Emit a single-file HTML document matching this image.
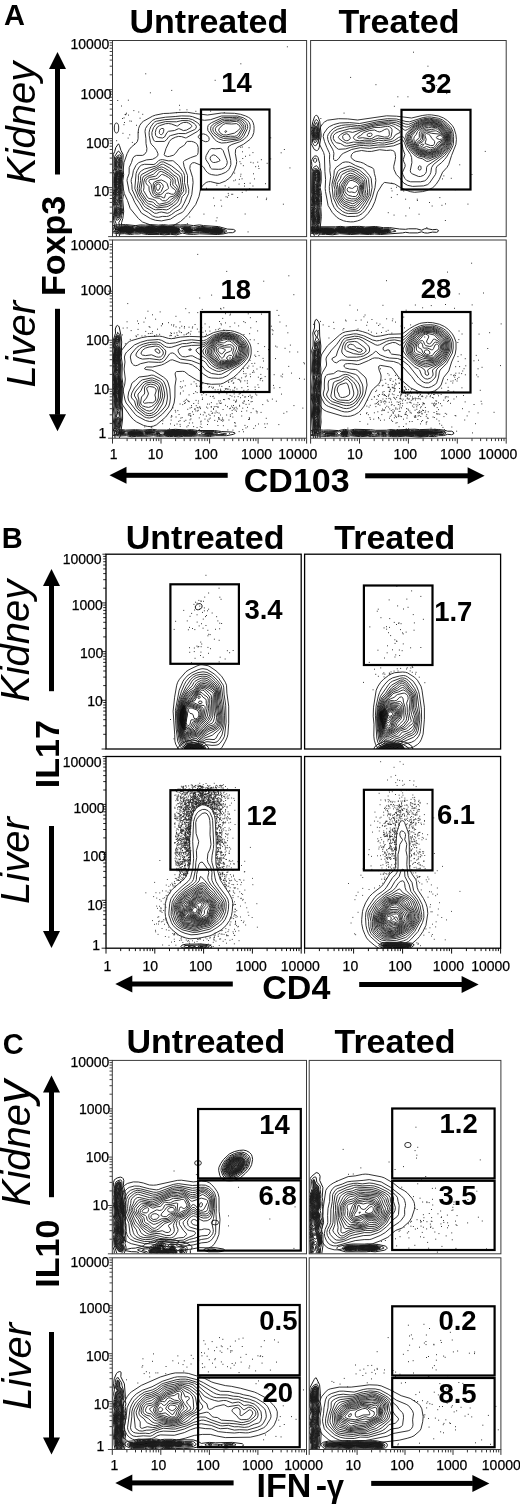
<!DOCTYPE html><html><head><meta charset="utf-8"><title>Figure</title><style>html,body{margin:0;padding:0;background:#fff}svg{display:block}text{font-family:'Liberation Sans', Arial, Helvetica, sans-serif;fill:#000}</style></head><body>
<svg width="520" height="1505" viewBox="0 0 520 1505">
<rect width="520" height="1505" fill="#fff"/>
<defs>
<clipPath id="cA00"><rect x="112.5" y="40.5" width="194.1" height="196.1"/></clipPath>
<clipPath id="cA01"><rect x="310.6" y="40.5" width="195.6" height="196.1"/></clipPath>
<clipPath id="cA10"><rect x="112.5" y="240" width="194.1" height="198.2"/></clipPath>
<clipPath id="cA11"><rect x="310.6" y="240" width="195.6" height="198.2"/></clipPath>
<clipPath id="cB00"><rect x="106" y="554.2" width="195.2" height="194.8"/></clipPath>
<clipPath id="cB01"><rect x="304.6" y="554.2" width="196" height="194.8"/></clipPath>
<clipPath id="cB10"><rect x="106" y="756.5" width="195.2" height="191.7"/></clipPath>
<clipPath id="cB11"><rect x="304.6" y="756.5" width="196" height="191.7"/></clipPath>
<clipPath id="cC00"><rect x="112.3" y="1060.4" width="194.2" height="193.4"/></clipPath>
<clipPath id="cC01"><rect x="309.2" y="1060.4" width="191.7" height="193.4"/></clipPath>
<clipPath id="cC10"><rect x="112.3" y="1257.8" width="194.2" height="191.7"/></clipPath>
<clipPath id="cC11"><rect x="309.2" y="1257.8" width="191.7" height="191.7"/></clipPath>
</defs>
<text x="3.9" y="24.6" font-size="29" font-weight="bold" font-style="normal" text-anchor="start">A</text>
<text x="129.5" y="32.8" font-size="34" font-weight="bold" font-style="normal" text-anchor="start">Untreated</text>
<text x="338.5" y="32.8" font-size="34" font-weight="bold" font-style="normal" text-anchor="start">Treated</text>
<text transform="translate(35.3 184) rotate(-90)" font-size="40" font-weight="normal" font-style="italic" text-anchor="start">Kidney</text>
<text transform="translate(35.3 387.6) rotate(-90)" font-size="40" font-weight="normal" font-style="italic" text-anchor="start">Liver</text>
<text transform="translate(65.4 296) rotate(-90)" font-size="34" font-weight="bold" font-style="normal" text-anchor="start">Foxp3</text>
<path d="M57.5 52L49 69L66 69Z" fill="#000"/>
<rect x="55" y="68.5" width="5" height="106" fill="#000"/>
<path d="M57.5 431.3L49 414.3L66 414.3Z" fill="#000"/>
<rect x="55" y="308.8" width="5" height="106" fill="#000"/>
<text x="243.8" y="492.3" font-size="34" font-weight="bold" font-style="normal" text-anchor="start">CD103</text>
<path d="M109.5 475.3L126.5 466.8L126.5 483.8Z" fill="#000"/>
<rect x="126" y="472.8" width="101.7" height="5" fill="#000"/>
<path d="M484.6 475.8L467.6 467.3L467.6 484.3Z" fill="#000"/>
<rect x="365.2" y="473.3" width="102.9" height="5" fill="#000"/>
<text x="109.4" y="49" font-size="14" font-weight="normal" font-style="normal" text-anchor="end" stroke="#000" stroke-width="0.25">10000</text>
<text x="111.6" y="98.5" font-size="14" font-weight="normal" font-style="normal" text-anchor="end" stroke="#000" stroke-width="0.25">1000</text>
<text x="109.4" y="147.5" font-size="14" font-weight="normal" font-style="normal" text-anchor="end" stroke="#000" stroke-width="0.25">100</text>
<text x="109.4" y="196" font-size="14" font-weight="normal" font-style="normal" text-anchor="end" stroke="#000" stroke-width="0.25">10</text>
<text x="109.4" y="249.5" font-size="14" font-weight="normal" font-style="normal" text-anchor="end" stroke="#000" stroke-width="0.25">10000</text>
<text x="111.6" y="295" font-size="14" font-weight="normal" font-style="normal" text-anchor="end" stroke="#000" stroke-width="0.25">1000</text>
<text x="109.4" y="345" font-size="14" font-weight="normal" font-style="normal" text-anchor="end" stroke="#000" stroke-width="0.25">100</text>
<text x="109.4" y="394" font-size="14" font-weight="normal" font-style="normal" text-anchor="end" stroke="#000" stroke-width="0.25">10</text>
<text x="106.4" y="438" font-size="14" font-weight="normal" font-style="normal" text-anchor="end" stroke="#000" stroke-width="0.25">1</text>
<text x="113.6" y="458.5" font-size="14" font-weight="normal" font-style="normal" text-anchor="middle" stroke="#000" stroke-width="0.25">1</text>
<text x="155.6" y="458.5" font-size="14" font-weight="normal" font-style="normal" text-anchor="middle" stroke="#000" stroke-width="0.25">10</text>
<text x="206" y="458.5" font-size="14" font-weight="normal" font-style="normal" text-anchor="middle" stroke="#000" stroke-width="0.25">100</text>
<text x="256.5" y="458.5" font-size="14" font-weight="normal" font-style="normal" text-anchor="middle" stroke="#000" stroke-width="0.25">1000</text>
<text x="297.8" y="458.5" font-size="14" font-weight="normal" font-style="normal" text-anchor="middle" stroke="#000" stroke-width="0.25">10000</text>
<text x="354.9" y="458.5" font-size="14" font-weight="normal" font-style="normal" text-anchor="middle" stroke="#000" stroke-width="0.25">10</text>
<text x="405.3" y="458.5" font-size="14" font-weight="normal" font-style="normal" text-anchor="middle" stroke="#000" stroke-width="0.25">100</text>
<text x="455.5" y="458.5" font-size="14" font-weight="normal" font-style="normal" text-anchor="middle" stroke="#000" stroke-width="0.25">1000</text>
<text x="497.8" y="458.5" font-size="14" font-weight="normal" font-style="normal" text-anchor="middle" stroke="#000" stroke-width="0.25">10000</text>
<path d="M112.5 236.6h-4.4M112.5 221.8h-2.8M112.5 213.2h-2.8M112.5 207.1h-2.8M112.5 202.4h-2.8M112.5 198.5h-2.8M112.5 195.2h-2.8M112.5 192.3h-2.8M112.5 189.8h-2.8M112.5 187.6h-4.4M112.5 172.8h-2.8M112.5 164.2h-2.8M112.5 158.1h-2.8M112.5 153.4h-2.8M112.5 149.5h-2.8M112.5 146.2h-2.8M112.5 143.3h-2.8M112.5 140.8h-2.8M112.5 138.6h-4.4M112.5 123.8h-2.8M112.5 115.2h-2.8M112.5 109.1h-2.8M112.5 104.4h-2.8M112.5 100.5h-2.8M112.5 97.2h-2.8M112.5 94.3h-2.8M112.5 91.8h-2.8M112.5 89.6h-4.4M112.5 74.8h-2.8M112.5 66.2h-2.8M112.5 60.1h-2.8M112.5 55.4h-2.8M112.5 51.5h-2.8M112.5 48.2h-2.8M112.5 45.3h-2.8M112.5 42.8h-2.8M112.5 40.5h-3.6" stroke="#333" stroke-width="0.9" fill="none"/>
<path d="M112.5 438.2h-4.4M112.5 423.4h-2.8M112.5 414.8h-2.8M112.5 408.7h-2.8M112.5 404h-2.8M112.5 400.1h-2.8M112.5 396.8h-2.8M112.5 393.9h-2.8M112.5 391.4h-2.8M112.5 389.2h-4.4M112.5 374.4h-2.8M112.5 365.8h-2.8M112.5 359.7h-2.8M112.5 355h-2.8M112.5 351.1h-2.8M112.5 347.8h-2.8M112.5 344.9h-2.8M112.5 342.4h-2.8M112.5 340.2h-4.4M112.5 325.4h-2.8M112.5 316.8h-2.8M112.5 310.7h-2.8M112.5 306h-2.8M112.5 302.1h-2.8M112.5 298.8h-2.8M112.5 295.9h-2.8M112.5 293.4h-2.8M112.5 291.2h-4.4M112.5 276.4h-2.8M112.5 267.8h-2.8M112.5 261.7h-2.8M112.5 257h-2.8M112.5 253.1h-2.8M112.5 249.8h-2.8M112.5 246.9h-2.8M112.5 244.4h-2.8M112.5 240h-3.6" stroke="#333" stroke-width="0.9" fill="none"/>
<path d="M112.5 438.2v5.4M127.1 438.2v2.9M135.7 438.2v2.9M141.7 438.2v2.9M146.4 438.2v2.9M150.3 438.2v2.9M153.5 438.2v2.9M156.3 438.2v2.9M158.8 438.2v2.9M161 438.2v5.4M175.6 438.2v2.9M184.2 438.2v2.9M190.2 438.2v2.9M194.9 438.2v2.9M198.8 438.2v2.9M202 438.2v2.9M204.8 438.2v2.9M207.3 438.2v2.9M209.6 438.2v5.4M224.2 438.2v2.9M232.7 438.2v2.9M238.8 438.2v2.9M243.5 438.2v2.9M247.3 438.2v2.9M250.6 438.2v2.9M253.4 438.2v2.9M255.9 438.2v2.9M258.1 438.2v5.4M272.7 438.2v2.9M281.2 438.2v2.9M287.3 438.2v2.9M292 438.2v2.9M295.8 438.2v2.9M299.1 438.2v2.9M301.9 438.2v2.9M304.4 438.2v2.9M306.6 438.2v5.4" stroke="#333" stroke-width="1.0" fill="none"/>
<path d="M310.6 438.2v5.4M325.3 438.2v2.9M333.9 438.2v2.9M340 438.2v2.9M344.8 438.2v2.9M348.7 438.2v2.9M351.9 438.2v2.9M354.8 438.2v2.9M357.3 438.2v2.9M359.5 438.2v5.4M374.2 438.2v2.9M382.8 438.2v2.9M388.9 438.2v2.9M393.7 438.2v2.9M397.6 438.2v2.9M400.8 438.2v2.9M403.7 438.2v2.9M406.2 438.2v2.9M408.4 438.2v5.4M423.1 438.2v2.9M431.7 438.2v2.9M437.8 438.2v2.9M442.6 438.2v2.9M446.5 438.2v2.9M449.7 438.2v2.9M452.6 438.2v2.9M455.1 438.2v2.9M457.3 438.2v5.4M472 438.2v2.9M480.6 438.2v2.9M486.7 438.2v2.9M491.5 438.2v2.9M495.4 438.2v2.9M498.6 438.2v2.9M501.5 438.2v2.9M504 438.2v2.9M506.2 438.2v5.4" stroke="#333" stroke-width="1.0" fill="none"/>
<g clip-path="url(#cA00)">
<path d="M177.9 112.5l9.6 -0.2 8 1.3 12 1.4 14 -2 13 0.3 6 1 5 1.6 3 1.5 2 1.3 1.5 1.8 1.1 2 0.8 3 0.2 3 -0.3 4 -1.4 4 -2.5 3 -6.4 4.8 -6.3 3.2 -1.6 2 -0.3 4 1.4 8 -0.3 3 -2 6 -2.8 5 -2.1 2.6 -4 2.9 -6 2.4 -2 0 -7 -1.8 -2 0.1 -2.4 0.8 -3.6 3.2 -1.8 2.8 -1.7 8 -3.3 8 -7.7 10 -2.5 2.6 -5 4.4 -8 4.6 -3 0.7 -7 0.6 -3 -0.2 -7 -1.6 -10 -3.6 -4 -3.4 -8.3 -10.1 -2.7 -8 -3.2 -7 -2.4 -12 -0.2 -3 1.2 -6 1.1 -10 3.2 -9 2.1 -4 2.2 -2.6 4.2 -3.4 1.7 -2 0.7 -3 0 -6 0.5 -4 1.1 -3 2.2 -3 1.6 -1.3 9 -5 3 -1.1 8 -1.6 6 -0.2zM175.2 116.5l6.3 -0.6 8 0.2 3 0.6 8 3 4 0.6 6 -0.6 11 -3.7 16 0 6 1.9 4.1 2.6 1.6 2 0.8 2 0.2 2 -0.3 3 -1.7 5 -1.4 2 -2.9 3 -4.4 2.4 -7.7 2.6 -3.3 2 -0.4 2 2.6 12 0.2 4 -1 3 -1.1 2 -1.3 1.5 -2 1.4 -4 1.7 -4 1.1 -2 0 -4 -0.6 -2 -0.7 -2.1 -1.4 -1.8 -2 -2.1 -3.4 -2 -1.6 -7 -2.9 -2 0.3 -1 0.6 -1.3 2 -0.4 3 2.8 9 0.5 5 -1.3 12 -2.7 8 -1.2 2 -3.8 6 -1.6 1.8 -5 2.3 -7 4.5 -9 1.8 -6 -0.6 -5 -1.7 -9 -5.5 -6.7 -10.6 -2.6 -6 -3 -5 -2.2 -11 0.3 -2 1.8 -5 0.1 -6 2.3 -5 1.2 -4 1.4 -2 2.4 -1.1 6 0 2 -1 2.1 -2.9 0.3 -3 -0.9 -5 -0.1 -5 -0.9 -7 0.5 -3 1.9 -3 4.9 -5 3.2 -1.7 10 -1.6zM200.5 134.3l-1.7 1.2 -0.5 1 0.1 1 1.1 1.2 4 2.3 2 0.7 2 -0.2 1.4 -1 0.3 -1 -0.3 -2 -1.6 -2 -1.8 -1 -2 -0.6zM232.4 117.5l4.1 -0.2 4 1 3.8 2.2 2.6 3 0.8 3 -0.2 2 -3.9 8 -1.8 2 -2.3 1.4 -13 2.8 -5 0.3 -3 -0.9 -2 -1.1 -2 -1.7 -6.6 -8.8 -0.3 -3 0.6 -2 1.3 -1.5 2 -1.3 10 -4.7 2 -0.4zM180.3 118.5l8.2 0.1 4 1 4.7 2.9 2.2 2 1.1 2 -0.1 2 -3.1 3 -10.8 6.2 -1 0.2 -4 -1.3 -3 -0.2 -3 0.8 -4 1.9 -2.1 2.4 -3.4 7 -1.8 6 0.4 1 2.9 1.1 2 -0.2 4 -1.2 1.9 -1.7 3.7 -5 4.6 -3 1.2 -1 1.6 -2.6 1 -0.5 4 0 2 0.5 2 1 1.8 1.6 0.9 3 -0.1 5 -0.5 2 -1.1 1.1 -6 2.1 -5.9 2.8 -1 1 -0.2 1 0.7 4 3.4 9 0 8 1.3 6 -0.2 4 -4.6 10 -2.2 4 -1.3 1.5 -5 2.5 -4 3 -3 1.6 -2 0.4 -4 -0.1 -4 0.9 -3 -0.2 -3 -1.3 -4 -3.2 -5 -2.9 -4 -6.6 -3.3 -4.6 -4.1 -9 -0.3 -5 -0.6 -3 0.1 -2 1.2 -3.6 0.9 -5.4 2.5 -5 2.6 -2.8 8 -2.8 6 -0.6 3.3 -1.8 2.2 -2 -0.1 -2 -1.3 -3 -2.1 -3 -3 -3.1 -1 -1.8 -1.3 -7.1 -0.1 -3 0.6 -3 1.3 -3 2.5 -3.5 1 -0.9 2 -0.9 8 -1.5zM211.5 148.5l4 0.3 5 -0.4 1.8 1.1 0.8 1 3.8 10 0.4 2 -0.8 3 -2 2.2 -3 1.4 -3 0.2 -6 -0.2 -1 -0.3 -1 -0.9 -1.4 -3.4 -3.2 -5 -0.2 -2 0.5 -2 2.8 -5 1.5 -1.6zM222.1 119.5l2.4 -0.5 5 0.2 7 -0.6 3.2 0.9 3 2 2.4 3 0.6 3 -0.6 2 -3.2 6 -1.4 1.9 -2 1.2 -2 0.6 -13 1.3 -5 -1.8 -5 -4.1 -1.8 -2.1 -0.9 -2 -0.2 -2 0.5 -2 1.4 -1.7 1.9 -1.3zM182.1 120.5l6.4 0.2 2.3 0.8 3.3 2 1.4 1.3 0.9 1.7 -0.5 2 -1.1 1 -9.3 4.1 -7 -0.1 -8 2.1 -1.5 0.9 -2.5 3.3 -2 1.6 -9 0.1 -1 -0.4 -1 -1.2 -1.5 -4.4 -0.1 -3 1.6 -4.8 2.4 -3.2 1.6 -0.9 8 -2 11 0.2zM211.8 155.5l1.7 -0.6 2 0.6 3.3 3 1.3 2 -1.6 1 -3 0.9 -2 0.1 -1 -0.4 -1.8 -1.6 -0.6 -2 0.4 -1.5zM158.7 160.5l1.8 -0.7 2 -0.2 6 1.3 4 -0.2 1 0.4 5.1 4.4 4.9 6.9 1.1 3.1 -0.1 7 1.6 7 -0.2 3 -0.5 1 -3 3 -0.8 2 -0.8 4 -2.1 3 -5.2 3.6 -3.9 3.4 -2.1 0.8 -6 -1.3 -2 0.3 -3 1 -2 -0.1 -5 -3.6 -4 -2.2 -1.8 -1.9 -2.4 -4 -3 -4 -3.5 -9 1.3 -15 1.1 -3 2.3 -3.9 2 -1.5 3 -0.8 9.3 0.2 1.7 -0.8zM224.6 120.5l4.9 0.1 7 -0.7 3 1.1 2.8 2.5 1.6 3 -0.2 2 -4.8 8 -1.4 0.9 -2 0.4 -12 0.6 -4 -1.5 -5.5 -4.4 -0.6 -1 -0.6 -2 0.4 -2 0.6 -1 2.7 -2.3 6 -3.2zM183.3 122.5l3.2 -0.1 2 0.6 2.3 1.5 0.8 1 0.1 1 -0.7 1 -4.5 2.6 -3 0.5 -4 -1.8 -1 -0.1 -4 1.8 -6 0.8 -1.5 1.2 -2.5 4.5 -2 1 -4.1 -0.5 -1.9 -1 -0.8 -1 -0.4 -3 0.7 -3 1.5 -2.6 2 -1.2 6 -2 3 -0.2 3 0.5 5 1.9 1 0.1 3.3 -2.5zM160.1 162.5l1.4 -0.6 2 0 8 3.9 9 7.1 1.1 1.6 0.6 2 0.3 6 1.2 7 -0.2 2 -3 4 -2.6 6 -1.5 2 -7.9 5.7 -2 0.7 -4 -0.5 -7 0.4 -2 -0.6 -7 -4 -1.7 -1.7 -4.8 -7 -1.8 -4 -1 -4 1.2 -8 0 -5 1.2 -3 1.9 -1.7 3 -1.8 11 -2.8 1.3 -0.7zM234 121.5l2.5 -0.1 2 0.8 2.5 2.3 1.1 2 0.1 1 -0.8 2 -3.3 5 -1.6 1.3 -2 0.5 -4 -0.1 -5 0.5 -3 -0.3 -3.5 -1.9 -2.3 -2 -1.2 -1.7 -0.1 -2.3 1.1 -1.9 6 -3.8 2 -0.8 6 0zM161.4 128.5l1.9 0 0.5 1 -0.2 2 -0.7 2 -1.4 1.1 -1 -0.1 -1 -1 -0.2 -1 0.2 -2 1 -1.5zM161.1 164.5l1.4 -0.3 1 0.2 6 3.5 5.4 4.6 4.3 3 0.9 2 1.7 12 -0.9 3 -4.4 7.3 -3.5 3.7 -4.5 2.6 -2 0.7 -9 1.1 -2 -0.6 -4 -2.7 -3 -0.8 -2 -1.3 -5.8 -8 -1.1 -3 -0.5 -3 1.5 -8 0 -4 0.9 -1.9 7.6 -4.1 7.4 -3zM223.2 124.5l2.3 -0.9 6 0.4 5 -0.4 3 1.9 0.8 2 -0.4 1 -1.4 1.7 -4 2.9 -8 1.9 -3 -0.1 -2.8 -1.4 -2 -3 0.4 -2zM159.5 167.5l2 -0.6 2 0.6 5.2 3 4.4 4 4.2 3 2.9 12 -0.8 3 -2.9 4.6 -5.4 5.4 -3.6 1.9 -9 1.8 -2.1 -0.7 -2.9 -3 -1 -0.5 -4 -0.7 -2 -1.4 -4.9 -7.4 -0.7 -3 1.7 -11 0.7 -2zM224.8 131.5l0.7 -0.6 1 0.1 0.2 0.5 -1.2 1zM159.2 169.5l2.3 -0.4 2 0.9 5 3.1 5.5 4.4 1.2 2 0.1 4 2.6 4 0.8 3 -1 3 -2.2 2.9 -4.4 3.1 -2.1 2 -2.5 1.2 -7 1.5 -1.7 -0.7 -2.3 -3 -3 -1.2 -3.5 -0.8 -1.4 -1 -4.1 -7 0.5 -3 -0.3 -5 1.1 -4 2.5 -2 6.2 -2.3 3.9 -3.7zM160.1 171.5l1.4 -0.1 3 1.4 4 2.5 3.9 3.2 0.7 2 -0.4 4 0.8 1.4 3 2.7 0.8 1.9 -0.4 2 -1.4 2.2 -2 1.4 -4 1 -2 2.5 -2 1.2 -3 -0.1 -3 -2.4 -5 -0.7 -2.1 -1.1 -1.4 -2 -1.8 -4 -0.3 -4 -2.4 -2.5 -0.7 -1.5 0.2 -2 1.4 -2 2.1 -1.1 6 -1.2 1.2 -0.7 2 -3zM161.5 174.5l1 -0.1 3 1.3 3 1.8 2 1.7 0.5 1.3 -0.6 3 0.1 2 1.4 2 2.8 2 0.8 1 0.2 1 -1 2 -1.2 0.7 -2 0 -3 -1.1 -2 0.2 -1 1.2 -1 3.3 -1 0 -3 -1.4 -4 -0.2 -2.1 -0.7 -1 -1 -1.1 -3 -1.2 -7 -2.3 -3 0.1 -1 1.2 -1 5.4 -0.6 2 -0.7zM157.9 180.5l3.6 -0.5 4 1.9 1.5 1.6 1.4 4 0 1 -0.9 0.9 -3 1.6 -2 2.6 -2 1 -3 0.2 -2 -0.6 -1.2 -1.7 -0.8 -3 -0.4 -4 0.4 -2.4 1 -1.2zM157.1 182.5l1.4 -0.3 2 0.3 2.2 2 0.7 2 -2.2 5 -0.9 1 -1.8 0.7 -1 0 -1.3 -0.7 -0.7 -1.1 -1 -3.9 0.2 -3 0.8 -1.1zM156.6 184.5l1.9 -0.6 1.2 0.6 0.6 1 -0.2 2 -1.6 2.9 -1 0 -1.2 -1.9 -0.5 -2z" fill="none" stroke="#1c1c1c" stroke-width="0.9"/>
<path d="M117.8 156.5l1.7 -0.3 0.3 0.3 0.8 7 -1.2 6 1.8 3 0.7 2 -1.3 10 0.3 3 -0.4 3 0 4 -0.7 5 0.9 5 -0.1 3 1.2 4 -1.9 4 -0.5 2 -0.9 1.1 -1 0.3 -1 -1.4 -1 -4 -0.3 -3 0.6 -4 -1.4 -3 -0.5 -3 1.2 -4 -0.7 -5 1 -3 -0.7 -5 0.2 -7 1.6 -6 -1.2 -4 -0.2 -5 0.6 -3 0.8 -1.3z" fill="#000" fill-opacity="0.5" stroke="none"/>
<path d="M112.5 190.9l0.7 -3.4 -0.5 -4 0.2 -8 0.7 -4 -0.6 -3 -0.2 -7 0.5 -7 1.4 -3 1.1 -4 2.7 -3.7 1 1.8 1.5 4.9 2.1 4 0.1 1 -0.4 5 0.3 10 0.6 4 -0.9 6 0.3 6 -0.4 5 0.5 4 -0.5 4 1 12 -0.9 7 -1.2 4 -0.2 3 -1 4 -0.1 3 -1.2 4M116.5 236.5l-0.6 -6 -1.2 -3 -1.1 -7 -0.1 -5 -1 -10.4M117.8 151.5l0.7 -0.5 3 3.3 0.4 1.2 -0.4 4 0.4 4 -0.6 6 1.4 5 -0.9 6 0.2 7 -0.4 4 0.3 3 -0.6 5 0.7 5 0 3 0.8 4 -1.3 4 -0.4 3 -2.3 4 0.6 3 -0.3 1 -0.6 0.9 -1 0.4 -1.2 -1.3 -0.2 -3 -1.2 -3 -0.7 -13 -1.2 -5 -0.2 -2 1 -4 -0.4 -5 1 -4 -0.6 -4 0.2 -7 1.1 -5 -0.9 -4 -0.1 -7 0.6 -4zM117.9 155.5l1.6 -0.7 1 0.4 0.3 1.3 -0.3 3 0.6 4 -1 6 2 5 -0.8 5 -0.3 15 -0.7 5 0.9 5 -0.1 3 1 4 -1.7 4 -0.7 3 -2.2 1.6 -1 0.1 -1.6 -7.7 0.2 -6 -1.4 -4 -0.1 -2 1.1 -5 -0.7 -3 1 -4 -0.6 -5 0.2 -7 1.4 -5 -1 -4 -0.2 -7 0.8 -3zM117 157.5l1.5 -0.5 0.7 0.5 1.1 6 -1.5 6 2.2 3 0.7 2 -1.4 10 0.4 3 -0.5 7 -0.8 5 1 5 -0.2 3 1.4 4 -2.9 6 -1.2 0.3 -1.5 -3.3 -0.6 -3 0.1 -2.1 1 -2.9 -0.3 -1 -1.5 -2 -0.5 -2 0.1 -2 1.1 -3 -0.7 -5 1 -3 -0.9 -5 0.3 -7 1.8 -6 -1.4 -4 -0.1 -5 0.7 -3zM117.5 158.5l1 0.8 1.1 4.2 -0.7 3 -1.4 1.5 -1 -0.7 -0.5 -2.8 0.5 -5zM117.4 171.5l1.1 -0.6 1 0.6 1 1.1 0.8 1.9 -1.5 10 0.3 3 -0.4 6 -1.1 5 0.9 5 -0.2 1 -0.8 0.5 -2 -0.7 -1 -0.8 -0.7 -2 0.3 -2 1 -3 -1 -4 1.1 -4 -1 -5 0.3 -7zM116.5 208.5l1 -0.8 1 -0.1 1 0.6 1.4 2.3 -0.1 2 -2.3 2.8 -1 0 -1.2 -1.8 -0.4 -3zM117.4 161.5l1.1 0.9 0.2 1.1 -0.2 2 -1 1.1 -0.8 -1.1 -0.1 -1zM117.4 172.5l1.1 -0.8 1 0.3 1 1.2 0.4 1.3 -0.9 7 -0.8 3 0.3 3 -0.4 3 0 3 -0.6 1.6 -1 1.1 -1 -1.2 -0.9 -2.5 1.2 -4 -1.1 -5 0.1 -6 0.4 -2zM116.2 199.5l0.3 -0.5 1 0.9 0.7 2.6 -0.7 0.9 -1 -0.3 -1 -1.6zM116.8 209.5l0.7 -0.7 1 0 1 0.6 0.8 1.1 0.3 1 -0.4 1 -1.7 1.6 -1 -0.1 -1 -1.5 -0.1 -2zM118.2 172.5l0.3 -0.2 1 0.3 1.1 1.9 -0.9 7 -1.1 3 -0.1 4.4 -1 -0.5 -1.4 -4.9 -0.2 -2 0.7 -6 0.9 -2.3zM117.5 189.5l0 -0.6 0.7 1.6 0.4 2 -0.1 1 -1 1 -1 -0.9 -0.3 -1.1 0.3 -1.5zM117.1 210.5l0.4 -0.7 1 -0.1 1 0.6 0.4 1.2 -0.4 1 -1 0.6 -1 -0.2 -0.5 -1.4zM117.8 173.5l0.7 -0.7 1 0.3 0.7 1.4 -0.9 7 -1.8 3.5 -1 -1.5 -0.3 -3 0.8 -5zM117.2 192.5l0.3 -0.6 0 1zM118 211.5l0.5 -0.6 0.4 0.6 -0.4 0.4zM118.3 173.5l1.2 0.1 0.3 1.9 -0.7 2 -0.2 4 -1.4 1.8 -0.6 -0.8 -0.4 -2 0.9 -5zM118.2 174.5l0.3 -0.5 1 0.5 -1 2.8 -0.5 -1.8zM117.5 178.5l1 -0.5 0.2 2.5 -0.2 1 -1 0.8 -0.5 -1.8z" fill="none" stroke="#1c1c1c" stroke-width="1.0"/>
<path d="M125.6 226.5l4.9 0.6 4 1.5 6 -1.5 4 0.4 5 -1 6 1 3 -0.2 4 -1 5 0.7 6 -0.1 3 0.4 3.5 1.2 0.3 1 -1.8 2.6 -2 1 -6 -0.7 -5 0.5 -8 -0.6 -9 0.8 -6 -1.3 -5 0.1 -3 -0.5 -5 1.5 -4 -0.9 -5 0 -6.1 -2.5 0.3 -1 0.8 -0.4 2 0.2 3 -1.1zM182.1 227.5l2.4 -0.4 4 0.1 5 2.2 4 -1.4 3 -0.5 11 1.3 6 -0.8 4.2 1.5 1.7 1 0.3 1 -2.3 1 -3.9 0.7 -8 -1 -5 0 -5 -1.1 -6 0.1 -3 1 -3 0.2 -2 -0.7 -2 -1.7 -2.9 -1.5z" fill="#000" fill-opacity="0.9" stroke="none"/>
<path d="M112.5 225.8l4 -0.9 9 -0.3 10 1 5 -0.7 5 0.2 5 -0.5 8 0.5 5 -0.4 5 0.5 7 -0.5 5 0.3 6 -0.3 7 0.9 6 -0.7 4 0.7 15 1 9 2.5 6 0.3 1.8 1.1 -0.2 1 -2.6 1.2 -4 0 -5 1.2 -6 0.6 -18 -0.7 -6 0.6 -6 -0.2 -5 -1.2 -6 1.9 -6 -0.6 -6 0.5 -5 -0.4 -12 0.1 -6 -0.9 -3 0.4 -4 -0.1 -4 0.6 -6 -0.8 -5 0.2 -7 -1.2M112.5 227.5l3 -1.1 11 -0.8 9 1.4 5 -1 5 0.3 5 -0.7 7 0.7 5 -0.7 5 0.6 8 -0.3 4 0.4 7 -0.5 7 1.5 7 -1 11 1.2 6 -0.3 8 2.8 0.8 0.5 0.1 1 -2.9 1.5 -6 0.9 -18 -1.3 -12 0.7 -5 -1.8 -1 0 -4 2.3 -2 0.2 -5 -0.7 -5 0.6 -6 -0.5 -11 0.4 -7 -1.2 -4 0.4 -3 -0.3 -5 0.9 -5 -0.8 -5 0 -7 -1.7M123.8 226.5l3.7 -0.3 7 1.8 6 -1.3 4 0.4 6 -0.9 7 0.9 5 -1.1 5 0.7 8 0 4 0.8 4 -0.8 4 0 6 1.9 4 -1.1 3 -0.4 11 1.3 6 -0.7 2 0.5 4.8 2.3 0.2 1 -1.9 1 -5.1 0.9 -8 -0.9 -5 0 -5 -0.9 -11 1.2 -2 -0.3 -3 -1.8 -2 -0.5 -1 0.4 -2 1.9 -2 0.9 -6 -0.7 -5 0.5 -8 -0.5 -9 0.6 -6 -1.2 -5 0.1 -3 -0.3 -5 1.2 -4 -0.9 -6 -0.1 -5 -1.5 -1.4 -1.1 0.4 -1 2 -1.1 3 0zM120.3 227.5l7.2 -0.8 3 0.6 4 1.9 6 -1.9 4 0.5 6 -1.1 6 1.2 6 -1.4 5 0.7 5 -0.1 3 0.3 2.9 1.1 0.9 1 -0.1 1 -0.7 1.2 -1 0.9 -2 0.4 -5 -0.9 -5 0.6 -8 -0.7 -9 0.9 -6 -1.3 -5 0.1 -3 -0.9 -3 1.5 -2 0.4 -4 -0.9 -4 0.1 -2 -0.5 -1.5 -0.9 -0.5 -0.8 -1 -0.2 1 -0.2zM184.3 227.5l3.2 -0.1 2 0.3 1.6 0.8 1.9 2 -1.2 1 -2.3 0.7 -3 -0.2 -4 -3.5zM197.1 228.5l4.4 -0.6 10 1.1 6 -0.9 3.8 1.4 1.6 1 0.2 1 -2.4 1 -3.2 0.5 -8 -1 -5 0 -4 -1.2 -4 0.1 -1.6 -0.4 0.3 -1zM123.5 227.5l3 -0.5 4 0.7 2.5 1.8 0 1 -1.5 1.3 -2 0.5 -4 -1 -5 0 -1.2 -0.8 -0.3 -1 0.7 -1 1.8 -0.8zM147.5 227.5l3 -0.4 6 2 6 -2.3 5 0.8 6 0 3.3 0.9 1.3 1 0.3 1 -0.9 1.5 -2 0.6 -5 -1 -5 0.7 -9 -1.4 -3 1.1 -5 0.5 -5 -1.4 -5 0.1 -1.9 -0.7 0 -1 2.9 -1.5 5 0.4zM186.2 228.5l1.3 -0.4 2 0.3 1.6 1.1 0.2 1 -1.8 1.2 -2.8 -0.2 -1 -1 -0.1 -1zM200.9 229.5l1.6 -0.7 9 1 6 -1.3 3.1 1 1.3 1 0 1 -2.4 1 -2 0.2 -8 -1.3 -4 0.2 -2 -0.5zM126.1 227.5l4.4 0.7 1.6 1.3 0 1 -1 1 -1.6 0.4 -4 -1 -4 0.1 -1 -0.3 -0.7 -1.2 0.8 -1zM161.2 227.5l2.3 -0.3 4 0.8 6 0.2 3 0.9 1.1 1.4 -0.3 1 -1.8 0.6 -5 -1.1 -4 0.8 -2 -0.2 -5 -1.3 -0.5 -0.8 0.7 -1zM140 228.5l3.3 1 -2 1 -3.3 0 -0.3 -1zM146 228.5l2.5 -0.9 3 0.1 2.9 1.8 0.3 1 -1.2 1 -1 0.3 -3 0.4 -2 -0.2 -3.6 -1.5 -0.2 -1zM186.9 229.5l1.6 -0.7 1 0.3 0.5 0.4 0.3 1 -1.8 0.8 -1 -0.2 -0.8 -0.6zM214.7 229.5l1.8 -0.6 2 0 2.7 1.6 -0.2 1 -2.5 0.9 -2 -0.2 -4.2 -1.7zM204.2 230.5l0.3 -0.4 2 -0.3 1.9 0.7 -1.9 0.4zM162.4 227.5l5.1 1 4 0 3 0.5 1.4 0.5 0.9 1 -0.5 1 -0.8 0.2 -5 -1.3 -4 0.9 -2 -0.1 -2.5 -0.7 -1.6 -1 0.2 -1zM122.1 228.5l4.4 -0.6 3 0.3 1.9 1.3 0 1 -0.9 0.8 -1 0.3 -5 -1.3 -3 0.3 -1 -1.1zM147.1 228.5l2.4 -0.6 2 0.2 1.9 1.4 0.2 1 -2.1 1.1 -2 0.3 -2 -0.2 -2 -1.2 0.1 -1zM139.1 229.5l1.6 0 -1.2 0.3zM215.9 229.5l2.6 -0.3 2.1 1.3 -0.3 1 -2.8 0.6 -1.8 -0.6 -0.9 -1zM126 228.5l3.5 0.1 1.2 0.9 0.1 1 -1.3 0.7 -5 -1.7 -2 0.3 -1 -0.2 1 -0.4 2 0.3zM148.1 228.5l1.4 -0.3 1.9 0.3 1.3 1 0.1 1 -2.2 1 -2.4 0 -1.7 -1 0.1 -1zM161.4 228.5l2.1 -0.7 4.9 1.7 -1.9 1.3 -2 -0.1 -3 -1.2zM217.2 229.5l1.3 0 1.5 1 -0.5 1 -1 0.3 -1.9 -0.3 -0.8 -1zM174.1 230.5l0.4 -0.3 1.1 0.3zM162.2 228.5l2.3 -0.1 2.1 1.1 -1.1 0.7 -1 0 -2.1 -0.7zM126.6 229.5l0.9 -0.5 2 0.2 0.5 0.3 -0.1 1 -1.4 0.1zM147.4 229.5l1.1 -0.7 2 -0.2 1.6 0.9 0 1 -1.6 0.7 -2 0 -1.2 -0.7zM216.6 230.5l0.9 -0.5 2 0.5 -1 0.9 -1 0zM148.2 229.5l2.3 -0.4 0.9 0.4 -0.1 1 -1.8 0.4 -1 -0.2 -0.3 -0.2zM164.2 229.5l0.5 0zM218 230.5l0.6 0z" fill="none" stroke="#1c1c1c" stroke-width="1.0"/>
<path d="M149.9 92.8h.9M179 105.3h.9M122.1 118.5h.9M125.2 114.7h.9M126.1 113.2h.9M137.9 132.5h.9M128 115.1h.9M131.9 142.4h.9M122.5 133.3h.9M117.3 100.5h.9M134 144h.9M123.5 124.7h.9M125.5 114.2h.9M123.6 117.9h.9M127.7 138.1h.9M139.6 118.2h.9M124.7 114.5h.9M124 122.5h.9M129.3 134.8h.9M179.4 109.9h.9M176.2 112.7h.9M138.3 112h.9M129.4 121h.9M116.2 140.7h.9M136.1 125.3h.9M127.9 100.2h.9M186.5 109.8h.9M142.3 114.3h.9M133.4 110.6h.9M130.9 121.2h.9M237.2 197.5h.9M265 183.7h.9M250.4 162.3h.9M242.3 158.5h.9M228.2 195.3h.9M240.3 147.3h.9M228.4 187.3h.9M215.7 220.9h.9M289.5 167.9h.9M216.7 183.3h.9M239.5 161.7h.9M242.9 165.7h.9M227.8 193.4h.9M241.9 147h.9M241.8 192.4h.9M235 180h.9M253.1 173.8h.9M257.3 162.2h.9M266.7 163.3h.9M249.3 155.2h.9M216.4 185.2h.9M240.5 174.2h.9M260.9 159.7h.9M252.8 162.9h.9M240.5 163.7h.9M224.7 185.9h.9M231.3 194.3h.9M238.9 179.4h.9M252.5 186h.9M270.3 158.9h.9M258.5 168.5h.9M258.1 166.2h.9M282.9 204.2h.9M244.1 186.1h.9M240.2 176.2h.9M233.4 180.8h.9M280.7 152.8h.9M238.6 184.1h.9M249.7 183.2h.9M234.2 173.1h.9M254 178.9h.9M242 151.8h.9M227.1 197.2h.9M241.6 178.8h.9M244.1 183.5h.9M252.5 152.6h.9M206.1 188.3h.9M245.7 190.8h.9M248.6 147.7h.9M245.1 156.3h.9M249.3 188.6h.9M216.6 217.8h.9M122.9 195.3h.9M213.2 198h.9M189.3 217h.9M232.3 194.3h.9M225.6 196.8h.9M221.2 206.1h.9M203.5 214.1h.9M135.2 225.7h.9M116.1 202.4h.9M186.9 223.6h.9M247.6 231.9h.9M266.2 198.2h.9M244.7 214h.9M265.9 199.6h.9M214 205.8h.9M257.1 197h.9M220.5 200.2h.9M286.9 46.8h.9M214.7 80.3h.9M210.2 111.1h.9M195.4 111.3h.9M171.3 90.4h.9M121.1 106h.9M255.2 166.7h.9M283.9 149.5h.9M240.4 63.8h.9M223.8 112.6h.9M145.3 73.8h.9M270.3 137.8h.9" fill="none" stroke="#222" stroke-width="1.0"/>
</g>
<ellipse cx="116.5" cy="128" rx="2.2" ry="5" fill="none" stroke="#000" stroke-width="0.8"/>
<rect x="201" y="109.5" width="68.5" height="80" fill="none" stroke="#000" stroke-width="2.2"/>
<text x="236.5" y="92.2" font-size="27.5" font-weight="bold" font-style="normal" text-anchor="middle">14</text>
<g clip-path="url(#cA01)">
<path d="M422.2 115.5l5.4 -0.7 4 0.1 7 1.1 5 2 4 2.7 4.7 4.8 1.8 3 1.8 6 0.5 5 -0.5 5 -4.3 10.9 -2.9 9.1 -1.8 3 -4.3 4.7 -3.3 7.3 -3.3 5 -3.4 3.3 -6 2.8 -4 1 -8 0.7 -4 -0.6 -3 -1 -7.2 -3.2 -5.8 -3.6 -10 -1.5 -2 1.6 -5 8.1 -2.7 9.4 -2.7 6 -4.2 6 -4.4 4.5 -3 1.8 -3 1.1 -4 0.9 -3 0.1 -4 -0.4 -3 -0.7 -4 -1.7 -3 -2 -4.3 -4.6 -4.2 -7 -2.6 -14 -0.3 -3 0.4 -9 -0.7 -8 -0.5 -16 -0.8 -3 -4.5 -9 -0.5 -3 0.2 -6 0.5 -4 1.5 -4 1.8 -2.7 2 -1.9 3 -1.7 11 -1.5 9 0.2 10 1.1 29 -4.2 10 0.4 15 1.8zM423.3 117.5l4.3 -0.6 4 0.2 7 1.2 4 1.6 5 3.9 3.5 3.7 1.8 4 0.7 5 -0.1 7 -0.5 2 -1.9 4 -4.5 7.4 -2 2.5 -2.9 3.1 -4.9 4 -0.7 2 -0.1 4 -0.6 2 -5.8 8.4 -2 1.7 -4 1.3 -11 0.5 -5 -1.1 -4 -2.3 -4 -5.2 -3.3 -3.3 -2.3 -5 -0.3 -3 1.6 -7 0.3 -3 -0.7 -4 -0.6 -1 -1.6 -1 -2.1 -0.4 -4 0.4 -7 -0.8 -8 1.7 -4 0 -6 -0.9 -5.4 1 -2.7 1 -1.9 2 -0.5 2 0.2 1 1.3 1.8 3 1.8 5 1.1 3 1.1 4 2.5 5 2.1 1.2 1.6 0.6 4 1.1 4 0.3 3 -0.8 7 -2.7 10 -3.9 8 -3.3 5 -2.9 3 -3.6 2.2 -3 0.7 -8 0.1 -6 -2.1 -5 -3.6 -2.5 -3.3 -2.2 -5 -2.5 -12 -0.1 -4 1.4 -10 -0.9 -6 0.3 -4 -0.6 -7 0.2 -5 -0.5 -2 -2.4 -5 -2.3 -6 -1.3 -5 0.6 -3 3.8 -5.4 2.1 -1.6 3.9 -1.9 6 -1.6 10 -0.4 10 0.9 18 -3.5 10 -1.3 9 0.3 9.4 2.5 3.6 0.3zM425 118.5l4.6 -0.3 8 1.3 3 0.9 3 1.9 5 4.4 2.1 2.8 1.2 4 0.4 6 -0.2 3 -0.7 3 -2.6 5 -4.2 5.1 -11.1 8.9 -1.9 3 -0.8 5 -0.8 2 -3.4 5 -2 1.4 -4 0.9 -10 0 -3.8 -1.3 -1.9 -2 -2.1 -4 -0.4 -2 2.7 -6 0 -2 -1.5 -3.2 -0.3 -1.8 1.6 -5 -1.9 -5 -0.8 -5 -0.6 -1 -1 -0.3 -7 2.6 -8 1.1 -7 0.2 -9 1.3 -9 -0.8 -8.9 1.9 -8.1 3.7 -2 1.3 -3 4.2 -2 1.7 -2 0.1 -0.9 -1 -0.2 -2 0.4 -4 -0.4 -2 -0.9 -2.3 -3.8 -6.7 -1 -3 -0.3 -3 0.7 -2 2.4 -3.4 3 -2.6 3 -1.7 5 -1.4 4 -0.5 6 -0.1 6 0.8 3 -0.1 16 -3.6 12 -1.5 8 0.5 9 3.2 3 0.3 11 -4.5zM342.7 162.5l2.9 -0.6 3 0.2 2 0.7 5 2.8 7 2.7 2 1.5 4.9 5.7 1.7 3 0.9 9 -1.7 9 -4.4 8 -3.4 5 -2 2.1 -3 1.6 -9 0.4 -3 -0.7 -3 -1.4 -5 -4.3 -4.4 -9.7 -1.3 -13 2 -9 0.4 -5 1.8 -3zM425.1 119.5l4.5 -0.3 8 1.3 3 1 2 1.4 6 5.4 1.5 2.2 0.8 4 0.2 7 -1.4 5 -3.1 4.9 -4 3.7 -14.9 10.4 -1.1 1.9 -0.2 4.1 -0.8 1.9 -2 1.9 -3 1.2 -2 0 -6 -2.5 -1 -0.5 -1 -1.3 -0.3 -1.7 1.6 -8 -0.3 -5 -1.1 -3 -4 -6 -2.1 -6 -1.8 -2.6 -2 -0.4 -7 3.6 -9 1.8 -7 0.1 -8 1 -6 -0.5 -4 0.1 -9 1.8 -5 1.5 -7 0.4 -2 -1.2 -3.1 -3.6 -1.8 -3 -1 -3 0 -2 0.7 -2 1.2 -1.8 2 -1.8 3 -1.7 7 -1.9 6 -0.8 6 0.7 4 -0.1 16 -3.9 12 -1.4 8 1 8 3.8 2 0.5 2 -0.5 11 -5.6zM347.9 166.5l1.7 -0.3 2 0.4 8 3.5 7 6.1 1.1 1.3 0.9 2 0.9 9 -0.5 7 -4.1 7 -4.3 6 -2 1.9 -2 0.7 -6 0 -3 -0.3 -2 -0.8 -4 -2.6 -2.7 -2.9 -3.7 -7 -0.5 -2 0.3 -6 -1.1 -4 0 -3 3.7 -10.8 1 -1.3 2 -1.3zM424.4 120.5l3.2 -0.4 3 0.1 7 1.2 2.9 1.1 7.9 7 1.1 2 0.6 3 0.2 5 -0.3 3 -1.4 4 -2 3.3 -3 3 -6 4.1 -9 4.4 -2 0.1 -4 -2.6 -5 -1.3 -4 -3 -2.8 -3 -2.8 -4 -3.4 -8.6 -1 -1.7 -1 -0.5 -2 0.1 -2 0.7 -4 2.8 -2 0.9 -8 1.7 -2 0.2 -4 -0.5 -7 1.3 -6 -0.2 -9 0.4 -10 2 -2 -0.2 -4 -2.3 -4 -0.9 -2 -1.6 -1.3 -2.6 0.2 -3 2.1 -2.3 3 -1.4 11 -3.1 9 0.1 6 -1.1 11 -3.1 13 -1.5 3 0.4 4 1.2 4 1.9 5 3.5 1 0.2 2 -0.8 8 -5.6 5 -2.3zM418.6 166.5l1 -0.7 1 0.3 0.3 0.4 0.2 2 -0.5 1.3 -1 0.3 -1 -0.6 -0.4 -1zM347.1 169.5l3.5 -0.8 6 2.1 7.6 5.7 2.1 3 1.3 13 -0.3 3 -1.6 3 -3 4 -5.1 5.9 -2 0.9 -3 0.1 -4 -0.7 -6 -3.1 -2.1 -2.1 -3.4 -6 -0.7 -2 0.5 -6 -1.4 -5 0.3 -3 3.8 -8.3 2 -1.5zM423.6 121.5l3 -0.6 3 0 8 1.3 2 0.7 7.7 6.6 1.3 2 0.6 2 0.3 5 -0.4 4 -1.5 4 -2 3 -3 2.7 -6 3.8 -8 3.1 -2 -0.3 -3 -1.6 -5 -1.2 -3 -1.8 -3 -2.6 -2.4 -3.1 -2.3 -4 -2.1 -7 0 -2 0.6 -2 5.6 -6 4.6 -3.1 4 -1.9zM378.2 125.5l9.4 -0.9 2 0.2 4.1 1.7 5.7 4 0.6 1 0 1 -4.4 2.2 -2.7 3.8 -2.3 1.2 -7 1.1 -5 -0.6 -7 1.8 -6 -0.1 -6 0.6 -6 -0.5 -5 1.1 -2 0.1 -3.8 -1.7 -3.8 -3 -0.6 -1 0.3 -1 1.9 -2 4 -2.2 4 -0.7 4 0.8 19 -5.7zM347.7 171.5l2.9 -0.7 2 0.4 2.8 1.3 8.2 5.9 0.8 1.1 0.5 2 0.2 8 0.8 4 -0.2 2 -1.1 2 -2.2 3 -5.8 6 -2 1.1 -2 0.2 -3 -0.6 -7 -3.7 -3.9 -6 -0.8 -2 0.4 -6 -1 -5 0.3 -2 2.8 -4 0.9 -3 0.7 -1zM422.9 122.5l5.7 -0.9 10 1.7 2 1.2 6 5.5 1.2 1.5 0.6 2 0.5 5 -0.3 3 -1.5 4 -1.8 3 -2.7 2.5 -6 3.8 -3 1.4 -4 1.1 -2 0.1 -8 -2.3 -4 -2.2 -2.7 -2.4 -1.5 -2 -2.8 -5 -1.3 -4 -0.2 -3 0.5 -2 1.3 -2 3.5 -4 3.2 -2.5zM385.3 126.5l2.3 -0.2 2 0.5 1.1 0.7 1.3 2 0 2 -0.9 5 -0.7 1 -1.8 0.9 -4 0.5 -6 -0.8 -7 2.2 -7 -0.1 -5 0.7 -4 -0.8 -2 -1.6 -0.2 -1 1.3 -2 6.2 -4 13.3 -4 6.4 -0.1zM344 134.5l2.6 -0.8 2 0.8 1.6 3 0 1 -0.7 1 -1.5 1 -1.4 0.2 -1.2 -0.2 -1.7 -1 -0.7 -1 -0.4 -2 0.4 -1zM349 173.5l1.6 -0.3 3 0.8 7 4.2 2 1.6 1.1 2.7 -0.2 7 0.7 4 -0.2 2 -1 2 -2.4 2.8 -5 4.5 -2 1.1 -3 -0.3 -7 -3.4 -3.3 -4.7 -1.1 -3 0.2 -9 0.4 -2 5.8 -8zM426.2 122.5l3.4 -0.1 8 1.3 2 0.9 7.3 6.9 0.8 2 0.5 3 0 3 -0.7 3 -1.9 4 -2 2.5 -3 2.4 -5 2.9 -4 1.4 -3 0.6 -9 -2.1 -4.3 -2.7 -2.1 -2 -1.3 -2 -3 -6 -0.8 -3 0.1 -2 0.7 -2 4.8 -6 1.9 -1.5 5 -2.7zM384.7 129.5l1.9 -0.6 1 0.2 1.4 1.4 0.4 4 -0.8 1.8 -1 0.6 -3 0.2 -7 -1.5 -2 0.6 -3.8 2.3 -2.2 0.3 -7 -1.1 -4 0.5 -1.1 -0.7 0.8 -1 2.3 -1 3.3 -3 5.7 -2 5 -0.5 3 1.5 2 0.4 2 -0.6zM349.9 175.5l1.7 0 2 0.6 6.3 3.4 2 2 0.8 3 -0.4 6 0.3 4 -0.6 2 -3.4 3.8 -4 2.8 -2 0.6 -7 -2.3 -1.4 -0.9 -2.6 -3.5 -1 -3.1 0.2 -6.4 0.7 -3 5.1 -7.2 2 -1.4zM425.2 123.5l4.4 -0.4 9 1.7 2 1.5 5.4 5.2 1.1 2 0.4 2 0.2 3 -0.5 3 -1.6 3.2 -2 3 -3.2 2.8 -3.8 2.3 -3 1.4 -4 1 -2 0 -7 -1.5 -2 -0.8 -2.2 -1.4 -2.1 -2 -1.4 -2 -3.2 -7 -0.6 -2 0.1 -2 0.8 -2 4.6 -5.6 6 -3.6zM368.4 133.5l2.2 -0.4 1 0.3 0.5 1.1 -0.3 1 -1.4 1 -2.1 0 -1.2 -1 0 -1zM349 177.5l1.6 -0.5 2 0.3 4.8 2.2 2.8 2 1.4 3 -0.5 10 -0.7 2 -2.8 3 -4 1.7 -4 -0.5 -4 -1.4 -2.4 -2.8 -1.2 -3 0 -5 1.2 -4 3.4 -5zM424.6 124.5l4 -0.7 5 1 3 0.2 2 0.6 6.5 5.9 1.3 2 0.6 2 0.2 3 -0.6 2.8 -4 6.1 -3 2.7 -3 1.9 -6 2.2 -3 0.2 -6 -1.2 -2 -0.6 -2 -1.1 -2.3 -2 -1.5 -2 -3.5 -9 0.4 -3 4.8 -6 6.1 -3.7zM348.4 179.5l2.2 -1 3.9 1 4.1 2.4 1.8 2.6 0.2 3 -1.3 8 -1.5 2 -2.2 1.3 -4 0.1 -4 -1 -2 -1.6 -2 -3.1 -0.4 -2.7 0.7 -4 1.7 -3.4zM424.5 125.5l4.1 -0.8 4 0.8 5 0.5 2 1.2 5 4.8 1.1 1.5 0.7 2 0.3 3 -0.4 2 -3.7 5.5 -4.8 4.5 -6.2 2.7 -3 0.4 -7 -1.1 -2 -0.6 -2 -1.2 -2.2 -2.2 -1.2 -2 -2.5 -8 -0.1 -1.4 0.7 -1.6 3.9 -5 2.8 -2zM350.1 180.5l2.3 0 3.2 1.3 2.4 1.7 1.3 2 0.1 3 -1.4 5 -1 2 -1.4 1 -3 0 -4 -1.1 -2 -1.4 -1.6 -2.5 -0.2 -2 0.8 -3 3 -5zM424.9 126.5l3.7 -0.7 4 0.7 5 0.3 1.2 0.7 5.3 5 1.7 3 0.4 2 -0.2 2 -0.9 2 -1.5 1.9 -5.7 6.1 -2.3 1.4 -4 1.5 -4 0.3 -8 -1.5 -3.4 -2.7 -1.5 -3 -0.9 -7 0.6 -2 1.8 -2 1.3 -3 0.9 -1zM354.9 186.5l1.7 -0.6 1 0.7 0.2 0.9 -0.2 2 -1 1.8 -1 1 -1 0.3 -3 -0.6 -2 0.2 -2 -0.9 -0.5 -1.8 0.5 -1.2 1 -0.8 3 0.9 1 0zM426.1 127.5l2.5 -0.2 3 0.5 4 -0.4 2 0.4 6 5.2 1.2 1.5 0.7 2 0.1 2.1 -1 2.4 -6.7 7.5 -3.2 2 -4.1 1.4 -2 0.1 -8.8 -1.5 -2.6 -2 -1.7 -3 -0.2 -2 0.4 -2 0.9 -1.6 2 -1.3 0.7 -1.1 0 -4 0.6 -2 2.7 -2.4zM424.5 129.5l2.1 -0.5 5 0.6 4 -0.9 2 0.5 6.4 5.3 1.1 3 -0.5 2.3 -8 8.6 -4 2 -3 0.7 -4 -0.7 -4 -0.2 -2 -0.6 -1.5 -1.1 -1.4 -2 -0.3 -3 1.2 -1.9 3.1 -2.1 0.5 -2 -0.2 -3 0.3 -2 1.3 -1.8zM423.7 131.5l0.9 -0.6 2 -0.4 4 0.9 5 -0.6 1 0.2 6.4 3.5 1.3 2 0.1 2 -1.2 2 -4 3 -2.6 3.4 -2 1.6 -4 1.3 -2 -0.2 -2 -0.7 -4 0.4 -2 -0.2 -2.3 -1.6 -0.7 -1 -0.3 -2 0.3 -1 4 -2.7 0.9 -1.3 -0.1 -6zM424.5 132.5l2.1 -0.6 5 1.4 9 0.9 2.3 1.3 0.7 1.2 0 1.8 -1 1.4 -5 2.6 -2 3.4 -2 1.6 -3 0.4 -4 -1.5 -4 1.7 -2 -0.1 -1.9 -1.5 -0.2 -2 1 -1 3.1 -1.7 1.2 -1.3 0.3 -2 -0.6 -4zM426.5 133.5l2.1 0.7 1.6 1.3 1.7 3 2.3 2 0.4 1 -0.1 2 -0.4 1 -1.1 1 -2.4 0.1 -5.6 -2.1 1.2 -4 -1.2 -4 0.1 -1 0.5 -0.7zM439.3 135.5l1.4 0 1.6 1 0.4 1 -0.4 1 -0.7 0.6 -2 0.4 -2.7 -1 -0.5 -1 0.6 -1zM421 144.5l1.6 -0.4 1.2 0.4 -0.6 1 -1.6 1.1 -1 -0.3 -0.4 -0.8z" fill="none" stroke="#1c1c1c" stroke-width="0.9"/>
<path d="M314.6 126.5l1 -0.9 1 -0.1 1 1.3 0.4 4.7 1 3 -0.5 3 -2.9 3.1 -1 -0.1 -0.5 -1 -1.6 -6 0.6 -4zM314.9 169.5l0.7 -0.2 2 0.6 1.4 1.6 0.5 7 -1.4 9 1.1 5 -0.4 6 0.3 4 -0.9 5 1.2 11 -0.3 2 -1.4 4 0.1 6 -1.2 1.4 -2 -1.4 -1.2 -2 0.3 -3 -1.2 -7 -0.3 -7 1.6 -5 -1.5 -8 0.9 -4 -0.3 -3 0.3 -19 0.5 -2z" fill="#000" fill-opacity="0.5" stroke="none"/>
<path d="M310.6 130.2l1.3 -3.7 1 -5 1.7 -4.9 1 -1.1 1 -0.1 1.4 1.1 1.8 5 1.4 14 -2 12 -0.8 2 -0.8 0.8 -1 0.3 -2.3 -1.1 -3.2 -6 0 -5 -0.5 -4.6M310.6 197.6l0.7 -4.1 -0.5 -22 1.1 -6 -0.4 -4 0.5 -2 1.6 -2.7 1 -0.7 2 -0.2 1.4 1.6 1.7 6 0.2 4 1.2 4 0.1 10 -1.1 6 1.1 5 0.2 3 0.1 7 -0.7 5 0.5 9 -1.6 17 -0.9 2 -1.1 1M310.6 210.4l1.1 -3.9 -1.1 -7.3M315.2 236.5l-0.9 -1 -0.8 -2 -2.3 -4 0.1 -4 -0.7 -4.7M315.2 120.5l0.4 -0.6 1 -0.3 1.6 1.9 1.9 14 -0.5 2.6 -2.6 6.4 -1.4 1.1 -1 -0.1 -1 -0.8 -1 -2.1 -0.2 -4.1 -0.9 -6 0.4 -3zM314.3 158.5l1.3 -0.4 1.1 1.4 -0.1 1.6 -1 1.2 -1 0 -1 -1 0.1 -1.8zM314.6 166.5l2 -0.7 1 0.9 2.1 3.8 0.4 2 0.2 8 -1.2 7 1.2 6 0 9 -0.8 5 0.6 4 0.1 7 -1.1 6 -0.3 7 -0.9 2 -1.3 0.4 -1 -0.5 -3.2 -3.9 0.1 -4 -1 -7 0.1 -4 -0.3 -3 1.4 -5 -1.2 -8 0.9 -4 -0.4 -3 0 -20 0.9 -3zM316.3 122.5l0.4 0 1.6 5 0.1 4 1 4 -1.1 3 -2.7 4 -1 0.1 -1 -2.4 -1.3 -5.7 -0.1 -3 1.3 -4zM315.5 168.5l2.1 0.8 1.7 2.2 0.5 7 -1.4 9 1.1 6 -0.3 5 0.3 4 -0.8 5 0.9 11 -0.2 2 -1.2 4 0 6 -0.6 1.6 -1 0.4 -2.5 -2 -1.1 -2 0.2 -3 -1.1 -7 -0.2 -7 1.5 -5 -1.4 -8 0.9 -4 -0.2 -3 0.1 -19 0.8 -2.9 1 -0.9zM315.2 126.5l0.4 -0.4 1 0.1 0.9 1.3 0.2 4 1.1 4 -0.6 2 -2.6 2.4 -1 -0.3 -0.6 -1.1 -1.3 -5 0.6 -4 0.9 -2zM314.3 170.5l1.3 -0.7 1 0.1 2 1.3 0.5 1.3 -0.2 3 0.5 3 -0.2 2 -0.9 3 -0.4 4 1 5 -0.4 5 0.3 5 -0.9 5 1.3 11 -0.3 2 -1.6 4 0.4 5 -0.3 1 -0.8 0.9 -2 -1.3 -1 -1.6 0.4 -3 -1.4 -8 -0.1 -6 1.6 -5 -1.6 -8 0.9 -3 -0.4 -4 0.4 -18 0.3 -2zM315.1 127.5l0.5 -0.4 1 0.4 0.4 1 0 3 1.3 3 0 1 -0.8 2 -1.9 1.3 -1 -0.5 -0.4 -0.8 -1 -4 0.7 -4zM314.5 171.5l1.1 -0.8 1 -0.1 1.5 0.9 0.5 1 -0.2 3 0.6 3 -0.2 2 -0.9 2 -0.4 2 -0.1 4 1 4 -0.6 4 0.4 6 -1.2 4 0.4 5 1.1 4 0.3 3 -0.8 3 -2.2 4 1.1 3 -0.3 1.5 -1 -0.1 -1.2 -1.4 0.2 -1.7 0.7 -1.3 -1.4 -3 -0.8 -5 -0.1 -6 1.9 -5 -2 -7 1 -4 -0.5 -4 0.1 -6 0.7 -9 -0.2 -3zM315.2 128.5l0.4 -0.3 0.4 0.3 0.2 3 1.4 2.5 0.3 1.5 -1.2 2 -1.1 0.5 -1.4 -1.5 -0.6 -3 1 -4.1zM315.4 171.5l1.2 -0.3 1 0.4 0.6 0.9 -0.2 3 0.7 3 -0.4 2 -1.4 2 -0.2 1 0.1 5 1.2 4 -1 4 0.5 2 0.2 3 -1.1 3.4 -1 0.4 -1.6 -2.8 -0.8 -3 1.2 -4 -0.6 -4 0.4 -3 -0.2 -3 0.7 -4 0.2 -5 -0.4 -3 0.2 -1zM315.4 208.5l0.2 -0.3 0.6 1.3 0.5 3 1.4 3 0.3 2 -0.4 3 -1.4 2.3 -1 0.6 -1.1 -0.9 -1 -6 0.1 -5.8 1 -1.7zM314.5 132.5l0.1 -0.3 1 -0.1 1.7 2.4 0.1 1 -0.8 1.4 -1 0.4 -1 -1 -0.5 -1.8zM315.3 172.5l1.3 -0.7 1 0.5 0.3 1.2 -0.5 2 0.9 4 -0.7 1.4 -1 0.5 -1 -0.6 -0.3 -1.3 0.4 -3 -0.7 -3zM315.1 184.5l0.5 -0.3 0.5 1.3 -0.1 3 1.5 4 -0.9 2.4 -0.8 0.6 0.1 1 1.2 2 0.1 3 -0.6 1.9 -1 0.6 -1 -1.1 -1.1 -3.4 0.1 -1 1 -1.7 0.6 -0.3 0.2 -1 -0.8 -1.3 -0.5 -2.7 0.7 -3 -0.3 -3zM314.4 211.5l0.2 -0.9 0.6 0.9 2.3 4 0.5 2 -0.4 3.1 -1 1.3 -1 0.5 -1 -1.8 -0.6 -3.1zM314.9 133.5l0.7 -0.3 1.2 1.3 -0.2 1.6 -1 0.5 -1 -1.7zM316.2 172.5l0.7 0 0.6 1 -0.9 1.7 -1.1 -1.7zM316.3 177.5l0.3 -0.5 1 0.7 0.3 0.8 -0.3 1.5 -1 0.4 -0.7 -0.9zM314.9 190.5l0.7 -0.6 1 1.1 0.4 1.5 -0.4 1.3 -1 0.6 -1.1 -1.9zM315 197.5l0.6 -0.3 1 1.1 0.4 1.2 -0.4 2.7 -1 0.9 -1 -0.9 -0.8 -2.7 0.2 -1zM315.1 214.5l0.5 -0.3 1 0.8 1 2.5 -0.1 2 -0.4 1 -0.5 0.7 -1 0.2 -1.1 -3.9 0 -2zM315.5 134.5l0.3 0 -0.2 1.1zM315.2 191.5l0.4 -0.5 0.9 1.5 -0.9 1.1 -0.6 -1.1zM314.4 198.5l1.2 -0.5 1 1.5 0 1.1 -1 1.7 -1 -0.8 -0.4 -1zM315.3 216.5l0.3 -0.9 1.1 0.9 0.4 2 -0.5 1.7 -1 -0.2zM314.5 199.5l1.1 -0.9 0.5 0.9 0 1 -0.5 1 -1 -0.9z" fill="none" stroke="#1c1c1c" stroke-width="1.0"/>
<path d="M326.5 228.5l8.1 0.7 6 -1.5 5 1.1 5 -1 5 0.7 5 -0.6 4 0.8 10 -0.9 3 0.4 5 1.7 6 -0.1 1.6 0.7 -0.5 1 -2.1 0.8 -7 0.6 -6 -0.9 -4 0.9 -4 0.4 -6 -0.9 -5 0 -4 0.5 -4 -0.5 -4 0.3 -7 -1 -4 1.3 -4 0.2 -6 -0.5 -4 -1.1 -5 0.4 -2.8 -1.5 0.1 -1 0.7 -0.2 5 -0.2 3 -0.5 3 0.2z" fill="#000" fill-opacity="0.9" stroke="none"/>
<path d="M310.6 227.3l4 0.1 5 -0.6 16 0 5 -0.4 5 0.6 6 -0.5 8 -0.1 6 0.6 10 -0.5 8 1.2 6 -0.1 10 1.4 6 0.3 3 -0.5 8 0 5 1.4 3 -1.4 2 -0.2 6 1.1 4 -0.3 2 1.1 -0.5 1 -1.5 0.8 -4 -0.2 -5 1 -3 -0.2 -3 -1.1 -4 1.1 -8 0 -4 -0.6 -3 0.6 -22 1.6 -6 -0.5 -5 0.5 -10 -0.5 -9 0.5 -11 -0.8 -7 1.1 -7 -0.5 -4 0.1 -3 -0.7 -4 0.4 -4 -1M310.6 228.2l5 0 4 -0.5 16 0.2 5 -0.9 5 0.9 6 -0.8 5 0.5 4 -0.5 4 0.8 10 -0.8 9 1.7 6 -0.1 5.8 1.8 0.3 1 -3.1 0.3 -6 1.5 -6 0.4 -6 -0.7 -7 0.9 -7 -0.7 -9 0.5 -13 -1 -5 1.1 -4 0.2 -4 -0.5 -4 -0.1 -3 -0.8 -4 0.6 -4 -1.2M310.6 229.1l5 -0.2 4 -0.6 4 0.3 4 -0.4 7 0.6 6 -1.2 5 1 5 -1 6 0.6 4 -0.5 4 0.8 10 -0.9 3 0.4 6 1.6 5.9 -0.1 1.6 1 -0.5 1 -4 1.3 -7 0.3 -5 -0.8 -4 0.9 -4 0.3 -7 -0.9 -8 0.6 -4 -0.4 -4 0.1 -6 -0.8 -5 1.2 -4 0.1 -6 -0.4 -4 -1.1 -5 0.5 -3 -1.4M338.1 228.5l2.5 -0.6 5 1.1 5 -1.1 5 0.8 4 -0.7 5 0.8 10 -0.8 3 0.4 5 1.8 5 -0.2 1.9 0.5 -0.4 1 -1.5 0.5 -7 0.6 -6 -0.8 -8 1.4 -7 -1 -4 0 -4 0.5 -4 -0.5 -4 0.3 -7 -1.1 -4 1.4 -4 0.3 -6 -0.7 -4 -1.1 -5 0.5 -2.1 -1.3 0.9 -1 14.2 -0.9 8 1zM339.2 228.5l2.4 -0.2 4 1.2 5 -1.3 2 0.2 3 0.9 4 -1 4 0.9 11 -0.8 4.9 1.1 2 1 0.8 1 -2.7 0.6 -5 -0.8 -8 1.7 -5 -1 -6 -0.3 -4 0.6 -4 -0.5 -4 0.4 -3 -0.5 -3.8 -1.2 0.5 -1zM319 229.5l9.6 -0.5 4.5 1.5 0.3 1 -2.1 1 -3.7 0.2 -5 -0.8 -2 -0.9 -2.5 -0.5zM313.4 230.5l3.1 0 -1.9 0.4zM385.3 231.5l1.3 -0.3 0.4 0.3zM340.6 228.5l6 1.6 4 -1.6 2 0.3 3 1.4 4 -1.6 4 1 11 -0.8 3.7 0.7 1.9 1 -0.1 1 -1.5 0.1 -4 -0.8 -8 1.9 -4 -0.9 -5 -0.4 -2 -0.5 -4 1 -5 -0.8 -2 0.7 -2 0 -4.5 -1.3 0.1 -1zM324.8 229.5l1.8 -0.3 2.7 0.3 2.1 1 0.3 1 -3.1 0.9 -5 -0.8 -1.5 -1.1zM326.5 229.5l3.1 0.5 0.8 0.5 0.1 1 -1.9 0.6 -4 -0.6 -0.9 -1zM338.9 229.5l1.7 -0.7 1 0.1 3.6 1.6 -1.4 1 -1.2 0 -3.5 -1zM348.5 229.5l3.1 -0.6 1.5 0.6 0.6 1 -1.1 0.8 -2 0.1 -2.9 -0.9zM358.1 229.5l1.5 -0.5 4 1 9 -0.7 3.5 0.2 -9.5 3 -4 -1.1 -5 -0.7 -0.5 -0.2zM377.1 230.5l1.5 0zM339.6 229.5l2 -0.3 2.4 1.3 -1.4 0.5 -2 -0.3 -0.7 -0.2zM349.4 229.5l2.2 -0.2 0.5 0.2 0.5 1 -1 0.4 -2 -0.2 -0.6 -0.2zM359 229.5l1.6 -0.2 2 1.2 4 -0.7 4.2 0.7 -1.5 1 -2.7 0.7 -2.7 -0.7 -0.3 -0.8 -1 -0.2 -2 0.3 -2 -0.2 -0.2 -0.1zM324.7 230.5l1.9 -0.6 2 0.1 1 0.5 0 1 -3 0.2zM325.7 230.5l1.9 -0.3 1.2 0.3 -0.2 0.8 -1 0.2zM341 230.5l0.6 -0.9 1.2 0.9zM364.7 230.5l1.9 -0.4 2.3 0.4 -0.5 1 -1.8 0.5 -2 -0.5zM365.5 230.5l2.3 0 -0.1 1 -1.1 0.3 -1.4 -0.3z" fill="none" stroke="#1c1c1c" stroke-width="1.0"/>
<path d="M393.6 215.1h.9M396 187.3h.9M450.8 178.3h.9M396.8 194.6h.9M445 203.9h.9M442 178.9h.9M459.3 164.8h.9M454.8 189.7h.9M391.6 190.9h.9M418.6 214.2h.9M431.7 206h.9M443.4 175.9h.9M439.4 197.6h.9M416.9 200.5h.9M471.5 174.5h.9M390.8 188.4h.9M416.8 199.2h.9M444.9 220.5h.9M405.4 215.9h.9M405.2 199.2h.9M391.3 183.1h.9M387.8 212.7h.9M390.9 197.4h.9M441.5 205.3h.9M426.4 227.5h.9M403.3 191.1h.9M429 202.5h.9M484.8 151.4h.9M427.5 66.2h.9M467.5 204.1h.9M409.1 208h.9M350.2 77.4h.9M435.8 85.5h.9M407.5 96.8h.9M413 52.2h.9M393.9 106.3h.9M397.4 96.8h.9M446.3 93.6h.9M375.5 84.7h.9M343.6 113.1h.9M318.1 176.3h.9M317.9 132.7h.9M320.4 118.5h.9" fill="none" stroke="#222" stroke-width="1.0"/>
</g>
<rect x="401.5" y="109.8" width="69" height="79.7" fill="none" stroke="#000" stroke-width="2.2"/>
<text x="436.2" y="93.3" font-size="27.5" font-weight="bold" font-style="normal" text-anchor="middle">32</text>
<g clip-path="url(#cA10)">
<path d="M219.8 331l5.7 -0.6 5 0.2 4 0.9 5 1.8 3 1.6 2.7 2.1 2.4 3 2.4 4 0.9 3 0.3 3 -0.1 4 -0.9 4 -2.2 4 -9.5 11 -5 4.4 -10 5.7 -3 0.9 -9 0.3 -7 -1 -8 -3.5 -7.8 -4.8 -4.2 -3.4 -2 -0.3 -6 0.3 -1 0.8 -0.4 1.6 1 5 -1.1 7 -0.1 11 -0.8 6 -2.2 6 -6.2 8 -9.2 7.8 -3 1.3 -3 0.5 -3 -0.2 -4 -1 -7 -3.5 -3 -2.2 -3.3 -3.7 -7.6 -11 -3.5 -9 -1.1 -6 0.1 -9 0.9 -8 0.1 -17 2.7 -6 5.5 -7 2.2 -1.6 2 -0.8 10 -2.9 6 -1.1 12 -0.5 3 0.5 6 1.8 3 0.3 9 -1.6 9 -0.7 14 0.5 3 -0.8 7 -3.5zM219.2 333l3.3 -0.6 4 -0.2 4 0.4 3 0.7 7 2.8 2 1.4 2 2 2.4 3.5 1.4 3 0.6 3 0 3 -0.4 3 -1.1 3 -4.1 5 -2.8 2.4 -8.2 5.6 -3.8 3.7 -1.8 1.3 -4.2 1.8 -4 0.5 -7 -0.3 -3 -0.6 -5 -3.2 -6 -5.7 -5.2 -3.5 -3.8 -1.3 -8 -0.9 -8 -3 -2 0.3 -6 3.6 -3 1.3 -9 2 -6.1 0 -1.5 1 -0.2 1 0.8 0.5 6 0.7 3 1.3 9 5.6 3.3 2.9 1.4 3 1.6 6 0.6 9 -0.6 5 -0.9 3 -1.1 2 -5.3 6 -7 5.7 -3 1.6 -3 0.2 -4 -1 -8 -4.3 -2 -1.6 -9.3 -11.6 -1.2 -3 -1.6 -8 0 -3 1.4 -5 0.5 -5 -1.2 -10 0.9 -7 -0.6 -5 0.9 -3 1.4 -2 7.8 -7.1 6 -2.6 7 -2 11 -0.8 3 0.8 5 2.7 3 0.5 6 -0.7 7 -2.1 9 -0.9 9 0.9 3 0 3 -1.1 6 -4.2zM219.7 334l4.8 -0.7 5 0.3 6 1.6 3.8 1.8 3.2 2.4 2.7 3.6 1.8 4 0.4 3 -0.3 4 -1 3 -2.1 3 -2.5 2.7 -4 2.8 -16 8.7 -3 0.3 -7 -1 -6 -3.4 -3.2 -4.1 -2.8 -2.2 -8 -3.1 -11 -1.6 -2 -1.2 -4 -4.2 -2 -0.8 -2 0.4 -1 0.7 -4.4 6 -1.6 1.3 -2 0.9 -3 0.2 -10 -0.5 -8 1.8 -3 1.6 -2 0.4 -2 -0.7 -1 -0.9 -1.2 -2.1 -1 -5 0.9 -3 5.3 -6.3 3 -2.1 4 -1.6 6 -1.5 8 -0.5 3 0.9 4 3.1 2 1 2 0.4 3 -0.1 11 -3.7 4 0 6 -1.2 7 0.7 4 -0.2 3 -1.2 4.5 -3.7 2.5 -1.6zM147.8 376l3.7 -0.9 2 0.2 7 3.5 2 1.4 1.5 1.8 1.7 4 1 4 0.7 6 -0.1 3 -0.9 5 -1.6 3 -4.3 5 -3 2.6 -4 2.5 -4 0.9 -3 -0.3 -2 -0.8 -8 -5.9 -7 -9.1 -1 -1.9 -0.6 -3 0.8 -5 1.8 -4 1.1 -4 0.9 -1.5 3 -2.1 2.3 -2.4 1.5 -1zM219.4 335l4.1 -0.8 5 0.1 4 0.9 4 1.5 3 1.7 2.9 2.6 2 3 1.3 3 0.5 3 -0.2 3 -0.9 3 -1.8 3 -3.8 4 -9 4.7 -10 3.5 -2 0.2 -2 -0.4 -4 -1.7 -3.7 -2.3 -3.3 -4.7 -2 -1.5 -6 -2.2 -5 -2.7 -2 -0.1 -5 1.1 -3 -0.3 -2.3 -1.6 -1.8 -3 -0.4 -2 0.5 -1 3 -2.1 10 -1.5 9 -0.2 3 -0.5 3 -1.4 7 -5.8zM147.7 345l3.8 -0.7 5 -0.2 2 0.4 2 1 3.8 3.5 1.5 2 -0.3 3 -2 3.8 -2 1.6 -2 0.5 -10 -1.3 -7 0.5 -3 -0.9 -3 -1.8 -0.6 -1.4 0.2 -1 1 -2 2.5 -3 2.9 -2.2zM151 378l1.5 0 2 0.6 5 2.4 2.3 2 1.5 4 1.3 6 0.1 3 -2.1 8 -4.5 7 -2.1 2 -2.5 1.6 -2 0.8 -3 0.3 -3 -0.7 -7.8 -6 -1.8 -3 -1.4 -5 -2.8 -3 -0.5 -2 0.6 -3 2.7 -5 6 -7 2 -1.2zM222.8 335l4.7 0 4 0.7 4 1.4 4 2.6 2.4 2.3 1.9 3 1 3 0.2 4 -0.8 3 -1.6 3 -2.2 3 -1.9 1.6 -5 2.7 -5 2 -7 1.5 -3 0.1 -3 -1 -4 -2.4 -1.5 -1.5 -3.5 -4.9 -8.6 -6.1 -1.7 -2 -0.2 -1 0.7 -1 1.6 -1 4.2 -1 3 -1.5 8 -7 6 -2.7zM149.1 347l6.4 -0.9 2 0.2 1.8 0.7 2.1 2 1.5 2 0.5 2 -0.7 2 -2.2 1.9 -2 0.3 -2 -0.3 -5 -2.1 -6 0.8 -3.2 -0.6 -1.1 -1 -0.2 -1 1.5 -2.8 3 -2.1zM189.4 349l1.6 0 0.2 1 -1.7 0.3 -0.8 -0.3zM147.1 381l3.4 -0.9 2 0 4 1.5 2.4 1.4 1 1 1 2 1.8 9 -0.5 3 -1.5 4 -4.8 8 -2.4 2.3 -2 1 -2 0.3 -2 -0.2 -2 -0.8 -5 -3.6 -2 -2 -0.9 -2 -0.6 -5 -2.4 -4 -0.2 -1 0.5 -2 1.1 -2 6.5 -7.8 1.7 -1.2zM221.2 336l3.3 -0.5 5 0.4 4 1.2 3 1.4 4 3.3 1.7 2.2 1.6 4 0.1 3 -0.6 3 -1.4 3 -1.8 3 -2.1 2 -4.5 2.4 -4 1.6 -6 1.2 -4 0.3 -3 -0.9 -3.9 -2.6 -4.1 -5.1 -4.8 -4.9 -1 -3 1.1 -2 9 -9 2.7 -1.7zM155.7 349l1.8 -0.1 1.5 1.1 1 2 -0.3 1 -1.2 0.3 -2.3 -1.3 -1.4 -2zM146.7 383l4.8 -1 3 0.7 2.6 1.3 1.4 1.4 0.8 1.6 1.4 7 -0.4 4 -2.3 5 -5.5 7 -3 1.1 -3 -0.6 -5 -3 -1.6 -1.5 -0.8 -2 -0.3 -5 -0.9 -3 0.2 -2 2.7 -3 2.2 -5 1.5 -1.7zM220.5 337l5 -0.8 4 0.4 3 0.8 4 2.1 4.7 4.5 1.6 4 -0.1 4 -2.9 7 -2.3 2.5 -5 2.6 -4 1.4 -7 0.8 -3 -0.2 -3 -1.4 -2 -1.7 -7.5 -9 -0.6 -2 0.3 -2 1.2 -2 4.9 -6 2.7 -2.3zM146.8 385l3.7 -0.8 3 0.4 2 0.7 2 2.1 1 3.6 -0.2 7 -1.6 4 -2.2 2.3 -3 2.2 -3 0.9 -3 -0.5 -3 -1.1 -1 -0.8 -0.9 -2 0.9 -6 2.8 -3 0.4 -1 -0.3 -5 1.1 -2zM223.2 337l3.3 -0.2 3 0.4 3 0.9 3 1.6 4 3.6 1.4 1.7 0.8 2 0.2 3 -2.6 8 -1.3 2 -1.1 1 -4.4 2.4 -3 1.1 -9 0.9 -3 -0.8 -3 -2.2 -6.8 -8.4 -0.6 -3 1.3 -3 5.1 -6.6 3 -1.9zM147.7 387l1.8 -0.5 3.5 0.5 1.5 0.6 1.4 1.4 0.3 2 -1.3 4 0.8 3 -0.1 2 -1.1 1.7 -2 1.1 -4 -0.1 -4 0.6 -1 -0.8 0 -1 3 -3.5 1.9 -4 -0.1 -1 -1.6 -4 0.1 -1zM222.4 338l5.1 -0.4 5.5 1.4 1.7 1 4.3 4 1.8 3 0.2 2 -0.4 2 -2.8 8 -2.3 2.1 -5 2.4 -9 1 -2 -0.2 -2 -0.7 -2 -1.6 -5 -5.9 -1.8 -3.1 -0.1 -2 0.6 -2 4.3 -6.6 2 -1.5zM222.5 339l2 -0.5 3 -0.1 5 1.2 2 1.4 4 3.9 1.3 2.1 -0.1 3 -1.2 3 -1.2 5 -1.5 2 -4.3 2.5 -3 0.7 -7 0.4 -3 -0.5 -2.6 -2.1 -4.9 -6 -1 -2 -0.1 -2 0.6 -1.8 3.6 -6.2 2.4 -1.8zM223.7 340l3.8 -0.7 4 0.9 2.5 1.8 3.5 3.5 1 1.5 0.1 2 -1.8 4 -0.5 5 -1.6 2 -4.2 2.2 -9 0.5 -3 -0.6 -1.3 -1.1 -2 -3 -2.8 -3 -1 -2 -0.1 -2 0.7 -2 1.8 -4 1.6 -2 2.1 -1.2zM227.2 341l2.3 0 2 1 5 5 -0.1 2 -1.1 2 -0.5 2 0.6 3 -0.2 2 -1.7 2 -2 1.1 -2 0.6 -5 -0.3 -3 0.3 -2 -0.3 -1.6 -1.4 -1.7 -3 -2.7 -3 -0.5 -1 -0.1 -2 1.2 -4 1.4 -2.7 1.9 -1.3 2.1 -0.4 4 0.3 1 -0.2zM216.5 345l1 -0.6 2 -0.3 5 1.5 5 -1.1 2 0.6 1.4 0.9 1.2 2 -1.5 5 1.6 4 -0.8 2 -1.9 1.4 -2 0.6 -5 -0.9 -4 0.2 -1 -0.6 -1.8 -3.7 -3 -4 -0.1 -2 0.3 -2zM217.9 346l1.6 -0.2 5 1.4 6 -0.2 1.2 1 0.2 1 -0.4 1.2 -1 1.1 -4.6 1.7 -0.9 1 -1.3 3 -1.2 0.9 -1 0.1 -1 -0.9 -4.2 -6.1 0 -3 0.5 -1zM228.2 356l1.3 -0.7 2 0.2 1 1 0.2 1.5 -0.6 1 -1.6 1 -2.1 0 -1.5 -1 -0.2 -1 0.4 -1zM218.5 348l1 -0.3 2 0.4 3 0.9 1 1 -3 3.6 -1 0.3 -2 -1.3 -1.3 -1.6 -0.3 -2zM229.5 358l1.1 0z" fill="none" stroke="#1c1c1c" stroke-width="0.9"/>
<path d="M117.3 336l1.2 -0.4 1 2.4 -0.3 3 -1.1 4 1.2 3 0.3 2 -0.5 8 1 6 0.1 6 -0.7 6 1.5 7 -0.7 11 0.3 6 -0.9 4 0.6 4 -1.5 3 0.2 3 -0.5 1.7 -1 -0.5 -1 -2.2 0.4 -3 -0.9 -3 -0.3 -6 -1.5 -7 0.1 -2 1 -4 -0.4 -5 -0.9 -5 0.9 -5 0.5 -6 -0.2 -2 -1.8 -4 1.4 -11 1.4 -5 -0.8 -3 -0.1 -2zM117.4 417l1.1 -0.8 1.3 1.8 0.6 2 -1.5 8 -0.4 0.8 -1 0.7 -1 -0.2 -0.9 -1.3 -0.3 -2 0.7 -7z" fill="#000" fill-opacity="0.5" stroke="none"/>
<path d="M112.5 357.2l0.2 -5.2 0.8 -5 -0.2 -7 2.2 -6.9 -0.2 -4.1 1.2 -3.1 1 -0.5 1 0.6 0.7 1 1.9 9 0.6 6 -0.3 4 0.3 7 -0.4 4 1 7 -0.4 13 1 7 -0.6 4 0 9 -0.5 7 0.7 5 0.1 10 -1.3 10 -0.2 5 -1.8 4M112.5 374.4l1 -8.4 -1 -3.1M115 438l-0.3 -5 -1.4 -4 -0.3 -3 1.1 -10 -0.9 -10 0.1 -6 -0.8 -6 1.1 -6 0 -3 -1.1 -5.2M117 334l0.5 -0.8 1 -0.1 1 1.3 0.8 2.6 -0.3 8 0.5 8 -0.3 5 1 7 -0.5 12 1.2 7 -0.5 4 -0.1 12 -0.6 4 0.7 4 -0.5 4 0 4 0.6 4 -2.4 13 -0.6 1.7 -1 0.7 -0.4 -0.4 -0.4 -3 -2.1 -3 -0.4 -2 0.5 -8 0.8 -3 -0.6 -3 -0.4 -12.9 -1.1 -6.1 1.1 -6 0 -2.8 -1.4 -7.2 1.4 -12 -1.8 -5 2 -15 -0.4 -6 0.6 -2zM117.6 335l1 0 0.9 1.4 0.3 1.6 -0.9 7 0.9 4 0.1 5 -0.5 4 1.1 7 -0.5 12 1.3 6 -0.7 11 0.3 6 -0.9 4 0.7 4 -1.1 4 0 4 1.2 4 -1.5 8 -0.8 1.8 -1 0.6 -2 -1.4 -0.5 -2 0.5 -8 1.3 -3 -0.9 -3 0.3 -3 -0.6 -3 -0.2 -6 -1.5 -7 1.1 -7 -0.3 -4 -1 -5 1.4 -12 -0.5 -2 -1.5 -3 1 -8 1.4 -7 -0.5 -6 1.1 -3zM116.9 337l0.6 -0.8 1 -0.1 0.7 1.9 -0.3 3 -1.4 2.9 -1 -0.1 -1 -2.8 0.3 -2zM116.5 346l1 -0.7 1.5 2.7 0.4 2 0 5 -0.5 3 0.9 6 0.2 6 -0.9 5 1.7 8 -0.7 11 0.3 6 -1 4 0.6 4 -0.5 1.1 -1 0.9 -1 -0.1 -1.2 -2.9 -0.2 -5 -1.7 -8 0.1 -2 1 -4 -1.4 -10 1 -4 0.6 -7 -0.3 -2 -1.6 -3 -0.2 -2 1.4 -10zM117.3 412l0.2 -0.7 0.9 1.7 -0.9 0.8zM117.1 418l1.4 -0.6 1 0.8 0.6 1.8 -1.3 7 -0.3 1 -1 1 -1 -0.3 -0.5 -0.7 -0.3 -2 0.4 -6zM117 338l0.5 -0.7 1 0.2 0.1 0.5 -0.1 2.1 -1 1.8 -1 -0.1 -0.3 -0.8 0.2 -2zM116.2 348l0.3 -0.5 1 -0.3 0.8 0.8 0.5 1 0.3 2 -0.1 4 -0.6 3 0.8 6 -0.2 3 0.4 4 -0.9 1.9 -1 0.8 -1 -0.7 -0.7 -2 0.4 -4 -0.2 -2 -2.2 -4 1.6 -11zM116 375l0.5 -0.7 1 0 2.5 5.7 0.4 2 -0.8 12 0.5 6 -1.5 4 0.5 3 -0.6 1.3 -1 -0.7 -0.2 -0.6 -0.1 -3 -2.4 -10 0 -2 1.1 -4 -1.3 -10 0.9 -2.6zM117.4 419l1.1 -0.2 0.9 1.2 -1.9 7.4 -0.7 -0.4 -0.2 -1 0.6 -2 -0.3 -4zM117.4 339l0.1 1.2zM116.2 349l0.3 -0.5 1 -0.3 1 1.4 0.2 1.4 0 4 -0.7 3 0.5 7 -0.6 2 1 3 -0.4 1.6 -1 0.4 -1.1 -1 0.1 -2 0.7 -2 -0.3 -1 -0.8 -2 -2 -3 0.8 -4 0.1 -3zM116.5 376l1 0.2 1 1.3 1.2 2.5 0.4 2 -0.9 13 0.5 5 -1.2 2.4 -1 -0.3 -0.4 -1.1 -2 -7 0.1 -2 1.1 -4 -1.4 -9 0.6 -2.3zM117.3 349l0.9 1 0.2 4 -0.8 4 0.3 3 -0.4 3.3 -2 -1.6 -1.1 -1.7 0.7 -3 0.1 -3 0.7 -4 0.6 -1.7zM117.2 370l0.3 -0.6 0.4 0.6 -0.4 0.8zM116.4 377l1.1 0.2 1 1.2 0.8 1.6 0.4 2 -1 13 0.7 4 -0.1 1 -0.8 1.3 -1 -0.6 -0.3 -0.7 -1.7 -6.2 0 -1.8 1.3 -4 -1.5 -9 0.2 -1.1zM116.8 350l0.9 0 0.3 4 -0.9 4 0.2 4 -0.8 0.9 -1.2 -0.9 -0.6 -1 0 -1 1 -3 -0.2 -2.4 1 -4.4zM116.3 378l1.2 0 1 1.1 0.8 1.9 -0.8 6.7 -0.8 0.3 -0.2 0.5 -1 -3 -0.8 -5.5 0 -1zM117 390l0.5 -1 1 0.9 0.1 2.1 -0.6 3 0.9 4 -0.4 1.3 -1 -0.8 -1.5 -5.5 0 -2zM117 352l0.5 -0.5 0.2 3.5 -1.2 2.7 -0.7 -2.7 0.7 -2.9zM115.4 359l1.1 -0.9 0.6 2.9 -0.6 1.2 -1 -0.4 -0.5 -0.8zM116.3 379l0.2 -0.3 1 0 1 1.1 0.4 1.2 -0.4 4.7 -1 1 -0.6 -1.7zM117.3 391l0.4 0 0.2 1 -0.4 2 -1 -0.4 -0.1 -0.6 0.1 -1.1zM116.4 354l0.1 -0.3 0.4 0.3 0.2 1 -0.6 1zM115.3 360l0.2 -0.5 1 0 0 1.8 -1 -0.1zM116.7 380l0.8 -0.5 1.1 1.5 -0.1 1.6 -1 2.6z" fill="none" stroke="#1c1c1c" stroke-width="1.0"/>
<path d="M170.1 431l4.4 -0.5 7 0.7 7 0.2 3 -0.3 3 0.7 1.8 1.2 -0.5 1 -3.3 0.7 -4 -0.3 -3 0.5 -4 -0.2 -3 0.6 -5 -0.4 -4 0.4 -4.9 -1.3 -1.7 -1 2.1 -1zM118.9 432l3.6 -0.6 3.6 1.6 -3.6 1.2 -3 -0.2 -2.1 -1zM128.7 432l6.8 -0.6 5 0.5 3 0.7 1 0 3 -1.3 5 0 3 1.1 3 -0.1 2.1 0.7 -0.8 1 -1.3 0.3 -1.9 -0.3 -2.1 -1 -7 1.1 -3 -0.5 -4 0.9 -9 0.8 -2 -0.6 -2.9 -1.7zM203.5 433l5 -0.8 7.1 0.8 -6.1 1.7 -4.2 -0.7z" fill="#000" fill-opacity="0.9" stroke="none"/>
<path d="M112.5 430.6l9 -1 4 0.5 10 -0.4 7 0.4 10 -0.8 5 0.7 9 0 9 -0.7 11 0.7 5 -0.4 6 0.9 17 0 7 1 11 0.6 2.6 0.9 -0.6 1 -1 0.3 -7 1.4 -11 0 -6 0.7 -12 -0.5 -5 0.4 -9 0 -5 0.6 -5 -0.6 -4 0.3 -5 -0.6 -6 0.4 -5 -0.7 -5 0.5 -12 0.1 -5 0.5 -5 -1.1 -7 0.3 -7 -0.5M112.5 432.2l9 -1.7 4 0.6 10 -0.6 8 0.6 4 -0.7 5 -0.2 4 0.8 3 0 16 -0.9 12 0.5 4 -0.2 7 1.7 4 -0.7 12 0 8 1.9 3 0.1 1.1 0.6 -2.1 0.5 -10 0.2 -5 0.9 -11 -0.9 -5 0.7 -11 0.1 -4 0.5 -5 -0.4 -5 0.2 -5 -0.8 -5 0.5 -5 -1 -6 0.7 -16 0.7 -5 -1.3 -7 0.5 -7 -1.2M147.4 431l5.1 -0.2 3 0.8 6 0.4 13 -1.6 13 0.8 4 -0.3 4 1 1.7 1.1 -0.3 1 -3.4 0.9 -11 0 -4 0.7 -5 -0.4 -4 0.3 -7 -1.4 -4 0.7 -5 -1.2 -5 0.8 -4 -0.1 -13 1.2 -5 -1.8 -5 0.8 -4.4 -0.5 -1.3 -1 3.7 -1.6 3 -0.3 4 0.9 9 -0.9 8 0.8zM206.4 432l7.1 0 4.1 1 -1.1 0.8 -8 1.2 -6.6 -1 -0.4 -0.4 -0.3 -0.6 1.3 -0.5zM171.3 431l4.2 -0.3 5 0.6 8 0.3 3 -0.3 2.9 0.7 1.4 1 -0.7 1 -2.6 0.5 -4 -0.3 -3 0.5 -4 -0.2 -3 0.6 -5 -0.3 -4 0.4 -4.1 -1.2 -1.2 -1 1.9 -1zM119.7 432l2.8 -0.3 1.1 0.3 0.9 1 -2 0.9 -2 0 -2 -0.9zM130.3 432l6.2 -0.3 4 0.5 2.6 0.8 -1.6 1.1 -10 1 -2 -0.6 -1.7 -1.5zM146.1 432l2.4 -0.5 5 0.5 -1.9 1 -4.1 0.8 -2.6 -0.8zM156.3 433l1.2 -0.3 1.7 0.3 -0.7 1 -1 -0.1zM205.5 433l3 -0.5 4.2 0.5 -1.3 1 -1.9 0.4 -3 -0.4zM174 431l7.5 0.8 4 -0.2 3 0.7 3 -0.6 1.8 0.3 1.4 1 -1.2 1 -1 0.2 -4 -0.6 -3 0.8 -4 -0.4 -3 0.7 -9 0.2 -3 -0.9 -0.7 -1 2.7 -1.3zM120.5 433l1 -0.6 1.3 0.6zM129.3 433l2.2 -0.7 3 -0.2 6 0.9 -3.9 1 -5.1 0.7 -1.8 -0.7zM168.5 432l7 -0.8 6 1.4 1.6 -0.6 2.4 -0.1 2.5 1.1 -2.5 1.1 -4 -0.9 -3 1.1 -9 0.3 -2.2 -0.6 -0.6 -1zM130.7 433l2.8 -0.3 2 0.3 -1.3 1 -1.7 0.3 -1.8 -0.3zM189.6 433l1.9 -1 2.2 1 -1.2 0.6 -1 0zM169.6 432l5.9 -0.6 2.9 0.6 1.7 1 -2.6 1.1 -8 0.3 -1.5 -0.4 -0.6 -1zM183 433l1.5 -0.7 2.3 0.7 -1.3 0.7zM191.3 433l0.9 0zM171.3 432l4.2 -0.3 1.7 0.3 1.6 1 -2.3 0.8 -7 0.3 -0.6 -0.1 -0.8 -1zM184.2 433l1.5 0zM172.9 432l3.2 0 1.5 1 -2.1 0.6 -6 0 -0.7 -0.6zM170.1 433l2.4 -0.2 2 -0.7 2 0.9 -2 0.3z" fill="none" stroke="#1c1c1c" stroke-width="1.0"/>
<path d="M246.9 383.2h.9M257.9 377.2h.9M243.2 368.7h.9M254.3 363.3h.9M279.4 387.6h.9M225.3 389.3h.9M205.8 394.8h.9M275.2 346.1h.9M249.6 360.4h.9M257.2 330.9h.9M252.6 366.1h.9M260.4 374.4h.9M254.8 389.6h.9M251.5 363.5h.9M254.4 355.2h.9M252.7 408.7h.9M273.6 388h.9M255.3 356.5h.9M240.3 380.9h.9M280.6 376h.9M252.2 372.4h.9M217.6 389.7h.9M244 401h.9M207.7 421.6h.9M247.4 368.1h.9M232.8 383.3h.9M195.6 400.4h.9M260 378.5h.9M291 373.1h.9M232.5 430.1h.9M213.6 392.4h.9M185.3 308.7h.9M223.4 329.9h.9M234.2 396.9h.9M249.9 317.7h.9M243.1 371.4h.9M243.3 321.6h.9M247 407.4h.9M250.1 376.7h.9M201.4 327.8h.9M272.6 330.7h.9M231.7 380.7h.9M253 370.8h.9M267.6 401.3h.9M207.3 384.2h.9M200.1 408.6h.9M228 382h.9M256.5 369h.9M234.3 323h.9M246.8 367.9h.9M197.3 312.6h.9M276.6 310.4h.9M264.2 346.6h.9M250.6 412.6h.9M219.1 321.5h.9M238.2 325.9h.9M232.5 378.9h.9M240.2 381.9h.9M191.1 405.6h.9M250.3 327.8h.9M293.4 294.7h.9M233.6 390.4h.9M247.8 313.8h.9M226.3 271.4h.9M210.7 406.9h.9M212.4 388.3h.9M235.4 401.9h.9M262.2 380.8h.9M258.6 355.6h.9M248.7 404.2h.9M202.3 383.7h.9M196.7 392.6h.9M250.6 401.8h.9M235 401.9h.9M226.4 393.8h.9M178.6 331h.9M281.8 376.9h.9M249.7 374.2h.9M249.7 395.2h.9M279.5 322h.9M289.9 345.1h.9M233.3 382.8h.9M215.6 406.5h.9M218.2 417.5h.9M262.6 358.4h.9M245.9 375.9h.9M289.3 351.9h.9M219.1 432.1h.9M253.6 372.2h.9M229.7 395.4h.9M241.4 387.7h.9M250.6 397.1h.9M285.8 325.9h.9M242.3 395.3h.9M299.1 378.4h.9M237.6 379.4h.9M220.2 308.4h.9M244.4 380.8h.9M255.2 394h.9M180.1 392.9h.9M303.9 379.2h.9M255.9 321.7h.9M241.2 377.9h.9M213.7 398.2h.9M239.2 380.1h.9M257.4 351.5h.9M249.2 333.7h.9M184.8 385.8h.9M273.7 374.7h.9M304 363.8h.9M209.9 396.4h.9M224.9 388.7h.9M251.7 396.7h.9M235.3 378.2h.9M263.1 361h.9M193.6 381.8h.9M244.8 322.6h.9M173.6 338.5h.9M213.8 406.8h.9M262.2 367.7h.9M222.3 318.4h.9M211.3 387.1h.9M245.5 373.7h.9M192.2 422.9h.9M234.1 387.9h.9M218.9 403h.9M195.8 405.7h.9M190.5 331.3h.9M205.1 331h.9M187.9 332.7h.9M235.7 407.3h.9M217.1 407h.9M268.1 349.6h.9M215.7 411.1h.9M257.7 343.6h.9M264.7 376.6h.9M218.6 413.1h.9M231.5 396.2h.9M196.3 385.9h.9M230.9 381.2h.9M221.4 386.4h.9M227.4 429.9h.9M293.5 405.6h.9M212.3 396.6h.9M248.2 419.5h.9M182.8 391h.9M260.6 412.4h.9M244.9 376.8h.9M259.8 367.1h.9M287.4 332.8h.9M271.7 329.7h.9M228.8 392.5h.9M273.1 385.4h.9M218 391.9h.9M227.1 389.1h.9M248.4 366.1h.9M199 386.2h.9M284.6 348.3h.9M220.6 309.1h.9M261 314.1h.9M212.2 412.9h.9M213.1 387.3h.9M247.3 386.5h.9M223.3 307.8h.9M266.9 369h.9M261.3 378.3h.9M243.5 334.5h.9M272.2 334.2h.9M251.3 398.1h.9M208.9 327h.9M209.5 331.1h.9M235.9 401.1h.9M238.5 379.3h.9M288.3 366.4h.9M210.7 411.3h.9M228.3 382.3h.9M263.3 281.2h.9M219.4 328.4h.9M226.2 388.7h.9M228.3 389.1h.9M243.4 373.6h.9M232.3 390.2h.9M283.4 413.3h.9M258.4 387.4h.9M225 313.7h.9M228.9 386.6h.9M249.8 339.7h.9M278.4 424.6h.9M254.6 387.1h.9M201.3 387.9h.9M211.6 413.5h.9M234.5 387.3h.9M257.5 384.8h.9M170.3 335.3h.9M253.8 339.9h.9M188.7 312.7h.9M246.9 380.8h.9M243.3 403.2h.9M192.2 326.9h.9M185.8 334.5h.9M169.4 335.8h.9M162 324.2h.9M117.1 332.4h.9M173.1 326h.9M127.3 303.6h.9M177.5 335.5h.9M171.1 333.5h.9M159.2 334.3h.9M145 318.1h.9M183.9 328h.9M202.5 332.3h.9M188.6 327.2h.9M229.5 315.1h.9M170.9 335.6h.9M143.5 322.1h.9M191.9 328h.9M206.1 334.3h.9M159.7 311.9h.9M138.1 323.6h.9M137.6 329.4h.9M141.5 336h.9M183.6 334.9h.9M160.9 325.8h.9M151.6 333.3h.9M154 335.8h.9M135.6 335.8h.9M148.7 326.6h.9M173.8 333.1h.9M156.2 334.9h.9M137.1 321h.9M135.9 336.6h.9M220.5 323.6h.9M205 336.3h.9M217.9 329.3h.9M173.4 324.8h.9M174.8 336.4h.9M200.1 322.1h.9M152 331.6h.9M154.3 336h.9M170.3 332.8h.9M179.6 321.8h.9M144.6 335.8h.9M199.9 330h.9M190 334.1h.9M215.3 329.8h.9M155.2 319.2h.9M157.1 329.2h.9M147.5 311.2h.9M196.9 329.1h.9M171 324.9h.9M147.9 333.6h.9M179.4 332.1h.9M137.5 334.7h.9M149.8 333.5h.9M122.7 328.1h.9M181.3 326.2h.9M184.1 326.6h.9M162 323.5h.9M186.6 333.5h.9M181 332.6h.9M179.3 327.9h.9M194.6 324.5h.9M198.6 331.9h.9M120.3 349.1h.9M130.7 330.6h.9M152 314.8h.9M124.9 343.8h.9M175.6 326.9h.9M129.8 339.4h.9M149.5 327.3h.9M188.3 332.8h.9M145.3 331.4h.9M168.1 322.7h.9M229.6 326.7h.9M121.9 334.9h.9M225.1 322.9h.9M176.7 335.1h.9M126.6 321.8h.9M126.7 327.9h.9M236 400.1h.9M233.7 393.9h.9M266.8 400.1h.9M224.2 399.6h.9M197.6 407.9h.9M234.7 410.1h.9M218.6 393.6h.9M178.3 421.4h.9M223.8 390.9h.9M214.7 389.8h.9M211.1 406.9h.9M150.6 427h.9M200.1 414.3h.9M243.5 401.2h.9M195.4 410.9h.9M218.4 400.9h.9M220.8 420.5h.9M179.6 420.6h.9M198 401h.9M221.6 435.1h.9M188.6 394.9h.9M234.1 408.1h.9M213.1 409.3h.9M181.7 417.6h.9M178.6 414.5h.9M193.3 393.5h.9M211.5 432.1h.9M201.4 427.5h.9M233.3 409.1h.9M243.1 431.8h.9M275.9 401.2h.9M227.9 398.7h.9M217.9 407.1h.9M221.8 419.6h.9M179.8 386.6h.9M184.2 403.5h.9M245.2 396.9h.9M236.5 389h.9M238.7 431.6h.9M189.6 408h.9M223.1 399.5h.9M198.8 429.5h.9M248.1 396.5h.9M220.8 403.1h.9M229.9 414.9h.9M246.3 410.9h.9M186.2 399.3h.9M231.7 413.6h.9M191.2 407.4h.9M207 424.5h.9M225 405.3h.9M213.9 415.9h.9M196.4 386.4h.9M197.8 403.2h.9M228.5 420h.9M182.1 387h.9M243.4 390.4h.9M220 415h.9M236.6 408.8h.9M217 421.3h.9M207.1 404.1h.9M187.3 400.7h.9M216.7 412.6h.9M190.3 416.4h.9M209.9 436.4h.9M232.3 407.4h.9M211 431.4h.9M247.7 389.7h.9M233.5 400.3h.9M198.8 417.9h.9M196.8 407.5h.9M239.2 406.2h.9M226.2 415h.9M233.1 405.5h.9M234.8 423.1h.9M199.3 406.8h.9M230.1 392.5h.9M248.8 417.6h.9M237.7 396.6h.9M234.2 422.6h.9M203.2 393.3h.9M239.1 405.3h.9M210.9 402.6h.9M187.7 425.6h.9M242.3 408.2h.9M171.2 415.6h.9M190.5 418.9h.9M253.3 428.4h.9M187.3 409.3h.9M179.9 394h.9M219.1 385.9h.9M258.1 424h.9M230 408.2h.9M189.7 413.7h.9M195.5 433h.9M175.2 412h.9M255.1 425.8h.9M201.4 394.9h.9M184.8 400.3h.9M144.3 426.9h.9M220.3 390.3h.9M229.2 408.7h.9M240.1 397.7h.9M209.2 386.5h.9M175.6 417h.9M206 407.1h.9M245.6 404.4h.9M217.5 425.5h.9M216.5 403.9h.9M183.8 421.3h.9M181.5 433.1h.9M180.7 388h.9M212.9 396.2h.9M192.3 431.7h.9M209.8 418.1h.9M184.9 402.7h.9M172.5 407.8h.9M199.5 407.6h.9M187.9 414.9h.9M247.1 426.8h.9M211.7 433.9h.9M246.6 391.1h.9M188.7 415.2h.9M214.3 420.4h.9M223.2 420.1h.9M170.7 420.1h.9M170.7 417.2h.9M197.8 410.3h.9M218.1 419h.9M176.6 424h.9M193.2 426.6h.9M302.4 408.1h.9M222.6 409.5h.9M251.7 401.5h.9M180.4 381.6h.9M195.7 383.8h.9M188.1 401.3h.9M248 400.5h.9M229.9 416.4h.9M218.8 418.2h.9M232.4 417.1h.9M244.2 397h.9M208.4 387.2h.9M162.2 423.7h.9M182.9 380.9h.9M207.3 408.1h.9M171.4 416.4h.9M242.3 429.6h.9M194.9 409h.9M185.4 420.3h.9M256.6 411.6h.9M245.5 427.9h.9M209.8 435.7h.9M188.8 401.7h.9M249 418.6h.9M204.6 412.8h.9M179.6 404h.9M190.3 415.5h.9M207.3 420.2h.9M222 418h.9M174.8 410.4h.9M238.7 394h.9M222.3 421.2h.9M227.1 406.7h.9M196 431.2h.9M151.3 427.7h.9M199.8 426.7h.9M183.6 401.4h.9M255.8 411h.9M229 433.4h.9M241.2 411.4h.9M213.1 408.7h.9M202.1 398h.9M197.2 411h.9M192 411.8h.9M200.7 421.1h.9M179.6 424.4h.9M162.4 420.8h.9M236.1 411.2h.9M208.9 404.1h.9M177.4 410.6h.9M264.3 423.9h.9M179.8 426.3h.9M199.3 434.9h.9M234.4 378.1h.9M196.6 427.6h.9M242.3 402.9h.9M203.8 412.1h.9M192.9 414.4h.9M195.2 391.7h.9M208.4 414.3h.9M202.8 414.9h.9M244.5 425.4h.9M189.6 419.8h.9M201.9 399.5h.9M262.3 404.6h.9M167.7 430.1h.9M219.4 419.4h.9M200.6 424.1h.9M214.6 413h.9M271.9 399.1h.9M222.9 425.7h.9M194 409.1h.9M265.8 418.3h.9M190.7 384.2h.9M229.1 399h.9M220.2 403.5h.9M286.4 411.8h.9M241.3 416h.9M182.3 404.6h.9M169 428.9h.9M174 425.3h.9M193.3 403.5h.9M220.3 390.7h.9M259.8 380h.9M239.7 393.5h.9M220 389.2h.9M235.4 426.1h.9M209.6 415.4h.9M264.8 427.5h.9M212.6 435.1h.9M188.6 413.6h.9M205.9 416.1h.9M219.9 400.9h.9M170 423.9h.9M205.7 432.6h.9M256.6 412.9h.9M181.7 433h.9M231.2 406h.9M186.4 426.9h.9M180.4 418.1h.9M234.6 426h.9M208.7 419.1h.9M200.3 421.9h.9M203.7 392.3h.9M266.8 423.8h.9M188.9 423h.9M231.7 410.4h.9M229.8 389.9h.9M248.9 419.4h.9M204.5 419.1h.9M256.3 395.1h.9M211.2 295.1h.9M175.5 316.3h.9M197.3 254.4h.9M270.9 326.2h.9M297.3 352h.9M303.4 362.7h.9M278.4 315.4h.9M199.3 298h.9M288.4 275.8h.9M204.6 323.9h.9M201.8 309.4h.9M282.2 374.2h.9M281 394.1h.9M230 314.1h.9M220.9 324.8h.9M275.1 358.6h.9M276.6 347h.9M176.4 332.8h.9" fill="none" stroke="#222" stroke-width="1.0"/>
</g>
<rect x="201" y="312" width="68.5" height="80" fill="none" stroke="#000" stroke-width="2.2"/>
<text x="235.8" y="298.9" font-size="27.5" font-weight="bold" font-style="normal" text-anchor="middle">18</text>
<g clip-path="url(#cA11)">
<path d="M421.9 323l5.7 -0.6 5 0.3 7 1.6 5 2.3 4 3 3.8 4.4 1.7 3 1.9 5 0 7 -0.8 5 -3.6 8 -2.8 9 -5.2 6.5 -2.5 7.5 -2.5 3.2 -4 2.7 -6 1.8 -6 -0.2 -4 -1 -8 -3.6 -9.3 -7.9 -2.7 -2.9 -6.6 -9.1 -2.4 -1.1 -9 -1.5 -1.6 0.6 -0.4 1 0.5 3 1.6 4 0.4 2 -0.2 3 -0.9 3 -1.4 2.2 -5 4.4 -2 2.4 -7.4 15 -3 4 -2.6 2.5 -4 2.3 -4 1.3 -3 0.3 -5 -0.3 -16 -4.7 -3 -1.6 -1.8 -1.8 -2.4 -4 -2.3 -6 -0.6 -3 -0.6 -9 0.5 -7 4.3 -22 1.2 -3 5.4 -8 12.3 -11 3 -2.1 3 -1.1 10 -1.5 3 0.3 4 1 5 1.7 5.4 2.7 2.6 0.5 4.7 -0.5 8.3 -1.7 12 -0.4 3 -0.9 6 -4.4 5 -2.9 5 -2.2zM424.2 325l6.4 -0.3 4 0.5 4 1.2 5 2.4 3 2.2 3.4 4 2.2 4 0.9 3 0.1 6 -0.8 5 -5.8 10.5 -6.5 6.5 -0.7 2 -1.1 6 -1.7 4.9 -1 1.3 -4 2.4 -3 1 -3 0 -3 -0.8 -4.7 -2.8 -2.3 -1.9 -4 -5.6 -9.6 -10.5 -3.4 -2.8 -5 -1.7 -8 -0.8 -7 -2.6 -4 -0.2 -2 0.5 -4 2.1 -9 3.8 -2 0.3 -6 -0.9 -4 -0.1 -2.2 0.4 -1.2 1 -0.2 1 0.4 1 1.2 1 4 1.1 6 0.4 2 0.8 7.4 6.7 1.2 2 0.9 6 -1.9 9 -1.3 3 -4.7 8 -2.6 3 -6 3.3 -3 0.6 -3 0 -3 -0.7 -13 -4.7 -2 -1 -2 -1.6 -3.7 -6.9 -0.7 -3 -0.4 -9 1.7 -10 1.1 -2.7 3.7 -6.3 0.3 -2 -0.6 -5 0.6 -2 5 -7 5 -5.4 4 -5.6 2 -2.1 2 -1.2 2 -0.5 7 -1.3 3 0 7 1.8 9 4.3 4 0.9 3 -0.4 10 -2.5 5 -0.4 6 0.2 2 -0.4 2 -1.1 6 -5.3 4 -2.7 6 -2.6zM421.2 327l4.4 -0.7 7 -0.1 4 1 5 2.2 3.8 2.6 2.7 3 2.3 4 1 4 0 5 -0.6 4 -4.8 9 -2.4 2.8 -4.6 3.2 -2 2 -0.9 2 -0.2 5 -1 2 -3.3 3.2 -3 1.7 -3 0 -2 -0.7 -2 -1.4 -2.9 -2.8 -10.1 -12.7 -6.8 -5.3 -4.2 -1.5 -8 -0.5 -4 -1 -5.2 -2 -1.5 -1 -2.3 -2.4 -1 -0.3 -3.1 2.7 -4.9 3 -9 3.5 -2 0.3 -15 -0.8 -2 0.6 -3 2.2 -2 -0.5 -2.4 -2.3 -0.2 -1 0.5 -1 3.1 -1.4 0.6 -0.6 1.5 -5 4.1 -9 1.8 -2.7 2 -1.2 9 -1.9 4 0.3 4.2 1.5 12.8 6.8 2 0.5 2 -0.5 7 -3.5 3 -0.9 5 -0.5 6 1.1 2 -0.5 3 -2.4 7 -6.8 4 -2.5zM337.2 371l1.4 -0.2 3 0.7 5 0.6 9 2.3 1.1 0.6 1.8 2 3.7 7 0.7 3 0.1 4 -0.4 3 -0.8 2 -5.4 8 -2.8 2.2 -4 1.9 -3 0.5 -3 -0.3 -13 -4.6 -3.4 -2.7 -3 -4 -0.8 -2 -0.1 -2 1.1 -4 -0.1 -5 0.3 -5 1 -3 1 -0.9 2 -0.8 5 -0.7zM421.6 328l3 -0.5 8 -0.2 4 1.1 4 1.9 3.9 2.7 2.8 3 1.7 3 1 4 0.1 4 -0.6 4 -4.5 9 -2.4 2.6 -9.2 6.4 -0.7 1 -0.2 1 0.6 3 -0.4 2 -2.1 2 -3 1.1 -2 -0.3 -2 -1.1 -2.1 -2.7 -1.9 -5 -1.1 -1 -3.9 -2.2 -10 -9.2 -5 -2.5 -8 -1 -1.2 -1.1 -1.3 -3 -1.5 -0.1 -2 0.8 -1 0.1 -1 -0.6 -0.6 -1.2 0.5 -2 2.1 -1.8 2.3 -1.2 4.7 -1.5 3 0.2 4 2.4 2 -0.3 2 -1.6 9 -10.5 4 -2.6zM352.9 339l3.7 -0.6 2.8 0.6 3.7 2 4.6 4 1.5 2 0.4 2 -0.1 2 -1.1 2 -4.8 2.9 -3 0.8 -4 0.5 -9 0 -2 -0.8 -2 -1.6 -1.5 -1.8 -0.4 -2 1 -5 1.7 -4 2.2 -1.8zM342.9 375l2.7 -0.6 2 0.3 2 0.8 3.8 2.5 2.2 1.9 2.6 3.1 1.1 2 0.6 2 0.6 6 -1.4 4 -3.6 5 -2.9 2.1 -3 1.2 -3 0.3 -3 -0.4 -11 -3.4 -2 -1.2 -1.6 -1.6 -1.5 -2 -0.9 -2 0 -1 1.8 -4 -0.3 -6 0.5 -3 0.9 -1 1.1 -0.6 8 -2.1zM421.4 329l3.2 -0.6 7 -0.3 3 0.6 4 1.8 4 2.5 3.3 3 1.9 3 1 4 0.1 4 -0.6 4 -4.1 8 -1.7 2 -4.9 3.4 -8.8 4.6 -1 1 -0.2 1 1.2 3 -0.5 1 -0.7 0.3 -1.5 -0.3 -0.9 -1 0 -3 -1.4 -2 -3.2 -2 -4 -1.7 -3 -2.1 -7 -7.2 -3.5 -5 0 -2 3 -6 5.7 -8 3.8 -3.2zM348.4 342l6.2 -0.6 2.6 0.6 7.7 6 1.2 2 -0.1 1 -0.6 1 -1.8 1.4 -2 0.8 -2 0.3 -6 -0.8 -7 -2.7 -1 -0.8 -0.7 -1.2 0.1 -3 1.5 -3zM344.5 377l2.1 -0.4 1.3 0.4 5.7 5 2 3 2.3 6 0 3 -1.8 4 -2.9 3 -3.6 2 -4 -0.1 -6 -0.9 -3 -0.9 -4 -2.1 -1 -1.1 -0.8 -1.9 2.6 -13 0.8 -1 1.4 -0.7 5 -1.6zM421 330l3.6 -0.7 7 -0.3 4 1 4 2.2 5 4 2.1 2.8 0.8 3 0.4 4 -0.4 4 -1.2 3 -3.5 6 -2.2 2 -5 3.3 -8 2.5 -2 0.1 -2 -0.5 -6 -2.4 -3 -1.8 -6 -6.2 -1.4 -2 -1.1 -3 -0.1 -3 1.3 -4 5 -8 3.1 -3zM348.4 345l2.2 -0.8 2 0.4 1 0.4 3 2.9 4.4 1.1 1.2 1 0 1 -1.6 1.1 -2 0 -4 -2 -5 -1.6 -1.1 -0.5 -0.7 -1 0 -1zM345.6 379l2 0.3 4.1 4.7 2 8 0.1 2 -0.5 2 -2 3 -2.7 1.5 -8 -0.4 -2 -0.4 -2.6 -1.7 -1.2 -2 -0.4 -4 0.6 -4 2 -4 5.6 -2.8zM429.3 330l3.3 0 3.1 1 3.4 2 5.5 4.7 1 1.4 0.9 2.9 0.4 6 -0.7 3 -1 2 -2.6 4.3 -2.5 2.7 -5.5 3.4 -7 1.6 -2 0.2 -3 -0.7 -5 -1.9 -4 -2.8 -4.9 -5.8 -1 -3 -0.1 -3 1.5 -5 5.5 -8.1 7 -4.2 3 -0.6zM345.4 383l1.2 0 1.4 2 1.7 6 -0.1 3 -1 1.4 -3.2 1.6 -2.8 0.5 -2 -0.2 -1.3 -1.3 -0.5 -2 -1.2 -2.2 -0.4 -1.8 0.3 -2 1 -2 1.1 -1.1zM423.3 331l8.3 -0.2 4 1.1 3.2 2.1 4.6 4 1.9 3 0.7 6 -0.5 3 -0.8 2 -4.1 6 -3 2.6 -3 1.6 -9 1.4 -5 -1.1 -3.4 -1.5 -2.6 -1.8 -3.9 -4.2 -1.2 -2 -0.6 -2 0 -3 0.7 -3 1.5 -3 4.5 -6.6 5.1 -3.4zM422.6 332l3 -0.5 7 0.3 2 0.6 2.6 1.6 5.4 4.8 1.5 2.2 0.9 5 -0.2 3 -0.6 2 -1.6 2.7 -3.4 4.3 -3.6 2.7 -3 0.9 -7 0.4 -4 -0.6 -3.5 -1.4 -2.5 -1.5 -3 -2.9 -1.9 -2.6 -0.6 -2 -0.1 -3 0.6 -2.4 1.2 -2.6 4 -6 5 -4zM422.5 333l3.1 -0.7 7 0.6 2 0.7 2 1.4 2.6 3 2.6 2 1.4 2 0.7 5 -0.8 4 -5.4 7 -2.1 1.6 -2 0.8 -2 0.1 -6 -0.1 -3 -0.5 -6 -2.5 -3 -2.3 -1.7 -2.1 -0.7 -2 -0.1 -2 0.5 -2.5 1 -2.5 4 -5.7zM422.7 334l2.9 -0.9 8.8 1.9 3.5 4 2.9 2 1.4 2 0.6 4 -0.2 2 -0.7 2 -4.7 6 -2.5 2 -4.1 0.5 -7 -1.1 -8 -3.3 -2 -1.8 -0.8 -1.3 -0.4 -2 0.2 -2 1.5 -4 2.5 -3.7zM423.2 335l2.4 -0.8 2.2 0.8 0.8 1 0.2 1 -2.1 4 0 1 0.9 1.5 2 0.4 1 -0.5 3 -4.3 1 0.1 5 2.7 1.6 2.1 0.5 3 -0.6 3 -5.4 7 -1.1 0.8 -3 0.7 -6 -0.9 -5 -2.6 -4 -1.2 -2.1 -1.8 -0.4 -3 1.5 -5 2 -3 3.6 -3zM424.5 337l0.6 0zM419.8 341l2.8 -0.4 1 1.1 1 2.6 1 1.3 4 0.9 2 -0.4 3 -3.7 1 -0.3 2 0.4 2 1.4 0.5 1.1 0.4 2 -0.3 2 -0.6 1.3 -2.8 2.7 -2 3 -1.2 1 -3 0.3 -5 -0.9 -2.5 -1.4 -2.5 -2.2 -3 -1.4 -1.1 -1.4 -0.3 -3 0.7 -3 1.4 -2zM419.4 343l1.2 -0.4 1.1 0.4 0.9 1.8 0.3 2.2 0.7 1.1 4 0 4 1.7 1 0 1 -1.4 1.4 -3.4 1.6 -0.9 1 0.3 1 0.9 0.4 2.7 -1.1 2 -3 2 -2.3 3.3 -2.5 0.7 -3.5 -0.4 -2 -0.9 -1.6 -1.7 -1.4 -3.7 -3 -1.6 -0.6 -1.7 0.1 -1zM425.5 350l2.1 -0.1 1.6 1.1 0.8 2 -0.5 1 -0.9 0.4 -2 -0.1 -1.9 -1.3 -0.4 -1 0.2 -1z" fill="none" stroke="#1c1c1c" stroke-width="0.9"/>
<path d="M316.6 342l1 -0.2 0.8 1.2 0.2 2 -0.3 2 0.6 3 -0.7 5 0.9 7 -0.7 4 0.6 4 -1.6 5 0.4 2 1.7 5 -0.6 7 -1.3 4 1.5 5 0 4 -0.6 4 0.8 5 -0.9 6 0.6 5 -0.5 5 -0.9 2.7 -1 0.9 -1 0 -1 -1.2 -0.3 -1.4 -0.6 -4 0.3 -4 -0.8 -5 0 -4 0.9 -6 -1 -8 1.1 -4 -0.3 -5 1.6 -11 -2 -5 -0.1 -9 0.8 -5 -0.2 -6 2.4 -4 -0.7 -4z" fill="#000" fill-opacity="0.5" stroke="none"/>
<path d="M313.5 438l-1.2 -8 -0.8 -14 0.4 -14 -0.6 -5 0.6 -5 -0.2 -5 0.6 -10 -0.6 -6 0.5 -16 -0.5 -4 1.4 -5 0.1 -8 -0.4 -5 1.7 -5 0.1 -6 1 -2.2 1 -0.5 2 2.5 0.8 2.2 0.3 12 1.2 10 -0.4 7 0.4 4 -0.4 8 0.4 4 -0.3 5 0.7 8 -0.7 11 0.5 6 -0.1 8 0.2 3 -0.4 7 0.3 5 -1.2 11 0.2 5M315.6 438l-0.8 -4 -1.5 -5 -0.3 -9 -0.6 -4 0.5 -11 -0.7 -8 0.8 -5 -0.2 -4 0.8 -11 -1 -6 0.1 -8 0.5 -6 -0.3 -5 0.2 -1 1.5 -3 0 -6 1.8 -5 -1.7 -3 -0.2 -1 0.9 -2 1.2 -0.7 1 0.7 0.5 2 -0.5 2.8 -0.6 1.2 2.3 4 0.5 3 0 6 -0.5 4 0.5 8 -0.4 4 0.5 4 -0.6 5 1.1 7 -0.6 8 -0.6 3 0.9 7 0.1 3 -0.5 3 0.5 5 -0.6 6 0.4 5 -0.8 7 -1.2 4 -0.4 3.8 -0.6 1.2M316.7 341l0.9 -0.2 1 1.1 0.4 2.1 0.2 6 -0.7 4 0.8 8 -0.6 4 0.6 4 -1.1 5 1.6 8 -0.7 7 -1 3 1.3 5 0 5 -0.5 3 0.7 5 -0.8 6 0.5 4 -0.5 6 -1.2 3.6 -1 0.9 -1 0 -1 -0.9 -0.5 -1.6 -0.6 -5 0.2 -4 -0.8 -5 0.8 -10 -0.9 -8 1 -4 -0.3 -5 1.2 -11 -1.5 -5 -0.1 -9 0.8 -5 -0.2 -6 2.1 -4 -0.5 -4 0.3 -1.6zM316.4 343l1.2 -0.5 0.6 1.5 -0.6 3 1.1 3 -0.7 5 0.9 7 -0.8 4 0.7 4 -0.5 2 -1.7 3.5 -1 -0.2 -1 -1.1 -1 -3.2 0.3 -4 -0.2 -5 0.8 -4 -0.3 -6 3.1 -4 0.3 -1 -1 -0.9 -0.4 -1.1zM316.2 378l0.4 -0.9 1 1 1.5 2.9 0.2 2 -0.7 6.2 -1.5 3.8 1.3 3 0.5 3 0 3 -0.7 3 1 6 -1.2 6 0.7 4 0 3 -0.6 4 -0.5 1.1 -1 0.9 -1 0 -1.1 -2 -0.6 -4 0.3 -4 -0.9 -7 0.5 -5 0.7 -3 -1.2 -8 1.3 -4 -0.5 -5 0.6 -5zM316.3 350l1.3 -0.7 0.6 1.7 -0.8 4 0.1 3 1 4 -1 4 0.9 4 -0.8 2.3 -1 1.3 -1 0.3 -1 -0.8 -0.6 -2.1 0.4 -4 -0.5 -4 1.3 -5 -0.6 -5 0.8 -2zM315.9 381l0.7 -0.9 1 -0.1 1 1.2 0.3 1.8 -1.2 7 -1.1 1.2 -1 0.1 -0.7 -1.3 -0.2 -2 0.5 -5zM315.3 394l0.3 -0.4 1 0.5 1 1.3 0.9 3.6 -0.3 3 -1.3 3 1 2 0.8 3 -0.2 3 -1.3 5 0.9 3 0.2 3 -0.7 3.7 -1 1.2 -1 -0.1 -1.2 -3.8 -0.2 -2 0.6 -3 -1.1 -7 0.4 -5 1.5 -3 -0.1 -1 -1 -2 -0.7 -5 0.5 -2zM316.2 351l0.4 -0.4 1 0.4 -1 5.6 -1 -0.6 -0.4 -2 0.2 -2zM315.8 359l0.8 -0.7 1.6 3.7 -0.4 2 -0.9 2 0 1 1 2 -0.1 2 -1.2 1.7 -1 0.4 -1 -1 -0.3 -1.1 0.7 -4 -0.7 -4 0.3 -2.1zM316.2 382l0.4 -0.7 1 -0.2 0.9 1.9 -1.9 6.8 -1.1 -0.8 0.2 -5zM315.2 395l0.4 -0.3 1 0.4 1 1.5 0.4 1.4 -0.2 3 -1.2 1.7 -1 -0.2 -1.3 -3.5 0.1 -3zM315 407l0.6 -0.8 1 -0.1 1 1.2 0.8 2.7 -0.6 4 -2.2 4.2 -1 -1.8 -0.6 -3.4 0.3 -4zM315.6 420l0 -0.3 1 -0.2 1 1.8 0.3 1.7 -0.2 3 -1.1 1.8 -1 -0.5 -1 -3.3zM316.1 360l0.5 -0.1 0.9 1.1 0.3 2 -1.2 2.2 -1 0.5 -0.8 -1.7 -0.1 -2 0.9 -1.9zM315.4 368l0.2 -0.4 1 0.2 1 2.2 -1 2 -1 0.3 -0.9 -1.3 0 -1zM316.4 383l1.2 -1 0.3 1 -0.3 1.6 -1 0.3zM315.1 396l0.5 -0.4 1 0.3 0.9 2.1 0 2 -0.9 1.6 -1 -0.3 -0.9 -2.3 -0.1 -2zM315.6 407l1 -0.1 0.9 1.1 0.6 3 -0.9 3 -1.6 1.8 -1 -1.3 -0.4 -2.5 0.4 -3.1zM315.4 422l1.2 -0.8 0.9 1.8 0 2 -0.9 1.7 -1 -0.6 -0.5 -1.1 -0.2 -1zM315.6 361l1 -0.3 0.8 1.3 0 1 -0.8 1.4 -1 0.1 -0.3 -0.5 -0.2 -1zM315.5 369l1.1 -0.3 0.5 1.3 -0.5 1.3 -1 0.3 -0.4 -1.6zM315.3 397l0.3 -0.5 1.1 0.5 0.3 2 -0.4 1.3 -1 -0.3zM315.4 408l1.2 -0.5 1.1 2.5 -0.5 3 -0.6 1 -1 0.6 -1 -1.6 -0.1 -1zM315.5 423l1.1 -0.6 0.3 0.6 0.2 1 -0.5 1.7 -1 -0.6zM315.6 362l1 -0.5 0.3 1.5 -0.3 0.5 -1 -0.2zM315.3 409l0.3 -0.6 1 -0.2 0.7 1.8 -0.6 3 -1.1 0.7 -0.7 -1.7zM316.3 409l0.3 0 0.4 2 -0.4 1.3 -1 0.4 -0.2 -2.7 0.2 -0.8z" fill="none" stroke="#1c1c1c" stroke-width="1.0"/>
<path d="M421.4 431l8.2 0 4 0.6 4 -0.2 5 0.6 0.9 1 -4.9 0.3 -4 1.1 -5 -0.3 -8 1.8 -3 -0.2 -2 -0.9 -2 -0.4 -13 0.7 -10 0.1 -2.8 -1.2 -0.8 -1 1.6 -1.3 2 -0.5 5 0.2 9 -0.3 5 0.7 4 -0.6zM314.1 432l1.5 -0.3 1.6 0.3 0 1 -2.6 0.5 -1 -0.2 -0.4 -0.3zM342.1 432l1.5 -0.8 2 -0.1 2.2 0.9 0.8 1 -2 1.7 -2 0.6 -1 -0.1 -2.2 -1.2 -0.2 -1zM351.7 432l2.9 -1 4 0.5 6 -0.4 6.5 0.9 2 1 -1.5 1.1 -3 0 -5 1 -10 -0.7 -2.6 -1.4zM382.5 432l2.1 0 2 1 -0.6 1 -1.4 0.5 -4 -1.1 -3 0.7 -1.8 -1.1 1.8 -0.5 3 0.1zM324.8 433l2.8 -0.7 5 0.2 3.1 0.5 0.1 1 -3.2 0.4 -7 -0.2 -0.8 -0.2z" fill="#000" fill-opacity="0.9" stroke="none"/>
<path d="M310.6 430.6l5 -1.1 8 0.7 5 -0.2 10 0.6 6 -1.2 5 0.8 5 -0.9 16 0.4 5 0.6 11 -0.1 4 -0.6 5 0.3 19 -0.7 5 0.4 10 -0.3 9 0.2 6 0.7 3 1 4 0 1.6 0.8 0.7 1 -0.4 1 -1.9 0.7 -4 -0.4 -4 1.3 -5 0.1 -4 0.9 -6 -0.2 -9 0.7 -14 -1 -8 0.6 -6 -0.1 -4 -0.6 -3 0.5 -4 -0.4 -9 0.4 -4 -0.4 -7 0.6 -10 -0.9 -6 1 -5 -1 -4 0.5 -5 -0.2 -4 0.4 -16 -1M310.6 432.4l3 -1.5 2 -0.4 8 1 5 -0.4 11 0.8 5 -1.7 5 1.1 5 -1.1 10 0.2 10 1 8 -0.5 5 0.4 4 -0.9 4 0.2 9 -0.3 6 0.4 4 -0.6 4 0.3 11 -0.3 14 0.9 2 1 0.3 1 -1.1 1 -1.2 0.5 -5 0 -5 1.1 -4 -0.4 -9 1.4 -6 -1.1 -22 0.4 -5 -1 -3 0.7 -4 -0.6 -3 0.4 -3 -0.3 -12 0.7 -8 -0.4 -5 -0.7 -5 1.3 -2 -0.3 -3 -1.1 -4 0.7 -9 0.2 -5 -0.7 -8 0 -3 -0.7M343.6 431l2 -0.2 4 1.7 3 -1.4 2 -0.4 4 0.5 6 -0.3 7 0.8 3 0.8 3 -0.6 6 -0.3 4 0.8 2 -1 2 -0.4 5 0.2 8 -0.4 6 0.6 4 -0.6 3 0.2 12 -0.3 4 0.5 4 -0.2 5 0.6 1.5 0.4 0.3 1 -1.8 0.8 -4 -0.1 -4 1.1 -5 -0.3 -9 1.6 -6 -1.3 -23 0.6 -4 -1.5 -3 1 -4 -0.7 -3 0.4 -3 -0.7 -3 0.7 -3 -0.1 -5 0.9 -10 -0.7 -4 -1.2 -5 2 -2.3 -0.5 -1.5 -1 -0.2 -1zM313.1 432l2.5 -0.8 6 1.7 7 -1.1 7 0.7 1.9 0.5 -0.2 1 -1.7 0.5 -9 0.3 -3.4 -0.8 -0.6 -0.7 -1 -0.2 -8 0.8 -1.5 -0.9zM342.5 432l1.1 -0.6 2 -0.2 1.7 0.8 0.8 1 -0.8 1 -1.7 0.9 -2 0.1 -1.8 -1 -0.2 -1zM352.2 432l2.4 -0.8 4 0.6 6 -0.5 7.3 1.7 -1.3 0.7 -2 0 -3 1 -2 0.3 -6 -0.8 -4 -0.1 -1.9 -1.1zM389.5 432l2.1 -0.7 5 0.3 6 -0.4 4 0.1 4 0.8 4 -0.6 8 -0.4 7 0.1 4 0.7 3 -0.2 2.1 0.3 -0.4 1 -3.7 1.1 -3 -0.5 -2 0.2 -9 2 -6 -1.7 -13 0.8 -10 0.1 -2.4 -1 -0.5 -1zM314.4 433l0.2 -0.3 0.8 0.3zM326.2 433l6.4 -0.2 1.3 0.2 0.3 1 -2.6 0.1 -2 -0.6 -3 0.4zM377.1 433l2.2 0 -1.7 0.3zM381.7 433l1.9 -0.7 2.3 0.7 -0.6 1 -0.7 0.2 -1.5 -0.2zM343.2 432l2.4 -0.4 0.9 0.4 0.7 1 -1.6 1.5 -2 0.1 -1 -0.6 -0.3 -1zM353.4 432l2.2 -0.2 3 0.9 6 -1.1 2 0.4 1.3 1 -2.3 1.4 -2 0.2 -3.8 -0.6 -1.2 -0.6 -4 0.3 -1.7 -0.7zM390.4 432l1.2 -0.4 5 0.4 8 -0.4 7 1.4 10 -1.6 8.7 0.6 -0.5 1 -7.2 2.3 -2 0.3 -2 -0.5 -3 -1.9 -4 -0.1 -1.8 0.9 -1.2 0.1 -7 0.5 -10 0.1 -1.7 -0.7 -0.5 -1zM344.2 432l1.4 0 0.9 1 -0.8 1 -1.1 0.3 -1.3 -0.3 -0.4 -1zM363.5 432l2.1 0.2 1.2 0.8 -1.2 1 -1 0.2 -2.4 -0.2 -1.6 -1zM391.4 432l5.2 0.6 4 -0.7 4 0 3.8 1.1 -0.8 0.4 -5 0.8 -5 -0.2 -6 0.4 -1.1 -0.4 -0.5 -1zM419.3 432l3.3 -0.3 1.8 0.3 1.7 1 -1.2 1 -2.3 1 -3 0.2 -1.9 -1.2 -0.5 -1zM420.6 432l2.2 0 1.9 1 -0.6 1 -1.5 0.7 -2.7 0.3 -1.6 -1 -0.1 -1zM343.5 433l1.1 -0.6 1.2 0.6 -1.2 0.9zM362.5 433l2.1 -0.5 1.2 0.5 -1.2 0.7 -1 -0.1zM390.5 433l1.1 -0.6 1 -0.1 2.6 0.7 -1.5 1 -1.1 0.2 -1.3 -0.2zM398.6 433l3 -0.8 4.6 0.8 -4.6 1zM391.2 433l1.4 -0.3 1 0.3 -1 0.7 -1 -0.2zM400.3 433l1.3 -0.3 1.8 0.3 -1.8 0.3zM418.9 433l2.7 -0.8 2.2 0.8 -0.4 1 -2.8 0.9 -1.8 -0.9zM419.5 433l2.1 -0.5 1.5 0.5 -0.3 1 -2.2 0.6 -1.3 -0.6zM420.2 433l2.2 0 -0.2 1 -1.6 0.3 -0.7 -0.3z" fill="none" stroke="#1c1c1c" stroke-width="1.0"/>
<path d="M435.4 391.1h.9M378.9 394.5h.9M408.6 393.8h.9M405.8 389.4h.9M367.2 400h.9M419.2 410.8h.9M409.8 412.7h.9M403 426.5h.9M426.9 418h.9M407.5 394.5h.9M390.6 378.7h.9M417.7 416h.9M436 413.8h.9M393.4 397.4h.9M383.9 420h.9M438.4 429.7h.9M382 409.1h.9M378 396.3h.9M396.7 401.9h.9M400.7 399.1h.9M420.8 406.7h.9M412 397h.9M371.4 399.4h.9M406.1 411.6h.9M395.9 384.1h.9M421.6 414h.9M396.8 409.1h.9M382.5 399h.9M402.3 403.4h.9M436.2 401.1h.9M434.5 429.1h.9M367.9 414.7h.9M447 379.7h.9M401.1 416.6h.9M427.7 418.3h.9M378 404h.9M404.5 414.3h.9M405.7 389.4h.9M440.7 394.4h.9M433.2 403.9h.9M415.7 404.8h.9M425.8 416.3h.9M392.5 411.9h.9M385.8 398.7h.9M422 410.2h.9M434.3 405.4h.9M418.2 412h.9M424 403.8h.9M463.1 395.5h.9M384.8 401.2h.9M408.1 428.8h.9M377.2 402.4h.9M441.2 388.2h.9M431.6 403.3h.9M388.2 407.1h.9M383.7 395.5h.9M415.2 415.6h.9M385.4 383.3h.9M366.4 406.1h.9M367.3 424.1h.9M387.6 387.3h.9M404 386.7h.9M404.8 395.9h.9M429.7 396.7h.9M444.1 429.7h.9M450.5 381.2h.9M447.3 401.4h.9M457 378.8h.9M389 418.2h.9M417.4 419.5h.9M399.6 411.4h.9M389.6 398.4h.9M375.9 403.4h.9M413.4 407.2h.9M393.1 413.1h.9M411 393.1h.9M435.4 400.8h.9M456.1 396.8h.9M380 420.3h.9M377.5 395.6h.9M415.5 398.4h.9M444.8 398h.9M399.1 383.2h.9M405.6 414.5h.9M428.5 393.5h.9M414.6 410.2h.9M427.6 393.6h.9M393.5 391.5h.9M420.3 416.5h.9M389.8 429.5h.9M399.6 401.8h.9M410.8 400.3h.9M434.2 394.3h.9M405 393.7h.9M384 401h.9M391.9 394h.9M397.9 414.9h.9M391 415.1h.9M439.2 423.8h.9M394 398.2h.9M378.1 401.3h.9M398.9 408.8h.9M418.6 398.6h.9M359.5 421.5h.9M394.2 390.3h.9M387.7 384.7h.9M407.5 409.1h.9M388.7 394.2h.9M440.1 403.6h.9M407.2 392.3h.9M399.5 391.7h.9M419.3 412.5h.9M373.3 419.2h.9M432.2 431h.9M378.6 385.6h.9M369.8 405.3h.9M437.5 413.9h.9M434 403.1h.9M391.8 384.6h.9M422.2 420.5h.9M369.5 417.6h.9M456.6 381h.9M379.8 400.7h.9M398.5 383.2h.9M405.8 428.8h.9M418.4 413.2h.9M401.1 407.9h.9M493.6 412.3h.9M397.9 404.5h.9M401.2 394.6h.9M400.3 395.7h.9M454.9 375.4h.9M388.8 387.4h.9M456.2 431.2h.9M413.3 398.6h.9M406 408.6h.9M459.2 366.6h.9M451.4 427h.9M439.3 414.2h.9M430 395.7h.9M374.7 403.9h.9M461.5 387.8h.9M408.1 389.6h.9M416.7 392.4h.9M426.5 421.7h.9M383.6 391.5h.9M393.9 417.8h.9M399.4 398.7h.9M408.1 410.1h.9M391.8 387.3h.9M422.3 404.9h.9M389.5 379.1h.9M386.4 406.3h.9M404.2 390.5h.9M395.3 409h.9M347.4 428.1h.9M480.7 401.3h.9M433 405h.9M409.9 396h.9M432.6 417h.9M360.7 434.6h.9M476.2 374.9h.9M389.3 408.9h.9M389.6 389.1h.9M446.2 414.2h.9M411.7 421.5h.9M420.9 411.7h.9M411.2 389.6h.9M458.5 377.4h.9M366 413.6h.9M421.5 413.4h.9M441.4 405.8h.9M406.9 398h.9M422.6 402.7h.9M411.5 434.3h.9M399.5 405h.9M389.8 380.5h.9M430.9 393.8h.9M453.5 399h.9M444.8 413.4h.9M401.9 390.2h.9M433.9 417.5h.9M388.4 398.3h.9M373.9 412.8h.9M406.7 402.9h.9M425.2 410.9h.9M402 400.8h.9M415.4 417.2h.9M368.6 407.1h.9M409.4 411.1h.9M433.6 412.5h.9M419.4 412.2h.9M378.4 418.7h.9M398.3 402.4h.9M403 419.2h.9M455.4 415.9h.9M436.3 411.6h.9M419.4 395.1h.9M414.3 417.4h.9M433.2 394.5h.9M362.1 431.5h.9M422.8 403.7h.9M447.7 397h.9M381.3 401.1h.9M381.4 410.7h.9M417.4 405.1h.9M392.6 413h.9M413.9 416.2h.9M396.2 397.4h.9M377.4 411.8h.9M415.1 416.8h.9M430.6 428.1h.9M427.8 411.8h.9M395.2 399.2h.9M382.6 385.3h.9M384 394.6h.9M408.4 399.2h.9M450.1 403.3h.9M382.6 394.1h.9M376.4 399.4h.9M417 412.7h.9M415 399.9h.9M388.9 391.5h.9M420 423.9h.9M394 411h.9M389.8 416.3h.9M418 396.7h.9M406.8 398.8h.9M383.9 410.4h.9M441.3 425.3h.9M438.6 420.9h.9M384.4 403.8h.9M381.5 380.2h.9M394.6 415.2h.9M380.7 402.4h.9M392.7 381.3h.9M443.5 416.6h.9M369.4 436.6h.9M382.3 392.2h.9M433.9 406.1h.9M398.4 415.3h.9M408.7 398.8h.9M369.9 419.3h.9M399.8 379.9h.9M382.6 410.5h.9M396.6 422.6h.9M383.2 401.9h.9M419.9 399.1h.9M378.1 417.5h.9M385.5 402h.9M386.1 396.5h.9M438.9 392.7h.9M438.1 402.8h.9M412.4 399.7h.9M438 409.6h.9M395.3 416.4h.9M423.1 410.5h.9M424.9 407.5h.9M399.1 388.5h.9M402.7 399.2h.9M402 405.8h.9M477.6 412.9h.9M417.5 398.7h.9M399.5 407.1h.9M383.6 409.7h.9M373.8 396.8h.9M391 402.1h.9M410.7 403h.9M425.8 424h.9M391.6 404.4h.9M390.3 399.7h.9M393.5 394.7h.9M426.4 396.1h.9M412.1 398.8h.9M384.7 379.4h.9M398.6 426.7h.9M464.7 401.9h.9M385 395.6h.9M400.3 395.1h.9M454.7 415.5h.9M431.9 397.5h.9M437.4 414h.9M404.3 386.9h.9M432.3 392.8h.9M410.1 402.3h.9M393.6 387.8h.9M435.1 404.1h.9M399.9 397h.9M405.3 412.9h.9M422 396h.9M388.3 395.3h.9M434 392h.9M396 417.3h.9M399.7 416.3h.9M406.5 418.1h.9M376.2 390.3h.9M438.1 395.8h.9M412.1 406h.9M356.2 432.2h.9M395.4 407.9h.9M387.4 373.6h.9M374 396.9h.9M400.8 433.5h.9M455.4 373.2h.9M468.6 411.8h.9M385.1 407.8h.9M381.9 385.8h.9M381.9 394.3h.9M425.4 397.8h.9M388.8 402.3h.9M405.7 423.9h.9M408.9 402.3h.9M466.7 415.9h.9M464.3 420h.9M381.4 414.6h.9M393.7 405.6h.9M436.7 407.6h.9M416.3 406.8h.9M387.7 412.3h.9M420.1 394.4h.9M416.8 393.7h.9M397.5 395.5h.9M436 403.8h.9M390.1 389.8h.9M392.2 421.4h.9M416.4 409.3h.9M379.5 405.2h.9M392.4 387.6h.9M406.7 394.3h.9M421 421.6h.9M475.1 423.7h.9M443.3 400.2h.9M432.9 398h.9M388.1 387.3h.9M422.3 396.6h.9M395.5 423.1h.9M391.1 420.2h.9M394.5 385.1h.9M394.4 388.8h.9M394.5 388.5h.9M410 391.3h.9M403.3 390.1h.9M375.3 391.5h.9M399 392.3h.9M406.9 415.7h.9M390.9 405h.9M387.9 396.2h.9M398.7 411.5h.9M472 432.9h.9M404.9 400.3h.9M437.5 393.9h.9M390.8 410.5h.9M442.5 427.4h.9M360.1 414.4h.9M397 429.5h.9M428.3 394.2h.9M423.3 403.5h.9M377.6 404.3h.9M393.9 386.1h.9M400 398.6h.9M413.5 404.3h.9M414.7 398.1h.9M366.5 412.6h.9M424.6 412.4h.9M392.5 409.7h.9M421 396.3h.9M448.3 390.5h.9M420.1 407.8h.9M418.7 415.5h.9M446.3 396.7h.9M403.9 391.4h.9M400.5 394.1h.9M405.3 414.4h.9M397.9 416.6h.9M409.2 421.6h.9M388.9 391.1h.9M416.2 391h.9M458.6 331h.9M395.1 375.4h.9M452.6 380.9h.9M445.4 383.2h.9M479.8 390.3h.9M463.6 368.7h.9M473.5 360.8h.9M398 378.5h.9M458.7 373.1h.9M380.1 368.8h.9M434.9 298.1h.9M435.6 392.9h.9M436.3 419.1h.9M462 408.7h.9M481.4 403.9h.9M460.7 354.8h.9M391.4 333.1h.9M419.1 404.5h.9M461.2 373.6h.9M452.3 383h.9M447.7 387.3h.9M462.3 371h.9M477.6 368.8h.9M430.8 305.6h.9M425.8 422.4h.9M403.3 317.1h.9M457.4 342.5h.9M478.1 360.2h.9M454.9 379.6h.9M395.2 379.8h.9M426.3 414.6h.9M444.9 396.9h.9M458.8 293.9h.9M450.6 374.7h.9M453.3 391.3h.9M465.3 365.8h.9M457.7 361.4h.9M405.4 396.3h.9M392.7 388h.9M400.2 403.6h.9M453 375.7h.9M417.4 402.7h.9M405.1 388h.9M455.2 366.7h.9M395.1 383.2h.9M448.1 400.5h.9M481.6 367.3h.9M454.3 377.2h.9M414.9 305h.9M407.2 395.6h.9M475.8 355.4h.9M420.1 432.9h.9M447.3 390.8h.9M410.9 413.1h.9M473.6 404.5h.9M444.5 296.4h.9M477.6 376.8h.9M464.8 358.7h.9M401.1 315.4h.9M464.9 374.8h.9M457.5 356.6h.9M367 322.2h.9M313.1 324.3h.9M371.5 319.5h.9M343.4 328.5h.9M328.5 326.4h.9M376.2 333.3h.9M333.6 328.6h.9M322.7 324.9h.9M357.6 329h.9M345.7 321h.9M364.6 315h.9M387.7 330.3h.9M320.1 321.4h.9M345 320.1h.9M376.3 323.1h.9M379.5 324.1h.9M368.2 330.3h.9M382.5 327.7h.9M363.5 316.8h.9M395.1 322.1h.9M405.7 310.2h.9M386.2 318.8h.9M318.1 330.7h.9M385.7 331.3h.9M381 332.5h.9M401.1 323.7h.9M378.2 325.5h.9M370.9 332.1h.9M328.5 338h.9M410.2 324.9h.9M360.7 320h.9M356.5 330.1h.9M366.3 325.3h.9M333.2 322.3h.9M404.1 327.9h.9M400.6 326.1h.9M342.5 329.9h.9M487.3 348.5h.9M445.1 304.5h.9M388.7 375.1h.9M355.5 320.4h.9M500.7 323.9h.9M489.2 332.7h.9M458.4 339.6h.9M471.2 263.2h.9M454.1 308.3h.9M389.4 391.7h.9M471.7 323.2h.9M478.6 334.1h.9M500.1 365.6h.9M444.5 286.2h.9M483 293h.9M349.5 305.2h.9M382.5 305.3h.9M471.7 304.9h.9M357.1 310h.9M447 272.1h.9M453.8 375h.9M375.4 406.6h.9M422.2 307.8h.9M461.6 334h.9M391.9 320.8h.9M392.4 318.9h.9M386.1 280.7h.9" fill="none" stroke="#222" stroke-width="1.0"/>
</g>
<rect x="402" y="312" width="68.5" height="80.5" fill="none" stroke="#000" stroke-width="2.2"/>
<text x="436" y="298.4" font-size="27.5" font-weight="bold" font-style="normal" text-anchor="middle">28</text>
<rect x="112.5" y="40.5" width="194.1" height="196.1" fill="none" stroke="#3a3a3a" stroke-width="1.0"/>
<rect x="310.6" y="40.5" width="195.6" height="196.1" fill="none" stroke="#3a3a3a" stroke-width="1.0"/>
<rect x="112.5" y="240" width="194.1" height="198.2" fill="none" stroke="#3a3a3a" stroke-width="1.0"/>
<rect x="310.6" y="240" width="195.6" height="198.2" fill="none" stroke="#3a3a3a" stroke-width="1.0"/>
<text x="1.8" y="547.8" font-size="29" font-weight="bold" font-style="normal" text-anchor="start">B</text>
<text x="125.8" y="549.4" font-size="34" font-weight="bold" font-style="normal" text-anchor="start">Untreated</text>
<text x="334.3" y="549.4" font-size="34" font-weight="bold" font-style="normal" text-anchor="start">Treated</text>
<text transform="translate(28.9 702) rotate(-90)" font-size="40" font-weight="normal" font-style="italic" text-anchor="start">Kidney</text>
<text transform="translate(28.8 904) rotate(-90)" font-size="40" font-weight="normal" font-style="italic" text-anchor="start">Liver</text>
<text transform="translate(59.4 788.2) rotate(-90)" font-size="34" font-weight="bold" font-style="normal" text-anchor="start">IL17</text>
<path d="M51.5 569L43 586L60 586Z" fill="#000"/>
<rect x="49" y="585.5" width="5" height="105.7" fill="#000"/>
<path d="M51.5 948L43 931L60 931Z" fill="#000"/>
<rect x="49" y="826" width="5" height="105.5" fill="#000"/>
<text x="262.3" y="999.3" font-size="34" font-weight="bold" font-style="normal" text-anchor="start">CD4</text>
<path d="M115.3 984L132.3 975.5L132.3 992.5Z" fill="#000"/>
<rect x="131.8" y="981.5" width="101" height="5" fill="#000"/>
<path d="M478.6 984.5L461.6 976L461.6 993Z" fill="#000"/>
<rect x="359.2" y="982" width="102.9" height="5" fill="#000"/>
<text x="101.6" y="563.5" font-size="14" font-weight="normal" font-style="normal" text-anchor="end" stroke="#000" stroke-width="0.25">10000</text>
<text x="102.8" y="610" font-size="14" font-weight="normal" font-style="normal" text-anchor="end" stroke="#000" stroke-width="0.25">1000</text>
<text x="103.4" y="657.5" font-size="14" font-weight="normal" font-style="normal" text-anchor="end" stroke="#000" stroke-width="0.25">100</text>
<text x="102.8" y="705.5" font-size="14" font-weight="normal" font-style="normal" text-anchor="end" stroke="#000" stroke-width="0.25">10</text>
<text x="101.6" y="767" font-size="14" font-weight="normal" font-style="normal" text-anchor="end" stroke="#000" stroke-width="0.25">10000</text>
<text x="104.6" y="813" font-size="14" font-weight="normal" font-style="normal" text-anchor="end" stroke="#000" stroke-width="0.25">1000</text>
<text x="106.1" y="861" font-size="14" font-weight="normal" font-style="normal" text-anchor="end" stroke="#000" stroke-width="0.25">100</text>
<text x="102.8" y="909.5" font-size="14" font-weight="normal" font-style="normal" text-anchor="end" stroke="#000" stroke-width="0.25">10</text>
<text x="100.1" y="949.5" font-size="14" font-weight="normal" font-style="normal" text-anchor="end" stroke="#000" stroke-width="0.25">1</text>
<text x="107.3" y="970.5" font-size="14" font-weight="normal" font-style="normal" text-anchor="middle" stroke="#000" stroke-width="0.25">1</text>
<text x="150.2" y="970.5" font-size="14" font-weight="normal" font-style="normal" text-anchor="middle" stroke="#000" stroke-width="0.25">10</text>
<text x="200.6" y="970.5" font-size="14" font-weight="normal" font-style="normal" text-anchor="middle" stroke="#000" stroke-width="0.25">100</text>
<text x="251.2" y="970.5" font-size="14" font-weight="normal" font-style="normal" text-anchor="middle" stroke="#000" stroke-width="0.25">1000</text>
<text x="300.3" y="970.5" font-size="14" font-weight="normal" font-style="normal" text-anchor="middle" stroke="#000" stroke-width="0.25">10000</text>
<text x="350.4" y="970.5" font-size="14" font-weight="normal" font-style="normal" text-anchor="middle" stroke="#000" stroke-width="0.25">10</text>
<text x="400" y="970.5" font-size="14" font-weight="normal" font-style="normal" text-anchor="middle" stroke="#000" stroke-width="0.25">100</text>
<text x="448.4" y="970.5" font-size="14" font-weight="normal" font-style="normal" text-anchor="middle" stroke="#000" stroke-width="0.25">1000</text>
<text x="490.7" y="970.5" font-size="14" font-weight="normal" font-style="normal" text-anchor="middle" stroke="#000" stroke-width="0.25">10000</text>
<path d="M106 749h-4.4M106 734.3h-2.8M106 725.8h-2.8M106 719.7h-2.8M106 715h-2.8M106 711.1h-2.8M106 707.8h-2.8M106 705h-2.8M106 702.5h-2.8M106 700.3h-4.4M106 685.6h-2.8M106 677.1h-2.8M106 671h-2.8M106 666.3h-2.8M106 662.4h-2.8M106 659.1h-2.8M106 656.3h-2.8M106 653.8h-2.8M106 651.6h-4.4M106 636.9h-2.8M106 628.4h-2.8M106 622.3h-2.8M106 617.6h-2.8M106 613.7h-2.8M106 610.4h-2.8M106 607.6h-2.8M106 605.1h-2.8M106 602.9h-4.4M106 588.2h-2.8M106 579.7h-2.8M106 573.6h-2.8M106 568.9h-2.8M106 565h-2.8M106 561.7h-2.8M106 558.9h-2.8M106 556.4h-2.8M106 554.2h-3.6" stroke="#111" stroke-width="0.9" fill="none"/>
<path d="M106 948.2h-4.4M106 933.8h-2.8M106 925.3h-2.8M106 919.3h-2.8M106 914.7h-2.8M106 910.9h-2.8M106 907.7h-2.8M106 904.9h-2.8M106 902.5h-2.8M106 900.3h-4.4M106 885.8h-2.8M106 877.4h-2.8M106 871.4h-2.8M106 866.8h-2.8M106 863h-2.8M106 859.8h-2.8M106 857h-2.8M106 854.5h-2.8M106 852.4h-4.4M106 837.9h-2.8M106 829.5h-2.8M106 823.5h-2.8M106 818.9h-2.8M106 815.1h-2.8M106 811.8h-2.8M106 809.1h-2.8M106 806.6h-2.8M106 804.4h-4.4M106 790h-2.8M106 781.6h-2.8M106 775.6h-2.8M106 770.9h-2.8M106 767.1h-2.8M106 763.9h-2.8M106 761.1h-2.8M106 758.7h-2.8M106 756.5h-3.6" stroke="#111" stroke-width="0.9" fill="none"/>
<path d="M106 948.2v5.4M120.7 948.2v2.9M129.3 948.2v2.9M135.4 948.2v2.9M140.1 948.2v2.9M144 948.2v2.9M147.2 948.2v2.9M150.1 948.2v2.9M152.6 948.2v2.9M154.8 948.2v5.4M169.5 948.2v2.9M178.1 948.2v2.9M184.2 948.2v2.9M188.9 948.2v2.9M192.8 948.2v2.9M196 948.2v2.9M198.9 948.2v2.9M201.4 948.2v2.9M203.6 948.2v5.4M218.3 948.2v2.9M226.9 948.2v2.9M233 948.2v2.9M237.7 948.2v2.9M241.6 948.2v2.9M244.8 948.2v2.9M247.7 948.2v2.9M250.2 948.2v2.9M252.4 948.2v5.4M267.1 948.2v2.9M275.7 948.2v2.9M281.8 948.2v2.9M286.5 948.2v2.9M290.4 948.2v2.9M293.6 948.2v2.9M296.5 948.2v2.9M299 948.2v2.9M301.2 948.2v5.4" stroke="#111" stroke-width="1.0" fill="none"/>
<path d="M304.6 948.2v5.4M319.4 948.2v2.9M328 948.2v2.9M334.1 948.2v2.9M338.8 948.2v2.9M342.7 948.2v2.9M346 948.2v2.9M348.9 948.2v2.9M351.4 948.2v2.9M353.6 948.2v5.4M368.4 948.2v2.9M377 948.2v2.9M383.1 948.2v2.9M387.8 948.2v2.9M391.7 948.2v2.9M395 948.2v2.9M397.9 948.2v2.9M400.4 948.2v2.9M402.6 948.2v5.4M417.4 948.2v2.9M426 948.2v2.9M432.1 948.2v2.9M436.8 948.2v2.9M440.7 948.2v2.9M444 948.2v2.9M446.9 948.2v2.9M449.4 948.2v2.9M451.6 948.2v5.4M466.4 948.2v2.9M475 948.2v2.9M481.1 948.2v2.9M485.8 948.2v2.9M489.7 948.2v2.9M493 948.2v2.9M495.9 948.2v2.9M498.4 948.2v2.9M500.6 948.2v5.4" stroke="#111" stroke-width="1.0" fill="none"/>
<g clip-path="url(#cB00)">
<path d="M178.4 749.2l-2.7 -5 -0.8 -3 -0.2 -7 -1.6 -23 1.5 -14 2.1 -12 1 -3 1.8 -3 6.5 -7.5 3 -2 8 -3.8 3 -1 2 -0.1 6 0.9 2 1 6 4.1 5.6 5.4 3.7 6 1.2 3 0.4 8 1.8 13 0 17 -0.8 11 -0.7 3 -1.8 4 -3.3 6 -1.9 2M182.7 749.2l-2.7 -3 -2.3 -5 -1.5 -12 -0.6 -9 -0.2 -10 3.8 -20 3.8 -9 2.1 -3 2.9 -2.9 4 -2.7 6 -2.8 3 -0.9 2 -0.2 4 0.7 7.6 4.8 4 4 4.7 7 0.4 2 0.4 7 1.6 11 0.4 17 -1.6 14 -1.5 3 -3 4.1 -2 1.4 -2 0.5 -4 0.2 -5 -0.6 -2 0.4 -5.5 4M188.2 749.2l-3.2 -1.1 -2.7 -1.9 -2 -3 -1.2 -3 -1.9 -12 -0.7 -15 0.3 -4 1.9 -9 2.8 -9 3 -7 1.7 -3 2.8 -3.3 4 -3.2 5 -2.1 5 -0.8 4 0.6 5.1 2.8 4.9 4.7 3.3 4.3 1.1 2 2.4 19 0.7 10 -0.3 10 -2.2 9.7 -2.5 4.3 -2.5 2.7 -3 0.8 -6 -1 -2 0.1 -2 0.9 -4 3.7 -2 1.3 -6.4 1.5M196.7 675.2l3.3 -0.7 4 -0.3 3 0.5 2 0.8 2.5 1.7 3.5 3.3 3 3.4 1.5 2.3 0.8 3 0.8 9 1.1 6 0.9 11 0 8 -0.8 4 -1.3 3.5 -2.8 3.5 -2.2 3.9 -1 1.1 -2 0.4 -4 -0.4 -3 0.3 -3 1.7 -3 3.3 -2 1.5 -3 0.9 -6 0.6 -3 -0.7 -2 -1.2 -2 -2.3 -1.6 -3.1 -2.3 -11 -0.6 -9 -0.1 -9 1.2 -6 1.9 -7 5.5 -11.7 4.9 -7.3 3.1 -2.7zM202.2 676.2l3.8 0.2 3 1.1 7 6.4 2.4 3.3 1 4 0.5 8 0.9 5 1 10 0.2 6 -0.3 4 -1 3 -1.2 2 -7.2 6 -8.3 3.1 -5 5.4 -2 1.2 -6 1.1 -3 -0.1 -3 -1.3 -2 -2 -2 -3.4 -1.1 -4 -1.1 -6 -0.7 -9 0 -8 0.5 -4 1.8 -7 2.1 -5 3.5 -6.1 4 -5.4 2 -3.5 2 -2.1 2 -1.3 3 -1.1zM201.4 678.2l3.6 -0.1 3 0.9 7 5.8 2.5 3.4 1 4 0.2 7 1 6 1.1 10 0.2 5 -0.4 3 -1 3 -1.6 2.1 -4 2.7 -10 5.4 -2 1.7 -4 4.9 -3 1 -5 0.7 -2 -0.1 -2.8 -1.4 -2.2 -2.3 -1.5 -2.7 -1.3 -4 -0.7 -4 -0.9 -10 0 -8 0.6 -4 1.3 -5 1.5 -3.7 5 -8.4 2 -2.3 3 -2.6 2 -3.8 1 -1.1 3 -1.8zM201.6 680.2l3.4 -0.3 3 1.1 6 4.5 1.7 1.7 1.2 2 0.9 4 -0.2 7 2.3 16 0 4 -0.4 3 -0.8 2 -1.7 2.2 -3 1.9 -5 1.8 -2 1.4 -5 3.8 -3 3.9 -2 1.8 -7 1.4 -2 -0.2 -3 -1.6 -2 -2.2 -1.2 -2.2 -1.3 -4 -1.4 -13 0.1 -8 0.6 -4 2.2 -7 2.7 -5 2.3 -3.2 3 -2.9 3.3 -1.9 3 -5 1.7 -1.3zM201.5 682.2l3.5 -0.4 3 1.1 6 4 2.3 3.3 0.8 4 -0.4 7 2.3 16 -0.4 5 -1.2 3 -1.4 1.5 -2 1.2 -4 1.1 -2 0.9 -6.5 5.3 -4.5 5 -4 0.7 -3 1 -2 0 -3 -1.6 -1.9 -2.1 -1.5 -3 -0.8 -3 -1.3 -13 0.2 -7 0.8 -5 1.7 -5 4.8 -7.6 3 -2.7 4 -1.9 1 -1.1 1.9 -3.7 0.9 -1zM200.2 684.2l3.8 -0.8 3 0.7 5.6 3.1 2.8 3 0.9 3 -0.6 7 1.2 11 1.1 6 -0.4 4 -1.1 3 -1.5 1.6 -7 2.6 -7 5.8 -4 3.9 -1 0.5 -3 0.2 -3 1.6 -2 0.2 -2 -0.8 -2 -1.6 -1.8 -3 -0.9 -3 -1.3 -12 0.1 -7 0.6 -5 1.6 -5 4.7 -7 3 -2.7 5 -2.7 3 -5zM200.9 685.2l3.1 -0.3 5 1.6 4 2.4 2 2.6 0.6 2.7 -0.8 6 0.6 10 1.2 7 -0.6 4.3 -1.5 2.7 -1.5 0.9 -3 0.7 -2 1 -11 9.7 -5 0.9 -3 1.8 -2 0 -2 -1.1 -1.7 -1.9 -0.9 -2 -0.8 -3 -1.3 -12 0.4 -8 1 -5 1.3 -3.3 4 -5.2 2 -1.9 6.9 -4.6 3.1 -4.9zM201.4 686.2l2.6 0 4 1.4 4 2.3 2.2 2.3 0.4 2 -0.7 6 0.1 11 0.7 5 -0.3 2 -1.4 4.1 -1 0.9 -4 1.8 -4 4.2 -7 6 -1 0.4 -4 0.5 -3 1.7 -2 0.3 -2 -1 -1 -1 -1.1 -1.9 -0.8 -3 -1.4 -12 0.5 -8 0.9 -5 1.3 -3 2.6 -3.1 3 -2.8 7 -5.1 3.6 -5zM201.9 687.2l2.1 0.2 2 0.8 6 3.9 1 1.1 0.3 2 -0.4 4 -0.1 16 -0.3 2 -2 4 -3.5 2.7 -3.8 4.3 -6.2 5.8 -2 0.7 -3.7 0.5 -3.3 1.7 -2 -0.2 -2 -1.6 -1 -2 -1.8 -10.9 0.3 -10 1 -6 0.9 -2 1.6 -2.1 3 -2.6 4 -2.6 5 -4.7 3 -4zM200.6 689.2l1.4 -0.8 2.9 0.8 4.6 4 1.7 2 0.4 4 -0.6 17 -2 3.8 -12 12.8 -2 0.9 -4 0.6 -3 1.5 -2 -0.1 -1.8 -1.5 -0.9 -2 -1.7 -10 0.4 -10 1 -6 2 -3.3 8 -5.4zM201.7 690.2l1.3 -0.1 1.5 1.1 4.5 4.8 0.9 2.2 -0.2 5 0.4 5 -0.3 6 -0.5 2 -1.7 3 -7.6 8.1 -3.9 4.9 -1.1 0.5 -4 0.6 -3 1.3 -2 0.1 -1 -0.6 -1.1 -1.9 -1.9 -10 0.5 -11 1 -5 1.1 -2 1.4 -1.4 7 -3.9 3.8 -4.7zM199.3 693.2l1.7 -0.7 1 0.2 2 2.1 3 2 1 1.4 0.3 2 -0.3 3 0.7 5 -1.4 8 -2.3 4 -5.1 5 -4.2 6 -7.7 2.3 -2 0.1 -1 -0.8 -0.7 -1.6 -1.9 -9 0 -4 1.2 -11 0.9 -2 1.5 -1.7 6 -2.7 2 -1.3 2.7 -4.3zM200 694.2l1 0.3 2 2.7 2.9 2 0.3 1 0 3 0.8 3 0.1 2 -2 9 -2.1 3.6 -5 4.4 -2 3.9 -1 1.2 -7 2.2 -2 -0.1 -1 -1.4 -2.2 -8.8 0.1 -4 1.2 -11 1 -2 1.9 -1.6 8 -3.1 2 -4.3 1 -1.1zM200 701l-1 0.4 -0.6 0.8 0.4 1 1.2 0.5 1.7 -0.5 0.4 -1 -0.6 -1zM198.7 696.2l1.1 0 0.5 1 -0.6 1 -0.7 0.3 -1 -0.4 -0.1 -0.9zM190.6 703.2l3.4 -0.4 5 2.3 5 0.4 1 1.2 0.2 1.5 -1.5 9 -1.7 3 -5 4 -1.9 4 -1.1 1.2 -5 1.7 -2 0.3 -1.3 -1.2 -2.4 -8 0.8 -13 0.9 -3 1 -1.2 2 -1.2zM189.3 704.2l3.7 -0.1 9.1 3.1 0.9 1 0.3 1 -0.1 3 -0.4 4 -1.3 3 -6.3 5 -2 4 -2.2 1.2 -3 0.7 -1 -0.2 -0.6 -0.7 -1.4 -3 -1 -3 -0.2 -3 1.2 -12.5 0.7 -1.5 1 -1zM188.2 705.2l3.8 -0.2 8 2.6 1 0.6 0.7 1 0.4 2 -0.3 5 -1.5 3 -2.3 1.8 -4 2.2 -2 4 -1.3 1 -1.7 0.6 -1 0 -1 -0.6 -1 -1.4 -1.1 -2.6 -0.5 -3 0.8 -6 0.3 -7 1.1 -2zM187.8 706.2l3.2 -0.4 7.8 2.4 1.4 1 0.9 3 -0.1 3 -1.1 3 -2.9 2.4 -4.4 1.6 -1.7 4 -1.9 1.2 -1 -0.1 -1 -0.7 -1 -1.4 -0.8 -3 0.9 -8 -0.1 -5 0.7 -2zM188 707.2l1 -0.4 2 -0.1 7.3 2.5 1.5 2 0.3 3 -0.7 3 -1.4 1.8 -3 1.2 -3 -0.5 -1 0.3 -1 4.2 -1 1.4 -1 0.1 -1.4 -1.5 -0.5 -2 1.2 -7 -0.3 -6zM189.1 708.2l1.9 -0.3 1.3 0.3 4.7 1.8 1 0.9 0.8 2.3 0 2 -0.6 2 -0.9 1 -1.3 0.7 -1 -0.1 -1 -0.6 -1 -3.7 -1 -0.7 -2 -0.5 -1 -1 -0.6 -2.1 0.1 -1z" fill="none" stroke="#1c1c1c" stroke-width="0.9"/>
<path d="M183.9 749.2l0.4 -2 1.8 -2 2.9 -1.3 3 -0.4 3 0.7 4 0 3 1 2.5 2 0.5 2" fill="#000" fill-opacity="0.85" stroke="none"/>
<path d="M177.8 749.2l0.5 -2 0.7 -0.9 5 -4.1 2 -0.8 7 -1.6 6 1.8 5 0.9 4.2 4.7 0.6 2M182.6 749.2l0.5 -2 1.9 -2.3 2 -1.2 5 -1.2 3 0.7 4 0.4 4 1.1 2.4 2.5 0.4 2M184.4 749.2l0.5 -2 1.1 -1.4 2 -1.2 3 -0.6 4 0.7 3 -0.3 2 0.4 3 1.5 1 1 0.6 1.9M185.3 749.2l0.7 -2 1 -1.1 2 -1 2 -0.3 4 1.1 3 -0.8 1 0.1 2.9 2 1.1 1 0.3 1M186.1 749.2l0.7 -2 1.2 -1 3 -0.6 3 1.4 1 0 3 -1.2 1 0.2 1.3 1.2 0.3 2M186.8 749.2l0.9 -2 2.3 -1 1 0.2 0.9 0.8 -1.1 2M194.8 749.2l0.5 -1 1.2 -1 1.5 -0.6 1.3 0.6 0.3 2M187.6 749.2l0.4 -1.2 1 -0.7 1 0.4 -0.3 1.5M196.2 749.2l0.5 -1 1.3 -0.7 0.6 0.7 0.1 1" fill="none" stroke="#1c1c1c" stroke-width="1.0"/>
<path d="M183.5 705.2l0.5 -0.2 1.3 1.2 0.4 2 -0.2 2 1.9 2 0.6 2 -1.2 4 -0.1 3 -1.4 4 0.5 3 -0.3 1 -0.5 0.6 -1 0.1 -1.1 -0.7 -1.2 -2 -2.4 -7 0.6 -4 0 -4 2.7 -6z" fill="#000" fill-opacity="0.6" stroke="none"/>
<path d="M184 713.2l2 -0.3 1 1.3 -0.1 1 -1.1 2 0.2 4 -1.8 4 0.2 3 -0.4 0.3 -1.2 -1.3 -0.6 -2 -2.1 -4 -0.1 -1 0.6 -2 1.2 -2 0.2 -2.8z" fill="none" stroke="#1c1c1c" stroke-width="0.1"/>
<path d="M194.4 629.6h.9M206 615.5h.9M202.6 628.2h.9M208.3 634.3h.9M201 623.7h.9M202 612.4h.9M209.7 634.6h.9M208.2 593h.9M205.5 575.3h.9M207.4 630.3h.9M200 655.5h.9M196.5 646.1h.9M196.6 614.8h.9M220.6 599.3h.9M189.3 652.3h.9M200.5 652.1h.9M221.2 623.5h.9M203.9 610.8h.9M199 609.3h.9M193.9 648h.9M213.9 639.2h.9M219.2 628.8h.9M173.7 629.4h.9M189 627.4h.9M210 648.7h.9M197.6 647h.9M218.7 661.9h.9M201.3 644h.9M215 629.3h.9M175.2 621.3h.9M200.7 646.7h.9M183.3 610.4h.9M191.1 662.8h.9M189 647.7h.9M196.7 622.1h.9M208.2 609.2h.9M224.7 659h.9M203.9 607.9h.9M207.5 647.4h.9M219.7 657.2h.9M200.3 642.1h.9M192.1 628.5h.9M187.9 629.8h.9M205.5 625.5h.9M219.3 623.2h.9M232.7 650.5h.9M194.6 658.3h.9M208 653.3h.9M202.8 657.3h.9M211.7 613h.9M207.5 635.8h.9M219.4 597.2h.9M226.9 650.7h.9M193.8 651.6h.9M217.4 620.9h.9M193.5 604.4h.9M205.1 616.6h.9M195.1 602.2h.9M204.3 597.1h.9M199.3 606.1h.9M200.8 601.2h.9M203.1 601.3h.9M196.6 603.2h.9M194.2 610h.9M186.8 620.9h.9M218.6 588.2h.9M207.1 610.8h.9M200.4 601.1h.9M216.2 616.7h.9M189.6 616.3h.9M198.7 625.9h.9M198.4 600.4h.9M202.8 619.1h.9M191.2 613.4h.9M229.2 652.7h.9M218.7 640.3h.9M170 719.5h.9M198.3 646.5h.9M173.5 738.8h.9" fill="none" stroke="#222" stroke-width="1.0"/>
</g>
<ellipse cx="198.7" cy="606.7" rx="3.6" ry="2.8" transform="rotate(-25 198.7 606.7)" fill="none" stroke="#000" stroke-width="0.8"/>
<rect x="170.4" y="584.3" width="68.5" height="79.5" fill="none" stroke="#000" stroke-width="2.2"/>
<text x="263.5" y="619.1" font-size="27.5" font-weight="bold" font-style="normal" text-anchor="middle">3.4</text>
<g clip-path="url(#cB01)">
<path d="M378.9 749.2l-1.8 -2 -1.6 -3 -1.2 -4 -0.5 -4 0.2 -12 -0.8 -8 0.3 -9 2.7 -17 1.8 -4 2.7 -4 3 -3 4.9 -3.8 3 -1.6 3 -1.1 8 -0.7 3 0.3 2 0.6 7 4.4 2.8 2.9 3.6 6 1 4 2.4 17 0 12 -1.3 15 -1.7 5 -1.6 3 -2.2 2.2 -4 2.5 -3 0.9 -5.1 0.4 -3.7 1M384.8 749.2l-3.2 -2 -2 -2 -1.8 -3 -1 -4 -1.4 -23 0.7 -9 2.2 -10 1.3 -3.8 2.2 -4.2 3 -4 3.8 -4 4 -2.3 7 -1.9 4 -0.5 2 0.4 2 1 5.6 4.3 3.3 5 2 5 0.8 3 2.1 15 0.2 10 -1.2 12 -0.4 2 -1.4 3 -2 2.6 -2 1.8 -3 1.6 -7.5 2 -10.2 5M400.5 678.2l2.1 -0.3 2 0.3 2 0.9 2 1.6 2.4 2.5 3.6 5.1 2.4 4.9 2.9 22 -0.2 5 -1.4 10 -1.5 4 -3.2 3 -9 4 -12 6.6 -2 0.6 -2 -0.1 -3 -1.2 -4 -2.9 -1.7 -2 -1.2 -3 -1.5 -11 -0.6 -10 0.7 -11 3.2 -11 8.4 -12 1.7 -1.8 1.9 -1.2zM400.2 680.2l3.4 -0.3 3 1.6 7 8.7 1.7 3 0.9 4 0.2 8 2 9 -0.2 7 -1.7 9 -0.8 2 -1.1 1.5 -2 1.4 -5 2 -6 3.6 -4 2 -5 3.3 -3 0.6 -3 -1.1 -4 -2.6 -1.6 -1.7 -0.9 -2 -2.2 -12 -0.6 -11 0.6 -7 1.2 -5 2.8 -7 3.7 -4 3.3 -5 2.6 -3zM399.5 682.2l3.1 -0.7 3 1.3 8.2 10.4 1.1 4 0.1 10 2.2 8 -0.1 6 -1.6 7 -2 4 -1.9 1.3 -5 1.9 -6 3.9 -4 1.4 -4.3 3.5 -2.7 0.5 -2 -0.6 -4 -2.3 -2 -2.2 -1 -2.2 -2.1 -11.2 -0.6 -9 0.4 -6 1.5 -6 3 -7 3.8 -3.9 5 -6.5zM399.4 684.2l2.2 -1 1 0.1 2 0.8 2 2 6.3 8.1 0.9 4 -0.3 9 0.6 3 1.7 5 0.4 4 -0.4 3 -1.9 6 -2.3 3 -7 3.1 -4 3 -5.8 1.9 -3.5 3 -2.7 0.3 -3 -1.2 -2 -1.3 -1.5 -1.8 -1.3 -3 -1.8 -9 -0.5 -10 0.6 -6 1.9 -6 2.6 -5.1 3.7 -3.9 4.3 -5.4 5 -3.1zM399.9 686.2l1.7 -0.9 1 0 2 0.9 6 6.5 1.5 2.5 0.6 3 -0.5 6 0.1 5 2.4 8 0.3 3 -0.3 2 -1.1 3 -1 1.5 -4 3.5 -2 1 -4.3 1 -1.2 1 -1.3 2 -1.2 0.8 -4 1.2 -5 2.9 -2 0.1 -2 -0.7 -2 -1.3 -1.5 -2 -0.8 -2 -1.6 -7 -0.7 -8 0 -5 0.6 -4 2.2 -6 2.8 -4.7 3.3 -3.3 3.7 -4.7 2 -1.4 4 -1.9zM400.8 688.2l1.8 -0.7 2 0.7 4.9 5 1.7 3 0.3 3 -0.7 11 0.8 4.4 1.8 4.6 -0.1 3 -0.7 1.4 -3.6 2.6 -2.4 2.6 -6 1.9 -4 3.9 -7 3.3 -2 0.3 -2 -0.4 -2 -1.1 -1.1 -1.5 -2.1 -7 -1 -11 0.7 -7 2.1 -5 2.2 -4 4.2 -4.2 3 -3.8 2 -1.5 4.2 -1.5zM402.1 690.2l1.5 -0.2 2 1 3 3 1.2 2.2 0.4 3 -1.1 12 0.5 4 1.6 5 0 1 -6.6 6.6 -4.2 1.4 -4.8 3.9 -5 2.6 -3 0.9 -2 -0.1 -2 -1.2 -1 -1.4 -1.8 -6.7 -1 -10 0.2 -4 0.6 -3 4.1 -8 5.4 -5 2.5 -3.1 1.4 -0.9 4.6 -1.3zM403.1 693.2l1.5 0 1.8 1 1.2 1.5 0.5 1.5 0 2 -1.5 4 0.6 3 0.1 6 1.2 6 -0.1 2 -4.4 6 -4.4 2.1 -4 3.2 -7 3.6 -2 0.3 -2 -0.5 -1 -0.8 -1 -2.1 -1.2 -4.8 -1 -7 0 -7 1.2 -4 3 -5.5 3 -3.2 3 -1.7 4 -1.6 1.7 -2 1.3 -0.7zM399.7 697.2l1.9 -0.3 1.4 1.3 0.5 4 1.6 5 0.2 5 1.3 6 -0.4 2 -3 4 -7.6 6 -6 3.3 -2 0.7 -2 0 -1 -0.4 -1.2 -1.6 -1.8 -7 -1 -8 0.2 -4 0.8 -2.8 3.6 -6.2 2.4 -2.5 3 -1.2 4 0.3 2 -0.4zM388.9 702.2l1.7 -0.3 5 0.6 4 -1.1 1 0.1 0.7 0.7 1.3 2.3 0.9 2.7 0.6 11 -0.6 2 -3.9 3.8 -4 4.9 -6 3.6 -3 0.8 -2 -0.7 -1.2 -2.4 -2.2 -10 -0.1 -6 1.2 -4 3.1 -5 1.8 -2zM387.4 704.2l2.2 -1 5 0.7 5 -0.2 1 0.7 1.2 1.8 0.5 6 -0.5 4 -0.9 3 -3.8 4 -1.5 4 -2 2 -3 1.8 -2 1 -2 0.3 -1 -0.2 -0.9 -0.9 -0.8 -2 -2.2 -9 -0.3 -4 0.3 -3 0.9 -2.5zM387.6 705.2l2 -0.8 4 0.7 5 0.2 1 0.5 1 1.4 0.7 4 -0.3 3 -0.8 3 -1.1 2 -3.5 3.3 -1.5 4.7 -2.5 2.3 -4 1.8 -2 -0.6 -0.9 -1.5 -2.3 -8 -0.6 -4 0.2 -3 0.6 -2.3zM387.8 706.2l1.8 -0.6 8 0.9 1.1 0.7 0.9 1.2 0.7 3.8 -0.2 2 -1.1 3 -1.4 1.9 -3.3 3.1 -1.5 5 -2.2 2 -3 1.1 -1 -0.2 -1.3 -1.9 -2.7 -8 -0.3 -3 0.2 -3 0.6 -2 2.5 -3.6zM388 707.2l1.6 -0.6 7 0.9 2 1.6 0.8 3.1 -0.5 3 -1 2 -4.2 4 -0.6 1 -1.5 5 -2 1.6 -2 0.4 -1 -0.6 -0.7 -1.4 -2.7 -7 -0.4 -3 0.3 -3 0.6 -2 2.9 -3.8zM388.1 708.2l2.5 -0.6 5 0.7 2 1.3 1 2.6 -0.3 2 -0.8 2 -4.9 4.9 -0.6 1.1 -1 4 -0.8 1 -1.6 0.8 -1 -0.3 -1 -1.5 -2.7 -6 -0.5 -3 0.3 -3 0.8 -2zM388 709.2l2.6 -0.7 4.5 0.7 1.7 1 0.8 2 -0.1 2 -0.9 1.9 -4.5 4.1 -1.3 2 -1.2 3.5 -1 0.5 -1 -1 -2.9 -5 -0.6 -3 0.7 -4 1.2 -2zM387.8 710.2l1.8 -0.9 1 0 4 0.7 1.6 1.2 0.5 2 -1.3 3 -3.6 3 -3.2 3.6 -1 -0.3 -1.9 -2.3 -0.8 -3 0.6 -4zM389.4 710.2l2.2 -0.1 3 1 0.9 1.1 0.1 2 -2 2.5 -5 3.7 -1 0 -1 -0.9 -0.5 -1.3 -0.1 -4 1.6 -2.8zM389.1 711.2l1.5 -0.3 2 0.4 1.4 0.9 0.5 1 -0.7 2 -1.1 1 -4.1 2 -1.3 -1 -0.4 -3 1 -2zM389.3 712.2l1.3 -0.3 2 0.9 0.3 1.4 -0.7 1 -1.6 0.9 -1 0.2 -1 -0.4 -0.6 -1.7 0.3 -1z" fill="none" stroke="#1c1c1c" stroke-width="0.9"/>
<path d="M377.3 749.2l0.5 -1 1.2 -1 7.6 -3.5 7 -0.5 6 0.5 2 0.7 2.6 2.8 0.4 2" fill="#000" fill-opacity="0.85" stroke="none"/>
<path d="M373.9 749.2l0.7 -2 2 -2.2 7 -3.4 2 -0.6 4 0.3 6 -0.4 4 0.2 7 1.4 5.3 3.7 1 3M376.4 749.2l1.1 -2 1.1 -0.8 7 -3.3 8 -0.5 8 1 6 3.5 0.9 1.1 0.2 1M377.9 749.2l0.5 -1 1.2 -0.8 5 -1.9 2.1 -1.3 5.9 -0.7 7 0.6 2 0.8 1.9 2.3 0.3 2M379.1 749.2l1.5 -1.2 5 -1.5 3 -1.7 4 -0.7 8 1.3 1.7 1.8 0.2 2M380.5 749.2l2.1 -1 4 -0.6 1 0.2 0.5 1.4M391.5 749.2l-1.6 -2 -0.3 -1 0.9 -1 2.1 -0.6 2 0.3 2 1.1 3.4 0.2 1.1 1 0.4 2M382.6 749.2l2 -0.5 1.9 0.5M392.7 749.2l-1.4 -2 -0.2 -1 1.5 -1.1 1.1 0.1 1.7 1 0.7 1 0.2 2M398.1 749.2l0.5 -0.8 1 -0.5 0.6 1.3M392.2 746.2l1.4 -0.3 0.7 0.3 0.5 1 -0.2 0.8 -1 0.5 -1.3 -1.3z" fill="none" stroke="#1c1c1c" stroke-width="1.0"/>
<path d="M384 707.2l0.6 -0.3 0.2 0.3 2.2 4 1 3 0.3 2 -0.6 3 -1.1 2.8 -1.4 2.2 -0.6 3.4 -1 1.4 -1 -0.5 -0.7 -1.3 -0.4 -4 -1.3 -3 -1.2 -6 0.6 -2.2 3.8 -2.8z" fill="#000" fill-opacity="0.6" stroke="none"/>
<path d="M382.5 711.2l2.1 -0.6 1 0.5 1.5 2.1 0.5 2 0 2 -1 2.2 -2 2.3 -1 0.5 -1.1 -1 0 -1 0.6 -1 -0.3 -1 -2.2 -1.7 -0.9 -2.3 0.7 -2z" fill="none" stroke="#1c1c1c" stroke-width="0.1"/>
<path d="M384.1 658h.9M387 645.8h.9M394.5 657h.9M402 632.9h.9M377.5 650.2h.9M402.8 643.9h.9M394.6 643.4h.9M383.6 627.9h.9M389 627.4h.9M392.1 649.8h.9M386.2 629.2h.9M397.2 605.9h.9M396.1 624.5h.9M407.6 607.3h.9M403.1 609h.9M394.4 639.8h.9M411.2 590.9h.9M398.6 622.9h.9M386 626.7h.9M406.4 599.1h.9M376.8 611.2h.9M369.4 626.9h.9M388.7 599.9h.9M402.8 633.9h.9M400 629.6h.9M398.2 623.3h.9M388 632.7h.9M413.9 622.9h.9M410.2 647.8h.9M405.7 632.1h.9M396 641.1h.9M399.2 655.5h.9M396.5 641.3h.9M377.8 609.2h.9M420.4 596.4h.9M380.5 617.7h.9M400.6 623.7h.9M390.2 635.6h.9M395.3 654.9h.9M420.4 647.5h.9M398.9 650h.9M401.7 650.7h.9M393.8 622.4h.9M386.7 652.8h.9M413.6 630.2h.9M389.3 618.6h.9M418.8 677.2h.9M424.4 682.7h.9M422.9 619.3h.9M412.8 614.6h.9M396.4 586.2h.9M406.1 669h.9M406.8 667.8h.9M384.4 674.2h.9M390.6 671.9h.9M380.3 667.9h.9M397.6 671h.9M389.4 673.6h.9M415.1 674.1h.9M383.4 672.8h.9M375.3 674.3h.9M388.9 673h.9M388.9 674.2h.9M396.8 668.8h.9M411.8 666.6h.9M410.4 668h.9M374 669.2h.9M377.4 665h.9M393.6 671.1h.9M383.6 676.9h.9M382.5 673.9h.9M411.9 665.3h.9M400.2 668.4h.9M409.7 670.9h.9M368.8 662.4h.9M411.8 672.3h.9M415.6 672.3h.9M377.9 676.3h.9M363.1 682.4h.9M372.6 689.8h.9M412.3 667.5h.9" fill="none" stroke="#222" stroke-width="1.0"/>
</g>
<rect x="363.9" y="585.5" width="68.6" height="79.5" fill="none" stroke="#000" stroke-width="2.2"/>
<text x="453.3" y="620.5" font-size="27.5" font-weight="bold" font-style="normal" text-anchor="middle">1.7</text>
<g clip-path="url(#cB10)">
<path d="M199.9 805.5l2.1 -0.7 2 -0.1 5 2.2 2 1.7 1.4 1.9 2.1 5 0.7 4 0.9 18 0.2 11 -0.6 8 0.3 7.9 2 8 2.6 8.1 8.6 13 3 6 0.6 4 -0.6 8 -0.7 4 -2 5 -3.5 5.1 -5 4.5 -9 4.9 -3 1.1 -10 2.1 -9 0.6 -5 -1 -6 -2.5 -7 -5.6 -2.7 -3.2 -2.1 -4 -1.7 -6 -0.4 -4 0.3 -9 0.9 -4 1.1 -3 3.9 -6 1.8 -2 10.9 -9.4 2 -2.6 0.9 -2 2.7 -9 0.8 -5 0.1 -5 -0.8 -10 -0.1 -6 1.7 -21 1.1 -4 2 -4 2.6 -3.1zM202.3 809.5l2.7 -0.1 3 1.2 2 2.1 2.1 4.8 0.5 3 1.1 24 -0.3 4 -1.3 7 -0.4 5 0.3 2 1.6 6 1.4 9.3 1 3.8 2.9 4.9 7.5 10 1.5 3 0.8 4 -0.3 6 -1.1 5 -2.2 5 -3 4 -4.1 3.3 -6 3.8 -3 1.3 -12 2.6 -6 0.3 -6 -1.5 -4 -1.6 -5 -3.4 -3 -2.9 -1.6 -2.9 -2.4 -7 -0.2 -2 0.9 -10 1.3 -4.8 3.5 -5.2 7.5 -7 6 -5 1.6 -2 1 -2 2.2 -9 0.8 -10 -0.9 -17 0.9 -20 1.4 -4.8 2 -3.6 2 -2zM202.2 813.5l2.8 -0.7 2 0.9 2 3.3 0.8 3.5 0.4 6 -0.2 8 1 10 -1 4.6 -2.1 4.4 -0.6 6 0.7 3 2.4 4 1.1 3 0.5 3 -0.3 5 0.3 3 1.9 4 11.1 14.5 1.1 3.5 0.1 4 -0.6 5 -1.4 4 -2.2 4 -3 3.2 -9 6.4 -13 3.1 -4 0.2 -10 -2.4 -4 -2.2 -3 -2.3 -2.1 -3 -2.4 -6 -0.4 -2 0.1 -3 1 -9 1.8 -3.9 3.8 -5.1 6.2 -5.4 6.2 -4.6 2 -2 1.2 -2 2.1 -10 0.3 -7 0.9 -5 -0.3 -7 1.8 -6 0.5 -3 -2.6 -8 -0.4 -11 0.9 -3 1.4 -2.2zM200.2 862.5l1.8 -0.4 1 0.6 5 7 0.8 2.8 -1.1 5 0.7 3 2.6 4.4 4.3 4.6 7.7 10 1.2 3 0.1 5 -1 5 -3.1 6 -1.8 2 -6.4 5.3 -3 1.7 -5.5 1 -6.5 2.1 -3 0.2 -11 -2.7 -3 -1.6 -2.6 -2 -1.9 -3 -2.3 -6 -0.4 -3 0.1 -4 0.6 -4 0.9 -3 4.6 -6.5 6 -5.2 8.8 -6.3 1.9 -2 0.7 -2 0.2 -5 2.3 -10zM199.9 877.5l0.1 -0.5 1 -0.5 4 4.3 5 6.3 4 3.7 3 4.4 4 4.6 1.2 1.7 0.6 2 0 4 -0.9 4 -3.3 6 -2.6 3 -5 4.2 -2 1.1 -6 1.3 -6 2 -3 0.3 -10 -2.4 -3.1 -1.5 -2.3 -2 -1.8 -3 -1.8 -5 -0.8 -5 0.1 -3 1.2 -5 5 -7 4.5 -3.7 9 -5.9 2.9 -2.4 2.4 -3zM199.9 883.5l2.1 -0.7 1 0 2 1.1 4 5.2 4 3.4 2.9 4 4.1 4.6 0.9 1.4 0.6 2 -0.5 5 -1 2.2 -4.9 7.8 -3.1 3 -3 2 -14 3.7 -2 -0.2 -9 -2.2 -3.7 -2.3 -1.4 -2 -1.2 -3 -2.3 -9 0 -2 0.6 -3 1.6 -3 4.6 -6 2.8 -2.1 9.6 -5.9zM199.8 885.5l1.2 -0.5 2 0 2 1.3 3 4.2 3.6 3 6.8 8 1.7 3 0.1 2 -0.8 3 -5.9 10 -1.8 2 -2.7 1.8 -14 3.7 -11 -2.3 -3 -2.1 -1.6 -3.1 -2.9 -10 -0.1 -2 0.7 -3 2.4 -4 3.5 -4.2 12 -7.4zM199 887.5l2 -0.9 2 0.2 1 0.7 3 3.9 4 3.5 7 8.6 0.7 3 -0.8 3 -3.1 5 -2.5 5 -2 2 -2.3 1.2 -10 2.8 -3 0.4 -11 -2.2 -2.6 -2.2 -1.2 -3 -1.1 -5 -1.7 -5 0.1 -2 0.7 -2 2.8 -4.5 3 -3.2 6 -3.2zM199.7 888.5l1.3 -0.4 2 0.5 11.3 11.9 2 3 0.8 2 0 2 -0.6 2 -2.9 5 -2.4 5 -1.2 1.2 -2 1.2 -9 2.5 -3 0.5 -2 -0.1 -4 -1.2 -4 -0.4 -2 -0.5 -1.4 -1.2 -1.1 -2 -1.5 -6.4 -1.3 -3.6 -0.3 -2 0.9 -3 2.5 -4 2.2 -2.4 2 -1.2 4 -1.7zM200.6 889.5l1.4 0.1 1 0.7 9 9 1.8 2.2 1.6 3 0.4 2 -0.2 2 -4.7 10 -0.9 1.2 -2 1.4 -10 2.7 -3 0 -5 -1.6 -4 0 -2 -0.6 -1.1 -1.1 -0.9 -2 -2.4 -10 0 -2 0.8 -2 1.6 -2.7 2 -2.2 2 -1.3 4 -1.3 7 -5.7 2 -1.3zM198.5 891.5l2.5 -0.7 2 1 9 8.8 1.8 2.9 0.8 3 -0.2 2 -3.8 9 -1.5 2 -1.1 0.7 -10 2.8 -3 -0.2 -5 -2 -5 0.1 -1.6 -1.4 -1.1 -3 -1.6 -8 0.1 -2 0.8 -2 2.4 -3.4 2 -1.3 4.5 -1.3 3.9 -4zM198.7 892.5l2.3 -0.4 2 1.1 5 5.3 3 2.3 1.9 2.7 0.7 3 -0.2 2 -3.7 9 -0.7 1.1 -2 1.3 -9 2.3 -3 -0.4 -5 -2.1 -4 0.3 -1 -0.3 -1 -0.9 -0.6 -1.3 -0.8 -3 -0.6 -7 0.9 -3 2.1 -2.6 6 -2.2 4 -4.5zM199.2 893.5l1.8 -0.1 1.9 1.1 3.6 4 4.1 3 1.4 2 0.5 2 -0.2 3 -3.3 8.7 -2 1.8 -9 2.4 -3 -0.5 -5 -2.2 -4 0.1 -1 -0.5 -1.2 -1.8 -0.7 -4 0.4 -5 1 -3 1.5 -1.5 5.5 -2.5 4.5 -5zM197.7 895.5l2.3 -0.8 2.2 0.8 3.9 4 4.3 3 1.1 2 0.2 2 -2.7 8.8 -1 1.9 -2 1.3 -8 2.2 -3 -0.7 -4 -1.9 -5 -0.5 -1.2 -1.1 -0.8 -3 0.9 -6 1.3 -3 1.2 -1 4.6 -2.3 4 -4.5zM198.1 896.5l1.9 -0.4 2 0.7 4 3.7 3.2 2 0.9 1 0.7 2 -0.3 2 -2.2 7 -1 2 -1.3 0.9 -8 2.5 -2 -0.3 -5 -2.3 -4.3 -0.8 -1.2 -1 -0.6 -2 0.2 -2 1.9 -6 1 -1.1 4.9 -2.9 3.1 -3.6zM198.8 897.5l1.2 0 2 0.7 6.9 5.3 0.8 2 -0.4 2 -1.5 3 -0.7 4 -0.7 1 -6.4 3.1 -3 0.5 -10 -3.9 -0.7 -0.7 -0.2 -2 1.2 -5 0.9 -2 1.1 -1 3.7 -2.1 4 -4.2zM196.9 899.5l2.1 -0.8 3 0.7 5.1 4.1 0.9 1 0.3 1 -0.3 1 -3.1 3 -0.5 1 0 3 -0.7 1 -3.7 3 -2 0.7 -3 -0.5 -6 -2.8 -1.4 -1.4 -0.1 -1 0.7 -5 0.8 -1.6 1 -0.9 4.1 -2.5zM197.4 900.5l2.6 -0.6 2 0.6 3.2 3 0.6 1 0 1 -3.6 4 -0.9 4 -0.9 2 -1.4 1.4 -2 0.5 -3 -0.9 -3.8 -2 -1 -1 -0.5 -2 0.2 -3 0.7 -2 1.4 -1.3 3.2 -1.7zM198.2 901.5l1.8 -0.4 1.6 0.4 1.4 1 0.9 2 -2.9 4.5 -2 6.3 -1 0.8 -2 0.3 -3 -1.1 -2.5 -1.8 -0.9 -2 0.1 -3 1.3 -2.4 4 -2zM198 903.5l2 -1 1 0.3 0.9 0.7 0.1 1 -1.7 3 -2.2 7 -1.1 0.8 -2 0.1 -2 -0.9 -2 -1.9 -0.6 -2.1 0.1 -2 0.5 -1.1 1 -1 4.5 -1.9zM193.9 906.5l3.1 -0.6 1 0 0.7 0.6 0 2 -0.7 3.4 -0.7 1.6 -1.3 0.9 -1 0 -2 -0.9 -1.4 -2 -0.1 -3 0.6 -1zM194.8 907.5l1.2 0 1 0.7 0.3 1.3 -1 3 -1.3 0.6 -1.5 -0.6 -1 -2 0.3 -2z" fill="none" stroke="#1c1c1c" stroke-width="0.9"/>
<path d="M185.8 948.5l-2.8 -0.4 -1.3 -0.6 -0.8 -1 0.6 -1 1.5 -0.7 3 -0.6 14 -0.2 6 0.4 4 0.7 1.8 1.4 -0.4 1 -2 1M184.9 945.5l16.1 -0.5 6 0.5 2.1 1 -0.5 1 -0.6 0.2 -4 0.7 -3 -0.1 -4 -0.8 -6 0.6 -6 -0.9 -1.2 -0.7zM188.2 946.5l3.8 -0.7 3.4 0.7 -3.4 1.1zM197.9 946.5l2.1 -0.8 6.9 0.8 -1 1 -3.9 0.5 -2.2 -0.5zM199.8 946.5l3.5 0 -1.3 0.8z" fill="none" stroke="#1c1c1c" stroke-width="1.0"/>
<path d="M186.7 816.6h.9M219.8 840.6h.9M185.8 803.3h.9M182.9 877.3h.9M188.1 824.8h.9M221.8 839.8h.9M180.9 826.7h.9M188.7 788.8h.9M187.4 829.2h.9M209.3 797.2h.9M179.8 856.3h.9M211 787.8h.9M210.4 795.6h.9M185.2 808.6h.9M192.6 801.4h.9M177.3 851.1h.9M186.8 860.8h.9M208.8 805.7h.9M193.7 790.1h.9M185.5 802h.9M189.1 819.1h.9M192.4 807h.9M192.4 808.2h.9M177.9 825.2h.9M187.7 832.9h.9M176.8 849.3h.9M189.5 811.6h.9M178.5 788.9h.9M180.3 812.2h.9M186.9 836.1h.9M191.2 817.2h.9M218.1 817.5h.9M180.8 846.7h.9M184 873.1h.9M175.7 839.4h.9M197.7 785h.9M176.3 868.3h.9M183.2 847.2h.9M189.8 807.7h.9M198.1 790h.9M184.3 839.1h.9M217.4 833h.9M198.9 802.4h.9M193.8 793.2h.9M198.5 800.7h.9M179.5 802.2h.9M224.5 827.5h.9M186.8 793.8h.9M210.8 793.5h.9M192.6 810.4h.9M184.8 786.1h.9M175.9 805.1h.9M188.2 785.9h.9M182.6 843.8h.9M182.6 870.7h.9M180.8 820.3h.9M189.1 832.1h.9M202.9 803.5h.9M193 793.6h.9M207.9 788.7h.9M179.4 840.6h.9M188.3 833.5h.9M184.9 806.4h.9M182.4 830.7h.9M196.2 803.7h.9M187.9 805.8h.9M186.1 822.5h.9M194.8 794.4h.9M186.6 822.6h.9M194.7 797.1h.9M212.2 788.1h.9M193.5 806.6h.9M185.8 860.8h.9M185.9 839.2h.9M185.5 834.7h.9M188.5 830.2h.9M177.3 789.2h.9M189.2 802.3h.9M188 832.9h.9M179.8 869.4h.9M178.2 854.4h.9M186.9 809h.9M181.6 856.1h.9M183.5 816.9h.9M177.8 877.4h.9M182.3 797.4h.9M180.7 811.1h.9M176.1 858.8h.9M175.5 851.9h.9M181.4 843.4h.9M188 818.4h.9M181.5 863.5h.9M183 846.1h.9M187.5 849.3h.9M189.5 826.8h.9M195.2 804.4h.9M181.2 790.2h.9M182.3 863.4h.9M184.1 815h.9M183.6 859.5h.9M186 844.1h.9M205.1 793h.9M182.1 878.6h.9M186.4 842.3h.9M174.3 843.1h.9M185.7 805h.9M180.1 830.4h.9M187.4 851h.9M182.5 829.5h.9M182.8 811.4h.9M185.6 842.8h.9M187.7 802.5h.9M179.8 822.1h.9M186.7 792.5h.9M217.9 849.8h.9M182.3 820.9h.9M185.6 856.7h.9M182.4 791.6h.9M186.2 870.6h.9M200.2 793.7h.9M204.6 789.4h.9M187.1 828.2h.9M191.4 792h.9M184.8 852.4h.9M183.2 874.7h.9M185.1 833.4h.9M176.8 792h.9M183.1 873.9h.9M186.9 819.9h.9M183.1 816.3h.9M182.2 850.4h.9M190.2 855h.9M185.1 845.4h.9M185.9 815.5h.9M176 848.6h.9M185.7 845.5h.9M188.4 853.6h.9M185.4 809.1h.9M183.8 844.9h.9M189.8 800.4h.9M210.6 789h.9M174.5 874.7h.9M185.9 848.4h.9M183.2 841.8h.9M210.5 794.8h.9M189.1 834.7h.9M183.5 810.9h.9M182 831.3h.9M183 839.3h.9M188.1 830.4h.9M186 805.8h.9M189.9 860.8h.9M183.8 809.9h.9M189.9 859.9h.9M178.8 859.5h.9M191.1 812.6h.9M181.6 803.4h.9M179.9 873.5h.9M216.2 789h.9M177.3 845.6h.9M185.1 842.6h.9M186.6 814.5h.9M190 815.2h.9M188 811.7h.9M188.3 808.5h.9M212.4 798.2h.9M182.5 859.5h.9M189.3 841.2h.9M188.1 860.5h.9M184.8 832.3h.9M178.9 875h.9M191.3 814.9h.9M191.1 812.7h.9M179.2 853.1h.9M187.7 805.1h.9M184.3 847.5h.9M176.2 839.5h.9M178.9 867.1h.9M187.7 823.7h.9M180.6 838.1h.9M203.4 787.6h.9M194.6 804.7h.9M208.3 799.3h.9M181.6 824.3h.9M191.1 814.7h.9M181.4 877.4h.9M200.6 795.2h.9M206.3 803.9h.9M187 851.3h.9M210.9 804.2h.9M180.9 825.6h.9M183.4 842.6h.9M185.6 820.9h.9M176.3 844.8h.9M194.9 796.7h.9M195.8 807.1h.9M175 861.6h.9M174.5 818.5h.9M221.2 859h.9M199.6 803.8h.9M178.1 842.5h.9M189.2 826.6h.9M177.2 852.8h.9M197.9 791.5h.9M179.7 868.9h.9M199.8 793.2h.9M193 811h.9M203.3 801.6h.9M189.4 815.7h.9M183.8 790.4h.9M189 845h.9M182.6 830.7h.9M176.2 832.6h.9M187.3 864.3h.9M220.9 809.3h.9M183.8 824h.9M182.2 862.3h.9M185.9 837h.9M198.4 804h.9M211.3 791h.9M190.9 797.5h.9M218.9 841.7h.9M187.6 866.7h.9M187.7 813.5h.9M181.1 833.5h.9M189.5 854.8h.9M187.9 827.3h.9M185.1 833.5h.9M185.9 872.9h.9M189.7 819.8h.9M180.6 844.4h.9M196 799.6h.9M182.9 852.9h.9M193.5 801.9h.9M177.2 838.8h.9M191.4 815.8h.9M189.8 824.8h.9M186 873.2h.9M191.8 814.1h.9M181.2 808.1h.9M196.1 803.2h.9M185 832.3h.9M187 859.7h.9M181.2 874.7h.9M188.5 844.7h.9M187.9 799.8h.9M179.8 852h.9M178.9 838.2h.9M194.2 798.4h.9M203.9 794.4h.9M198.9 791h.9M180.4 829.1h.9M187.8 816.4h.9M190 800.6h.9M175.6 819.1h.9M185.4 807.4h.9M214 803.9h.9M225.1 842.8h.9M183.8 860.2h.9M182 857.4h.9M176.4 850h.9M180.7 848h.9M179 819.9h.9M174.4 795.3h.9M186.5 829.4h.9M212.7 810.7h.9M191.4 791.9h.9M193.3 800.8h.9M178.5 844.4h.9M184.4 848.8h.9M189.5 847.5h.9M183.5 858h.9M191.4 817.8h.9M187.6 848.5h.9M199.1 798.6h.9M191.3 804.9h.9M180.9 832.9h.9M179.8 876.1h.9M189.3 850h.9M188.5 800.6h.9M175.7 851h.9M176 833.2h.9M183.9 835.7h.9M190.2 820.1h.9M194.3 792.4h.9M181.1 871.7h.9M199.9 804.9h.9M207.1 805.4h.9M187.6 839.3h.9M198.6 788.9h.9M182 850.8h.9M182.8 859.6h.9M201.5 795.4h.9M186.8 849.5h.9M177.6 816.7h.9M189.8 855.2h.9M184.1 865.4h.9M187.6 849.8h.9M180.6 807h.9M184.5 795.2h.9M180 791.5h.9M206.4 801.4h.9M181.2 831.4h.9M190.6 806.4h.9M189.2 831.7h.9M198.2 805.1h.9M183.6 861.6h.9M184.4 807.7h.9M178.9 816.7h.9M190.1 834.2h.9M189.8 802.3h.9M209.3 804.2h.9M197.6 791.3h.9M175.4 800.7h.9M176.1 852.9h.9M182.9 796.7h.9M179.8 862.3h.9M180.5 807.6h.9M191.2 808.5h.9M186.6 855.2h.9M174.9 878.4h.9M188.5 846.1h.9M189.1 804.4h.9M200.8 787h.9M180.6 852.6h.9M188.9 836.1h.9M189.2 813.3h.9M190.4 850.7h.9M188.8 828.2h.9M196 806.2h.9M183.1 792.7h.9M183.9 860h.9M187.6 854.5h.9M186.4 797.8h.9M203.3 801.9h.9M208.9 792.1h.9M183.2 819.7h.9M178.1 803.6h.9M184 822.2h.9M198.1 806.6h.9M181.2 839.9h.9M176.7 838.2h.9M185.5 835.2h.9M182.7 846.1h.9M187.9 802.7h.9M185.6 832.1h.9M180.1 832.3h.9M180.4 879.3h.9M187.3 792.2h.9M187.9 808.2h.9M177.5 845.2h.9M187.1 839.7h.9M187.8 865.2h.9M188.7 844.5h.9M187.2 873.4h.9M185.4 876h.9M210.6 805.8h.9M177.6 820.7h.9M183 813.6h.9M203 800.3h.9M187.4 820.1h.9M178.7 835.1h.9M174.3 814.9h.9M178.7 869.9h.9M181 807.8h.9M174.5 824.3h.9M177.4 840.6h.9M188.1 796.9h.9M177 880.1h.9M181.8 824.5h.9M188.5 826.5h.9M179.9 849.1h.9M182.1 802.1h.9M180.7 854.7h.9M187.9 833.7h.9M198.3 798.8h.9M174.2 823.6h.9M180.2 800.6h.9M187.7 800.1h.9M189.7 823.8h.9M193.7 810.6h.9M184 813.9h.9M190.4 816.3h.9M182.8 809.6h.9M181.8 861.3h.9M186.6 831.9h.9M185.1 847.1h.9M217.9 825h.9M202.4 802.6h.9M193.4 807.4h.9M184.3 847.2h.9M204.2 796.6h.9M184.3 802.4h.9M180.7 820.5h.9M183.9 842h.9M177.4 843.7h.9M200 792.3h.9M208.9 795.8h.9M188.6 840h.9M185.8 851.3h.9M190.5 819.7h.9M187.6 842.5h.9M181.2 839.1h.9M185.1 838.6h.9M184.8 849.5h.9M182.4 830.3h.9M188.7 828.8h.9M188.2 857.6h.9M189.3 860.4h.9M218.2 822.7h.9M179.4 839h.9M179.4 873h.9M181.2 806.8h.9M189.9 799.9h.9M215 786.1h.9M205.4 797.5h.9M176.3 855.4h.9M192.5 809.8h.9M187.7 836.6h.9M213.5 808.2h.9M192.8 810.5h.9M188.9 848h.9M192.8 803.4h.9M179.7 796.2h.9M174.4 816.7h.9M229.2 847.4h.9M195.2 798.4h.9M185.1 817.9h.9M185.4 810.2h.9M188.3 815.8h.9M189.7 835h.9M203.4 790.9h.9M186 842.9h.9M189.8 863.8h.9M190 825.6h.9M181.9 861.9h.9M207.2 799.3h.9M189.5 836.7h.9M177.9 796.2h.9M181.1 829.7h.9M218.4 826.2h.9M208 798.6h.9M187.3 873h.9M191.4 812.5h.9M184.6 817.8h.9M180.3 831.4h.9M180.1 840.5h.9M192.8 802.8h.9M201.8 786.5h.9M188.4 864.7h.9M201.2 803.3h.9M177.9 794.8h.9M187.8 849.1h.9M190.4 812.7h.9M176 791.5h.9M177.2 818.2h.9M189.4 850.7h.9M215.5 833.9h.9M185.2 839.8h.9M189.2 864.6h.9M188.5 845.5h.9M185.3 845.2h.9M187.7 861.6h.9M187.8 801h.9M182.2 833.7h.9M217.9 791.7h.9M193.9 801.3h.9M180.1 838.7h.9M185.4 804h.9M176 847.1h.9M183.2 815.4h.9M185.9 850.3h.9M181.6 797.9h.9M194.2 793.5h.9M188.5 839.1h.9M185.9 818.4h.9M174.7 883.6h.9M187.8 809.4h.9M188.7 815.7h.9M185.1 834.1h.9M177.8 847.4h.9M178.7 852.2h.9M181.8 823.9h.9M188.1 851.6h.9M181.4 843.8h.9M189.1 807.3h.9M201.8 788.2h.9M184.8 801.1h.9M193.3 800.5h.9M186.5 825.2h.9M217.8 835.8h.9M179.2 833.3h.9M179.9 798.2h.9M194.7 794.9h.9M186 869.9h.9M194.1 807.9h.9M183 853.9h.9M186.4 837.9h.9M188.9 847.1h.9M189.7 818.2h.9M220.2 809.2h.9M193.4 793.4h.9M185.4 875.8h.9M175.2 852.8h.9M184.6 860.5h.9M182.9 809.3h.9M184.9 852.7h.9M178.3 863.4h.9M174.4 807.3h.9M180 814.8h.9M187.9 819.7h.9M196.8 802.2h.9M205.6 803.1h.9M218.7 858.4h.9M200.9 790.4h.9M178.8 806.5h.9M181.1 814.7h.9M174.7 815.1h.9M188.2 839.1h.9M190.2 810.9h.9M188.6 825.2h.9M180.6 836.6h.9M184.8 822.3h.9M185.9 808.9h.9M189.1 815.9h.9M183.4 819.7h.9M186.8 840h.9M217.5 851.4h.9M184.4 828h.9M185.9 837.5h.9M190.3 811.9h.9M187.7 825.2h.9M199.5 800.2h.9M189.5 801.8h.9M176.7 834.9h.9M193.1 811.6h.9M176.6 870.8h.9M185.7 826.9h.9M177.5 834.1h.9M180.1 827.6h.9M186 820.1h.9M191.5 802.4h.9M182.8 859.8h.9M188.3 809h.9M189.6 851.1h.9M183.7 819.5h.9M185.4 816.3h.9M189.4 832h.9M181.8 839.6h.9M189.3 827.8h.9M225 836.7h.9M186 815h.9M182 822h.9M180.4 849.7h.9M183.5 862.8h.9M183 858.4h.9M188 865.6h.9M180 827.7h.9M181.6 846.2h.9M193.1 786.9h.9M189.4 857.4h.9M221.2 785.7h.9M174.4 818.3h.9M187.7 790h.9M186.4 829.1h.9M193.8 796h.9M183.6 856.6h.9M186.9 828.7h.9M219.4 859.8h.9M178.1 840h.9M188.2 829.3h.9M186.2 840.1h.9M200.4 793.3h.9M181.9 820.6h.9M179.4 807.5h.9M179.8 789h.9M184.9 843.6h.9M205.6 804.3h.9M177.4 799.8h.9M217 838.3h.9M192.8 794.5h.9M204.8 802.8h.9M186.7 870h.9M200 801.6h.9M217.1 839.5h.9M186.8 861.9h.9M179.6 865.1h.9M187.6 838.8h.9M219.7 833h.9M183.9 812.3h.9M189.8 791.4h.9M192.4 799.5h.9M187.5 846.9h.9M188.7 817.5h.9M221.2 835h.9M183.7 789h.9M187.9 870.7h.9M181.9 855.5h.9M204.4 797.5h.9M190.2 821.4h.9M192.7 808.1h.9M175.1 850.2h.9M193 789.8h.9M185.6 838.1h.9M191 812.3h.9M184.1 833.1h.9M184.8 828.5h.9M190.6 818.1h.9M184.8 817.7h.9M185.2 788.9h.9M177.7 859h.9M184.9 833.5h.9M184.8 829h.9M187.3 837.8h.9M188.6 826.4h.9M188.9 840.5h.9M186.2 871.3h.9M190.3 796.2h.9M184.2 803.6h.9M194.4 810.4h.9M216.5 799.9h.9M189.7 857.2h.9M204 790h.9M213.6 802.7h.9M182.1 850.5h.9M200.8 786.9h.9M188.2 862.7h.9M179.4 814.4h.9M188 842.8h.9M184 810.3h.9M218.8 804.2h.9M214.5 791.8h.9M185.7 837.4h.9M190 820h.9M185 807.2h.9M207.7 800h.9M184.2 845.2h.9M178.5 870.5h.9M195.6 802.9h.9M185.9 840.1h.9M183.8 861.9h.9M195.3 799.8h.9M187.5 827h.9M191.4 802.5h.9M188.9 824.1h.9M186.8 850.5h.9M174.5 827h.9M184.6 818.2h.9M213.8 812.5h.9M203.7 798h.9M183.9 792.7h.9M188.1 827.2h.9M178.7 844.1h.9M192.1 796.3h.9M199.9 786.1h.9M203.7 799.1h.9M187.6 854.8h.9M179.4 844.8h.9M178.8 878h.9M190.5 826.1h.9M178.3 835.5h.9M186 828.4h.9M184.7 823.2h.9M219.7 833.1h.9M180.6 841.2h.9M186.2 839.1h.9M177.5 849.1h.9M181 841.7h.9M189.6 857h.9M175.8 864.9h.9M184.7 865.6h.9M198.9 805.4h.9M221.5 852.4h.9M187.2 799h.9M189.7 807.4h.9M193.4 809.3h.9M186.7 812.5h.9M217.2 841.4h.9M184.9 831.8h.9M181.1 791.5h.9M190.6 792.3h.9M187.8 814.2h.9M191 809.5h.9M203.3 804.9h.9M179.5 826.7h.9M189.6 789.2h.9M187.9 791.6h.9M178.6 861.1h.9M180.1 872.7h.9M190.9 804.9h.9M178.6 854.6h.9M193.7 795.9h.9M175.6 854.9h.9M183.8 840.6h.9M213.3 791.2h.9M179.6 806.5h.9M202.4 791.8h.9M186.9 836.8h.9M186 841.9h.9M186.1 839h.9M197.1 788.5h.9M189.3 857.7h.9M177.4 800.6h.9M195.5 808h.9M187.6 805.8h.9M195.7 802h.9M200.1 785.9h.9M175.8 862.3h.9M181 853.2h.9M184.2 866.4h.9M187.7 805.5h.9M181.8 841h.9M186.6 832.5h.9M189.5 802.8h.9M189 813.9h.9M178.6 813.8h.9M179.1 853.2h.9M219.6 836.9h.9M175.3 863.2h.9M192.6 799.6h.9M185.3 789.6h.9M182.6 874.5h.9M182.3 830.1h.9M186.3 813.2h.9M198.5 795.5h.9M203.3 800.5h.9M189.6 851.7h.9M183.8 807.2h.9M181.2 798.3h.9M202.4 803.9h.9M180.1 867.6h.9M193.6 792h.9M188.7 831.1h.9M182.4 830.9h.9M190.3 795.9h.9M188.1 839.2h.9M221.9 825.7h.9M174 881.6h.9M181.2 845.2h.9M194.8 809.8h.9M188.1 791.8h.9M197 791.8h.9M189.3 819.4h.9M183 852.9h.9M189.5 791.9h.9M184.7 868.2h.9M185.8 825h.9M200.3 795.8h.9M196.8 799.5h.9M185.5 834.4h.9M189.8 853.1h.9M183.5 831.2h.9M179.1 865.6h.9M188.5 868h.9M178.7 792.5h.9M188.3 863.4h.9M176.4 812.3h.9M207.9 799.3h.9M193.5 802.3h.9M188.7 828.8h.9M183.2 852.9h.9M177.1 853h.9M220.5 861.2h.9M177.8 836.9h.9M180.2 881.6h.9M192.4 814.4h.9M189.8 801.9h.9M187.4 850.6h.9M176.6 862.8h.9M183.7 797.3h.9M182.7 811.6h.9M177.4 862.6h.9M184.7 841.7h.9M182.3 864.4h.9M178.7 823.3h.9M192.2 805.3h.9M182.7 791.3h.9M188.3 841h.9M185 864.4h.9M178.1 880.5h.9M203.1 790.6h.9M203.5 800h.9M187.8 819.3h.9M182.4 788.3h.9M191.3 818.5h.9M184 804.6h.9M179.8 819.1h.9M188.1 850.4h.9M210.8 796.7h.9M174.5 853h.9M185.3 854h.9M189.1 856.1h.9M180.3 810.5h.9M183.9 852.2h.9M195.5 795.6h.9M182.9 786.3h.9M178.2 864.2h.9M211.9 799.1h.9M202.2 790h.9M175.8 834h.9M218.2 849.2h.9M180.2 848.2h.9M187.2 873.1h.9M184.5 804.5h.9M180.5 817.9h.9M181.4 822.8h.9M193.6 797h.9M178.1 827.1h.9M189.3 795h.9M189.5 857.6h.9M193.4 799.2h.9M223.3 830.1h.9M188.5 840.2h.9M189.9 826.7h.9M184.9 809.2h.9M174.5 808.4h.9M188.3 822.3h.9M178.3 863.1h.9M188.6 826.5h.9M197.5 799.3h.9M180.5 850.9h.9M191 813.3h.9M179.1 859.3h.9M182.4 807.1h.9M185.8 830.5h.9M184.8 861.6h.9M179.3 803.1h.9M183.7 809.2h.9M188.9 803.3h.9M182.1 816.8h.9M187.7 855.2h.9M186.7 793.9h.9M201.2 800.2h.9M202.5 800h.9M186.2 812.6h.9M186.1 830.3h.9M180.4 825.7h.9M180.1 797.3h.9M181.5 835.3h.9M186.9 805.9h.9M185.1 843.6h.9M185.8 842.6h.9M192.3 811.3h.9M182.4 838.9h.9M182 866.5h.9M197.7 786.3h.9M185.8 839.5h.9M183 879.7h.9M186.8 806.5h.9M188.2 824.7h.9M185.7 844.1h.9M187.3 813.3h.9M186.2 847.6h.9M179.4 815.8h.9M201.1 787.8h.9M184.7 863.3h.9M184.9 818.1h.9M181.2 825.6h.9M205.6 802.7h.9M218.6 865h.9M205.6 789.6h.9M198.7 805.8h.9M189.2 829.3h.9M200.7 804.5h.9M183.4 856.3h.9M188.4 831.2h.9M186.7 807.5h.9M174 842.7h.9M189.7 857.9h.9M179.9 882.7h.9M195.2 804.7h.9M184.4 847.4h.9M181.5 862h.9M185.1 865.7h.9M201.6 793.7h.9M187.9 834.8h.9M186.1 840.8h.9M223.2 868.6h.9M190.9 818h.9M190.1 800.5h.9M216.6 834.3h.9M182.8 868.8h.9M175.8 830.9h.9M185.6 860.4h.9M194.5 786.3h.9M189.4 863.1h.9M187.5 838.7h.9M185.6 852.1h.9M186.7 838.7h.9M189.2 841.7h.9M193.9 797.4h.9M184.5 824.1h.9M188.6 799.6h.9M178.7 813.1h.9M179.8 832.7h.9M187.5 850.3h.9M190.2 825.6h.9M189.9 853.4h.9M183 800.4h.9M183.5 843.9h.9M187.5 833.6h.9M220.2 844.9h.9M200.4 800.6h.9M218.8 835.2h.9M192 815.1h.9M185.2 871.9h.9M180.3 836.2h.9M203.9 790.8h.9M187.3 846h.9M178.7 870.5h.9M209.4 801.1h.9M177.5 813.4h.9M180.2 858h.9M189.5 793.8h.9M181.8 852.4h.9M179.1 874.7h.9M186.5 830.7h.9M206.4 802.9h.9M179 855.8h.9M183.1 786.9h.9M180.6 863.6h.9M203.9 804.7h.9M178.3 835.9h.9M180.1 861.7h.9M195.3 794.4h.9M183.7 868h.9M174.6 822.9h.9M189.8 827.8h.9M188.4 820.2h.9M189.1 814.3h.9M183.6 814.1h.9M184.2 874.5h.9M175.3 815.8h.9M193.1 811.6h.9M198.7 803.1h.9M211.4 798.6h.9M189.6 860.6h.9M221.2 795.2h.9M188 853.4h.9M186.5 853.4h.9M188.6 824.1h.9M184.4 871.8h.9M184.9 873.7h.9M199.6 797h.9M176.6 841.5h.9M193 806.3h.9M185.6 841.7h.9M181.3 803.8h.9M177.8 868.7h.9M180.6 864.3h.9M212.9 811h.9M195.8 799.9h.9M179.7 815.6h.9M188.3 822.8h.9M184.3 834.4h.9M191.6 785.1h.9M193.2 804.3h.9M176.4 852.2h.9M187.2 844.9h.9M183.7 819.7h.9M199.6 790.2h.9M181.4 861.7h.9M187.9 811.4h.9M183.8 868.3h.9M182.3 845.2h.9M182.3 843.2h.9M195.7 806.9h.9M223.6 863.1h.9M187.5 864.6h.9M192.3 797.6h.9M180.7 803.1h.9M219.8 818.7h.9M189.8 834.3h.9M189.2 828.2h.9M176.4 828.9h.9M177 809.1h.9M202.6 795h.9M198.6 791.7h.9M208.3 798h.9M184.9 836.2h.9M189.1 848.6h.9M186 796.9h.9M189.8 860.7h.9M188.1 824.8h.9M180.4 842.4h.9M203.3 800.1h.9M188.6 818.6h.9M217.4 867.5h.9M187.7 860.7h.9M178 840h.9M191.9 814.5h.9M192.8 797.7h.9M180.1 859.3h.9M198.9 786.5h.9M186.6 822.5h.9M220.8 801.1h.9M187.5 810.9h.9M178 829.8h.9M189.1 831.2h.9M186 811.7h.9M182.4 824.4h.9M181.7 793.9h.9M190 793.6h.9M176.1 832.8h.9M181.2 817.4h.9M185.2 868.3h.9M218.4 840h.9M179.6 854.1h.9M185.5 859.3h.9M180.1 864.5h.9M188.9 861.9h.9M186.8 845.5h.9M183.5 839.3h.9M215.9 792.2h.9M180.9 801.4h.9M185.3 860.6h.9M183.5 845.4h.9M175.1 818.6h.9M185.8 848.6h.9M184.6 847.2h.9M184.6 854.2h.9M206.1 794.6h.9M192.4 787.2h.9M180.3 804h.9M175.1 842.6h.9M175.6 816.9h.9M175.1 836h.9M188.4 804h.9M195.1 804.5h.9M175.1 854h.9M187.7 802.6h.9M175.3 857h.9M176.9 829.1h.9M197 803.2h.9M186.7 815.9h.9M185.7 803.6h.9M178.3 865.7h.9M179.9 843.7h.9M175.6 837.1h.9M174.8 860.3h.9M185.3 809.8h.9M215.9 832.2h.9M180.6 820.6h.9M182.4 837.4h.9M207.6 801.4h.9M187.4 836.9h.9M186 814.2h.9M189.1 829.6h.9M187.4 811.8h.9M222.2 806.8h.9M188.5 822.3h.9M177.2 803.8h.9M186.3 855.5h.9M188.7 832.2h.9M185.2 836.3h.9M176.7 863.6h.9M220.3 813h.9M189.3 854.7h.9M182.6 872h.9M192.8 796.2h.9M182.8 816.7h.9M176.6 820.1h.9M188.1 840.6h.9M185.3 826.5h.9M184.1 865.5h.9M187.6 858.8h.9M175.6 864.9h.9M219.6 837.7h.9M188.7 825.9h.9M176.2 799.1h.9M175.2 789.8h.9M197.6 805.8h.9M184 843.5h.9M197.3 798.2h.9M201.9 803.7h.9M176.9 843.8h.9M189.4 848.2h.9M187.2 832.3h.9M189.7 852.7h.9M192.2 806.7h.9M179.1 863.9h.9M219.9 848.1h.9M191.6 807.7h.9M183.4 830.7h.9M188.7 842.7h.9M183 821h.9M175 849.2h.9M186.8 843.8h.9M186.5 820h.9M190.1 817.1h.9M190.5 811h.9M185.3 825.8h.9M183 873.7h.9M190.7 811.2h.9M184.1 847.5h.9M219.9 874.1h.9M190.1 817.3h.9M187.2 855.8h.9M190.2 832.6h.9M183.9 838.7h.9M202 793.9h.9M182.4 793.6h.9M177.2 856.2h.9M177.2 838.8h.9M186.4 822.2h.9M184.8 797.8h.9M180.7 818.5h.9M200.5 794.5h.9M184.4 845.3h.9M185.9 809.3h.9M182.9 808.5h.9M200 803.6h.9M189.1 839h.9M181.1 863.7h.9M180.5 828.9h.9M201 797.2h.9M178.4 862.5h.9M187.3 840.8h.9M178.1 826h.9M185.7 848.1h.9M208.3 803.2h.9M188.6 848.4h.9M177.8 835.2h.9M187.7 795.9h.9M188.7 848.3h.9M190.4 828.3h.9M195.3 802.3h.9M187.3 865.6h.9M184.7 873.9h.9M183.5 800.6h.9M188.7 863.6h.9M223.4 863.7h.9M193.7 789.8h.9M176.7 836.7h.9M182.1 816.4h.9M182.1 813h.9M188.6 806.3h.9M203.2 799.1h.9M192.6 807.1h.9M185.2 874h.9M189.2 809.5h.9M186.7 843.7h.9M194.9 785.5h.9M188 869.3h.9M217.1 814.5h.9M184.6 848.6h.9M180.2 799h.9M178.9 871.6h.9M188.6 819.7h.9M177.3 807.4h.9M185.8 805.8h.9M178.9 825h.9M188.2 816.8h.9M182.1 850.3h.9M181.1 870.2h.9M186.7 833h.9M222.9 822.2h.9M179 848.1h.9M182.3 839.3h.9M180.7 830h.9M199.6 804.5h.9M183.8 861h.9M192.3 805.7h.9M190.3 813.1h.9M182.7 827.2h.9M180 882.3h.9M183 801.5h.9M190.5 811.5h.9M188.2 828.9h.9M184.5 819h.9M177.4 800.2h.9M185.5 868.8h.9M198.2 794.3h.9M180.9 867h.9M188.6 839.5h.9M184 822.5h.9M185.3 837.4h.9M180.9 830.4h.9M215.4 787.3h.9M192.7 800.9h.9M179.5 876h.9M195.5 804.2h.9M186.7 872h.9M189.6 801.9h.9M212.9 800.1h.9M180.6 864.4h.9M191.9 810.8h.9M187.8 842h.9M184.6 847.5h.9M192.6 799h.9M200.7 789.9h.9M183.9 857.5h.9M220 853.9h.9M185.4 814.2h.9M176.8 818.2h.9M187.1 792.2h.9M185.7 835.8h.9M181.6 787.3h.9M184.2 835.5h.9M180.1 809h.9M176.7 861.1h.9M183.5 861.4h.9M181.4 832.3h.9M177.8 834h.9M182 847.5h.9M179.1 827.4h.9M183.3 834.4h.9M187.4 814.6h.9M214.8 796h.9M184.7 837.9h.9M191.5 803.7h.9M202.7 801.5h.9M187.4 831.5h.9M188.1 837.6h.9M181.1 848.7h.9M212.6 808.1h.9M217.2 847.5h.9M190 823.6h.9M213.8 793.6h.9M200.6 789.1h.9M180.5 830.2h.9M187.8 801.7h.9M176.8 862h.9M183.8 811h.9M186.4 850.1h.9M179.1 811.1h.9M181.3 831.8h.9M213 787.2h.9M182.6 829h.9M184.5 844.3h.9M184.6 795h.9M185.7 793.1h.9M179.7 821.7h.9M188.3 829.8h.9M184.9 875.2h.9M179.1 839.6h.9M191.5 820.1h.9M189.2 831.5h.9M185.2 829.7h.9M184.3 869.8h.9M186.5 871.4h.9M182.6 809.5h.9M184.6 842.6h.9M191.4 793.5h.9M178.5 852.9h.9M184.7 847.4h.9M194 786.6h.9M175.9 848.3h.9M188.7 852.6h.9M208.8 795.8h.9M205.6 793.7h.9M188.2 860h.9M188.9 843.9h.9M183.3 875.5h.9M185.2 824.1h.9M190 822.6h.9M175.8 818.2h.9M180.3 817h.9M181 868.1h.9M188 857.4h.9M175.3 836.5h.9M185.8 811h.9M190.8 818.1h.9M179.9 820.1h.9M179.4 827.3h.9M216.1 854.4h.9M190.9 817.4h.9M186.9 839.1h.9M192.4 798.5h.9M174.6 858.4h.9M201.5 793.5h.9M196.9 803.6h.9M188.8 811.8h.9M184.6 842.3h.9M201.4 794.1h.9M193.2 794.3h.9M177.8 864.2h.9M196.1 804.4h.9M180.7 815.6h.9M187 827.6h.9M186.4 851.4h.9M189.3 820.9h.9M185.1 819.6h.9M184.4 811h.9M196.9 789.7h.9M182.7 805.1h.9M198.2 803.3h.9M194.1 806.4h.9M200.4 803.5h.9M189.2 859.4h.9M218.1 793.4h.9M223.2 813.2h.9M186.8 839.2h.9M185.4 851.4h.9M189.3 843.5h.9M192.4 813.9h.9M177.2 865.7h.9M216.6 854.4h.9M189 852.3h.9M185 835h.9M188.8 859.5h.9M188.8 828.8h.9M188.1 869.8h.9M189 831.5h.9M186.5 820.1h.9M189 859.5h.9M184.1 857.1h.9M204.6 796.9h.9M197.3 806.3h.9M189.5 823.4h.9M187.1 833.4h.9M188.1 863.2h.9M183.4 837.8h.9M178.8 818.2h.9M187.2 827.3h.9M196.3 790.1h.9M186 850.1h.9M185.9 842.7h.9M189.3 821.9h.9M183.3 830.3h.9M183 837.8h.9M177.2 869.4h.9M201.7 799.8h.9M192.9 805.6h.9M184.3 842.8h.9M188.8 805.6h.9M187.1 838h.9M177.3 841.1h.9M185.9 815.3h.9M186 827.9h.9M181 795h.9M185 794.5h.9M186.8 847.2h.9M188.3 836.7h.9M199.7 795.2h.9M182.8 801h.9M200.6 797.7h.9M189 863.6h.9M188.8 845.7h.9M183.6 813.6h.9M226 859.5h.9M218 835.9h.9M225.1 804.2h.9M215.9 818.7h.9M215.6 832.1h.9M204.7 800.2h.9M222.4 818.8h.9M210.7 807.9h.9M196.5 807.6h.9M222.9 823.3h.9M218.8 807.5h.9M224.5 841.8h.9M197 805.7h.9M230.2 822.3h.9M213.7 813.5h.9M209.4 801.1h.9M220.1 785.9h.9M219.9 824.5h.9M207 789.5h.9M203.2 803.3h.9M219.6 814.2h.9M220.2 878.2h.9M207.4 788.1h.9M222.4 872.3h.9M220.2 832.9h.9M210.8 787.9h.9M228.4 830.2h.9M223.5 864.3h.9M216 822.7h.9M223.2 854.9h.9M224.7 852.3h.9M199.6 796.1h.9M211.3 787.4h.9M219.5 862.6h.9M220.4 827.2h.9M217.7 837.2h.9M212.4 806.7h.9M230.5 861.5h.9M221.9 811.4h.9M228.7 828.1h.9M204.3 797.2h.9M197.9 804.8h.9M214.2 803.4h.9M221.5 867.1h.9M218.2 810.1h.9M222.7 788.1h.9M217.2 844.3h.9M223.7 822.6h.9M223.4 813h.9M217.2 857h.9M213.4 808.7h.9M225.4 859.4h.9M217.7 827.7h.9M202.3 798h.9M208.5 796.7h.9M194.8 798.5h.9M219.5 811.1h.9M220.7 863.5h.9M223.1 854.5h.9M222.1 855.2h.9M199.7 801.2h.9M216.7 842.6h.9M210.4 804.9h.9M222.7 862.3h.9M217.2 804.1h.9M216.9 856.8h.9M217.5 854.3h.9M221.3 834.8h.9M209.1 789.5h.9M219.4 808.5h.9M215.2 789.8h.9M218.3 851.5h.9M218.1 805.4h.9M218.6 860.8h.9M201.6 794h.9M220.9 855.1h.9M217.7 863.1h.9M209.6 791.4h.9M216 808.7h.9M196.7 798.5h.9M220.7 827.9h.9M226.5 818.8h.9M216.3 858.3h.9M203.7 798.4h.9M224.2 874.7h.9M219.8 876.1h.9M221.1 813.3h.9M220.1 828.1h.9M210.1 807h.9M220.1 840.9h.9M227.3 872.4h.9M216.9 817.6h.9M209.5 792.6h.9M216.7 843.5h.9M218.2 790.8h.9M217.2 807.2h.9M217.6 870.3h.9M219.3 802.3h.9M217.1 816.3h.9M207.1 805.9h.9M220.6 851.4h.9M215.4 796h.9M214.1 801h.9M207.9 792.6h.9M216.2 804.5h.9M221.4 870.7h.9M219.8 791.1h.9M214.1 802.3h.9M219.5 836.4h.9M225 811.8h.9M220.2 794.8h.9M218.4 797.7h.9M221.4 829.7h.9M223.7 870.5h.9M213.8 812.2h.9M216.1 804.9h.9M217.2 836.4h.9M219.5 836.5h.9M217.9 814h.9M219.9 826.8h.9M224.4 845.6h.9M224.2 864.1h.9M201.6 791.7h.9M225.2 822.1h.9M218.6 841.6h.9M223.5 866.5h.9M228.6 853.1h.9M222 814.7h.9M216.6 835.2h.9M219 818.3h.9M218.9 864.2h.9M202.8 792.2h.9M221.2 820.4h.9M219.2 811.1h.9M221.7 842.1h.9M223.8 796.6h.9M222.5 788h.9M215.6 825.7h.9M217.3 852h.9M219.7 842h.9M223.4 843.4h.9M216.5 800.9h.9M233.2 863.8h.9M220.1 847.1h.9M204.6 794.5h.9M217.5 863.7h.9M227.2 788.8h.9M194.7 790.3h.9M223.3 866.3h.9M227.1 840.6h.9M216.4 834.3h.9M215.6 812.9h.9M219.4 859.1h.9M211.5 804.6h.9M206 791.4h.9M202.8 792.3h.9M220.7 805.1h.9M208.2 793.6h.9M226.9 820.2h.9M208.2 803.3h.9M207.3 805.5h.9M196.2 802.4h.9M215.4 803.5h.9M216.2 818.6h.9M218.9 826.5h.9M216.3 819.6h.9M211.3 807.5h.9M200.3 786.7h.9M221.2 795.7h.9M222.3 867.5h.9M203.7 802.3h.9M215.9 820.9h.9M219.3 815.6h.9M223.1 789.6h.9M218.5 874.6h.9M212 806.8h.9M217.6 858.8h.9M220.4 845.5h.9M212.5 809.6h.9M213.4 788.1h.9M220 801.3h.9M219.9 843.1h.9M220 809.6h.9M224.3 797h.9M217.6 809.4h.9M212 808h.9M209.3 792.7h.9M194.3 808.3h.9M219 819h.9M217.8 868.3h.9M228.7 814.3h.9M203.7 803.3h.9M217.6 862.9h.9M214.6 808.4h.9M216.9 836.3h.9M192 802.7h.9M216.6 839.5h.9M220.3 805.1h.9M206.3 789.6h.9M207.9 805h.9M225.6 830.8h.9M221.6 831.6h.9M221.2 830.7h.9M219.6 844.5h.9M222.5 807.2h.9M213.7 814h.9M219.2 872.3h.9M223.9 842.2h.9M200.5 801.1h.9M220.2 862.8h.9M225 848.1h.9M228.9 814h.9M211.1 805.8h.9M192.2 788.6h.9M219.4 824.7h.9M210.4 798.8h.9M223.4 880h.9M219.5 858.8h.9M213.5 803.6h.9M228.5 878.8h.9M216.2 803.9h.9M205.1 794.3h.9M212.5 792.2h.9M217.5 870.6h.9M208.2 788.9h.9M211.2 792.6h.9M214.5 809.4h.9M209.9 795.8h.9M221.3 852.6h.9M217.8 805.4h.9M219.7 810.5h.9M216.8 843.3h.9M212 808.9h.9M220.2 869.6h.9M220.6 851.4h.9M227.3 847.8h.9M212 799.7h.9M215.8 805.7h.9M216.4 822.7h.9M221.6 833h.9M221.3 842.3h.9M200.6 795.1h.9M214.7 816.6h.9M216.9 821.1h.9M202.5 787.2h.9M218.9 847.9h.9M220 804.5h.9M213.3 802.1h.9M224.6 814.8h.9M219.2 819.5h.9M188 829.5h.9M216.8 841.2h.9M219.8 878.8h.9M198.1 805.2h.9M195.7 804.1h.9M216.8 833.9h.9M226.7 806.6h.9M220 867.7h.9M204.5 802.8h.9M215.4 801.5h.9M215.9 854.1h.9M222.8 880.5h.9M205.1 788.1h.9M226.4 874.6h.9M230 863.9h.9M213.1 801.3h.9M197.7 801h.9M220.8 852.9h.9M225.1 855h.9M211.5 793.3h.9M216.2 787.9h.9M215.9 794.6h.9M213.8 804.3h.9M226.2 834.2h.9M219.3 861.3h.9M220.1 819.3h.9M228.7 861.1h.9M201.2 792.9h.9M208.6 794.7h.9M216.8 842.5h.9M217.2 792h.9M217.2 839.9h.9M227.1 816.7h.9M232.2 860.8h.9M221.9 874.9h.9M216 785.4h.9M217.8 843.4h.9M217.6 838.1h.9M218.8 841.7h.9M221.1 796.6h.9M217.8 801.9h.9M220.5 800.7h.9M214.3 809.4h.9M218.6 806.1h.9M230 818.8h.9M219.5 815.6h.9M205.6 799.2h.9M223.7 792.1h.9M218.7 862.6h.9M213.9 793.2h.9M225.8 817.8h.9M218 864.4h.9M222.1 846.6h.9M213.1 811.6h.9M202.3 794.6h.9M210.1 790.7h.9M219 832.8h.9M219.2 839.9h.9M221.9 822.7h.9M222.8 857.5h.9M204.6 794.4h.9M219 844.9h.9M220.2 858.3h.9M216 863h.9M214.4 807.2h.9M216.9 832.7h.9M217.3 858.6h.9M224.9 878.9h.9M216.8 863.9h.9M228.9 851.1h.9M223.9 839.8h.9M215.3 808h.9M215.6 816.5h.9M215.5 814.5h.9M216.1 832.7h.9M208.2 786.9h.9M220.2 839.2h.9M217.1 801.9h.9M219.3 813.6h.9M215.8 810.3h.9M195.6 801.3h.9M222.7 828.6h.9M216.5 852.7h.9M220.1 848.7h.9M218.1 840.8h.9M218.3 861.1h.9M217.3 851.2h.9M218.9 844h.9M217.2 867h.9M210.1 794.7h.9M234.9 787.6h.9M220.5 814.1h.9M221.2 837.2h.9M219.9 836.7h.9M215.8 828.8h.9M216.5 858.6h.9M216.6 814.3h.9M191 818.1h.9M202.1 793.2h.9M219.1 830h.9M197.9 794.7h.9M230.1 829.7h.9M210.8 787.9h.9M205.6 790.6h.9M219.9 873.2h.9M209.4 801.5h.9M213.7 808.4h.9M216.4 857.5h.9M221.1 860.3h.9M221.8 872.6h.9M215.8 823.7h.9M214.6 807h.9M227.6 811.8h.9M217.6 799.9h.9M202.9 789.4h.9M223.9 856.1h.9M217.8 850.9h.9M221.8 785.5h.9M219.5 868.7h.9M208.3 803.3h.9M231 803.1h.9M218.5 841.3h.9M222.9 822.1h.9M213.9 798.9h.9M233.1 875.2h.9M217.2 786.1h.9M226.6 797.1h.9M202.6 795.2h.9M221.6 839.7h.9M217.8 790h.9M225 833.6h.9M206.5 802.7h.9M219.2 830.7h.9M219.2 821h.9M224.1 878.5h.9M223 792.9h.9M215.8 852h.9M217.1 848.6h.9M229.5 805.4h.9M208.6 800.9h.9M218.6 851.4h.9M206.6 803h.9M213.4 798.8h.9M218.1 794.1h.9M217.6 827.3h.9M221.9 867h.9M217.3 791.2h.9M217.2 859.9h.9M223.6 818.7h.9M219 867.6h.9M210.1 789.2h.9M221 879.3h.9M212.7 811.8h.9M206.9 795.4h.9M220.1 811.4h.9M219.5 811.9h.9M218.9 826.2h.9M216.2 855.4h.9M213.7 809.6h.9M219.1 803.3h.9M217 837.7h.9M219 832.7h.9M220.4 852.6h.9M221.1 837.8h.9M215.2 812.8h.9M210.7 802.2h.9M219.6 857.4h.9M223.7 858.4h.9M215.7 832.3h.9M217 828.7h.9M224.3 818.1h.9M221.1 832.9h.9M216.7 806.5h.9M212 806.8h.9M204.2 802.9h.9M212.1 809.2h.9M216.4 860.9h.9M220.3 817.4h.9M203.2 793.8h.9M221.5 797.5h.9M217.1 852.1h.9M219.7 852.3h.9M216.9 790.7h.9M216.5 829h.9M220 877.7h.9M218.7 865.8h.9M221.3 841.2h.9M216.4 808.1h.9M215.4 813h.9M218.4 839.3h.9M221.9 841.9h.9M190.8 812.5h.9M213.7 806.2h.9M215.5 804.7h.9M227.7 833.9h.9M227.2 834.9h.9M218.7 805.6h.9M208.5 798.4h.9M216.8 842.7h.9M224.8 798.4h.9M213.6 803h.9M209.6 807.2h.9M217.7 801.6h.9M208.3 795.3h.9M220.3 859.9h.9M224.9 847.1h.9M226.9 845.4h.9M219.9 785.3h.9M219.1 809.8h.9M227.3 838h.9M217 828.8h.9M218.8 865.7h.9M215.1 795.8h.9M215.7 827.5h.9M200 803.1h.9M222.5 838.9h.9M214.7 801h.9M223 862.5h.9M209.4 799.5h.9M220.4 803.4h.9M216.4 815.7h.9M214.8 813.3h.9M209.7 795.8h.9M222.5 824.2h.9M222.9 803.8h.9M207.5 793.5h.9M225.7 842.8h.9M218.6 787.5h.9M197.4 789h.9M218.1 825.6h.9M211.5 789.9h.9M218.7 858.3h.9M214 809.1h.9M198.5 802.5h.9M216.9 833h.9M221.6 808.6h.9M217.4 808.5h.9M215.6 798.5h.9M216 834.2h.9M223 843.8h.9M220.6 855.7h.9M220.7 840.4h.9M214.1 793.2h.9M220.3 832.7h.9M208.1 800.5h.9M217 842.6h.9M225.7 851.1h.9M213 797.4h.9M218.2 847.6h.9M229.1 818.9h.9M222.3 873.5h.9M214.6 803.8h.9M209.8 787.7h.9M224.7 822.9h.9M218.6 838.9h.9M220.8 799.3h.9M224.7 849.3h.9M223.4 844.1h.9M188.4 852.8h.9M217.6 799.2h.9M216 834.7h.9M222.5 863.7h.9M223.2 796.3h.9M198 801.6h.9M226.4 847.6h.9M216.2 809.1h.9M215.3 808.8h.9M202.6 792.1h.9M216.9 864.6h.9M191.6 802.5h.9M194.2 807.5h.9M216.4 806.8h.9M192.4 799h.9M201.6 801h.9M201.5 797.2h.9M224.6 794.7h.9M209.1 794.2h.9M193.6 797.8h.9M210.2 805.1h.9M185.4 785.6h.9M198.4 802.1h.9M201.7 803.7h.9M191.4 806.7h.9M200.3 793.8h.9M215.6 802.5h.9M194.8 787.6h.9M210.2 802.4h.9M221.5 795.3h.9M194.7 801.4h.9M209.3 796h.9M212.1 804.9h.9M187.6 809.9h.9M208.5 801h.9M201.8 800.2h.9M199.3 783.3h.9M180.5 797.3h.9M200.9 787.1h.9M225.2 809.7h.9M211.6 807.9h.9M206.9 789.7h.9M194.7 803.7h.9M207.3 799.9h.9M202.7 800.8h.9M222.9 784.7h.9M202.4 786.6h.9M199.9 793.1h.9M202.3 804.4h.9M220.6 799.2h.9M174.5 813.8h.9M207.3 790.2h.9M205.9 789.7h.9M203.4 792.1h.9M190.3 789.9h.9M224.3 806.5h.9M191.9 804.2h.9M201.6 798.5h.9M208.7 799.4h.9M192.3 799.8h.9M185.2 813.9h.9M201 802.3h.9M214.6 789.4h.9M182.3 805.3h.9M228.3 798.2h.9M194.7 795.3h.9M183.9 798.5h.9M199.7 788.5h.9M226.3 793.8h.9M213.8 808.3h.9M206.4 801.4h.9M193.3 809.4h.9M215 797.6h.9M204.2 803.3h.9M181.7 793.9h.9M223.3 801.5h.9M213.6 805.5h.9M206.7 793.5h.9M195.3 794.5h.9M220.1 794.3h.9M193.7 792.3h.9M188.4 812.8h.9M178.8 809.4h.9M206.4 789.9h.9M212.9 791h.9M196.1 801.2h.9M203.7 802.6h.9M208.5 801.3h.9M192.6 789.4h.9M213.2 792.3h.9M187.3 802.5h.9M198.1 794.9h.9M190.8 784.9h.9M208 802.9h.9M208.3 786.1h.9M199 791.1h.9M211 804.5h.9M227.5 813.9h.9M195.9 797.9h.9M207.4 796.1h.9M207 800.8h.9M204.4 794.3h.9M207.9 805.7h.9M205.6 783.5h.9M233.4 798.4h.9M201.9 797h.9M187.8 808h.9M192.9 795.1h.9M197.7 792.4h.9M187.1 811.8h.9M178.2 813.5h.9M215.9 818h.9M196.5 804.3h.9M205 791.4h.9M199.3 788.6h.9M200.5 796.3h.9M216.9 800.8h.9M202.1 795.4h.9M196.9 788.6h.9M194 793.1h.9M217.4 809.5h.9M208 792h.9M214.1 801.7h.9M189.6 807.7h.9M175.2 790.7h.9M211.1 795.1h.9M205.2 797.9h.9M191.6 787.1h.9M215.8 798.4h.9M197.2 796.5h.9M207.4 803.8h.9M190.2 798.4h.9M208.2 791.5h.9M184.6 793.9h.9M218.2 802.9h.9M200.1 801.5h.9M176.7 798.8h.9M207.2 788.7h.9M194.2 798.6h.9M215.2 796.6h.9M222.8 790.3h.9M193.6 793.4h.9M206.5 797h.9M193.2 796.4h.9M200.5 790.7h.9M212.9 798.8h.9M219.9 798.9h.9M214.4 796.6h.9M207 793.8h.9M202.6 801.1h.9M190.6 799.8h.9M180 815.5h.9M210.5 804.2h.9M218.2 793.8h.9M222.6 807.5h.9M211.2 793.9h.9M188 815.6h.9M191.1 799.5h.9M214.1 792.7h.9M197.8 786.6h.9M197.9 797.8h.9M215.2 787.7h.9M192.5 807.5h.9M196.1 807h.9M205.4 804.4h.9M207.4 789.1h.9M197.9 800.2h.9M199.6 789.9h.9M180.3 804.9h.9M192.1 799.9h.9M197 802.6h.9M184.5 800.1h.9M219.3 798.7h.9M197.7 794.7h.9M177.7 795.9h.9M192.5 792.7h.9M200.9 796.8h.9M193.5 793.3h.9M203.6 789.7h.9M218.4 795.4h.9M215.6 793.7h.9M206.5 796.8h.9M205.2 803.6h.9M218.9 803.8h.9M197.6 786.3h.9M195.1 798h.9M220.9 805.6h.9M210.2 797.3h.9M234.4 810.3h.9M183.2 801.8h.9M207.1 785.4h.9M198.2 799.7h.9M213.6 799.7h.9M205.4 795.2h.9M221.1 790.7h.9M202.5 797.9h.9M194.9 793.4h.9M218.2 792.5h.9M206.2 798.7h.9M227.3 798.7h.9M195 796.5h.9M217.2 794.5h.9M220.8 809.6h.9M204.5 802.9h.9M209.7 802.9h.9M201.7 801.4h.9M178.1 806.6h.9M199.6 800.9h.9M213.4 791.3h.9M199 804.8h.9M217.9 793h.9M216.6 816.4h.9M192.2 810.8h.9M206.4 787.9h.9M207.9 798.4h.9M226.6 807.7h.9M199.8 803h.9M210.8 797.4h.9M195 796.5h.9M217.6 797.7h.9M185.8 793.8h.9M222.7 803.8h.9M191.3 803.7h.9M229 795h.9M225.1 786.5h.9M195 792.6h.9M210.7 802.6h.9M199.1 785.6h.9M202 804.2h.9M216.8 801.7h.9M189.2 790.3h.9M203.3 789.9h.9M206.2 802.6h.9M191.6 805.5h.9M234.1 800.4h.9M185.5 792.5h.9M214.8 805h.9M195.9 806.4h.9M202.8 784.6h.9M208.4 797.4h.9M218.5 802.8h.9M180.9 786.3h.9M196.5 797.6h.9M201.2 799h.9M201.5 791.9h.9M202.1 793.6h.9M183.1 788.3h.9M212.5 799.2h.9M192.3 800.8h.9M214.9 792.5h.9M183.1 799h.9M194.6 808.5h.9M196.1 805.1h.9M195.5 802.1h.9M192.7 793.6h.9M194.1 798.9h.9M179.9 793.2h.9M204.7 794.5h.9M217.4 803.9h.9M195.5 792.2h.9M216.9 798.6h.9M188.7 801.4h.9M218.5 810.5h.9M231.2 798h.9M182.7 799.3h.9M208.6 796.8h.9M214 804.7h.9M224.4 815.8h.9M210.2 800.5h.9M214.1 794.6h.9M204.6 791.3h.9M211.6 808.7h.9M199.6 795h.9M197.2 800.4h.9M215.5 814.2h.9M199.7 788.9h.9M205.9 805h.9M182.3 786.9h.9M201.5 791.2h.9M191.5 802.8h.9M210.3 800.9h.9M212.6 804.2h.9M190.6 796.8h.9M213.8 783.3h.9M190.6 799.6h.9M202.2 787.7h.9M201.9 802.3h.9M222.5 805.1h.9M200.1 790.5h.9M224.6 804.9h.9M219.2 795.2h.9M194.9 802.8h.9M198.1 790h.9M201.1 795.3h.9M193.7 810.3h.9M199.6 789.2h.9M202.2 796.5h.9M210.4 800.6h.9M176.8 797.8h.9M195.6 791.9h.9M216.3 795.7h.9M212.2 803.4h.9M199.3 805.8h.9M218.8 802h.9M175.5 795h.9M212.9 802.4h.9M225.2 800.5h.9M213.2 794.8h.9M194.1 796h.9M186.3 807.7h.9M199.1 804.6h.9M198.9 792.3h.9M208.3 791.2h.9M221.4 800.3h.9M186 790.6h.9M176.7 796.4h.9M212.6 801.3h.9M217.1 798.7h.9M189.2 809.8h.9M207.7 805.4h.9M211.8 801.5h.9M208.1 793.4h.9M186.2 806.6h.9M185.1 804.6h.9M212.7 801.6h.9M203.2 795.7h.9M223.1 790.2h.9M205.7 790.3h.9M190.3 801.3h.9M213.6 796h.9M200.3 795.9h.9M208.5 798.1h.9M199 800.4h.9M220.7 787.9h.9M202.8 796.1h.9M177.4 797.8h.9M212.5 802.4h.9M200.1 801.9h.9M194.1 803.7h.9M211.1 797.5h.9M200.1 786.4h.9M204 797.3h.9M213.9 796.9h.9M205.9 796.2h.9M185.8 800.6h.9M202.7 803.7h.9M209 788.9h.9M219.1 785.7h.9M203.5 802.4h.9M211.7 794.5h.9M212.1 802.9h.9M209.9 806.9h.9M192.6 808.6h.9M208.6 802.9h.9M227.5 795.9h.9M215 794.6h.9M195.8 803.8h.9M186.8 800.4h.9M184.7 803.2h.9M204.9 803h.9M196.1 797.1h.9M198.9 792.1h.9M183.6 799h.9M207.2 797h.9M209.5 785.7h.9M191.9 791.1h.9M190.8 797.5h.9M215.5 787.7h.9M212.6 802.5h.9M216.8 805.3h.9M206 802.6h.9M188.2 803.1h.9M204.6 800.9h.9M201.9 789.3h.9M203.8 794.2h.9M206.6 787.4h.9M212.5 797.9h.9M200.5 789.5h.9M185 802.8h.9M213.2 799h.9M199.8 803.5h.9M220.2 792.7h.9M182.8 787.4h.9M200.1 790.9h.9M210.3 795.2h.9M202.4 793.3h.9M195.5 785.4h.9M183.6 794.8h.9M209.8 800.4h.9M195 801.6h.9M204.1 797.8h.9M185.9 799.5h.9M186 787.1h.9M220.9 786.8h.9M221.3 804.4h.9M203.8 794.8h.9M197.1 796.3h.9M185.2 804.8h.9M211.3 804h.9M218.3 825.7h.9M209 802.5h.9M197.8 787.7h.9M216.5 812.1h.9M180.6 806.3h.9M199.3 793.1h.9M199.5 793.3h.9M201.6 786.1h.9M210 788.8h.9M192.7 796h.9M180.3 796.6h.9M209 802.4h.9M183.7 789.9h.9M205.9 802.3h.9M192 785.7h.9M184.7 800.9h.9M199.1 796.3h.9M225.1 810h.9M195 796.8h.9M216.8 790h.9M211.5 806.8h.9M204.3 800.9h.9M205 804.3h.9M207.9 805.7h.9M220.9 793.3h.9M216.7 795h.9M202.8 800.4h.9M202 793h.9M198.4 803.2h.9M213.7 797.8h.9M220.1 812.5h.9M187.4 805.3h.9M194.7 806.2h.9M187.3 807.6h.9M218.3 800.8h.9M186.3 819.5h.9M235 904.5h.9M223.2 880.4h.9M182.1 872.1h.9M234.7 924.4h.9M179.8 871.6h.9M214 940h.9M222.2 873.8h.9M225.7 885.6h.9M188.8 941.9h.9M218.8 865.2h.9M240.9 920.5h.9M171.1 942.1h.9M180.5 938.8h.9M225.4 928.6h.9M242.2 894.4h.9M163.2 919.7h.9M234.7 915h.9M160.5 911.4h.9M169.4 893h.9M178.9 880.5h.9M158.9 921.1h.9M174.6 885.8h.9M158 924.1h.9M225.3 932.4h.9M167.6 892.2h.9M181.4 879.9h.9M165.2 918.4h.9M159.3 892.9h.9M174.4 887.2h.9M213.7 935.3h.9M198.4 944.2h.9M227.3 935.6h.9M222.7 941.3h.9M220.1 874.5h.9M156.3 898.1h.9M183.6 937.3h.9M160.7 901.1h.9M221.8 930.3h.9M169.8 868.7h.9M240.4 884.7h.9M233.9 943.8h.9M234.1 901.8h.9M156 923.9h.9M209.8 937.3h.9M174.1 933.6h.9M157 908.4h.9M234.9 909.4h.9M235.2 923.8h.9M183.5 874.6h.9M212.8 942.3h.9M229.6 880.8h.9M232.7 904.3h.9M174.2 934.2h.9M170.1 884.9h.9M238.4 930.8h.9M169.9 890.8h.9M220.7 930.7h.9M158.3 916.7h.9M154 924.4h.9M160.1 908h.9M223.6 874.6h.9M221.9 873.5h.9M248.3 915.4h.9M234.1 929.3h.9M236.8 916.7h.9M223.7 882.4h.9M233.6 887.8h.9M157.4 917.3h.9M168.4 937.1h.9M165.6 891h.9M227.6 935.7h.9M208.1 940.5h.9M181.2 940.1h.9M242.2 900.2h.9M157.6 934.4h.9M213.2 939.8h.9M237.4 926.9h.9M166.4 899.2h.9M159.4 860.5h.9M220.7 934h.9M165.5 907.3h.9M172.4 933.5h.9M234.6 909.1h.9M251.7 917.5h.9M185.9 874.8h.9M224.5 880.8h.9M235.7 915.5h.9M173.8 939.2h.9M232.6 897.6h.9M159.4 910.8h.9M228.5 883h.9M166.9 879.5h.9M192 940.8h.9M223.6 934.4h.9M202.5 944.4h.9M179.3 940.5h.9M163.2 910.5h.9M161.6 928.5h.9M158.1 921.7h.9M198.4 939.6h.9M214 936.9h.9M229.5 940.3h.9M242.9 922.6h.9M226.2 934.8h.9M200.5 943.8h.9M232.8 890.8h.9M162.1 890.9h.9M162.4 921.3h.9M210.4 944.6h.9M164.8 919.9h.9M172.7 886.1h.9M206.6 939h.9M235.1 921.2h.9M185.8 940h.9M172 884.4h.9M207.8 944.1h.9M163.6 904.2h.9M152.1 920.6h.9M165.8 885.1h.9M229.6 924.1h.9M224.2 884.6h.9M164.9 936.5h.9M164.1 924.3h.9M174 941.5h.9M160.5 910.2h.9M159.1 906.3h.9M162.6 898.4h.9M168.6 945.4h.9M165.7 895.8h.9M165.9 929.8h.9M225.5 877h.9M212.8 946.5h.9M160.9 921.8h.9M226.1 885.1h.9M241 893.6h.9M175.8 933.8h.9M220 877.7h.9M162.2 945h.9M199.4 938.6h.9M226.1 935.7h.9M194 942.3h.9M227.8 891.3h.9M220.2 938.9h.9M176.4 880.2h.9M209.4 938.1h.9M203.1 940.3h.9M167.2 923h.9M243.5 921.2h.9M234.8 911.8h.9M183.3 879.2h.9M168.5 930.4h.9M156.2 906.1h.9M234.2 893.2h.9M196.6 941.6h.9M187.2 941.2h.9M233.4 916.1h.9M159.3 899.6h.9M188 940.4h.9M225.2 886.5h.9M169.7 890h.9M236.1 925.6h.9M234.3 904.4h.9M229.6 925.3h.9M232.8 905.3h.9M218.8 933.4h.9M234.1 888.1h.9M155.5 892.7h.9M239.3 891.8h.9M218.8 945.5h.9M180.9 937.7h.9M176 878.7h.9M214.7 933.1h.9M233.2 918.6h.9M197.1 939.4h.9M205.3 937.8h.9M168.3 927.2h.9M230.7 917.9h.9M155.2 931.8h.9M178.7 876.9h.9M173.4 934.7h.9M200 939.1h.9M189.2 943.6h.9M229.3 880.5h.9M229.7 887.7h.9M154.2 882.4h.9M244.4 890.1h.9M171.5 883.2h.9M234.8 880.3h.9M161.6 912.4h.9M173.9 883.3h.9M160.9 908.2h.9M242.7 899.4h.9M166.7 895.4h.9M229.2 890.6h.9M199.4 938.3h.9M227.5 871.1h.9M240.5 898.6h.9M168.4 886.4h.9M145.4 892.8h.9M184.6 875.6h.9M213.8 937.4h.9M166.6 922.4h.9M172.5 885.2h.9M230.4 921.9h.9M237.9 926.4h.9M217.8 934.9h.9M155.1 930.3h.9M182.4 942.5h.9M221.7 934.2h.9M173.7 934.9h.9M177.8 879.5h.9M177.3 934.9h.9M153.2 896.6h.9M215.5 941.1h.9M164.2 897.7h.9M247.6 912.2h.9M175.4 945.2h.9M184.6 859.4h.9M234.1 914.4h.9M225.3 884.5h.9M234.1 879h.9M238.8 879.5h.9M221.7 876.4h.9M229.3 891.2h.9M188.4 862.2h.9M217.8 936.5h.9M229.2 860.4h.9M227.6 931.6h.9M208.9 945.7h.9M224 876.7h.9M230.9 867.8h.9M231.2 880.3h.9M243.9 871.9h.9M224.6 883.2h.9M256.9 927.2h.9M227.9 817.9h.9M226 881.5h.9M236.3 910.6h.9M233.1 876.2h.9M224.8 939.6h.9M227.6 886.4h.9M231.1 876.9h.9M233.7 911.9h.9M218 869h.9M243.4 880.2h.9M234.3 935.4h.9M236.9 884.4h.9M244.3 861.3h.9M233.9 864h.9M222.6 858.4h.9M225.6 875.8h.9M252 878.4h.9M232.5 838.2h.9M235.1 922.2h.9M213.4 938.1h.9M229.9 874.6h.9M235 931.3h.9M226.4 872.3h.9M226.1 888.2h.9M233.2 884.7h.9M231.6 884.5h.9M231.5 918h.9M223.4 880.2h.9M244.8 902.8h.9M256.4 903.7h.9M244.3 871.6h.9M237.4 888.8h.9M217.8 842.5h.9M231.8 939.4h.9M225.5 880.4h.9M228.7 866.1h.9M233.9 935.4h.9M234.6 824.5h.9M237.7 896.7h.9M233 892.2h.9M228.3 929.8h.9M226 943.2h.9M233.1 933.4h.9M235.5 917.3h.9M228.3 886.1h.9M232.6 870.3h.9M228.4 822.9h.9M240.7 898.2h.9M226.7 865.6h.9M236.5 881.5h.9M219.2 939.1h.9M239.8 880h.9M252.4 884.7h.9M232.6 931.8h.9M228.7 883.3h.9M235 887.9h.9M232.5 895.5h.9M246.3 907.8h.9M225.2 854.4h.9M230.2 849h.9M240 906.1h.9M241.1 882.4h.9M249.9 847.4h.9M237.4 861.7h.9M222.1 842.6h.9M245.2 925h.9M214.8 935.1h.9M221.5 874.1h.9M240 917h.9M226.3 867h.9M228.8 853.5h.9M241.1 865.5h.9M238.6 940.7h.9M220.8 857.7h.9M235 921.5h.9" fill="none" stroke="#222" stroke-width="0.9"/>
</g>
<rect x="170.4" y="790.2" width="68.5" height="79.5" fill="none" stroke="#000" stroke-width="2.2"/>
<text x="261.7" y="824.7" font-size="27.5" font-weight="bold" font-style="normal" text-anchor="middle">12</text>
<g clip-path="url(#cB11)">
<path d="M379.2 948.5l-4.5 -3 -6.1 -5.1 -2 -2.5 -1.7 -3.4 -2 -5 -1.2 -6 0 -4 0.8 -8 0.8 -3 2.3 -5.7 3.9 -6.3 3 -3 9.1 -7.2 2 -2.5 6 -9.7 4.2 -3.6 1.3 -2 0.7 -4 -0.2 -14 1.2 -18 2.8 -9.4 1 -1.6 1 -0.7 1 -0.1 1 0.4 1 1.4 3.3 9 0.7 3 0.7 10 0 20 0.6 5 1.7 4 4.2 6 0.6 2 0.8 6 1.1 3 5.2 8 2.4 5 1.3 4 0.6 6 -1.9 12 -3 6 -3.3 4.9 -2.8 3.1 -6.2 5.3 -9.6 3.7M400.6 831.5l1 -0.6 2 0.6 1 1 0.9 2 -0.1 2 -0.7 3 1.5 3 0.5 2 -0.7 6 1.2 6 -0.4 8 1.1 11 0.7 2 3.4 5 1.6 8 5.5 8 3.1 6 1.5 7 0.2 6 -1.4 5 -4.5 9 -7.2 8 -2.2 1.9 -3 1.4 -9 2.7 -7 -0.4 -7 0.4 -2 -0.6 -3 -1.9 -7 -6.3 -2.2 -3.2 -1.5 -4 -0.9 -4 -0.5 -8 0.4 -5 1.9 -5 6.9 -10 2.9 -2.8 4.8 -3.2 2.3 -2 1.6 -2 6.3 -9.9 3 -3 1.3 -2.1 0.9 -3 0.3 -3 -0.1 -12 1.2 -5 0.6 -5 2.5 -4 0.2 -1 -1.9 -2.5 -0.6 -1.5 -0.2 -2zM401.9 869.5l0.7 -0.2 1 0.3 1 1.5 0.3 5.4 4.1 8 1.9 7 6.2 8 2.9 6 1.7 9 0.1 3 -0.5 2 -6.6 12 -6.1 6.6 -2 1.5 -3 1.2 -7 1.8 -12 0.2 -3 -0.4 -2 -0.9 -6.9 -6 -1.7 -2 -1 -2 -1.2 -5 -0.2 -5 -0.8 -5 0.3 -4 0.7 -2 3.1 -5 4.7 -6 4.7 -4 9.5 -7 4.1 -7 4.3 -5 1.5 -5zM400.3 881.5l2.3 -0.7 1.2 0.7 0.8 2 0.5 4 1.1 3 7.4 7.5 2.5 3.5 2.1 5 1.6 7 0.4 3 -0.5 3 -6.5 11 -5.6 5.6 -2 1.4 -9 2.8 -10 0.6 -5 -0.8 -2 -1.1 -5 -4.1 -2.6 -3.4 -1.1 -4 0.1 -6 -1.3 -6 0.3 -3 4.1 -7 2.5 -3.2 8 -6.9 8.3 -4.9 2.8 -3 2.5 -4zM398.1 889.5l1.5 -0.4 0.7 0.4 2.3 3 7 4.1 3.9 3.9 1.6 3 3 9 0.6 3 -0.2 3 -0.7 2 -5.2 8.6 -2 2.1 -5 3.9 -4 1.7 -5 1.6 -9 0.9 -4 -0.3 -3 -1.3 -4 -3 -2.2 -2.2 -1.1 -2 -0.8 -3 0.2 -6 -1.1 -6 0.1 -2 4.3 -8 6.6 -6.6 3 -2.3 6 -2.8zM395.9 893.5l1.7 -0.4 1 0.3 7 2.8 4 2.3 2 1.9 1.3 2.1 4.1 11 0.4 3 -0.2 2 -1.3 3 -4.2 7 -2.1 1.9 -4 2.7 -6 2.8 -4 1.3 -8 0.9 -3 -0.3 -3 -1.3 -3 -2 -2.3 -2 -1.4 -2 -0.9 -3 -0.1 -6 -0.6 -7 3.8 -8 6.5 -6.9 2 -1.5 5 -1.6zM397.5 895.5l7.1 1.9 4 2.1 1.9 2 1.4 4 3.8 8 0.3 3 -0.5 3 -1.3 3 -3 5 -1.6 1.5 -5 3.2 -9 3.9 -8 0.9 -3 -0.5 -3 -1.5 -3 -2.1 -2.6 -3.4 -1 -4 -0.5 -9 0.3 -2 3.5 -7 6.3 -7.4 2 -1.1 5 -1.1 4 -2.1zM395.8 897.5l2.8 -0.4 3 0.6 3.9 1.8 2.8 2 1.5 4 3.4 5 1.1 3 0.3 3 -0.6 4 -1.3 3 -2.1 3.2 -2 1.8 -5 3 -6 2.9 -3 1 -6 0.6 -3 -0.3 -2 -0.9 -3.5 -2.3 -1.9 -2 -1.2 -2 -1 -4 -0.5 -7 0.2 -2 3.1 -6 2.8 -3.4 3 -4.7 2 -1.3 5 -0.9zM397.1 898.5l2.5 0 2 0.6 4 2.4 1 1.1 2 3.9 3 3.5 1.2 2.5 0.4 2 -0.1 5 -0.4 2 -2.1 3.8 -2 2 -5 3.1 -6 3.1 -2 0.8 -3 0.6 -5 0.2 -2 -0.4 -4.8 -3.2 -2.9 -4 -1.2 -5 -0.3 -5 0.4 -2 2.8 -5.1 3 -3.4 3 -5.1 2 -1 4 -0.7zM393.5 900.5l3.1 -0.9 3 0.1 2 0.8 2.6 2 2.8 4 4.3 5 0.6 2 0 7 -0.6 2 -1.7 2.6 -7 4.8 -8 3.9 -5 0.5 -3 -0.3 -2 -0.8 -2.2 -1.7 -3.2 -4 -0.9 -2 -0.7 -3 -0.4 -4 0.3 -2 2.5 -5 3.6 -4 2 -3.9 0.9 -1.1 2.1 -0.9zM392.8 901.5l3.8 -0.9 2 0 2.2 0.9 2.2 2 7.2 8 0.5 2 0.3 7 -0.7 2 -1.5 2 -6.2 4.4 -8 4 -3 0.5 -4 -0.1 -2 -0.6 -1.8 -1.2 -3.5 -4 -1.6 -4 -0.6 -6 0.6 -2 1.7 -3 4.2 -4.8 2.4 -4.2 1.6 -0.9zM396.1 901.5l2.5 0.2 1.5 0.8 8.8 9 0.7 2 0.4 6 -0.3 2 -1.3 2 -5.2 4 -7.6 4.2 -4 0.8 -3 0.1 -2 -0.4 -3.6 -2.7 -2.7 -4 -1.3 -5 0.2 -4 2.1 -4 3.7 -4 2.6 -4.1 2 -1.2zM395.1 902.5l2.5 0 1.9 1 8 8 0.9 2 0.5 7 -1.3 2.3 -4.4 3.7 -6.6 3.7 -3.9 1.3 -5.1 0 -3 -1.6 -3 -3.7 -1.7 -5.7 0.1 -4 2.1 -4 3.8 -4 2.7 -3.6 2 -1.1zM394.6 903.5l2 -0.1 2 0.9 7.2 7.2 1.4 3 0.7 4 -0.1 2 -1.2 1.7 -2.3 2.3 -3.7 2.7 -7 3 -4 0.6 -2 -0.2 -3 -1.9 -2.4 -3.2 -1.6 -6 0.2 -3 1.8 -3.5 6.9 -7.5 1.8 -1zM392.1 905.5l2.5 -0.7 2 0 1.3 0.7 2.7 2.4 2.4 2.6 2.1 3 1.5 4 0.1 2 -1 2 -1.7 2 -3.4 2.9 -6 2.3 -6 1 -2.9 -1.2 -2.1 -2.3 -1.8 -4.7 -0.5 -4 1 -3 1.5 -2 5.8 -5.7zM391.5 907.5l5.1 -0.4 3 1.6 2.4 2.8 2.1 4 0.8 2 0.1 2 -2 4 -2.4 2.1 -3 1.2 -9 1.8 -2 -0.7 -2.4 -2.4 -1.9 -5 -0.3 -3 1 -3 1.6 -1.9 5 -4.3zM390.1 909.5l7.5 -0.1 2 1 1 1.2 1.4 2.9 1.2 5 -0.6 3 -2 2.3 -3 1.1 -4 -0.1 -5 1.6 -2 -0.8 -1.9 -2.1 -2 -5 0.1 -3 1 -2 1.8 -2 3 -2.3zM388.3 911.5l2.3 -0.7 3 0.4 4 -0.3 2 1.3 1.1 2.3 1.2 6 -0.3 2 -0.6 1 -1.4 1.1 -2 0.5 -4 -0.7 -5 1.6 -2 -0.8 -2.5 -3.7 -0.6 -2 -0.2 -2 1.3 -3zM388.4 912.5l1.2 -0.3 4 0.4 3 -0.3 2 0.7 0.9 1.5 1.4 6 -0.3 2 -0.8 1 -2.2 0.8 -4 -1.3 -5 1.6 -2 -0.9 -2.1 -3.2 -0.4 -3 1.4 -3zM389 913.5l4.6 0.7 3 -0.4 1 0.3 0.9 1.4 1.3 5 -0.3 2 -1.9 0.8 -4 -1.7 -5 1.7 -2 -1 -1.6 -2.8 -0.2 -2 0.8 -1.9 1 -1zM387 915.5l1.6 -0.7 1 -0.1 2.2 0.8 2.8 2 1 -0.5 1 0.1 1.7 3.4 -0.2 1 -0.5 0.3 -1 -0.5 -2 -2.8 -1 0.3 -3 2.8 -2 0.5 -1 -0.3 -1.3 -1.3 -0.6 -2 0.5 -2zM387.7 916.5l1.9 -0.3 1.6 1.3 -0.1 2 -1.5 1.3 -1.9 -0.3 -0.7 -1 -0.1 -2z" fill="none" stroke="#1c1c1c" stroke-width="0.9"/>
<path d="M388.1 943.5l8.5 -0.2 6 0.7 6 -0.1 2.1 0.6 0.4 1 -1.1 1 -2.4 0.8 -4 -0.1 -4 0.9 -7 -1.2 -6 0.5 -3 -0.5 -1.9 -1.4 0.9 -1.1z" fill="#000" fill-opacity="0.85" stroke="none"/>
<path d="M385.2 948.5l-2.6 -0.5 -2.9 -1.5 -0.8 -1 0.4 -1 3.3 -1.6 7 -0.6 8 0 14 0.8 2.1 1.4 0.1 1 -2.2 1.8 -2 0.8 -2.6 0.4M396.4 948.5l-3.8 -0.3 -3.5 0.3M386.2 943.5l3.4 -0.5 7 0 6 0.7 6 -0.1 2 0.3 1 0.6 0.3 1 -2.3 1.6 -3 0.7 -3 -0.1 -4 0.7 -7 -1.1 -6 0.6 -4 -0.9 -1.7 -1.5 0.5 -1 1.2 -0.6zM389.5 943.5l9.1 0.1 4 0.7 6 -0.2 1.5 0.4 0.6 1 -1.3 1 -1.8 0.6 -4 -0.1 -4 1 -7 -1.3 -4 0.5 -3 -0.1 -2.4 -0.6 -1.1 -1 0.5 -0.6 1 -0.5zM387.1 944.5l2.5 -0.6 3 0.4 5 -0.4 6 1.3 4 -0.6 1.9 0.9 -1.9 1.1 -2 0 -2 -0.5 -4 1.5 -7 -1.5 -4 0.6 -3 -0.3 -2.2 -0.9zM388.8 944.5l2 0 1.1 1 -3.3 0.5 -1.1 -0.5zM394.2 944.5l4.4 -0.2 3.5 1.2 -0.4 1 -1.1 0.5 -2 0.1 -5.4 -1.6zM406.1 945.5l1.7 0zM395.1 945.5l1.5 -0.8 1 -0.1 2 0.2 1.5 0.7 -0.2 1 -1.3 0.4zM396.9 945.5l1.7 -0.4 1.6 0.4 -0.6 1z" fill="none" stroke="#1c1c1c" stroke-width="1.0"/>
<path d="M422 833.7h.9M415.2 829.5h.9M381.1 847.3h.9M417.7 818.6h.9M395.5 832.8h.9M414 841.3h.9M409 826.2h.9M421.8 837.4h.9M389 819.2h.9M420.5 823.1h.9M394.4 801.9h.9M401.7 805.8h.9M394.9 842.4h.9M396.6 811.6h.9M411.1 839.1h.9M413.8 830h.9M395 847.6h.9M389.5 843.2h.9M379.7 842.9h.9M395.7 831.1h.9M383.7 823.5h.9M397.9 801h.9M388.7 833.3h.9M412.1 864.2h.9M393.5 847.7h.9M395.8 848h.9M392.4 806.1h.9M411.6 808.6h.9M416 847.7h.9M399.6 761.7h.9M391.5 850.3h.9M407.7 828.1h.9M418.8 851.8h.9M423.5 866.8h.9M395.8 844.3h.9M390.2 854.4h.9M387.2 857.3h.9M384.2 836.6h.9M409.4 820.4h.9M399.7 810.7h.9M411.2 855.5h.9M387.9 824.5h.9M412.7 826h.9M415.6 867.3h.9M414.2 836.6h.9M384.7 822.7h.9M392.5 839.7h.9M387.4 840.9h.9M391.2 864.9h.9M398.2 811.7h.9M398.9 805.5h.9M410 817.4h.9M401.2 803.4h.9M393.9 836.1h.9M389.1 792.1h.9M381.5 868h.9M393.1 817.8h.9M380.4 837.5h.9M394.2 849.1h.9M385.6 863.1h.9M395.9 836.9h.9M418.5 811.3h.9M419.5 868.4h.9M395.9 822.5h.9M410.1 822.5h.9M413.6 858.7h.9M412.4 797.7h.9M404.3 819.6h.9M416.5 875.9h.9M395.6 867h.9M395.7 813h.9M378.3 840.7h.9M417.1 877.6h.9M404.3 808.8h.9M399.3 815.2h.9M401 804.2h.9M384.8 807.3h.9M411.8 837h.9M376.9 827.3h.9M398.7 804.4h.9M408.9 825.2h.9M382.5 847.9h.9M380.4 800h.9M391.3 856.1h.9M420.3 854.7h.9M425.7 839.3h.9M375.7 817.1h.9M391.1 846.8h.9M389.7 824.3h.9M394.6 844.4h.9M400.2 814h.9M391.2 843.4h.9M395.4 840.8h.9M387 835.6h.9M392.3 823h.9M409.5 841.1h.9M415.8 840.6h.9M413.2 785h.9M395.3 834h.9M393.5 828.1h.9M388.6 806.3h.9M410.6 837.2h.9M413.8 799.4h.9M406.4 816.1h.9M417.5 833.8h.9M389.1 843.6h.9M390 819.9h.9M391.8 802.6h.9M389.8 846.6h.9M424 820.6h.9M388.2 823.4h.9M395.9 847.9h.9M392.8 814.8h.9M392.6 817.6h.9M417.4 852.8h.9M389.5 808h.9M402 814.9h.9M390.1 840.7h.9M406.8 823.7h.9M385.5 825.7h.9M388.4 854.8h.9M410.7 849.7h.9M415.9 806.3h.9M392 815.7h.9M400.4 806.9h.9M394.1 814.2h.9M415.7 879h.9M390.3 832.8h.9M396 850h.9M415.7 786.6h.9M388.9 831.3h.9M391.8 821.1h.9M410.6 824.7h.9M403.8 784.3h.9M393.2 839.3h.9M392.7 855.9h.9M390 842h.9M396.7 785.5h.9M409.6 857h.9M418.4 864h.9M395.3 831.7h.9M419.1 832.5h.9M400.3 811.5h.9M391.7 829.8h.9M412 835.8h.9M419 852h.9M417.7 820.6h.9M398.2 810.8h.9M401.2 816.6h.9M395.5 827.9h.9M392.8 839.8h.9M388.4 806.2h.9M378.4 849h.9M412.6 827.6h.9M385.7 821.4h.9M406 809.7h.9M408.1 831.7h.9M391.4 853.6h.9M390.3 839.8h.9M411.1 850.7h.9M423 861.2h.9M404.3 801.3h.9M396.9 814.8h.9M411.4 822.7h.9M414.2 847.5h.9M383.6 846.8h.9M412.4 795h.9M422.2 851.7h.9M394.5 830.9h.9M394.1 842.4h.9M430.9 884.9h.9M388.9 800.2h.9M395.3 782.6h.9M386 835.7h.9M397 779.9h.9M410.8 819.2h.9M399.3 817h.9M412.2 803.7h.9M421.5 839.8h.9M400.3 812.5h.9M398.4 820.6h.9M388.4 857.2h.9M388.1 862.6h.9M394.9 859.9h.9M393.9 828.2h.9M389.8 857.7h.9M394.3 819.1h.9M382.6 846.4h.9M409.5 845h.9M389.4 834.9h.9M393 858.5h.9M392.3 828.9h.9M379.1 885.7h.9M406.2 790.4h.9M378.1 870.6h.9M387.6 814.2h.9M410.6 860.8h.9M416.3 860.1h.9M413.1 863.2h.9M395.4 812.6h.9M401.4 797.1h.9M399.1 812.2h.9M419.5 832.3h.9M396.3 832.9h.9M378.7 847.1h.9M394 855.3h.9M408.5 832.1h.9M387.3 823.7h.9M388.6 848.7h.9M389.5 814.5h.9M394.1 841.1h.9M383.3 815.2h.9M394 849.6h.9M394.5 829.8h.9M412.4 828.4h.9M411.8 823.3h.9M404.5 800.1h.9M395.5 812.6h.9M391.3 849.3h.9M386.4 862.4h.9M378.8 831h.9M395.8 812.9h.9M395.7 821.7h.9M389.3 824.1h.9M407.2 812.7h.9M409.2 827.9h.9M413.4 820.8h.9M397.5 822.2h.9M389.9 857.6h.9M413.6 841.6h.9M387 815.8h.9M415.3 823.1h.9M402.8 764.3h.9M414.2 804.6h.9M392.3 839.2h.9M406 824.6h.9M395.8 858h.9M392.1 849h.9M395.1 824.6h.9M416.2 851h.9M418 858.8h.9M419.8 868.2h.9M397.6 828.6h.9M399.9 806.6h.9M380.3 874.2h.9M389.4 822h.9M393.6 831h.9M397.8 814.8h.9M415.9 843h.9M411.4 869.6h.9M404.4 805.3h.9M411.6 837.3h.9M396 813.3h.9M412.8 817.1h.9M371.1 856.4h.9M413.5 808.6h.9M390.2 830h.9M392.2 829.8h.9M407.7 807h.9M391 824.5h.9M388.8 853.4h.9M393.6 831.9h.9M409.9 836.8h.9M382.3 849.5h.9M382.3 851.4h.9M409.5 848.2h.9M387.7 839.2h.9M419.7 856.8h.9M410.4 824.1h.9M410.8 822.8h.9M427.2 834.7h.9M394.8 833.8h.9M404.9 820.4h.9M434.6 873.1h.9M384 845.3h.9M409.5 825h.9M414.9 862.5h.9M380 855.7h.9M394.3 817.1h.9M411.1 841.1h.9M395.3 860.2h.9M404 814.1h.9M385.5 821.3h.9M384.3 851.9h.9M394.8 824.3h.9M409.7 819.5h.9M395.2 849.2h.9M370.3 825.2h.9M402 780.9h.9M393.8 842.5h.9M384.3 879.5h.9M419.7 819.7h.9M423.5 824.2h.9M407.2 814.3h.9M380.3 845.8h.9M379.5 822.9h.9M387.9 805.3h.9M412.4 844.7h.9M378.7 793.3h.9M402.5 795.2h.9M384.7 844.5h.9M433.9 853.5h.9M404 815.6h.9M424.3 855.5h.9M390.2 824.2h.9M407.5 810.9h.9M399.6 816.7h.9M386.2 854.3h.9M414.8 824.8h.9M422.7 853.5h.9M413.5 781h.9M390.6 776.9h.9M398.8 815h.9M423.7 861.1h.9M408.7 830.6h.9M399.7 818.1h.9M412.2 848.9h.9M414.6 844.2h.9M390.2 867.1h.9M410.4 850.3h.9M418.5 838.6h.9M414.8 834.5h.9M395.2 775.4h.9M385.4 836.3h.9M385.4 861.1h.9M394 820.4h.9M409.3 844.2h.9M415.1 818.8h.9M393.8 833.2h.9M399.2 798.2h.9M416.4 847.7h.9M395.4 846.4h.9M394.2 834.7h.9M391.6 851.2h.9M383.3 830.9h.9M388.1 848.6h.9M386.6 821.2h.9M384.3 852.8h.9M417.3 836h.9M409.4 780.5h.9M391.8 836.5h.9M396.1 848.9h.9M393 823.7h.9M392.7 817.8h.9M397 833.7h.9M416.4 815h.9M411.1 856.1h.9M400 821.1h.9M391 818.8h.9M388.4 813.9h.9M374 821.1h.9M419.1 809.6h.9M415.1 814.1h.9M387.7 811.9h.9M372 832.1h.9M410.6 799.4h.9M393.9 832.5h.9M385.7 833.8h.9M387 780h.9M395 794.5h.9M418.1 804.7h.9M408.6 790.4h.9M426.8 803.7h.9M407.9 813.9h.9M384.7 799.8h.9M409.6 851.8h.9M388.2 839.5h.9M389.8 828h.9M397.8 806h.9M400.4 806.3h.9M421 824.4h.9M406.6 805.4h.9M398.7 823.9h.9M384 834.5h.9M383.2 843h.9M410.5 838.6h.9M392 830.6h.9M388.7 873.4h.9M386.3 828.7h.9M418.3 853.8h.9M414.4 807.7h.9M416.9 834.9h.9M384 833h.9M385.5 854.9h.9M421.4 855.7h.9M394.5 841.4h.9M389.8 848h.9M383.3 841.4h.9M423.2 851.8h.9M406.6 800.4h.9M393.6 767.3h.9M414.2 797.4h.9M420 856.8h.9M411 846.5h.9M411.7 831.9h.9M389.8 836.4h.9M411.2 821h.9M386.8 810.5h.9M397.2 815h.9M381.3 879.2h.9M416.6 843.3h.9M414.5 862.4h.9M399.4 790.2h.9M380.6 817.2h.9M421.7 865.8h.9M399.9 810.4h.9M415.4 824.9h.9M389.1 872.3h.9M382.5 864.8h.9M402.4 785.4h.9M389.9 815.3h.9M380.2 761.7h.9M402.2 792.9h.9M389.5 844h.9M392.9 840.5h.9M389.5 837.6h.9M411.2 803h.9M402.8 813.7h.9M409.3 834h.9M413.4 810.5h.9M379.3 827.6h.9M402.3 810.5h.9M398.7 795.2h.9M391.9 842.4h.9M405.9 811.9h.9M381.2 839.7h.9M381.9 825.9h.9M395.5 808h.9M388.2 867.5h.9M377.6 841.6h.9M390.3 813.9h.9M389.8 824.5h.9M384.6 856.5h.9M389.4 848.2h.9M389 836.1h.9M374.5 812.1h.9M385.3 836.4h.9M399.2 780.4h.9M377.1 855.8h.9M389 847.3h.9M433.3 817.9h.9M393.9 837.9h.9M393.6 868h.9M413.8 839.9h.9M419.6 849.3h.9M404 800.4h.9M395.8 821h.9M390.5 801.3h.9M390.1 846h.9M395.2 840h.9M411.8 806.4h.9M411.5 842h.9M392 854.2h.9M406.3 811.5h.9M399.8 818.9h.9M400.5 801.1h.9M409.1 830.7h.9M420 852h.9M394.8 825.5h.9M395.7 860h.9M397.9 819.9h.9M392.6 853.4h.9M423.9 814.6h.9M382.7 854.7h.9M386.1 850.2h.9M397.3 808.1h.9M394.8 822.1h.9M413.9 854.7h.9M415.5 819.4h.9M417.2 870.5h.9M391.8 791.7h.9M404.5 819.1h.9M413.9 819.6h.9M389.3 839h.9M392.7 853.8h.9M415.2 837.8h.9M398.4 806.7h.9M413.4 832.7h.9M400.8 790.9h.9M401.2 802.3h.9M368.7 849.6h.9M388.5 874.1h.9M392.8 868h.9M404.4 798.1h.9M377.4 821.3h.9M382 825.4h.9M393.3 850.8h.9M379.5 818h.9M395.8 822.1h.9M393.1 808.9h.9M389 858.1h.9M394.4 805.4h.9M407.6 813h.9M404.2 816.1h.9M398.1 824.2h.9M419.6 802.4h.9M401.5 818.7h.9M418.6 844.2h.9M383 832.6h.9M379.6 804.7h.9M385.1 800.9h.9M409.5 842.3h.9M399.1 805.1h.9M387.7 799.6h.9M387.7 796h.9M390.7 836h.9M387 858.8h.9M388.7 790.7h.9M419.4 818.9h.9M406 819.2h.9M387.2 851.9h.9M410.7 811.8h.9M424 821.2h.9M394.3 828.5h.9M394.1 856.9h.9M414.4 801.7h.9M386.6 849.7h.9M423.1 838.2h.9M391.3 836.5h.9M399.2 807.8h.9M411.4 826.8h.9M394.4 864.6h.9M415.1 815.2h.9M418.5 862.5h.9M389.7 845.5h.9M408.6 821.5h.9M404.3 801.4h.9M392 834.5h.9M389.3 831.6h.9M413.7 804.1h.9M388.7 817.8h.9M413.6 853.6h.9M417.6 804.6h.9M418.6 800.3h.9M416.7 843.6h.9M415.3 872.8h.9M403.3 808.4h.9M383.6 835.7h.9M387.3 862.1h.9M416.5 868.7h.9M390.7 804.5h.9M398.9 807h.9M415.4 841.9h.9M385.9 869h.9M383.8 872.9h.9M386 832.2h.9M385.7 836h.9M414.6 800.3h.9M419 806h.9M384.3 853.1h.9M406.7 809.1h.9M413.2 845.8h.9M419.7 803.2h.9M412.5 807.9h.9M407.2 820.5h.9M395.2 825.9h.9M418.6 835.4h.9M395.9 850.1h.9M389.9 801.8h.9M407.2 818.2h.9M413.5 844.4h.9M417 863.6h.9M392.5 801.4h.9M399 810.7h.9M386.2 805.9h.9M409.6 843.5h.9M418.3 818.1h.9M385.2 853h.9M406.2 811.1h.9M414.3 814.8h.9M416.4 814h.9M397 809.7h.9M410.3 810.4h.9M417.9 856.9h.9M393.1 804.5h.9M390.9 868.7h.9M419.7 864.9h.9M396.1 809.8h.9M410.6 832h.9M384.3 826.2h.9M383.1 834.6h.9M394 858.7h.9M391.1 848.2h.9M412.2 841.8h.9M419.5 876.5h.9M402.1 809.4h.9M388.3 866.4h.9M385.8 808.5h.9M410.9 821.9h.9M409.5 865.8h.9M387.7 808.8h.9M411.1 816.5h.9M394.6 864.2h.9M415.7 823.3h.9M415 804.2h.9M390.1 836.5h.9M384.4 859.2h.9M413.8 808.2h.9M396.4 818.2h.9M386.1 858h.9M389.5 831.4h.9M402.3 810.2h.9M392.7 838.2h.9M419.8 865.1h.9M406.3 804.8h.9M388.4 853.9h.9M398.7 817.8h.9M413.4 853.8h.9M386 855.5h.9M393.5 818.5h.9M408.8 814.6h.9M409.9 804h.9M389.7 836.9h.9M395.9 844.4h.9M384.3 826.3h.9M418.6 820.4h.9M418.2 801.6h.9M417.4 859.3h.9M394.8 830.9h.9M397.8 801.3h.9M413.1 814.2h.9M417.6 876.9h.9M392.6 831.5h.9M414 858.4h.9M419.3 816.3h.9M402.3 801h.9M411.5 806.7h.9M396.2 820.7h.9M385.8 857.8h.9M410 802.6h.9M386.2 821.3h.9M386.9 834.3h.9M388.5 814h.9M390.6 849.4h.9M413 822.6h.9M401.6 810h.9M386 878.6h.9M394.5 823.7h.9M385.1 822.8h.9M394.2 849h.9M398.2 809.3h.9M400.8 806.4h.9M394.1 844.2h.9M393.9 807.1h.9M388.8 857.8h.9M418.1 832.7h.9M412.3 812.8h.9M394.1 819h.9M410.3 805.3h.9M400.6 816h.9M387.9 801.8h.9M416.1 812.5h.9M383.1 847.2h.9M387 836.6h.9M389 836.9h.9M384.1 808.5h.9M387.2 859.2h.9M416.8 810.1h.9M396.4 815.3h.9M399 825.3h.9M411.7 813.9h.9M385.2 809.9h.9M387 811h.9M400.5 806.9h.9M415.5 808.2h.9M396 837.2h.9M401.1 809h.9M418.8 877h.9M390.4 804.7h.9M394.9 853.4h.9M401.9 814.5h.9M414 828.9h.9M396.6 805.5h.9M418 809.4h.9M383.2 812.2h.9M386 865.8h.9M394 814.5h.9M419.1 876.7h.9M413.2 822.6h.9M390.1 859.4h.9M395.2 837.4h.9M408.9 812.1h.9M389.7 843.1h.9M413.1 819.9h.9M409.7 865.9h.9M394.3 836.6h.9M414.6 834.2h.9M396.4 816h.9M412.7 873h.9M415.5 845.4h.9M409.6 853.4h.9M418.2 822.5h.9M409.2 856h.9M384.4 877.2h.9M389.6 832.6h.9M416.9 811.8h.9M412.3 827.9h.9M413.2 839.1h.9M392.6 850.8h.9M413.7 867.6h.9M415.8 854.9h.9M433.8 939.3h.9M435.2 895.7h.9M426.8 881.8h.9M429.6 907h.9M425.5 928.9h.9M432.4 894.1h.9M382.7 874.1h.9M390.8 870.5h.9M389.3 835.4h.9M362.2 895.4h.9M374.1 888h.9M380.4 865.4h.9M348.1 883.5h.9M427.6 897.2h.9M395.4 863.6h.9M428.6 932.4h.9M437.9 909h.9M377.3 838.8h.9M441.3 917.5h.9M436.9 894.2h.9M382.3 883.3h.9M418.4 868.7h.9M354.2 933.8h.9M414.1 852.9h.9M417.9 881.2h.9M423.4 935.2h.9M360.5 875.2h.9M385.5 873.5h.9M436.8 870.7h.9M357.6 912.3h.9M411.1 854.8h.9M383.2 874.1h.9M428.4 879.1h.9M439 902.7h.9M386.4 874.2h.9M459.5 891.4h.9M352.4 917.4h.9M427.3 877h.9M431.7 911.8h.9M370.6 865.9h.9M371.4 869.4h.9M446 919.9h.9M423.8 870.4h.9M429.1 891.7h.9M421.5 884h.9M362.3 877.5h.9M362.6 868.9h.9M435.7 921.8h.9M416.4 942.8h.9M435.2 926.9h.9M420.8 889.9h.9M362.3 888.4h.9M390.7 858.8h.9M383.9 878.9h.9M436.9 888h.9M368.2 854.7h.9M431.1 936.1h.9M432 924.2h.9M354.5 899.7h.9M451.1 911.4h.9M417.8 943.4h.9M424.7 868.6h.9M368.6 889.5h.9M429.5 927.8h.9M355.7 895.6h.9M357.6 892.2h.9M437.4 915h.9M395.2 862.3h.9M413.3 944.4h.9M442 866.4h.9M420.1 945.7h.9M431.9 934.5h.9M430.5 911.8h.9M387.7 864.4h.9M417.6 944.4h.9M425.8 879.8h.9M419.2 882.7h.9M350.6 923h.9M444.8 939.8h.9M380.8 859.3h.9M430.1 904.6h.9M355.2 934.7h.9M430.9 891.9h.9" fill="none" stroke="#222" stroke-width="0.9"/>
</g>
<rect x="363.9" y="789.8" width="68.6" height="80.6" fill="none" stroke="#000" stroke-width="2.2"/>
<text x="456" y="824" font-size="27.5" font-weight="bold" font-style="normal" text-anchor="middle">6.1</text>
<rect x="106" y="554.2" width="195.2" height="194.8" fill="none" stroke="#000" stroke-width="1.3"/>
<rect x="304.6" y="554.2" width="196" height="194.8" fill="none" stroke="#000" stroke-width="1.3"/>
<rect x="106" y="756.5" width="195.2" height="191.7" fill="none" stroke="#000" stroke-width="1.3"/>
<rect x="304.6" y="756.5" width="196" height="191.7" fill="none" stroke="#000" stroke-width="1.3"/>
<text x="2.8" y="1053.6" font-size="29" font-weight="bold" font-style="normal" text-anchor="start">C</text>
<text x="126.5" y="1053.3" font-size="34" font-weight="bold" font-style="normal" text-anchor="start">Untreated</text>
<text x="334.5" y="1053.3" font-size="34" font-weight="bold" font-style="normal" text-anchor="start">Treated</text>
<text transform="translate(29.9 1206.3) rotate(-90)" font-size="40" font-weight="normal" font-style="italic" text-anchor="start">Kidne<tspan font-size="48">y</tspan></text>
<text transform="translate(31.3 1409.7) rotate(-90)" font-size="40" font-weight="normal" font-style="italic" text-anchor="start">Liver</text>
<text transform="translate(59.4 1287.7) rotate(-90)" font-size="34" font-weight="bold" font-style="normal" text-anchor="start">IL10</text>
<path d="M51.5 1075.4L43 1092.4L60 1092.4Z" fill="#000"/>
<rect x="49" y="1091.9" width="5" height="105.3" fill="#000"/>
<path d="M51.5 1454.6L43 1437.6L60 1437.6Z" fill="#000"/>
<rect x="49" y="1332" width="5" height="106.1" fill="#000"/>
<text x="256.5" y="1496.8" font-size="34" font-weight="bold" font-style="normal" text-anchor="start">IFN</text>
<text x="315.7" y="1496.8" font-size="34" font-weight="bold" font-style="normal" text-anchor="start">-</text>
<text x="326.8" y="1496.8" font-size="31" font-weight="bold" font-style="normal" text-anchor="start">γ</text>
<path d="M115.3 1482.9L132.3 1474.4L132.3 1491.4Z" fill="#000"/>
<rect x="131.8" y="1480.4" width="101.8" height="5" fill="#000"/>
<path d="M489.4 1483.4L472.4 1474.9L472.4 1491.9Z" fill="#000"/>
<rect x="371.2" y="1480.9" width="101.7" height="5" fill="#000"/>
<text x="109.4" y="1067.3" font-size="14" font-weight="normal" font-style="normal" text-anchor="end" stroke="#000" stroke-width="0.25">10000</text>
<text x="110.2" y="1113.5" font-size="14" font-weight="normal" font-style="normal" text-anchor="end" stroke="#000" stroke-width="0.25">1000</text>
<text x="109" y="1162" font-size="14" font-weight="normal" font-style="normal" text-anchor="end" stroke="#000" stroke-width="0.25">100</text>
<text x="108.2" y="1210" font-size="14" font-weight="normal" font-style="normal" text-anchor="end" stroke="#000" stroke-width="0.25">10</text>
<text x="109.4" y="1267" font-size="14" font-weight="normal" font-style="normal" text-anchor="end" stroke="#000" stroke-width="0.25">10000</text>
<text x="110.2" y="1313" font-size="14" font-weight="normal" font-style="normal" text-anchor="end" stroke="#000" stroke-width="0.25">1000</text>
<text x="109.4" y="1361" font-size="14" font-weight="normal" font-style="normal" text-anchor="end" stroke="#000" stroke-width="0.25">100</text>
<text x="109.4" y="1409" font-size="14" font-weight="normal" font-style="normal" text-anchor="end" stroke="#000" stroke-width="0.25">10</text>
<text x="104.4" y="1450.7" font-size="14" font-weight="normal" font-style="normal" text-anchor="end" stroke="#000" stroke-width="0.25">1</text>
<text x="114.3" y="1469.8" font-size="14" font-weight="normal" font-style="normal" text-anchor="middle" stroke="#000" stroke-width="0.25">1</text>
<text x="158.5" y="1469.8" font-size="14" font-weight="normal" font-style="normal" text-anchor="middle" stroke="#000" stroke-width="0.25">10</text>
<text x="208" y="1469.8" font-size="14" font-weight="normal" font-style="normal" text-anchor="middle" stroke="#000" stroke-width="0.25">100</text>
<text x="257.5" y="1469.8" font-size="14" font-weight="normal" font-style="normal" text-anchor="middle" stroke="#000" stroke-width="0.25">1000</text>
<text x="303.7" y="1469.8" font-size="14" font-weight="normal" font-style="normal" text-anchor="middle" stroke="#000" stroke-width="0.25">10000</text>
<text x="353.2" y="1469.8" font-size="14" font-weight="normal" font-style="normal" text-anchor="middle" stroke="#000" stroke-width="0.25">10</text>
<text x="402" y="1469.8" font-size="14" font-weight="normal" font-style="normal" text-anchor="middle" stroke="#000" stroke-width="0.25">100</text>
<text x="451.8" y="1469.8" font-size="14" font-weight="normal" font-style="normal" text-anchor="middle" stroke="#000" stroke-width="0.25">1000</text>
<text x="501.3" y="1469.8" font-size="14" font-weight="normal" font-style="normal" text-anchor="middle" stroke="#000" stroke-width="0.25">10000</text>
<path d="M112.3 1253.8h-4.4M112.3 1239.2h-2.8M112.3 1230.7h-2.8M112.3 1224.7h-2.8M112.3 1220h-2.8M112.3 1216.2h-2.8M112.3 1212.9h-2.8M112.3 1210.1h-2.8M112.3 1207.7h-2.8M112.3 1205.5h-4.4M112.3 1190.9h-2.8M112.3 1182.4h-2.8M112.3 1176.3h-2.8M112.3 1171.7h-2.8M112.3 1167.8h-2.8M112.3 1164.6h-2.8M112.3 1161.8h-2.8M112.3 1159.3h-2.8M112.3 1157.1h-4.4M112.3 1142.5h-2.8M112.3 1134h-2.8M112.3 1128h-2.8M112.3 1123.3h-2.8M112.3 1119.5h-2.8M112.3 1116.2h-2.8M112.3 1113.4h-2.8M112.3 1111h-2.8M112.3 1108.8h-4.4M112.3 1094.2h-2.8M112.3 1085.7h-2.8M112.3 1079.6h-2.8M112.3 1075h-2.8M112.3 1071.1h-2.8M112.3 1067.9h-2.8M112.3 1065.1h-2.8M112.3 1062.6h-2.8M112.3 1060.4h-3.6" stroke="#333" stroke-width="0.9" fill="none"/>
<path d="M112.3 1449.5h-4.4M112.3 1435.1h-2.8M112.3 1426.6h-2.8M112.3 1420.6h-2.8M112.3 1416h-2.8M112.3 1412.2h-2.8M112.3 1409h-2.8M112.3 1406.2h-2.8M112.3 1403.8h-2.8M112.3 1401.6h-4.4M112.3 1387.1h-2.8M112.3 1378.7h-2.8M112.3 1372.7h-2.8M112.3 1368.1h-2.8M112.3 1364.3h-2.8M112.3 1361.1h-2.8M112.3 1358.3h-2.8M112.3 1355.8h-2.8M112.3 1353.7h-4.4M112.3 1339.2h-2.8M112.3 1330.8h-2.8M112.3 1324.8h-2.8M112.3 1320.2h-2.8M112.3 1316.4h-2.8M112.3 1313.1h-2.8M112.3 1310.4h-2.8M112.3 1307.9h-2.8M112.3 1305.7h-4.4M112.3 1291.3h-2.8M112.3 1282.9h-2.8M112.3 1276.9h-2.8M112.3 1272.2h-2.8M112.3 1268.4h-2.8M112.3 1265.2h-2.8M112.3 1262.4h-2.8M112.3 1260h-2.8M112.3 1257.8h-3.6" stroke="#333" stroke-width="0.9" fill="none"/>
<path d="M112.3 1449.5v5.4M126.9 1449.5v2.9M135.5 1449.5v2.9M141.5 1449.5v2.9M146.2 1449.5v2.9M150.1 1449.5v2.9M153.3 1449.5v2.9M156.1 1449.5v2.9M158.6 1449.5v2.9M160.8 1449.5v5.4M175.5 1449.5v2.9M184 1449.5v2.9M190.1 1449.5v2.9M194.8 1449.5v2.9M198.6 1449.5v2.9M201.9 1449.5v2.9M204.7 1449.5v2.9M207.2 1449.5v2.9M209.4 1449.5v5.4M224 1449.5v2.9M232.6 1449.5v2.9M238.6 1449.5v2.9M243.3 1449.5v2.9M247.2 1449.5v2.9M250.4 1449.5v2.9M253.2 1449.5v2.9M255.7 1449.5v2.9M257.9 1449.5v5.4M272.6 1449.5v2.9M281.1 1449.5v2.9M287.2 1449.5v2.9M291.9 1449.5v2.9M295.7 1449.5v2.9M299 1449.5v2.9M301.8 1449.5v2.9M304.3 1449.5v2.9M306.5 1449.5v5.4" stroke="#333" stroke-width="1.0" fill="none"/>
<path d="M309.2 1449.5v5.4M323.6 1449.5v2.9M332.1 1449.5v2.9M338.1 1449.5v2.9M342.7 1449.5v2.9M346.5 1449.5v2.9M349.7 1449.5v2.9M352.5 1449.5v2.9M354.9 1449.5v2.9M357.1 1449.5v5.4M371.6 1449.5v2.9M380 1449.5v2.9M386 1449.5v2.9M390.6 1449.5v2.9M394.4 1449.5v2.9M397.6 1449.5v2.9M400.4 1449.5v2.9M402.9 1449.5v2.9M405 1449.5v5.4M419.5 1449.5v2.9M427.9 1449.5v2.9M433.9 1449.5v2.9M438.5 1449.5v2.9M442.3 1449.5v2.9M445.6 1449.5v2.9M448.3 1449.5v2.9M450.8 1449.5v2.9M453 1449.5v5.4M467.4 1449.5v2.9M475.8 1449.5v2.9M481.8 1449.5v2.9M486.5 1449.5v2.9M490.3 1449.5v2.9M493.5 1449.5v2.9M496.3 1449.5v2.9M498.7 1449.5v2.9M500.9 1449.5v5.4" stroke="#333" stroke-width="1.0" fill="none"/>
<g clip-path="url(#cC00)">
<path d="M177.3 1180.4l4 -0.2 12 1.7 8 -0.9 5 0.5 3 1.2 2 1.6 3 3.2 2.7 3.9 1 2 1 4 0.1 14 0.9 8 -1.1 15 -1.9 5 -2.9 5 -2.8 2.5 -3 1 -9 -0.3 -8 1.5 -11 1.2 -4 0.1 -9 -0.8 -10 -1.6 -13 -1.3 -13 -3 -3 -1.3 -2.9 -2 -2.5 -3 -1.2 -3 -0.6 -4 -0.5 -9 -2.6 -10 -1.3 -7 0 -4 0.9 -5 1.2 -3 2.7 -4 2.8 -2.8 3 -2.1 6 -1.6 5 0.1 5 1 6 2 4 0.2 3 -0.2zM173.4 1184.4l4.9 -0.8 14 1.9 9 -0.5 4 0.2 4 1.7 4 3.9 1.5 2.6 1.2 4 0.4 11 -0.4 6 0.3 5 -0.6 5 0 8 -1 3 -2.4 3.5 -2 2.1 -3 1.3 -6 0.6 -8 2 -17 2.3 -10 -0.7 -16 -2.7 -6 -0.2 -10 -2.4 -3.7 -1.8 -2.1 -2 -1.6 -3 -0.6 -3 -0.3 -7 -1.7 -5.7 -2.8 -7.3 -1.1 -5 0.1 -3 1.6 -7 1.3 -3 1.9 -2.7 2 -2.1 1.9 -1.2 5.1 -1.4 5 0.2 10 2.6 7 1.1 2 -0.3 4 -1.6zM173.3 1186.4l3 -0.6 3 0 13 2.4 8 -0.9 4 0 4 1.3 3.3 2.8 1.9 3 0.9 3 0.5 11 -1.4 10 -1.6 5 1.3 6 0.1 2 -0.5 2 -1.2 2 -2.3 2.2 -2 1 -6 0.9 -7 2.1 -5 0.7 -7 1.9 -4 0.5 -10 -0.3 -6 -1.1 -6 -0.3 -6 -1.6 -6 0.1 -8 -2.2 -3 -1.5 -2 -2 -1.3 -2.4 -1.2 -10 -4.9 -12 -0.9 -4 0 -3 1.2 -5 1.1 -3 1.7 -3 3.3 -3 5 -1.8 5 0.2 13 3.3 3 0.3 3 -0.7zM194.3 1219.4l-1 0.1 -1.4 0.9 -0.6 1 0 1 0.5 1 1.5 1.1 2 0.7 2 0.1 1.1 -0.9 -0.3 -2 -1.8 -2.1zM178.1 1187.4l4.2 0.4 10 2.6 3 -0.2 5 -1.4 4 0 4 1.6 3 3 1.2 2 0.8 3 0.3 10 -1.5 7 -0.8 2.2 -1 1.4 -3 1.7 -4 0.3 -3 -1.4 -5 -3.4 -2 -0.4 -2 0.9 -2.1 1.7 -1.3 2 -0.6 2 0.9 3 1.1 1.2 1.5 0.8 8.5 2.4 2 -0.1 3 -0.8 5 0.6 1 1.9 -1 2.4 -2 1.7 -6 0.4 -7.5 2.5 -4.5 1.1 -5 2.2 -5 0.8 -9 0.2 -7 -1 -6 -0.3 -7 -2 -5 0.2 -3 -0.4 -4 -1.4 -2.4 -1.4 -1.7 -2 -0.9 -2 -2.7 -10 -3.8 -9 -1.4 -5 -0.1 -3 1.2 -6 1.3 -3 1.5 -1.9 4.3 -3.1 3.7 -1.1 5 0.8 11 3.1 3 0.1 8 -2.6 8 -3.4zM174.2 1189.4l5.1 -0.5 3 0.3 8 3 2 0.4 3 -0.3 5 -2.1 3 -0.2 2 0.5 3 1.7 2.8 3.2 1.2 4 0 10 -0.7 3 -1.3 3.1 -1 1.2 -2 1.1 -4 0.3 -3 -1 -5 -3.1 -2 -0.5 -2 0.8 -2.6 2.1 -5.1 5 -0.5 1 0.3 2 1.9 3.1 2 2.2 2 0.8 4.8 0.9 1.2 1 0.2 1 -0.6 1 -1.6 1.2 -5 1.9 -5 2.6 -13 1 -6 -0.8 -6 -0.4 -7 -2 -8 -0.4 -2.9 -1.1 -1.5 -1 -1.4 -2 -1.2 -3.6 -3 -4.1 -5.3 -14.3 -0.4 -3 0.1 -2 0.7 -6 1.3 -3 4.6 -4 3 -1.2 3 0.3 12 3.5 3 0.1 8 -2.4 7 -3.3zM179.4 1190.4l3.9 0.3 7 3.6 2 0.4 3 -0.3 5 -2.8 2 -0.4 2 0.3 3.3 1.9 2.7 3 0.8 2 0.3 2 -0.3 9 -0.8 3 -1 1.8 -1 0.9 -2 0.8 -4 -0.1 -3 -1 -4 -2.6 -2 -0.7 -2 0.9 -6 5.1 -5 2.3 -1.1 1.6 0.2 3 3.9 5.8 2.9 3.2 0.4 1 -1.6 2 -1.7 1.1 -5 0.4 -6 1.6 -3 0.1 -10 -1.3 -7 -1.9 -6 -0.6 -2 -0.6 -2 -1.2 -1.4 -1.6 -1.9 -4 -4.2 -4 -5.1 -13 -0.2 -3 1.3 -5 0.2 -3 0.9 -2 3.4 -3.1 1.9 -0.9 1.1 -0.1 11 3.3 3 0.4 3 -0.3 3 -0.7 6 -2.3 7 -3.3zM177.9 1192.4l3.4 -0.7 2 0.3 7 4.1 2 0.4 4 -0.6 5 -3.2 2 0 2 0.9 3.4 2.8 1.6 3.1 0.1 2.9 -0.7 7 -0.6 2 -0.8 1.3 -1 0.8 -2 0.5 -4 -0.1 -3 -1.2 -3 -2.4 -2 -0.8 -2 0.9 -6 5.4 -6.3 2.6 -1.7 2 -0.9 3 0 2 1.6 4 -0.2 2 -2.5 4 -2 1.6 -2 0.8 -2 0.1 -5 -0.6 -8.1 -1.9 -6.9 -1.1 -2.3 -0.9 -3.7 -2.9 -7 -8.3 -2 -3.8 -3.3 -8 0.3 -3 2 -4 1 -3 1 -1.5 2 -1.3 2 -0.2 10 2.4 3 0.1 7 -1.9 12 -5.3zM180.4 1193.4l1.9 -0.3 2 0.6 5 3.6 2 1 5 -0.6 6 -3.2 1 0.2 4 2.5 1.7 2.2 0.4 2 -1.8 8 -1.3 1.9 -3 0.9 -3 -0.1 -2 -0.9 -4 -3.7 -2 0.1 -6 6.1 -2 1.3 -6 2.3 -2 1.9 -2.3 4.2 -0.6 2 0.9 4 -0.1 2 -1.1 2 -2.8 2 -4 0.2 -6 -1.9 -6 -0.3 -4 -0.8 -7 -4.7 -2 -2 -1.6 -2.5 -1.4 -3.4 -2.6 -3.6 -3.2 -6 -0.1 -1 0.5 -2 4.4 -6.4 2 -1.2 2 -0.1 9 2 2 0.1 7 -2.4 12 -5.4 2 -0.3 4 0.4zM171.1 1195.4l2.2 -0.3 5 0.5 3 -0.9 2 -0.1 3 1.6 4 4.3 1 0.6 1 0.1 9 -3.1 5 1.4 1.1 0.9 0.2 2 -3.8 7 -1.5 0.9 -2 0.1 -2 -1.2 -3 -3.8 -2 -0.9 -1 0.3 -4 5.5 -2 2 -2 1.4 -7 3 -1.9 1.7 -3.1 4.1 -3.9 2.9 0.2 1 1.7 2.4 0.3 1.6 -0.5 1 -1.8 1.1 -2.5 -0.1 -3.5 -1.7 -6 1.2 -4 -0.3 -2 -1 -3 -2.5 -4.6 -2.7 -1.3 -2 -1.1 -4.1 -3.3 -3.9 -2.8 -5 0.1 -2.1 4 -5.1 1 -1 2 -0.6 12 1.7 4 -1.5 6 -3.1zM180.8 1196.4l1.5 -0.5 2 0.3 1.8 1.2 1.4 2 2.4 5 -0.4 2 -1.2 2.2 -3 3 -9.4 4.8 -4.6 4.8 -6.4 2.2 -6.6 5.7 -2 1.1 -2 0.2 -2 -0.5 -5 -4 -3.3 -1.5 -1.3 -2 -0.8 -4 -3.8 -4 -1.5 -3 -0.3 -2 0.5 -1 3.5 -3.9 1 -0.6 6 -0.4 5 1.2 2 -0.1 4 -1.5 5 -3.3 8 -3 2 -0.3 5 0.6zM199.9 1203.4l1.4 -0.8 1.1 0.8 -0.1 1.9 -1 1.5 -1 0.2 -0.6 -0.6 -0.3 -1zM182.2 1197.4l1.5 0 1.6 0.9 2.7 5.1 0.4 2 -1.3 3 -1.8 1.7 -4 1.7 -7.3 4.6 -3.7 3.8 -7 1.8 -8 6.1 -1 0.3 -2 -0.6 -3.4 -3.4 -3.6 -1.8 -0.7 -1.2 -0.8 -4 -4 -3 -1.2 -2 -0.2 -2 1.1 -2 2.1 -2 2.7 -1.3 3 -0.5 5 1.5 2 -0.1 5 -1.5 3.6 -3.1 1.4 -0.7 5 -0.5 4 -1.9 5 0.3zM181.8 1199.4l1.5 -0.1 1.3 1.1 2.1 4 0.2 1 -0.7 2 -1.9 1.1 -1.2 -0.1 -1.8 -1.4 -1 0 -0.8 1.4 -0.7 3 -0.7 1 -5.8 3.8 -3 3 -6.7 1.2 -4.3 2.5 -3 1.2 -2 0.2 -4.7 -2.9 -1.3 -1.3 -1 -3.7 -1 -1 -4 -1.6 -1.1 -1.4 0.1 -2 1 -1.5 2 -1.5 3 -1.4 2 -0.1 4 2.2 1 0 3 -1.1 4 -0.6 1 -0.7 1.6 -2.3 1.4 -1.1 1 -0.2 3 0.7 2 0 4 -2 5 -0.7zM174.1 1203.4l2.2 -0.4 1.4 0.4 -0.6 8 -1.8 1.8 -4.4 2.2 -2.6 2.6 -1 0.4 -6 0.5 -4 2 -3 0.6 -2 -0.4 -2.5 -1.7 -0.9 -2 -0.1 -2 0.3 -1 1 -1 6.2 -3.4 1 -0.1 2 0.6 2 -0.4 2 -1.7 1.3 -3 0.7 -0.6 5 -0.3zM145 1208.4l2.3 -0.8 1.2 0.8 0.2 1 -0.6 2 -0.7 1 -1.1 0.5 -3 -0.2 -0.6 -0.3 -0.6 -1 0.4 -1zM168.3 1206.4l4 -0.8 2 0.1 1 0.8 0.5 1.9 0.1 2 -0.6 1.3 -2 1.3 -4.3 1.4 -2.7 2.3 -3 -0.1 -2.4 -1.2 0.8 -2 2.9 -3 1.7 -2.6zM152.3 1214.4l2 -0.7 2 0.1 2.6 1.6 0.2 1 -1.5 2 -1.3 0.8 -3 0.3 -1.9 -1.1 -0.5 -1 0.3 -2zM171 1207.4l2.3 0.2 1 1.6 0 1.2 -0.8 1 -1.2 0.6 -2 0.2 -2 -0.6 -0.6 -1.2 0.2 -1 1.4 -1.4z" fill="none" stroke="#1c1c1c" stroke-width="0.9"/>
<path d="M236.3 1157.4l5 -0.4 2.3 1.4 0.8 1 0.6 2 -0.2 2 -1.1 3 -2.1 3 -1.2 1 -7.1 3.9 -3 0.3 -3.3 -1.2 -1.1 -1 -0.4 -1 0 -2 0.8 -3 1.8 -4 1.2 -1.5 2 -1.5z" fill="#000" fill-opacity="0.7" stroke="none"/>
<path d="M239.4 1150.4l3.9 -0.3 3 0.6 3 1.6 2 2.1 0.8 2 0.5 3 -0.9 5 -1.3 3 -2.2 3 -2.9 3 -5 4.4 -2 1.1 -5 1.7 -4 0.2 -3 -0.2 -4 -1.6 -1.5 -1.6 -1 -2 -1.1 -5 0.2 -3 1.9 -4 2.8 -4 5.7 -5.4 5 -2.4zM238.7 1152.4l2.6 -0.3 3 0.5 3 1.6 2 2 0.9 2.2 0 2 -1.6 6 -2 3 -2.3 2.5 -6 4.7 -6 2.1 -4 0 -3 -0.6 -1.1 -0.7 -1.5 -2 -1.7 -5 0.3 -3 2.4 -5 2.2 -3 3.4 -3.3 5 -2.5zM236.1 1154.4l3.2 -0.8 3 0 3 1.2 2 1.7 1 1.2 0.5 1.7 -0.1 2 -1.5 5 -1.2 2 -2.8 3 -5.9 4 -4 1.7 -2 0.4 -5 -0.6 -2.1 -1.5 -1.6 -4 0 -3 1 -3 2.1 -4 2.6 -3 3 -2.1zM236.5 1155.4l3.8 -0.9 2 0.2 2 1 2 1.7 1 1.5 0.3 1.5 -1.5 6 -3.8 4.6 -8 4.7 -3 0.9 -5 -0.9 -1 -0.7 -1.1 -1.6 -0.7 -3 0.5 -3 1.6 -4 1.9 -3 2.8 -2.5zM236.2 1156.4l5.1 -0.8 2 0.8 1.3 1 1.5 2 0.3 1 -0.3 3 -1 3 -2.2 3 -1.6 1.4 -8 4.5 -3 0.4 -4 -1.2 -1.6 -2.1 -0.3 -2 0.5 -3 2.1 -5 1.5 -2 1.8 -1.6zM235.3 1157.4l6 -0.7 2 0.9 1.9 2.8 0.1 2 -0.8 3 -1.8 3 -1.4 1.6 -7 4.1 -3 0.9 -4 -1.1 -1.7 -1.5 -0.4 -2 0.5 -3 1.6 -4 1.2 -2 1.8 -1.7zM234.3 1158.4l3 -0.6 4 0 1 0.3 1.8 2.3 0.1 3 -1.7 4 -2.2 2.6 -7 3.8 -2 0.4 -1 -0.2 -3 -1.1 -1 -1.1 -0.3 -1.4 0.2 -2 1.9 -5 1.2 -1.8 2 -1.7zM233.7 1159.4l2.6 -0.9 5 0.4 1 0.5 0.8 1 0.3 1 -0.2 2 -1.5 4 -1.6 2 -5.8 3.4 -3 0.6 -4 -2 -0.4 -1 0.2 -2 2.5 -6 1.7 -1.6zM235.4 1159.4l1.9 -0.1 4.3 1.1 0.6 1 0.1 1 -0.6 3 -0.8 2 -1.7 2 -4.9 2.8 -2 0.5 -1 -0.1 -2.8 -2.2 -0.3 -2 0.5 -2 1.9 -4zM235.2 1160.4l2.1 -0.3 3.2 1.3 0.6 2 -0.2 2 -0.8 2 -1.8 2 -4 2.2 -2 0.3 -1.2 -0.5 -1.3 -2 -0.1 -2 0.4 -2 1.2 -2.3zM235.6 1161.4l1.7 -0.3 2.2 1.3 0.5 2 -0.3 2 -1.1 2 -1.4 1 -2.9 1.5 -2 0 -1.1 -1.5 0.3 -4 1.3 -2zM235.3 1163.4l2 -0.7 1 0.7 0.5 3 -0.4 1 -1.1 1.2 -2 1.2 -2 0.4 -0.9 -0.8 0 -2 0.9 -2.2zM235.1 1165.4l1.2 -0.5 1 0.5 0.3 1 -0.3 1 -1 1 -2 0.6 -0.6 -0.6 0.1 -1z" fill="none" stroke="#1c1c1c" stroke-width="1.0"/>
<path d="M119.1 1181.4l1.2 0.1 0.7 0.9 0.5 5 1.5 5 0.3 4 -0.3 4 0.7 4 0.6 8 -1 6 0.2 5 -0.4 4 0.4 5 -0.3 3 1.1 4 -0.2 1 -1.9 3 0.1 1 1.6 3 0 1 -0.6 1.7 -1 1.2 -2 0.9 -1 -0.1 -1 -0.6 -3.2 -5.1 -0.6 -3 -0.2 -6 0.7 -3 -1.4 -4 0.9 -3 -0.3 -4 0.4 -3 -0.5 -3 0.9 -6 -1 -7 0.6 -3 -0.1 -12 1.5 -6 1.3 -1.3z" fill="#000" fill-opacity="0.7" stroke="none"/>
<path d="M112.3 1196.3l0.3 -6.9 0.7 -3 0.2 -4 0.8 -2.3 1 -1.1 2 -1.1 3 -0.8 2 0.6 0.7 0.7 0.8 2 -0.4 5 2.2 9 0.2 2 -0.8 4 1 4 -0.6 17 0.3 4 -0.5 5 0.8 9 -1 4 1.1 4 -0.3 2 -1.8 4M112.3 1203.6l0.4 -2.2 -0.4 -3M112.3 1216l0.6 -3.6 -0.6 -6.8M114.3 1253.4l-0.1 -3 -1.5 -4 -0.4 -5.3M116.9 1253.4l-2.8 -8 -0.6 -8 0.5 -3 -1.2 -4 0.5 -4 -0.1 -8 1.2 -6 -0.9 -8 0.6 -3 -0.5 -4 0.4 -3 -0.2 -4 1.7 -8 1.8 -1.4 3 -1.1 1 0.4 0.5 1.1 0.4 6 1.7 5 0.4 4 -0.6 4 0.8 4 0.4 8 -0.9 7 0.2 5 -0.4 4 0.3 7 0.8 4 -1.7 4 0 1 1.4 3 0 1 -0.7 2 -2.6 3M117.4 1182.4l1.9 -0.7 1 0.3 0.7 1.4 0.3 4 1.3 5 0.1 7 1.4 12 -1.1 7 0.3 5 -0.4 4 0.4 5 -0.5 3 1.2 4 -0.2 1 -1.9 3 0.1 1 1.7 3 0 1 -1.4 2.5 -2 0.7 -2 -1 -1 -1.1 -2.2 -4.1 -0.5 -3 0 -5 0.8 -3 -1.4 -4 1.1 -4 -0.5 -3 0.6 -3 -0.8 -3 0.9 -6 -1 -6 0.5 -4 -0.3 -11 1.4 -6 0.4 -1zM117.7 1183.4l1.6 -0.4 1.1 1.4 0.7 7 -0.9 6 2 4 1.4 10 -0.3 2 -1.3 4 0.7 6 -0.4 4 0.4 5 -1.6 4 1.8 2 0.4 1 -0.3 1 -2.1 3 0 1 1.9 3 0 1 -0.5 1.2 -1 0.5 -2 -0.6 -2 -2 -1.3 -2.1 -0.7 -3 0.5 -3 -0.2 -2 1.2 -3 -1.5 -4 1.3 -4 -0.7 -3 1.2 -3 0 -1 -1.5 -2 -0.3 -1 0.7 -5 -1.1 -6 0.6 -4 -0.4 -10 1.2 -5.5 0.6 -1.5zM118.1 1184.4l1.2 -0.1 0.3 1.1 0.3 7 -0.9 5 0.3 1.2 2.2 2.8 0.1 4 1.3 5 -0.6 2.8 -2 1.2 -0.2 1 0.6 4 1 2 0.4 2 -0.3 3 0.4 6 -0.9 1.9 -1.4 1.1 -0.5 1 0.5 1 2.4 2 -0.3 1 -1.7 2 -0.5 2 0.2 1 1.5 2 -0.2 1.2 -1.1 -0.2 -2.9 -2.7 -1 -1.5 -0.4 -1.8 0.9 -3 0.1 -2 1.2 -2 -1.8 -5 1.1 -4 -0.3 -3 1.9 -4 -2.8 -3 0.5 -5 -1.3 -5 0.7 -5 -0.5 -10 0.7 -3.2zM117.3 1188.4l1 -0.5 0.6 3.5 0 2 -1.2 3 0.2 1 0.8 2 1.9 2 0.4 1 -0.3 3 1.7 5 -0.1 1 -1 1 -2.4 1 -0.6 3.1 -1 -0.3 -0.3 -0.8 0.6 -3 -1.4 -4 -0.3 -2 0.9 -4 -0.2 -4 0.4 -2 -0.8 -3 0 -2zM119.2 1221.4l1.1 -0.4 1.1 1.4 -0.1 4 0.6 5 -0.6 2.1 -1 0.8 -1 0 -1 -1 -1.4 -2.9 1.4 -5 0 -2.8zM118.3 1239.4l1 -0.6 1 0.4 0.3 1.2 -2.3 3.8 -1 -0.1 -0.6 -1.7zM117.1 1192.4l0.2 -0.8 0.4 0.8 -0.4 1.4zM118 1201.4l0.3 -0.4 1 0.4 0.6 1 -0.6 2 2.3 5 -0.3 1.8 -1 0.5 -1 0.1 -1 -0.4 -1.2 -2 -0.7 -2 0.4 -2 1.2 -2zM120.1 1222.4l0.6 1 -0.1 2 0.9 6 -0.2 1.1 -1 1.1 -1.1 -0.2 -1.7 -3 0.3 -2 1.3 -3 0 -2zM117.1 1206.4l1.2 -0.8 1 0.6 1.4 2.2 0.2 1 -0.2 1 -1.4 0.5 -1 -0.5 -1.2 -2zM118.8 1227.4l0.5 -0.9 1 0.2 0.6 1.7 0.2 3 -0.8 1.5 -1 -0.2 -1.4 -2.3 0 -1zM117.6 1207.4l0.7 -0.7 1 0.6 0.6 1.1 0.1 1 -0.7 0.5 -1 -0.5zM118.7 1228.4l0.6 -1 1 0.4 0.5 2.6 -0.5 1.8 -1 -0.2 -1 -1.6zM119.2 1228.4l1.1 0.6 0 2.1 -1 0.2 -0.5 -0.9z" fill="none" stroke="#1c1c1c" stroke-width="1.0"/>
<path d="M161.3 1247.3l-0.8 1.1 0.8 1.1 1 0 0.2 -1.1zM150.2 1253.4l-1.1 -2 -0.1 -1 12.3 -6.6 1.6 0.6 1.5 3 0.9 1 1 0.3 2.2 -0.3 2.8 -2.3 2 -0.1 0.8 0.4 1.5 3 1.6 2 0.3 1 -0.3 1M179.9 1253.4l-0.9 -2 1 -2 1.3 -0.4 2 0.4 0.4 1 -1.9 3" fill="#000" fill-opacity="0.85" stroke="none"/>
<path d="M206.3 1248.4l4 -0.7 5 0 8 1.3 0.9 0.4 0.4 1 -2.2 1 -4.1 0.4 -10 0 -4.3 -1.4 0 -1zM139.4 1253.4l-1.1 -1 -2 -0.6 -5 -0.1 -6 -1.1 -0.3 -0.2 0.3 -0.5 0.8 -0.5 5.2 -1.1 4 -0.2 6 -1.4 2 -0.9 2 -1.7 3 -0.8 2 -1 4 -0.1 4 -2.6 8 -0.3 9 0.8 5 2.2 5 0.3 5 2.4 1.4 1.4 0.3 1 -0.3 1 -1.4 2 0.1 3M207.9 1249.4l3.4 -0.6 4.8 0.6 -5.8 1.2 -2.2 -0.2zM146.9 1253.4l-9 -3 -0.1 -1 7.5 -1.7 4 -0.4 6.2 -2.9 3.8 -2.6 2 -0.4 13 0.9 3 1 3 2.1 5.7 1 1.1 1 0.1 1 -0.4 3 -0.9 2M148.8 1253.4l-1.5 -1.6 -5.2 -1.4 0.9 -1 2.3 -0.5 3 0 1.9 -0.5 7.1 -3.7 2 -1.5 2 -0.7 2 0.2 1.5 0.7 0.7 2 0.8 0.9 1 0.1 3 -2.4 2 -0.1 3.1 0.5 1.7 1 1.2 1.3 6 1 1 0.7 0.4 1 -0.4 1.9 -1.3 2.1M149.9 1253.4l-1.4 -3 12.8 -7 1 0.2 1 0.7 1.6 3.1 1.4 1 2 -0.4 2 -1.8 2 -0.7 1 0.1 1.4 0.8 0.7 2 1.9 2.5 1 0.2 1.1 -1.7 0.9 -0.6 3 0.1 0.7 0.5 0.2 1 -1.8 3M151.3 1253.4l-1.3 -2 0.2 -1 2.1 -1.5 5 -1.8 1 0 1.4 2.3 1.6 1.2 1 0.3 2 -1.1 4.5 -0.4 3.5 -2.3 1.1 0.3 2.4 4 -0.1 2M173.6 1253.4l-2.3 -1.4 -1 0 -1.1 1.4M172.2 1249.4l1.1 0.7 0 0.6 -1.3 -0.3zM155 1253.4l-0.7 -0.9 -2 -0.2 -1 -0.9 0.2 -1 1.8 -1 1 0 1 0.7 1 0 1 -0.6 1 0.1 4 2.4 3 -1.4 2 0 1.5 0.8 -0.3 2M156.3 1253.4l0.8 -2 1.2 -0.6 2 0.8 1.9 1.8M162.4 1253.4l2.7 -2 1.2 -0.2 1 0.3 0.6 0.9 0 1M157 1253.4l0.4 -1 0.9 -0.8 1 0.1 1 0.7 0.7 1M163.9 1253.4l1.4 -1.5 1 -0.1 0.8 0.6 0.3 1M157.7 1253.4l0.6 -1 1 -0.1 0.9 1.1M164.8 1253.4l0.5 -0.6 1 -0.1 0.4 0.7" fill="none" stroke="#1c1c1c" stroke-width="1.0"/>
<path d="M269.4 1219h.9M195.9 1174.6h.9M173.6 1171h.9M228 1215.9h.9M293.5 1248.4h.9M238.1 1187.3h.9M228.1 1225.9h.9M294.6 1206.9h.9" fill="none" stroke="#222" stroke-width="1.0"/>
</g>
<ellipse cx="198" cy="1163" rx="3.4" ry="2.4" fill="none" stroke="#000" stroke-width="0.8"/>
<ellipse cx="215" cy="1222.5" rx="3.6" ry="2.4" fill="none" stroke="#000" stroke-width="0.8"/>
<rect x="198.1" y="1109" width="102.7" height="69.4" fill="none" stroke="#000" stroke-width="2.2"/>
<rect x="198.1" y="1180.4" width="102.7" height="70.2" fill="none" stroke="#000" stroke-width="2.2"/>
<text x="274.5" y="1134" font-size="27.5" font-weight="bold" font-style="normal" text-anchor="middle">14</text>
<text x="277.6" y="1205" font-size="27.5" font-weight="bold" font-style="normal" text-anchor="middle">6.8</text>
<g clip-path="url(#cC01)">
<path d="M362.3 1174.4l2.9 -0.3 3 0.2 13 2.5 3 1 9 5.2 6 4.9 5 2.7 3 2.2 4.8 5.6 1.7 3 0.7 2 0.3 3 -0.3 3 -2.6 8 -2.6 4.3 -7 6.3 -6.4 2.4 -2.7 2 -3.9 3.9 -2 1.3 -7 3.3 -8 3 -5 1.2 -17 1.8 -12 3 -4 -0.1 -6 -1.6 -3 -2.3 -2.6 -3.5 -1.2 -3 -0.4 -3 0.6 -7 1.4 -7 -0.4 -7 0.1 -4 3.1 -21 1.9 -3 2.5 -2.3 3 -2 5 -2.4 10 -4.1 7 -0.7zM363.1 1180.4l6.1 -0.8 12 2.3 9.5 5.5 10.1 8 2.9 3 0.9 2 0.8 3 0.1 2 -0.9 4 0.1 5 -0.7 2 -2.8 3.8 -2 2 -9 6 -5 4.4 -5 2.9 -9 3.7 -2 0.4 -5 0 -9 1 -19 5.3 -3 -0.1 -3 -1.1 -2 -1.5 -2 -3 -1.5 -3.8 -0.3 -3 0.7 -4 2.2 -5 0.5 -2 -0.2 -7 0.4 -7 1.6 -7 0.3 -7 0.9 -3 2 -3 2.4 -2 7 -2.3 5 -2.2 4 -0.6zM353.7 1183.4l3.5 -0.2 5 0.7 7 -0.9 4 0.4 8 2.2 8 4.5 5.8 4.3 2.4 3 0.7 4 1.1 4 -0.7 9 -1.3 2.2 -5 3.8 -3.3 4 -2.7 2.6 -5 4 -3 1.7 -8 2.6 -7 0.3 -12 2.7 -8 3.2 -7 1.6 -2 -0.1 -2.6 -1.6 -2.6 -3 -1.7 -3 -0.5 -3 0.7 -3 2.2 -4 1 -3 0.2 -13 1.4 -8 0.4 -7 2.4 -4 2.1 -1.7 11 -4.2zM353.6 1185.4l2.6 -0.3 6 0.8 8 -0.3 4 0.4 5 1.7 8 3.9 5 3.7 1.3 2.1 -0.1 4 2 6 -0.4 3 -1 2 -3.8 4.5 -3.6 6.5 -4.4 4.1 -4 2.8 -8 2.4 -6 -0.1 -12 2.7 -3 1.1 -4 2.5 -2 0.8 -4 0.5 -3 -0.2 -2 -1.2 -4 -4.4 -0.9 -3 0.6 -2 2.3 -4.1 0.8 -2.9 0.6 -17 1.3 -10 1.3 -2.4 2 -1.7 9 -4zM354.6 1187.4l2.6 -0.3 16 0.8 4 1.2 8 3.7 3.6 2.6 1.4 2 0.2 4 2.3 5 0.1 3 -3.9 6 -3.6 7 -7.1 6 -3 1.3 -4 0.8 -6 -0.1 -5 1.1 -5 0.6 -6 2 -6 3.8 -3 0.1 -2.8 -1.6 -3.7 -4 -0.9 -2 2.1 -6 0.1 -8 0.6 -6 -0.1 -6 1.7 -8 1 -1.8 1 -0.9 5 -2.8 2 -0.9 5 -1.2zM356.1 1189.4l3.1 -0.5 12 0.5 6 1.4 5.5 2.6 3 2 1.8 2 1.2 5 2.1 4 0.3 1 -0.2 2 -3.1 5 -3.5 7 -5.1 4.6 -2 1.3 -3 0.9 -7 0.3 -7 1.5 -5 0 -6 2 -6 3.8 -2 0.1 -2.2 -1.5 -1.4 -3 0.5 -4 -1.5 -10 0.7 -7 -0.1 -5 0.4 -2 2.6 -7 2.2 -2 3.8 -2.3 6 -1.1zM356.5 1191.4l1.7 -0.7 2 -0.2 10 0.5 7 1.3 3 1.3 3.8 2.8 1.7 2 1.6 5 2.1 4 -0.2 2 -5.1 10 -1.9 2.1 -5 4 -3 0.9 -6 0.2 -7 2.1 -6.3 -0.3 -6.7 2.1 -4 2.2 -2 0.3 -0.9 -0.6 -0.4 -1 0.2 -5 -2.3 -6 -0.6 -3 0.7 -11 0.5 -2 3.5 -7 2.3 -2.5 3 -1.5 5 -0.8zM358.3 1192.4l1.9 -0.3 5 0.6 5 0 7 0.9 2 0.8 2.4 2 2.3 3 1.4 4 2.3 4 -0.1 2 -4.3 9.1 -5 4.5 -2 1.2 -2 0.4 -5 0 -8 3 -6 -0.7 -5 1.3 -5 0.5 -1 -0.8 -4.4 -10.5 -0.1 -2 1.1 -10 4.4 -7.3 2 -2.2 2 -1 5 -0.8zM357.2 1194.4l3 -0.9 5 0.7 5 0 7 0.8 2.4 1.4 2 3 1.6 4.5 2.4 4.5 -2.1 7 -1.9 3 -5.4 4.1 -2 0.3 -3 -0.5 -2 0.3 -4.6 2.8 -2.4 1 -2 0.2 -5 -1.1 -6 1.2 -1.4 -0.3 -1.5 -1 -4.1 -6.4 -1.1 -2.6 0.7 -5 0 -4 0.5 -2 2.9 -4.4 3 -3.2 2 -1.1 4 -0.8zM358.4 1195.4l2.8 -0.5 8 0.6 7 0.7 2 1 1.3 2.2 3.9 10 -0.8 5 -1.9 3 -4.5 3.4 -2 0.2 -3 -0.8 -2 0.3 -2 1.2 -3 2.7 -3 1.2 -2 -0.2 -4 -1.2 -5 0.7 -2 -1.3 -4 -4.7 -1.4 -2.5 0.5 -5 -0.1 -4 0.5 -2 1.5 -2.4 2 -2.1 2 -1 4 -1.1zM360.2 1196.4l9 0.4 6 1.1 1.3 0.5 1.5 2 2.7 6 1 4 -0.3 3 -0.9 2 -3.3 3.3 -2 0.8 -4 -0.7 -3 0.5 -2 1.2 -3 3.1 -2 0.8 -2 -0.2 -4 -1.4 -4 -0.2 -5.5 -5.2 -1 -2 0.5 -4 -0.4 -5 1.4 -2.7 2 -1.5 5 -1.3 5 -3.7zM360 1198.4l8.2 -0.4 6 1.4 2 1.3 2.9 4.7 1.1 4 -0.4 4 -1.8 3 -2.8 1.7 -5 -0.4 -3 0.7 -2 1 -3 2.9 -1 0.5 -1 0.1 -7 -1.6 -2 -1.1 -2.5 -2.8 -1.2 -2 0.3 -5 -0.8 -3 0.2 -2 1.1 -1 3.9 -1.1 5 -3.7zM365.2 1199.4l3 0.1 5 1.2 2 1 1 1 1.8 2.7 0.9 3 -0.1 3 -0.9 3 -1.7 1.9 -1 0.5 -5 0 -3.5 0.6 -2.5 0.9 -4 2.6 -6 -0.6 -2 -0.9 -2.3 -3 -0.4 -2 1 -4 2.1 -5 2.6 -3 2 -1.4zM364 1201.4l3.2 -0.4 5 0.8 2 0.8 1.1 0.8 1.9 2.7 0.5 2.3 -0.3 3 -1.1 3 -2.1 1.4 -5 0.3 -5 0.8 -5 2.3 -4 0.1 -2 -0.6 -1.9 -2.3 -0.3 -2 2.3 -5 1.6 -5 1.3 -1.5 2 -1 4 -0.1zM357.5 1203.4l1.7 -0.3 4 0.9 4 -1 4 0 2 0.4 2 1.6 1.2 2.4 -0.1 3 -1 3 -1 1 -1.1 0.4 -9 0.9 -7 2.4 -3 -0.2 -1.5 -1.5 -0.2 -2 2.4 -4 0.9 -5 0.5 -1zM358 1205.4l1.4 0 1.5 3 2.3 1.1 1 -0.1 1.8 -1 3.2 -3.5 2 -0.5 2 0.6 1 0.8 0.8 1.6 0.1 2 -0.9 3 -1 1.1 -2 0.6 -8 0.3 -5 2 -3 0.2 -1 -1.2 0.2 -1 2.5 -4zM369.7 1207.4l1.5 -0.9 1 0.2 0.7 0.7 0.4 1 0 2 -1 2 -2.1 0.8 -2 0.2 -2.8 -1 0.1 -1zM359 1212.4l1.2 -0.3 0.3 0.3 -1.3 0.9z" fill="none" stroke="#1c1c1c" stroke-width="0.9"/>
<path d="M309.2 1199.1l2.3 -6.7 1.8 -4 -0.9 -7 0.7 -2 1.1 -0.4 0.4 0.4 1.4 4 2.9 3 0.1 3 1 5 -0.1 5 0.6 4 -0.4 4 -1.5 3 0 1 1.4 3 -0.2 4 1.5 3 -2.8 9 1.9 4 0.4 2 0 8 -1.7 3 0.7 3 -0.2 3M310.4 1253.4l0.6 -4 -0.3 -7 -1 -4 1.8 -4 0.2 -2 -2.4 -5 1.2 -9 -0.2 -7 0.6 -4 -1.7 -4.4" fill="#000" fill-opacity="0.75" stroke="none"/>
<path d="M309.2 1193.3l0.9 -4.9 -0.2 -8 0.3 -2 1.4 -2 4.6 -3.8 2 0.5 1.2 1.3 0.7 2 -0.4 4 3.2 7 -0.7 10 0.7 4 -0.4 5 0.5 6 -0.2 4 0.8 6 -1.9 7 0.2 2 1 3 0.1 11 -1.2 8M309.2 1235.2l0.4 -1.8 -0.4 -1.6M309.2 1197.2l3.1 -8.8 -0.8 -7 0.3 -2 0.8 -1 1.6 -1.2 1 -0.2 0.9 0.4 0.8 5 2.3 2.2 1.1 1.8 -0.2 3 0.7 5 -0.2 4 0.6 5 -0.5 5 -0.6 2 0.8 3 0 4 1.3 4 -2.4 8 0.2 2 1.3 3 0.2 2 0 8 -0.8 3 -0.5 6M309.2 1222.2l0.5 -3.8 -0.2 -8 0.4 -3 -0.7 -2.4M309.2 1237.9l1.9 -4.5 -0.5 -2 -1.4 -2.5M309.7 1253.4l0.7 -4 -0.5 -7 -0.7 -2.4M310.6 1253.4l0.7 -4 -0.3 -7 -1 -4 1.7 -4 0.3 -2 -2.5 -5 1.2 -9 -0.1 -8 0.7 -3 -1.8 -4 -0.3 -3 2.5 -8 2 -4 0 -2 -0.9 -5 0.4 -1.3 1 -0.1 1.3 3.4 2.9 3 0.2 3 1.1 5 -0.1 5 0.7 4 -0.2 3 -0.6 2 -1.4 2 0 1 1.6 3 -0.5 4 1.6 3 -3 9 2.2 4 0.6 2 -0.1 8 -1.8 3 0.9 3 -0.2 3M311.2 1253.4l0.9 -4 -0.4 -4 0.2 -4 -1 -3 2.1 -6 -0.3 -1 -2.1 -3 -0.4 -2 1.3 -7 -0.3 -4 0.2 -4 1.2 -4 -0.2 -1 -2.1 -3 -0.4 -3 2.5 -8 3.8 -5.1 1 1.5 1.3 3.6 0.4 4 -0.2 3 0.9 5 -0.4 3 -2.2 3 0 1 1.9 3 -0.2 2 -0.9 3 1.3 3 -0.4 3 -0.6 2 -2.7 3 -0.2 1 3 2.2 1.5 2.8 -0.1 4 0.3 3 -0.3 1 -2 2 -0.1 1 1.2 3 -0.1 3M315.3 1190.4l0.9 -0.2 1 0.9 0.5 1.3 0.5 4 -0.2 4 1 5 -0.4 2 -2.6 3 0.1 1 2.1 3 -0.1 2 -1.5 3 0 1 1.3 3 -0.2 3 -1.4 2 -2.1 1.8 -1 0.2 -1.3 -1 -0.9 -2 1.2 -8 -0.6 -5 0.6 -2.9 1.5 -3.1 0 -1 -0.5 -1.5 -2.5 -3.5 -0.2 -2 2.1 -7 0.6 -1.1zM311.8 1253.4l1.1 -3 0 -1 -0.5 -4 0.5 -5 -1 -2 -0.1 -1 1.4 -3.4 1 -0.9 1 0 2 0.9 1.2 1.4 0.6 2 -0.2 3 0.4 3 -2 2 -0.7 2 1.5 4 -0.4 2M314.1 1192.4l1.1 -0.6 1 0 0.9 1.6 0.6 3 -0.3 5 1.1 4 -0.5 2 -1.8 1.6 -1 0.1 -1.3 -3.7 -2.3 -3 -0.4 -1 1.7 -7zM313.3 1211.4l0.9 -0.7 1 0.8 2 2.2 0.6 1.7 -2.3 5 0.1 1 1.5 3 -0.1 2 -1.8 2.1 -2 1 -1 -0.8 -0.5 -1.3 1.3 -3 -0.1 -5 -0.9 -4 0.3 -2zM312.5 1253.4l1.9 -3 -1.2 -4 -0.1 -2 1 -4 -1.6 -3 0.7 -2.3 1 -1 1 0 2 1.2 1 2.1 -0.5 3 0.6 2 0 1 -2.2 2 -0.5 1 0 3 0.9 2 -0.5 2M314.3 1193.4l0.9 -0.3 1 0.5 1 2.8 -0.6 6 1 2 0.3 2 -0.7 1.2 -1 0.5 -0.9 -0.7 -0.8 -3 -2.4 -3 1 -6zM313.8 1212.4l0.4 -0.2 2 1.1 0.9 1.1 0.2 1 -0.9 2 -2.2 2.5 -1.3 -2.5 -0.5 -2 0.5 -2zM313.9 1225.4l1.3 -0.9 1 0.6 0 1.3 -2 1.9 -1 0.2 -0.6 -1.1zM313.9 1235.4l1.3 -0.4 0.9 0.4 0.7 1 0.2 1 -0.8 1.5 -1 0.1 -1.9 -1.6 0 -1zM314.4 1242.4l0.8 -0.8 1 0 0.7 0.8 -0.1 1 -1.6 1.5 -1 0.1 -0.2 -1.6zM314.6 1194.4l0.6 -0.2 1 0.9 0.6 2.3 -1.2 4 -0.4 0.8 -1 0 -1 -1 -0.2 -1.8 0.8 -4zM316 1205.4l0.2 -0.5 0.8 0.5 0.2 1 -1 0.4zM313.6 1213.4l0.6 -0.4 1 0.2 1.4 1.2 0.3 1 -0.7 1.6 -1 1 -1 0.3 -1 -1.2 -0.4 -1.7zM314.9 1195.4l0.3 -0.1 1 1.1 0.1 2 -1.1 2.2 -1 0 -0.4 -1.2 0.1 -2 0.3 -1.4zM313.5 1214.4l0.7 -0.7 1 0.1 0.8 0.6 0.4 1 -0.3 1 -0.9 1 -1 0.1 -0.9 -1.1 -0.1 -1zM314.8 1197.4l0.4 -0.8 0.3 0.8 -0.3 1.6 -0.5 -0.6zM314.1 1214.4l1.1 -0.1 0.7 1.1 -0.7 1.3 -1 0.1 -0.3 -0.4 -0.2 -1z" fill="none" stroke="#1c1c1c" stroke-width="1.0"/>
<path d="M346.2 1246.4l2 -0.5 5 -0.2 5 0.6 3 -0.6 9 -0.2 5 0.3 5.2 1.6 -0.3 1 -4.9 1.8 -14 -0.1 -4 -0.8 -7 1.1 -5.5 -1 -0.8 -1 0.4 -1z" fill="#000" fill-opacity="0.85" stroke="none"/>
<path d="M347.9 1244.4l5.3 -0.4 11 0.1 4 -0.3 10 0.7 7 1.5 1.8 1.4 0.1 1 -0.9 1 -2 0.9 -9 1.5 -5 -0.4 -4 0.4 -21 0 -7 -2.1 -1.3 -1.3 0.2 -1 1.5 -1zM347.8 1245.4l5.4 -0.4 5 0.3 11 -0.4 6 0.4 6.1 1.1 2.3 1 0.1 1 -8.5 2.4 -5 -0.3 -9 0.3 -4 -0.5 -5 0.7 -3 -0.1 -5 -0.7 -1.2 -0.8 -0.5 -1 0.3 -1 1.4 -1zM346.2 1246.4l2 -0.5 5 -0.2 5 0.6 3 -0.6 9 -0.2 5 0.3 5.2 1.6 -0.3 1 -4.9 1.8 -14 -0.1 -4 -0.8 -7 1.1 -5.5 -1 -0.8 -1 0.4 -1zM348.9 1246.4l5.3 0 2.6 1 -0.8 1 -2.9 1 -1.9 0.5 -2 0 -2.1 -0.5 -2 -1 0.5 -1zM360.6 1246.4l12.6 -0.4 2.3 0.4 2.2 1 -0.2 1 -1.5 1 -1.8 0.5 -5 -0.5 -8 0.2 -2.4 -1.2 -0.1 -1zM370.1 1246.4l4.1 0.1 2.2 0.9 0 1 -2.2 1.2 -6 -0.8 -6 0.3 -1.9 -0.7 0 -1 1.9 -0.8 5 0.4zM347.1 1247.4l3.1 -0.5 3.4 0.5 -0.4 1 -1.9 1 -1.1 0.1 -3.5 -1.1zM361.6 1247.4l2.8 0 -0.7 1 -1.5 0.1 -0.3 -0.1zM368.7 1247.4l2.5 -0.7 2 0 2.3 0.7 0.2 1 -1.5 0.8 -2 0 -2.9 -0.8zM348.4 1248.4l0.8 -0.8 1 -0.1 1.3 0.9 -1.3 0.4zM370.2 1247.4l2 -0.5 2 0.2 0.6 0.3 0.2 1 -0.8 0.4 -2 0.1 -1.6 -0.5zM371.5 1247.4l2.4 0 0.4 1 -1.1 0.3 -1.5 -0.3z" fill="none" stroke="#1c1c1c" stroke-width="1.0"/>
<path d="M486 1248.9h.9M410.5 1226.2h.9M451.8 1239.8h.9M456.6 1215.6h.9M428.7 1202.6h.9M423.5 1217.7h.9M440.8 1217.5h.9M441 1216.9h.9M453.6 1202h.9M420.9 1221.7h.9M446.9 1215.1h.9M410 1222.1h.9M448 1225.7h.9M451.3 1232.9h.9M427.2 1242.4h.9M408.4 1248.1h.9M416.6 1219.7h.9M438.5 1233.6h.9M416.7 1209.5h.9M422.9 1227.2h.9M432.5 1228.3h.9M399.6 1236.7h.9M384.9 1240.5h.9M456.5 1225.5h.9M431.9 1188.4h.9M420 1236.8h.9M406.9 1233h.9M455.1 1221.1h.9M414.7 1208.3h.9M429.9 1224.1h.9M440.5 1223.9h.9M467.5 1199.5h.9M452.5 1209.9h.9M421.8 1232.4h.9M431.5 1221.4h.9M476.4 1191.2h.9M423 1220.6h.9M455.5 1248.4h.9M417.3 1183.8h.9M420.6 1226.1h.9M445.7 1235.9h.9M422.9 1214.7h.9M447.2 1222.8h.9M407.9 1223.8h.9M408.5 1237.9h.9M430.4 1226.3h.9M414.9 1229.1h.9M447.1 1227.8h.9M394.6 1169.5h.9M434.4 1232h.9M455.6 1224.7h.9M408.2 1231.7h.9M481.8 1221h.9M396.2 1245.9h.9M441.1 1226.5h.9M435.3 1239.2h.9M467.2 1222.9h.9M440.2 1211h.9M419.6 1198.2h.9M441.5 1246.4h.9M431 1209.5h.9M477.9 1217.2h.9M413.1 1196.6h.9M447.8 1201.1h.9M420.2 1222h.9M452.4 1207.3h.9M435.1 1188.2h.9M426.5 1221.7h.9M414.4 1245.3h.9M417.1 1228.4h.9M437.5 1213.8h.9M432.3 1205h.9M426.5 1202.6h.9M443 1220.5h.9M426.4 1201.8h.9M451.5 1210.4h.9M395.1 1238.8h.9M443.4 1222.4h.9M425.3 1176.5h.9M423.4 1237.4h.9M398.6 1231.3h.9M422.2 1202h.9M453.4 1204.4h.9M430.2 1227.5h.9M432 1199.3h.9M428.2 1248.2h.9M436.9 1252.1h.9M411.1 1221.3h.9M428.8 1213.5h.9M412.9 1226.5h.9M380.9 1241.5h.9M430.8 1221.2h.9M420.1 1220.4h.9M431.2 1217.6h.9M399.6 1230.2h.9M403.6 1227.2h.9M426.2 1228.9h.9M479.8 1159.9h.9M403 1166.6h.9M391.2 1171.3h.9M416.4 1155.2h.9M388.6 1162h.9M417.3 1147.3h.9M401.3 1187.2h.9M415.5 1127.2h.9M416 1158.1h.9M421.1 1179h.9M414.6 1150.6h.9M314.8 1183.4h.9M336.3 1181.2h.9M348 1174.3h.9M352.8 1174h.9M360.4 1167.9h.9M342.7 1149.4h.9" fill="none" stroke="#222" stroke-width="1.0"/>
</g>
<ellipse cx="407.9" cy="1145" rx="3.2" ry="2.6" fill="none" stroke="#000" stroke-width="0.8"/>
<rect x="392.2" y="1108.5" width="102.4" height="69.9" fill="none" stroke="#000" stroke-width="2.2"/>
<rect x="392.2" y="1180.8" width="102.4" height="69.2" fill="none" stroke="#000" stroke-width="2.2"/>
<text x="458.6" y="1133.1" font-size="27.5" font-weight="bold" font-style="normal" text-anchor="middle">1.2</text>
<text x="457.5" y="1205" font-size="27.5" font-weight="bold" font-style="normal" text-anchor="middle">3.5</text>
<g clip-path="url(#cC10)">
<path d="M170.9 1373.8l4.4 -0.9 9 0 4 0.5 16 4.8 7 3.6 2.7 1 11.3 2.8 6 0.7 9 1.9 14 3.8 3 1.3 8 4.3 3 2.2 5.7 6 2.2 3 1.1 3 -0.1 5 -0.8 3 -2.1 5 -1.4 2 -3.1 3 -4.5 3.2 -7 2.4 -8 1.8 -25 0.4 -9 -1.7 -6 -1.5 -8 0 -8 1 -9 2.8 -11 2.5 -4 0.4 -12 -0.2 -15 3.3 -3 0.1 -7 -0.7 -4 -1.3 -4 -3 -2.9 -3.5 -1.7 -4 -0.7 -4 2.1 -20 1.7 -5 3.3 -6 2.2 -3 2.2 -2 9.8 -6.4 19 -8.4zM177.5 1376.8l8.8 0.1 11 2.9 6 2.8 7 4 10 4.6 9 0.3 5 1.4 5 0.6 4.4 1.3 5.6 1 7 2.5 7 4.2 2.8 2.3 1.6 2 2 4 1.2 4 0.1 2 -0.6 2 -3.7 6 -1.4 1.7 -1.8 1.3 -6.2 2.7 -9 2.3 -3 0.1 -6 -0.4 -5 0.5 -8 -0.5 -8 -0.9 -7 -2.8 -6 -0.2 -7 -1 -3 0.5 -5 1.7 -6 2.8 -10 2.7 -14 -0.4 -3 0.9 -3.4 2 -2.6 0.8 -14 1.3 -3 -0.2 -2 -0.6 -3 -1.8 -2.3 -2.5 -2 -4 -0.7 -4 2 -11 0.8 -8 1.7 -4 3.5 -6 4 -3.9 6 -3.6 9.7 -3.5 10.3 -5.5 12 -3.9zM176 1379.8l4.3 -0.6 5 -0.1 3 0.4 9 2.9 16 10.2 3 1.4 4 0.9 7 0.1 6 1.2 5 0.3 6 1.8 5 0.9 6 2.2 3.8 2.4 5.5 5 0.9 2 0.7 4 0.1 2 -0.6 2 -2.7 5 -2.4 2 -3.3 1.4 -10 2.8 -8 -0.3 -5 0.4 -7 -1.8 -7 0.4 -2 -0.5 -7 -2.8 -10 -1.6 -7 0.8 -10 4.4 -9 2.5 -12 -0.4 -4 0.7 -3 1.1 -4 2.6 -2 0.7 -7 -0.4 -7 0.7 -3 -0.5 -2 -1.1 -1.9 -2.1 -1.5 -3 -0.4 -2 2.6 -19 1.5 -4 2.3 -4 4.9 -5 5.5 -3.6 8.3 -2.4 3.7 -1.9 5 -3.6 2 -0.9zM176.5 1381.8l2.8 -0.6 8 0 7 2 2.7 1.6 8.3 7.3 5.3 3.7 2.7 1.3 3 0.6 11 0.1 6 1.4 5 0 6 2.3 5 0.8 5 1.8 3.3 2.7 3.4 5 0.6 5 -0.9 4 -0.7 1 -1.7 1.3 -4 1.1 -6 2.7 -4 0.5 -6 -0.7 -4 0.1 -6 -1.5 -6 0.6 -2 -0.2 -14 -4.9 -3 -0.7 -2 0.1 -8 2.3 -7 3.4 -11 3.1 -2 0.1 -10 -0.9 -7.7 2.6 -6.3 2.8 -4 -0.4 -6 0.2 -4 -0.5 -2 -0.7 -2 -1.8 -0.8 -2.6 1.3 -11 0 -5 1.1 -4 2 -4 1.4 -1.9 6.1 -6.1 2.9 -1.8 5 -1.1 2.8 -1.1 4.2 -2.2 4 -3.2 2 -1.1 6 -1.9zM179.6 1382.8l8.7 0.5 4.7 1.5 6.7 6 4.6 5.4 5.4 2.6 4.6 1.6 4 0.9 5 -0.8 3 0.1 6 2.4 6 -1 2 0.8 3 2.3 1 0.4 4 -0.6 4 1 3 2.1 2 2.8 0.8 3 -0.1 2 -0.7 2 -1 1.1 -7 4.5 -4 1.1 -3 0.3 -5 -0.8 -8 -0.7 -8 0 -10 -3.4 -6 -2.8 -5 -0.1 -3 0.4 -2 0.8 -5.1 3.6 -3.9 2.1 -11 3 -2 0.3 -10 -1.1 -6 2.4 -6 1.5 -5 0.2 -4 0.9 -3.1 -0.3 -3.2 -2 -0.7 -1 -1.5 -15 0.6 -3 3.8 -7 7.1 -6.8 6 -1.5 6 -2.8 6.6 -4.9 4.4 -1.4 6 -1.1zM177.4 1384.8l1.9 -0.6 3 0 7.1 1.6 2.9 1.5 6.5 5.5 3.3 7 4.8 4 1 4 0.4 0.9 1 0.7 2 -0.4 4 -2.3 7.7 -1.9 1.3 0 3 1.7 1 0.2 10 -1.6 2 1.2 3 3.3 1 0.1 4 -2.4 2 0 1.3 0.5 2.6 2 1.1 1.5 0.5 1.5 -0.1 2 -1.4 2.1 -4.8 3.9 -6.2 1.7 -2 0.1 -8 -1.7 -12 -0.8 -4 -2.6 -3 -0.2 -2 -0.6 -4 -4.3 -2 -0.2 -11 2.7 -3.4 1.9 -3.1 3 -2.9 2 -2.6 1.2 -8 2.4 -3 0.2 -9 -1.1 -8 2.9 -3 0.1 -5 -0.8 -5 1.6 -1 -0.1 -0.6 -0.4 -0.5 -1 0 -5 -2.9 -4.7 -1.2 -4.3 0.4 -2 2.5 -6 1.3 -1.9 5.5 -5.1 5.5 -1.6 7.8 -3.4 5.2 -4.4 3 -1.1 7 -1.4zM178.4 1385.8l1.9 -0.4 2 0.2 7 2.7 7.3 5.5 1.2 2 1.5 5.6 3.3 4.4 -0.1 2 -1.8 2 -10.4 5.6 -8.3 6.4 -5.7 2 -3 0.6 -5 -0.4 -5 -0.9 -2 0.4 -4 1.8 -2 0.3 -2 -0.2 -6 -2.6 -1.2 -1 -2 -3 -4 -3 -0.8 -1.2 -0.5 -1.8 1.6 -7 1.2 -2 3.7 -3.4 2 -1.1 3 -0.9 5 -2.4 4 -1.3 2 -1.4 3 -2.9 2 -1.1 8 -1.8zM235.1 1407.8l2.2 -0.2 2.1 1.2 0.8 2 -0.2 4 0.3 0.5 1 0.3 1 -0.5 7 -5.3 1 0.1 1.4 0.9 0.8 1 0.2 2 -2.6 4 -1.8 1.3 -2 0.5 -5 0.1 -2.2 -0.9 -2.3 -3 -4.4 -4 -0.4 -1 0.2 -1 0.9 -1zM179.4 1386.8l2.9 0.3 7 3.5 5.4 5.2 0.9 2 1.4 9 -1 3 -2.3 2 -8.4 4.7 -4.4 4.3 -3.6 1.5 -4 0.9 -5 -0.2 -5 -1.2 -2 0.2 -4 1.3 -3 -0.3 -2.3 -1.2 -3.3 -3 -5.4 -3.4 -1.7 -1.6 -0.6 -3 0.9 -4 1 -2 2.4 -2.2 2 -1 4 -1 4.1 -2.8 4.9 -2 6 -4.8 7 -1.8zM177.3 1388.8l2 -0.7 2 0.2 4 3.1 4 1.9 1.7 1.5 1.3 1.8 0.9 3.2 0.5 8 -0.6 2 -1.8 1.6 -7 3.8 -4 4.6 -4 1.8 -4 0.7 -4 -0.3 -5 -1.4 -5 0.4 -2 -0.2 -2.3 -1 -3.7 -3.6 -4 -1.1 -2 -1.2 -0.9 -1.1 -0.5 -2 0.4 -2.3 1.2 -2.7 1.8 -1.6 6 -1.2 4 -4 5 -2.5 5 -3.8 7 -2.1zM178 1389.8l2.3 -0.2 1.8 1.2 1.3 2 1.9 4.3 2 -0.6 1 0.2 0.9 1.1 0.1 1 -1 1.3 -1.3 0.7 -0.4 1 0.8 2 2.1 2 1.2 2 0 1 -0.6 1 -6.5 4 -4.3 5.4 -4 1.7 -4 0.4 -3 -0.3 -5 -1.6 -6 -0.3 -2.5 -1.3 -3.5 -3.7 -4 -1.1 -1.5 -1.2 -0.3 -1 0.3 -2 1.5 -2.6 1 -0.5 3 -0.4 2 -0.8 4 -4.7 5 -2.6 4 -3.1 7 -2.1zM176.6 1391.8l2.7 -0.7 1 0.4 1.1 1.3 0.2 1 -0.5 3 0.2 1.7 3 5.3 3 4 0 1 -0.7 1 -4.3 3 -2.3 4 -1.7 1.8 -4 1.6 -3 0.2 -3 -0.4 -5 -1.7 -6 -0.9 -2 -1.3 -5.5 -6.3 -0.1 -1 0.6 -0.8 4 -2.4 2.5 -3.8 1.5 -1.5 4 -1.8 5 -3.5 6 -1.5zM176.9 1393.8l1.4 -0.4 0.6 0.4 -0.3 4 3.5 5 1.9 5 -0.4 1 -2.8 3 -2.5 5.3 -3 1.8 -4 0.5 -3 -0.6 -5 -1.8 -5 -0.9 -2 -1 -2.3 -3.3 -0.5 -2 0.2 -1 4.3 -7 1.3 -1 4 -1.4 4 -3 7 -0.9zM168.7 1397.8l1.6 0.1 4 2.2 4 0.6 2 1.6 1.2 2.5 0.3 2 -0.3 1 -2.7 4 -1.2 4 -0.7 1 -1.6 1 -4 0.5 -8 -2.9 -5 -0.7 -1.4 -0.9 -1.4 -2 -0.3 -2 0.2 -1 3.1 -6 1.8 -1.3 2 -0.1 2 0.4 1 -0.5 1.5 -2.5zM169 1400.8l1.3 -0.2 3 1.3 5 0.6 1 0.8 0.8 1.5 0.1 1 -0.5 2 -2.8 4 -1.3 4 -1.3 1 -2 0.3 -1.4 -0.3 -5.6 -3.9 -4 0.7 -2 0 -1.5 -0.8 -1.1 -2 0.5 -3 2.2 -4 0.9 -0.6 1 0.1 2 1.9 1 0.3 2 -1.2zM168.9 1403.8l1.4 -0.8 1 0.1 6 1 1 0.8 0.3 0.9 -0.5 2 -3.4 4 -1.4 2.4 -1 0.4 -1 -0.6 -5.6 -5.2 0.7 -2zM159.2 1407.8l1.1 -0.7 1 0.5 1.2 1.2 0.2 1 -1.4 1.9 -2 0.1 -1 -1 0 -1.4zM169.2 1405.8l1.1 -0.7 2 0 3.4 0.7 0.7 1 -0.3 1 -1.8 2 -2 0.9 -1 -0.2 -2.7 -1.7 -0.4 -1z" fill="none" stroke="#1c1c1c" stroke-width="0.9"/>
<path d="M116 1449.8l-0.1 -2 -0.9 -3 0 -4 -0.9 -3 0.8 -10 -0.6 -5 -0.2 -8 0.3 -3 -0.8 -5 0.2 -2 1.7 -5 -0.7 -4 0.1 -3 0.4 -0.9 1.4 -1.1 -1.4 -2.9 -0.1 -1.1 1.3 -4 0.1 -2 0.7 -1.3 1 0.4 1.9 2.9 -0.1 3 0.3 1 1.7 2 0.4 1 0.2 4 0.8 3 -1.5 4 0.8 7 0.9 3 -0.3 3 0.6 4 -1.2 5 -0.3 7 1.4 4 0 1 -1.4 3 -0.5 2 1 5 -1.3 5" fill="#000" fill-opacity="0.7" stroke="none"/>
<path d="M112.3 1390.9l1.4 -7.1 0.5 -5 2.1 -5 1 -1.3 2 -0.9 1.4 0.2 0.4 1 -0.3 4 3.6 7 1 13 -0.2 4 0.7 3 -0.8 3 0.7 4 -0.4 3 0.6 4 -1.7 9 0 3 1.3 5 -0.6 4 0 7 -0.6 4M112.3 1404l0.9 -3.2 -0.9 -4M112.3 1435.5l0.5 -5.7 -0.5 -2.8M115.2 1449.8l-1.1 -5 0 -4 -0.6 -3 0.8 -9 -0.7 -4 0 -8 -0.9 -8 0.3 -3 1.7 -6 -1.1 -6 0.8 -4 0.1 -3 1.1 -4 0.1 -3 0.6 -1.4 1 -0.8 1 0.4 3.3 4.8 0.4 3 1.3 4 0.8 7 -1 4 0.5 3 -0.3 3 1 4 -0.3 3 0.6 4 -1.2 6 -0.3 6 1.3 5 -1.5 5 0.8 6 -1 4M116.4 1449.8l-0.2 -2 -0.9 -3 0 -4 -0.9 -3 0.8 -10 -0.7 -5 -0.1 -8 0.7 -4 -0.9 -2 -0.4 -2 0.2 -2 1.8 -5 -0.6 -4 0.1 -2.1 0.4 -0.9 1.6 -1 0.7 -1 -0.1 -1 -1.6 -1 -0.8 -2 1.2 -3 0.6 -3.2 1 0.1 1.4 2.1 0 4 2.5 3 0.2 4 0.9 3 -1.6 4 0.7 6 1 4 -0.3 3 0.7 4 -1.2 5 -0.3 7 1.4 4 0 1 -1.5 3 -0.5 2 1.1 5 -1.5 5M117.3 1385.8l0 1.1zM117.8 1449.8l-0.2 -2 -1.4 -3 -0.2 -5 -0.9 -3 0.6 -3 -0.2 -2 0.4 -6 -1 -9 2.1 -7 -0.2 -1 -1.9 -2 -0.2 -2 2.3 -5 -0.5 -4 0.8 -1.5 2.5 -1.5 0.5 -2.1 0.6 1.1 -0.1 2 1.6 3 -0.3 1 -1.4 2 -0.2 1 2.1 10 -0.2 3 0.7 4 -1.3 5 0.1 7 1.3 4 -0.1 1 -1.8 3 -0.5 2 1.1 4 -0.1 2 -1.5 2 -0.7 2M119 1396.8l1.3 -0.3 0.5 0.3 -0.5 0.8 -1 0.3zM117.1 1401.8l1.2 -0.8 1 0.4 1 1.8 1.4 7.6 -0.1 3 1.1 4 -1.6 5 0.6 3 -0.1 5 1.2 3 -0.1 1 -2.6 4 0 2 1 4 -0.8 1.1 -1 0.2 -2 -1 -0.5 -1.3 0 -4 -1 -3 0.7 -3 -0.5 -3 0.7 -6 -1.2 -8 0.5 -2 1.7 -3 0.8 -3 -0.4 -1 -2.6 -2 -0.2 -1 0.8 -2zM117.3 1402.8l1 -0.2 1 0.7 0.4 1.5 -0.4 1.5 -2 -0.4 -1 -0.8 0 -1.3zM119.2 1411.8l0.1 -0.3 1 0.5 1.8 4.8 -0.1 2 -1.6 3 -0.2 1 1.1 3.3 -0.2 4.7 1.3 3 -0.2 1 -3.3 4 -0.2 1 0.6 0.7 1.1 3.3 -1.1 1.1 -1 -0.2 -1 -1.9 0.7 -3 -1.3 -3 0.6 -3 -0.7 -3 0.3 -3 0.8 -3 -1.8 -8 0.8 -2zM118.4 1413.8l0.9 -0.4 1 0.7 1 1.7 0.5 2 -0.5 1.5 -2 2.3 -1 0.4 -1.6 -3.2 -0.3 -2 0.9 -2zM119.1 1424.8l1.2 0.2 0.4 0.8 0.3 2 -0.3 3 1.2 3 -0.6 1.5 -2 1.5 -1 0.3 -1.2 -7.3 0.5 -3 0.7 -1.4zM118.2 1441.8l1.1 1.2 -1 0.2zM118.1 1414.8l1.2 -0.5 1 0.7 0.9 1.8 -0.2 2 -1.7 1.3 -1 -0.2 -1.4 -2.1 0.3 -2zM119.1 1425.8l1.2 0.2 0.3 0.8 -0.3 4 1.2 3 -0.4 1 -0.8 0.6 -1 0.1 -1.8 -5.7 0.6 -3zM117.8 1415.8l1.5 -0.8 1 0.8 0.5 2 -0.5 1.1 -1 0.4 -1.2 -0.5 -0.7 -1 -0.1 -1zM118.8 1426.8l0.5 -0.4 1 0.9 -0.7 3.5 0.1 1 1.1 2 -0.5 0.7 -1 -0.7 -0.4 -2 -0.7 -1 -0.2 -2zM118.7 1415.8l0.6 -0.1 1 1.1 0 1 -1 0.6 -1.2 -0.6 -0.2 -1zM118.9 1427.8l0.4 -0.6 0.4 0.6 -0.4 1.8 -0.5 -0.8z" fill="none" stroke="#1c1c1c" stroke-width="1.0"/>
<path d="M136.8 1441.8l1.5 -0.5 3 0.4 4 -0.6 6 0.3 4 -0.3 6 1 4 -0.9 6 -0.2 5 1.1 4 -0.6 4 1.8 3 -0.4 4 0.3 1 0.6 0 1 -1.5 1 -1.5 0.3 -5 -0.9 -5 1.2 -5 -0.4 -6 0.8 -5 -0.2 -4 -1 -6 1.3 -6 -0.7 -10 0.7 -6 -0.4 -1.4 -0.7 -0.8 -1 0.6 -1 4.6 -0.7zM209.2 1444.8l1.7 0zM224.7 1444.8l1.6 -0.5 3 0.5 -1.3 1 -1.7 0.4 -1.4 -0.4z" fill="#000" fill-opacity="0.85" stroke="none"/>
<path d="M135.9 1439.8l2.4 -0.7 13 0.5 5 -0.6 4 0.8 4 -0.5 8 0 4 0.4 17 0.2 5 1.6 3 1.9 8 -1 6 0.4 17 -0.4 10 1.3 1.2 1.1 -0.4 1 -1.8 1 -11 0.5 -4 0.7 -7 -0.8 -10 0.2 -8 -1.2 -8 1.8 -10 0.7 -8 -0.3 -12 0.2 -4 -0.7 -5 0.8 -6 -0.6 -4 0.6 -12 -0.1 -2 -0.4 -4 -1.9 -1.4 -1.5 -0.2 -1 0.6 -1.1 2 -1.3 6 -0.5zM136.6 1440.8l1.7 -0.5 3 0.4 5 -0.4 5 0.4 5 -0.5 5 0.8 4 -0.6 6 -0.2 5 0.8 4 -0.3 4 0.7 8 -0.1 1.5 0.5 1.2 1 1 1 0 1 -2.7 1.6 -4 0.7 -15 0 -4 0.5 -6 -0.1 -5 -0.9 -5 1.1 -7 -0.7 -3 0.6 -12 -0.1 -2 -0.5 -2 -1.2 -0.9 -1 0 -1 1.9 -1.2 4 -0.2zM206.8 1443.8l4.5 -0.3 3 0.7 3 0 3 0.6 5 -1.4 6 -0.1 3 0.5 1.6 1 -1.6 1.1 -4 0.3 -4 0.9 -2 -0.3 -4 -1.9 -3 1 -9 0.4 -1.8 -0.5 -1.6 -1zM136.4 1441.8l1.9 -0.7 3 0.4 4 -0.5 6 0.3 4 -0.4 6 1 4 -0.8 6 -0.2 5 1 4 -0.6 4 1.4 7 -0.1 1 0.3 0.7 0.9 0 1 -0.7 0.6 -3 0.9 -5 -0.5 -5 0.8 -5 -0.4 -6 0.8 -5 -0.2 -4 -1 -6 1.3 -6 -0.7 -10 0.7 -6 -0.4 -1.7 -0.9 -0.8 -1 0.5 -1.1 4 -0.5zM208.1 1444.8l2.2 -0.4 1.7 0.4 -1.7 0.7zM224.2 1444.8l2.1 -0.7 6.8 0.7 -3.8 0.5 -0.6 0.5 -2.4 0.6 -1.9 -0.6zM143.6 1441.8l11.7 -0.3 5 1.2 6 -1.2 5 -0.1 4 1.2 5 -0.7 1.9 0.9 0.7 1 -0.6 1 -1 0.7 -2 0.5 -5 -0.6 -4 1 -3 0.1 -4 -0.4 -4 -1.1 -4 1.3 -2 0.3 -6 -0.8 -10 0.7 -6 -0.5 -1.3 -1.2 0.3 -0.4 4 -0.8 3 -1.5 4 0.1zM187.3 1444.8l1 -0.7 1 0.1 0.9 0.6 -0.9 0.3zM167.9 1441.8l3.4 0 3 1.8 6 -1.1 0.7 0.3 0.6 1 -0.6 1 -1.7 0.6 -3 -0.3 -2 -1 -4 1.9 -5.3 -0.2 -3.1 -1 -0.7 -1 4.1 -1.7zM137.1 1442.8l1.2 -0.2 3 0.4 5 -1 9 0.1 2.7 0.7 0.9 1 -3.6 2 -2 0.3 -2 0.1 -4 -0.9 -3 0.3 -3 -0.4 -4 0.9 -1.9 -0.3 -2.3 -1 1.2 -0.3zM145.1 1442.8l9.2 -0.3 1.6 0.3 1 1 -1.6 1.3 -4 0.7 -4 -1 -4 -0.1 -1.1 -0.9zM164.7 1442.8l2.6 -0.6 3 0 1.7 0.6 0.3 1 -0.7 1 -1.3 0.7 -3 0.2 -3.4 -0.9 -0.4 -1zM136.4 1443.8l1.9 -0.4 1.1 0.4 -0.1 1 -2 0.6 -1 -0.2 -0.8 -0.4zM177.6 1443.8l1.7 -0.5 1.2 0.5 -1.2 1 -1 0zM165.9 1442.8l2.4 -0.4 2 0.2 0.6 0.2 0.6 1 -1.2 1.2 -3 0.3 -1.9 -0.5 -0.7 -1zM147.3 1443.8l1 -0.5 3 -0.3 3 0.3 1.1 0.5 -0.9 1 -3.2 0.5 -2.1 -0.5zM167.5 1442.8l2 0 1.2 1 -1.4 1.2 -2.7 -0.2 -0.9 -1zM149.4 1443.8l4 0 -1 1 -1.1 0.1zM166.6 1443.8l1.7 -0.5 1.6 0.5 -1.6 0.8z" fill="none" stroke="#1c1c1c" stroke-width="1.0"/>
<path d="M231.7 1363.5h.9M204.8 1344.1h.9M211.7 1341.6h.9M248.6 1368h.9M240.7 1362.1h.9M240.3 1357.3h.9M221.7 1346.7h.9M257.5 1355.8h.9M238.6 1372.6h.9M260.2 1355.8h.9M234.9 1341h.9M220.8 1345.9h.9M276.1 1362.1h.9M259.7 1356.4h.9M207.9 1371.9h.9M219.7 1351h.9M262.2 1356.6h.9M214.1 1350.7h.9M242.6 1338.1h.9M190.6 1364h.9M227.3 1348.8h.9M269.9 1370.1h.9M214.8 1358.6h.9M255.2 1370.9h.9M229.9 1346.3h.9M260.7 1346.7h.9M201.5 1355.8h.9M215.2 1367.2h.9M230.3 1368.1h.9M201.9 1363.7h.9M274 1339.9h.9M230.4 1350.7h.9M252.1 1359.2h.9M204 1353.1h.9M221.4 1352.4h.9M198.2 1360.6h.9M203.4 1340.7h.9M245.7 1354.4h.9M219.1 1337.6h.9M230.2 1352.1h.9M202.2 1367.6h.9M192.8 1358.6h.9M216.3 1347.3h.9M238.5 1339h.9M263.9 1340.7h.9M212 1363.2h.9M241.8 1346.5h.9M207.9 1349h.9M222.4 1339.3h.9M208.8 1359.7h.9M183.8 1360.8h.9M233.7 1365.2h.9M249.2 1366h.9M201.1 1352.6h.9M222.5 1364.3h.9M231.6 1350.8h.9M261.6 1363.1h.9M277.8 1342.2h.9M177.4 1355.9h.9M227 1366.7h.9M182.6 1364.6h.9M149 1372.9h.9M183.3 1371.1h.9M165.6 1366.5h.9M155.4 1372.9h.9M220.9 1361.9h.9M142.3 1365.7h.9M165.3 1373.7h.9M190.8 1355.3h.9M186.5 1367.1h.9M126 1379.8h.9M208.7 1378.7h.9M206.7 1356.2h.9M145.9 1371.7h.9M142.5 1358.8h.9M153.1 1353.9h.9M214.4 1359.7h.9M143.7 1373.6h.9M152.1 1361.3h.9M157.4 1372.9h.9M235.1 1363h.9M172.4 1360.8h.9M149.3 1376.9h.9M141.6 1367.1h.9M137.4 1383h.9M178 1363.1h.9M117.7 1377.9h.9M204.3 1367h.9M291 1416.6h.9M283.8 1424.5h.9M275.5 1436.4h.9M295.6 1419.3h.9M255.6 1383.7h.9M303 1389.9h.9M280.6 1436.9h.9M279.5 1426.4h.9M267.8 1389.1h.9M263.2 1439.8h.9M279.8 1416.6h.9M282.8 1405.8h.9M258 1380.9h.9M278.3 1420.1h.9M265.1 1435h.9" fill="none" stroke="#222" stroke-width="1.0"/>
</g>
<rect x="198.1" y="1305" width="101.6" height="70.3" fill="none" stroke="#000" stroke-width="2.2"/>
<rect x="198.1" y="1377.6" width="101.6" height="69.6" fill="none" stroke="#000" stroke-width="2.2"/>
<text x="278.4" y="1329.9" font-size="27.5" font-weight="bold" font-style="normal" text-anchor="middle">0.5</text>
<text x="277.7" y="1402.3" font-size="27.5" font-weight="bold" font-style="normal" text-anchor="middle">20</text>
<g clip-path="url(#cC11)">
<path d="M362 1385.8l7.2 -1 8 0.3 4 0.8 8 3.5 12 6.3 9 2.7 8 5.2 2 2.2 1.6 3 1.4 8 -0.5 5 -1.7 7 -1.2 2 -5.8 5 -2.8 1.3 -4 1.2 -8 1.9 -22 2.6 -12 3.2 -3 0 -5 -0.6 -9 0.5 -5 -0.6 -7 -1.8 -5 -2.2 -3 -1.9 -5.4 -4.6 -2.3 -3 -0.9 -2 -1.8 -8 -0.1 -4 1.1 -6 0.3 -8 0.7 -3 1.7 -4 4.7 -5.6 2 -1.5 2 -0.8 9 -1.8 12 0zM367.3 1388.8l7.9 0.1 5 1.1 8 4.3 8 5.8 10 4.2 2.5 1.5 3.8 5 1 3 -0.9 6 0.4 5 -0.4 2 -1.2 2 -1.2 1.1 -2 0.9 -15 2.7 -6 2.7 -22 4.4 -5 -0.1 -6 0.6 -12 -0.3 -3 -0.8 -4 -1.7 -3.9 -2.5 -5.4 -5 -1.6 -2 -1.7 -7 0 -3 0.9 -5 0.5 -6 1.5 -8 1.3 -3 1.4 -1.4 3 -1.8 8 -2.4 4 -0.1 11 1 9 -2.6zM363.4 1391.8l6.8 -0.9 7 0.7 2 0.7 6 3.2 3.4 2.3 4.6 5 3.6 3 2.4 3.7 3.4 3.3 0.7 2 0.2 3 -0.9 7 -0.5 1 -1 1 -2.9 1.3 -7 0.9 -6.2 3.8 -16.8 4.5 -8 -0.2 -6 1.4 -9 -0.2 -5 -1 -5.5 -2.5 -7.5 -6.9 -1 -1.9 -0.6 -2.2 0 -5 2.4 -11 0.3 -6 0.9 -2.5 1 -1.2 2 -1.4 5 -1.8 6 -0.7 7 0.8 3 -0.2zM368.6 1392.8l4.6 -0.2 4 0.8 8 4 2 1.5 1.7 1.9 1.6 3 2.5 8 2.2 3.3 2.8 2.7 0.5 1 -0.1 1 -0.6 1 -2.6 2.5 -6 1.2 -4.1 4.3 -2.9 1.9 -4 1.6 -10 3 -2 0.2 -6 -0.6 -7 1.5 -8 -0.5 -6 -1.1 -4 -2.1 -6.3 -6.9 -0.9 -2 -0.4 -2 0.9 -6 2.6 -8 0.1 -5 1 -1.9 3.1 -2.1 3.9 -1.5 4 -0.5 9 -0.1 9 -2.6zM366.8 1394.8l4.4 -1 4 0.5 8 3.7 3 2 1.5 1.8 0.8 2 1.1 7 2.1 5 0 2 -0.9 2 -8.6 7.7 -3.7 2.3 -11.3 3.9 -7 -0.3 -7 1.1 -6 -0.3 -7 -0.9 -2 -0.7 -2 -1.2 -2.4 -2.6 -2.6 -4 -1 -2 -0.3 -2 1.1 -7 4 -11 2.2 -1.9 3 -1.3 12 -1.5 8 -2.4zM368.2 1395.8l4 -0.8 3 0.5 8 3.9 2.8 2.4 1.1 2 0.4 2 0 5 2 5 -0.3 2 -1.3 2 -3.7 3.2 -8 5.5 -5 1.5 -5 2.2 -7 -0.1 -6 0.7 -5 -0.1 -9 -1.5 -3 -1.9 -1.8 -2.5 -1.6 -4 -0.3 -7 0.8 -4 4.4 -8 2.5 -1.7 13 -2.9 6 -2.1 6 -0.6zM369 1396.8l3.2 -0.5 4 0.8 7 3.7 2 2 1 3 -0.5 6 1.9 4 -0.4 2 -1.5 2 -2.5 1.9 -5 2.4 -4 3 -4 1.3 -3 1.8 -2 0.7 -7 0 -9 0.7 -10 -2.4 -2 -1.2 -1.6 -2.2 -0.7 -2 -0.8 -9 1.1 -3.5 4 -5.6 3 -1.9 7 -2.6 5 -1 5 -2 6 -0.5zM370.1 1397.8l4.1 -0.1 3 1 5.4 3.1 1.8 2 0.5 3 -1 5 1.5 4 0 1 -1 2 -1 1 -6.3 3 -3.9 2.5 -4 1.8 -3 1.9 -2 0.6 -7 0.1 -5 0.8 -3 0 -6 -2.3 -4 -1 -1.7 -1.4 -1.2 -3 -0.7 -7 0.2 -2 1.6 -3 3.8 -4.5 8 -3.8 6 -1.3 4 -1.9 6 -0.5zM365.8 1399.8l6.4 -0.7 4 0.4 4.4 2.3 2.3 2 0.5 1 0.2 2 -1 3 -0.2 2 1 5 -1.2 2 -16 8.5 -3 0.9 -7 0.5 -5 0.9 -2 -0.1 -1.9 -0.7 -3.1 -1.9 -4 -1.2 -1.3 -0.9 -0.7 -1 -0.6 -2 -0.6 -4 0.2 -3 1.4 -3 3.1 -4 1.5 -1.2 7 -3.3 5 -0.8 5 -2.3zM372.8 1400.8l2.4 -0.2 2 0.5 2.9 1.7 1.8 2 0.3 2 -0.9 4 0.6 5 -0.7 2 -1 1 -15 7.5 -9 1.2 -5 1.1 -3 -0.6 -3 -2.4 -4 -1.3 -1.8 -1.5 -1.2 -4 0 -2 0.4 -2 3.1 -5 2.5 -2.4 6 -3 5 -0.7 5 -2.4zM359.2 1402.8l3 -0.6 9 0.6 4 -0.8 2 0.4 2 1.2 1.1 1.2 0.5 2 -0.5 4 0.4 5 -1.1 2 -14.4 7.1 -9 1.3 -5 1.3 -2.7 -0.7 -3.3 -3.2 -4 -1.1 -1 -1.1 -0.7 -1.6 -0.3 -3 1.2 -3 3 -4 2.2 -2 3.6 -2 2 -0.7 4.4 -0.3zM359.6 1403.8l2.6 -0.5 9 1.3 4 -1.2 2 0.4 1 0.7 1.2 2.3 0.2 8 -0.4 1.6 -1 1.2 -9 4.4 -4 1.5 -7 0.5 -7 2.2 -1.5 -0.4 -3.5 -3.4 -4 -1.1 -1 -0.8 -1 -2.5 0.3 -2.2 1.7 -2.6 3.9 -4.4 4.1 -2.4 6 -0.6zM360 1404.8l1.2 -0.4 3 0.2 7 1.7 4 -1.3 2 0.6 1 2.2 0.2 6 -0.2 2 -0.9 1 -6.1 3.2 -3 1.1 -4 0.8 -5 0.1 -7 1.7 -2 -0.3 -3 -2.1 -5 -1.7 -0.9 -1.8 0.4 -2 6 -7 3.5 -1.6 5 -0.2zM360.6 1405.8l1.6 -0.3 4 0.5 5 2.2 1 0 3 -1 1 0.4 0.7 2.2 0.1 4 -0.8 2 -1.3 1 -3.7 2.1 -2 0.6 -4 -0.5 -11 2.5 -4 -0.5 -7 -2.5 -0.5 -1.7 0.4 -1 6.1 -6.6 2 -0.7 5 -0.3zM362.7 1406.8l2.5 0.2 2 0.6 4 2.8 2.9 1.4 0.3 2 -0.3 1 -1.9 2 -2 1 -1 0.1 -3 -1.1 -2 0 -6 2.4 -3 0.6 -7 -0.9 -3 -1.5 -0.4 -0.6 0.4 -1 4 -4.8 1 -0.6 5 -0.5 6 -2.8zM362.5 1408.8l2.7 -0.4 2 0.8 1.5 1.6 1 2 0.2 1 -0.3 1 -6.4 0.2 -5 2 -2 0.1 -0.7 -1.3 -0.3 -2 0.8 -2 1.3 -1zM349.9 1413.8l1.4 0 -0.1 1.7 -1 1.2 -1.4 0.1 -0.6 -1z" fill="none" stroke="#1c1c1c" stroke-width="0.9"/>
<path d="M311.4 1449.8l0.3 -5 -1.5 -7 1.2 -4 0.6 -5 -2.1 -5 2.1 -6 0.3 -2 -1.2 -5 0.7 -6 -1 -6 1.2 -10 2.2 -2.5 2 -0.7 1 0.6 0.7 2.6 0.6 6 -1.1 8 1.9 6 -1.5 8 0.6 6 -1.1 4 2.1 6 -1 4 0.2 7 -2 6" fill="#000" fill-opacity="0.7" stroke="none"/>
<path d="M309.2 1407.9l0.4 -4.1 -0.3 -12 0.6 -4 4.3 -8.3 1 -1.4 1 -0.3 3.4 7 0.8 9 -0.2 8 1.1 7 -1.4 9 0.3 5 -0.5 4 1.1 4 0.3 3 -0.5 10 -1.9 6M309.2 1420l0.5 -3.2 -0.5 -2.2M309.2 1434.5l0.9 -4.7 -0.9 -3.1M310.8 1449.8l0.3 -5 -1.5 -7 1.6 -6.2 0.2 -2.8 -2.1 -5 2.1 -7 -1.2 -5 0.8 -7 -0.6 -5 0.2 -7 0.3 -3 0.7 -2 2.6 -2.8 2 -0.9 1.3 0.7 0.8 2 0.8 8 -0.8 8 1.7 6 -1.5 8 0.5 6 -0.9 4 1.9 6 -0.7 4 0.1 6 -0.7 3 -1.5 4M311.6 1449.8l0.4 -5 -1.6 -7 1.2 -4 0.7 -5 -0.1 -1 -1.9 -3 -0.2 -1 2.2 -6 0.3 -2 -1.2 -5 0.7 -6 -1.2 -6 0.4 -5 1 -5 1.9 -2.1 2 -0.7 0.9 0.8 0.4 1 0.7 6 -1 10 1.8 5 -0.4 4 -1.1 4 0.7 6 -1.3 3 0 1 1.8 4 0.5 2 -1.2 5 0.3 6 -2 6M312.2 1449.8l0.4 -6 -1.6 -6 2.7 -10 -0.5 -1 -2 -1.8 -0.4 -1.2 3 -8 -1.4 -5 0.1 -2 0.8 -4 -1.7 -4 -0.3 -2 1.5 -9 0.6 -1 1.8 -1.3 1 0.2 0.5 1.1 0.8 4 -0.6 7 -1 4 2 5 0.2 2 -0.2 2 -1.3 4 1 5 -0.2 1 -2 3 -0.2 1 2.8 4 0.5 2 -1.5 5 0.2 7 -1.6 5M313.9 1389.8l1.3 -0.9 1 1.2 0.5 2.7 -0.3 7 -1.2 2.7 -1 0.5 -1 -0.4 -1 -1.4 -0.6 -2.4 0.6 -4zM313.7 1408.8l0.5 -0.9 1 0 1 0.5 1 1.4 0 3.2 -1 1.7 -1 0.5 -1 -0.9 -0.7 -1.5 -0.3 -2zM314.4 1417.8l0.8 -0.6 0.4 0.6 0.6 1 0.6 3 -0.6 1.5 -3 1.7 -1 -0.2 -0.4 -1 1.2 -4zM313.1 1449.8l-0.2 -2 0.4 -4 -1.7 -6 1.2 -4 0.5 -3 0.9 -1.6 1 -0.4 1 0.5 1 1.3 0.6 2.2 -1.8 6 -0.1 2 0.5 3 -0.2 2.6 -1.7 3.4M314.2 1391.8l1 -0.6 0.7 1.6 0.2 6 -0.4 2 -1.5 1.3 -1 -0.4 -0.7 -0.9 -0.6 -2 0.8 -4zM314.6 1409.8l0.6 -0.3 1 0.4 0.5 0.9 -0.2 2 -0.3 0.6 -1 0.3 -0.9 -0.9 -0.3 -1 0.2 -1.6zM314 1419.8l1.2 -0.6 0.7 1.6 0 1 -0.7 0.9 -1 0.3 -0.4 -0.2 -0.2 -1zM313.9 1430.8l1.3 -0.9 1 0.5 0.8 1.4 -2.8 10.5 -2.1 -4.5 1.4 -4zM314.7 1444.8l0.5 -0.7 0.1 2.7 -1.1 1.4 -0.3 -1.4 0.3 -1.6zM314.1 1393.8l0.4 0 0.6 1 0.7 4 -0.6 1.9 -1 0.7 -1.3 -0.6 -0.7 -2 1 -3.9zM315 1411.8l0.2 -0.7 0.5 0.7 -0.5 0.4zM314.3 1431.8l0.9 -0.9 0.9 0.9 -1 3 -0.5 3 -0.4 0.8 -1 0 -0.3 -1.8 1.1 -2zM313.7 1395.8l0.5 -0.4 1.2 3.4 -0.2 1.2 -1 0.9 -1 -0.3 -0.7 -1.8 0.7 -2.7zM313.6 1396.8l0.6 -0.3 0.9 2.3 -0.9 1.6 -1 -0.3 -0.4 -1.3 0.4 -1.8zM313.3 1397.8l0.9 -0.4 0.2 0.4 0.3 1 -0.5 1.1 -1 -0.6z" fill="none" stroke="#1c1c1c" stroke-width="1.0"/>
<path d="M338.4 1442.8l9.8 -0.6 3 0.3 8 -0.3 5 0.3 12 -0.2 6 1.8 1.1 0.7 0.2 1 -1.5 1 -3.8 0.5 -4 -0.5 -8 0.7 -4 0 -7 -0.9 -4 1 -3 0.2 -3 -0.2 -4 -1 -4 0 -3 0.6 -4 -0.7 -3 0.5 -1 -0.3 -1 -0.9 -0.3 -1 1.3 -1.3z" fill="#000" fill-opacity="0.85" stroke="none"/>
<path d="M345 1440.8l3.2 -0.3 3 0.3 7 -0.2 8 0.3 6 -0.3 5 0.3 8.3 1.9 1.4 1 0.5 1 -0.1 1 -0.5 1 -1.4 1 -3.2 0.8 -9 0 -9 0.7 -9 -0.6 -9 0.7 -7 -0.8 -5 0.6 -3.2 -0.4 -3.8 0.6 -3 -1.1 -2.9 -2.5 -0.5 -1 0.4 -1 2 -1.5 5 -1.2zM344.8 1441.8l3.4 -0.3 3 0.3 8 -0.3 5 0.4 12 -0.3 7 1.9 1.7 1.3 0.1 1 -0.7 1 -1.1 0.5 -5 0.6 -4 -0.3 -10 0.7 -9 -0.7 -5 0.8 -3 0.1 -7 -1 -6 0.6 -4 -0.4 -3 0.5 -2 -0.7 -1.6 -1.7 -0.4 -1 0.3 -1 1.7 -1.1 3 -0.5zM332.9 1442.8l15.3 -0.7 28 0.1 6 1.7 1.4 0.9 0.2 1 -1.6 1.1 -4 0.6 -4 -0.5 -10 0.7 -9 -0.9 -7 1.1 -3 -0.2 -4 -0.9 -4 0 -3 0.6 -4 -0.6 -3 0.4 -1 -0.2 -1.3 -1.2 -0.4 -1 0.6 -1 2.1 -0.7zM345.8 1442.8l13.4 -0.3 5 0.3 12 -0.2 5 1.4 1.3 0.8 0.3 1 -1.6 0.8 -3 0.5 -4 -0.7 -8 0.9 -5 -0.1 -6 -1.1 -6 1.4 -4 -0.2 -4 -1.1 -4 -0.1 -4 0.6 -3 -0.8 -3 0.3 -0.9 -0.4 -0.4 -1 1.3 -0.8 7 -0.8 3 0.2zM339.3 1443.8l8.9 -0.9 6 0.6 5 -0.6 12 0.5 5 -0.3 2 0.3 3 1.2 0.6 1.2 -3.6 0.9 -4 -0.8 -9 0.9 -5 -0.1 -5 -1.4 -1 0.1 -3 1.5 -3 0.3 -3 -0.4 -3 -1.2 -3 -0.2 -2 -0.6 -1 0.2 -2 1.1 -1.8 -0.3 -1 -1 1.8 -0.8 1 -0.1 3 0.9zM345.1 1443.8l4.1 -0.5 2.6 0.5 1.4 1 -0.8 1 -2.2 1 -3 0 -3.2 -1 -0.8 -1zM357.1 1443.8l3.1 -0.6 7 0.2 6 1.1 1.4 -0.7 2.6 -0.2 3.3 1.2 0.1 1 -3.4 0.5 -4 -1.3 -2.4 0.8 -3.6 0.6 -6 0 -2.8 -0.6 -1.7 -1zM346.7 1443.8l3.2 0 2.1 1 -0.5 1 -1.3 0.6 -3 0.1 -2.1 -0.7 -0.5 -1zM358.9 1443.8l8.3 0 2.2 1 -2.2 1.2 -6 0 -1.5 -0.2 -1.6 -1zM375.5 1444.8l1.7 -0.7 2.3 0.7 -0.2 1 -1.1 0.2 -1.4 -0.2zM345.6 1444.8l2.6 -0.8 2.9 0.8 -0.4 1 -2.5 0.5 -2 -0.5zM359.2 1444.8l1 -0.6 1 -0.1 3 0.5 2 -0.3 1.7 0.5 -1.7 0.8 -2 -0.5 -3 0.5zM377 1444.8l1.1 0zM346.7 1444.8l1.5 -0.4 1.9 0.4 -0.3 1 -1.6 0.2 -0.9 -0.2zM361 1444.8l0.4 0z" fill="none" stroke="#1c1c1c" stroke-width="1.0"/>
<path d="M440.9 1342.5h.9M409.2 1345.2h.9M440.3 1340.4h.9M409.1 1336h.9M407.9 1325.2h.9M474.2 1352h.9M425.9 1335h.9M425.5 1341.5h.9M423.9 1343h.9M410.9 1334.9h.9M426 1357.5h.9M468.9 1353.2h.9M433.5 1344.9h.9M433.9 1365.6h.9M387.7 1337.6h.9M425.6 1344.6h.9M427.9 1376.8h.9M428 1356.5h.9M474.1 1353.6h.9M423.5 1324.3h.9M444.7 1357.3h.9M451.8 1340h.9M413 1373h.9M407.5 1350.6h.9M452.9 1351.9h.9M428.7 1377.1h.9M412.7 1360.7h.9M412.2 1338.9h.9M419 1347.2h.9M443.2 1356.1h.9M435.9 1360.2h.9M402.9 1354.3h.9M429.1 1328.5h.9M436 1354.7h.9M433.4 1344.3h.9M408.1 1361.7h.9M435.7 1369.9h.9M376.7 1351.7h.9M457.2 1351h.9M449.9 1332.3h.9M431.7 1404.4h.9M471.3 1416.9h.9M439.4 1383.6h.9M427.3 1401.8h.9M455 1429.9h.9M456.2 1410.8h.9M451.9 1405.7h.9M426.2 1407.9h.9M482.4 1425.2h.9M475 1442.8h.9M434.9 1418.1h.9M464.6 1416.1h.9M481.2 1439.9h.9M397.9 1443.9h.9M423.8 1417h.9M415.4 1394.6h.9M458.4 1382.5h.9M392.9 1391.3h.9M455.1 1426.7h.9M422 1400.7h.9M495.4 1406.4h.9M414 1400.5h.9M446.3 1389h.9M451.7 1389.7h.9M438.2 1420.2h.9M424.4 1414.8h.9M397.4 1444.9h.9M441.5 1399.5h.9M467.8 1414.3h.9M453.7 1411.9h.9M442.1 1406.5h.9M419 1443.2h.9M439 1406.6h.9M450.9 1407.1h.9M437.3 1409.7h.9M462.4 1383.4h.9M400.9 1383.1h.9M419 1392.2h.9M443.1 1432.8h.9M437.9 1394.9h.9M445.4 1419.8h.9M428 1418.5h.9M433.3 1438.8h.9M429.4 1403.7h.9M469.7 1408h.9M497.8 1429.8h.9M417.2 1401.5h.9M442.8 1424.7h.9M440.2 1431.8h.9M487.9 1415.4h.9M428.6 1427.1h.9M449.2 1422.9h.9M443.5 1423.4h.9M423.3 1415.2h.9M490 1444.3h.9M460.6 1407.3h.9M446.8 1393h.9M426.3 1403.2h.9M450 1423.5h.9M433.8 1392.2h.9M446.7 1403.2h.9M331.5 1381.4h.9M366.8 1382.8h.9M399.5 1374.2h.9M375.1 1373.8h.9M355.1 1365h.9M359.6 1370.2h.9M365.4 1373.2h.9M384.1 1369.9h.9M374 1370.1h.9M405.1 1382.6h.9M395.2 1372.1h.9M333.4 1382.4h.9M392.6 1370.5h.9M362.4 1375.5h.9M371.3 1365.4h.9M371.5 1372.4h.9M376.7 1368.4h.9M447.3 1377.3h.9M355.6 1373.9h.9M343.8 1378.4h.9M363.4 1369.1h.9M432.1 1367.9h.9M347.2 1386.8h.9M317.5 1382.9h.9M376.8 1369.4h.9M367.5 1365.6h.9M371 1378.9h.9M339.6 1384.1h.9M383.6 1373h.9M395 1376.7h.9" fill="none" stroke="#222" stroke-width="1.0"/>
</g>
<rect x="392.2" y="1306.3" width="102.4" height="69.2" fill="none" stroke="#000" stroke-width="2.2"/>
<rect x="392.2" y="1378" width="102.4" height="69.2" fill="none" stroke="#000" stroke-width="2.2"/>
<text x="457.5" y="1330.4" font-size="27.5" font-weight="bold" font-style="normal" text-anchor="middle">0.2</text>
<text x="457.5" y="1403.1" font-size="27.5" font-weight="bold" font-style="normal" text-anchor="middle">8.5</text>
<rect x="112.3" y="1060.4" width="194.2" height="193.4" fill="none" stroke="#3a3a3a" stroke-width="1.0"/>
<rect x="309.2" y="1060.4" width="191.7" height="193.4" fill="none" stroke="#3a3a3a" stroke-width="1.0"/>
<rect x="112.3" y="1257.8" width="194.2" height="191.7" fill="none" stroke="#3a3a3a" stroke-width="1.0"/>
<rect x="309.2" y="1257.8" width="191.7" height="191.7" fill="none" stroke="#3a3a3a" stroke-width="1.0"/>
</svg></body></html>
